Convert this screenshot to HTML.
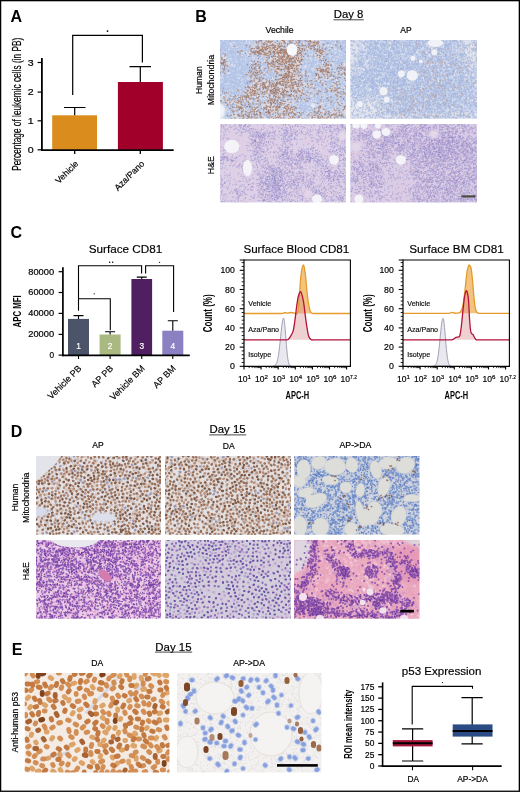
<!DOCTYPE html>
<html><head><meta charset="utf-8"><style>
html,body{margin:0;padding:0;background:#fff;}
svg{display:block;will-change:transform;}
text{font-family:"Liberation Sans", sans-serif;}
</style></head><body>
<svg width="520" height="792" viewBox="0 0 520 792">
<defs><filter id="bl1" x="-50%" y="-50%" width="200%" height="200%"><feGaussianBlur stdDeviation="1"/></filter><filter id="bl2" x="-50%" y="-50%" width="200%" height="200%"><feGaussianBlur stdDeviation="2"/></filter><filter id="bl4" x="-50%" y="-50%" width="200%" height="200%"><feGaussianBlur stdDeviation="4"/></filter><filter id="bl6" x="-50%" y="-50%" width="200%" height="200%"><feGaussianBlur stdDeviation="6"/></filter><filter id="bl0" x="-50%" y="-50%" width="200%" height="200%"><feGaussianBlur stdDeviation="0.4"/></filter><clipPath id="cB1"><rect x="220" y="40" width="126" height="78.7"/></clipPath><filter id="fbB1" x="215" y="35" width="136" height="88.7" filterUnits="userSpaceOnUse"><feGaussianBlur stdDeviation="0.45"/></filter><clipPath id="cB2"><rect x="350.3" y="40" width="126.7" height="78.7"/></clipPath><filter id="fbB2" x="345.3" y="35" width="136.7" height="88.7" filterUnits="userSpaceOnUse"><feGaussianBlur stdDeviation="0.45"/></filter><clipPath id="cB3"><rect x="220" y="124" width="126" height="78.5"/></clipPath><filter id="fbB3" x="215" y="119" width="136" height="88.5" filterUnits="userSpaceOnUse"><feGaussianBlur stdDeviation="0.45"/></filter><clipPath id="cB4"><rect x="350.3" y="124" width="126.7" height="78.5"/></clipPath><filter id="fbB4" x="345.3" y="119" width="136.7" height="88.5" filterUnits="userSpaceOnUse"><feGaussianBlur stdDeviation="0.45"/></filter><clipPath id="cD1"><rect x="36" y="456" width="125" height="78.7"/></clipPath><filter id="fbD1" x="31" y="451" width="135" height="88.7" filterUnits="userSpaceOnUse"><feGaussianBlur stdDeviation="0.55"/></filter><clipPath id="cD2"><rect x="165" y="456" width="126" height="78.7"/></clipPath><filter id="fbD2" x="160" y="451" width="136" height="88.7" filterUnits="userSpaceOnUse"><feGaussianBlur stdDeviation="0.55"/></filter><clipPath id="cD3"><rect x="294" y="456" width="125.6" height="78.7"/></clipPath><filter id="fbD3" x="289" y="451" width="135.6" height="88.7" filterUnits="userSpaceOnUse"><feGaussianBlur stdDeviation="0.45"/></filter><clipPath id="cD4"><rect x="36" y="540" width="125" height="78.7"/></clipPath><filter id="fbD4" x="31" y="535" width="135" height="88.7" filterUnits="userSpaceOnUse"><feGaussianBlur stdDeviation="0.45"/></filter><clipPath id="cD5"><rect x="165" y="540" width="126" height="78.7"/></clipPath><filter id="fbD5" x="160" y="535" width="136" height="88.7" filterUnits="userSpaceOnUse"><feGaussianBlur stdDeviation="0.5"/></filter><clipPath id="cD6"><rect x="294" y="540" width="125.6" height="78.7"/></clipPath><filter id="fbD6" x="289" y="535" width="135.6" height="88.7" filterUnits="userSpaceOnUse"><feGaussianBlur stdDeviation="0.5"/></filter><clipPath id="cE1"><rect x="24.7" y="673" width="144.8" height="99.5"/></clipPath><filter id="fbE1" x="19.7" y="668" width="154.8" height="109.5" filterUnits="userSpaceOnUse"><feGaussianBlur stdDeviation="0.5"/></filter><clipPath id="cE2"><rect x="177" y="673" width="144.5" height="99.5"/></clipPath><filter id="fbE2" x="172" y="668" width="154.5" height="109.5" filterUnits="userSpaceOnUse"><feGaussianBlur stdDeviation="0.45"/></filter></defs>
<rect x="0" y="0" width="520" height="792" fill="#fff"/>
<g clip-path="url(#cB1)"><g filter="url(#fbB1)"><rect x="217" y="37" width="132" height="84.7" fill="#CAD6EE"/><path transform="translate(220 40) scale(.5)" d="M14 5h0m11 1h0m0 0h0m2 0h0m1 0h0m1 0h0m10-4h0m2 4h0m3-2h0m1-2h0m7 5h0m1-6h0m0 2h0m1 3h0m3-4h0m7 0h0m5 1h0m6-1h0m2 5h0m9-7h0m13 0h0m33 4h0m30 0h0m34 0h0m3-1h0m4 0h0m3 1h0m6 3h0m1-4h0m8-1h0m2-1h0m6 5h0m1-6h0m2 4h0m0 3h0m8-7h0m1 4h0m8-2h0m-241 11h0m2-3h0m3 5h0m2-2h0m3-5h0m2 6h0m1-5h0m0 4h0m4-4h0m0 6h0m1-3h0m4 0h0m0 3h0m2-5h0m1 4h0m2 1h0m6-7h0m4 2h0m0 5h0m2-4h0m10-1h0m0 0h0m0 2h0m3 3h0m18-4h0m18 3h0m8-5h0m3 3h0m9-2h0m20 1h0m2 1h0m9 3h0m12-7h0m5 1h0m2-1h0m4 7h0m4 0h0m19-6h0m14 4h0m1 2h0m3-3h0m6-2h0m2 1h0m3-3h0m1 3h0m6-3h0m8 5h0m1-2h0m1 3h0m5-5h0m0 4h0m7-2h0m-248 12h0m1-6h0m3 0h0m2 1h0m6 3h0m3-1h0m0 2h0m4-4h0m5 4h0m2-3h0m5 2h0m4 2h0m5-1h0m2-5h0m3 1h0m0 1h0m8-3h0m4 6h0m4-3h0m8-1h0m46 2h0m43-2h0m0 5h0m2-7h0m17 3h0m28 4h0m11-5h0m5 3h0m0 0h0m6 0h0m2-1h0m4 0h0m4 3h0m8-4h0m-243 7h0m3-1h0m1 1h0m6 2h0m5 1h0m7 0h0m10-1h0m3-3h0m4-1h0m1 0h0m2 4h0m4 2h0m2 0h0m2 1h0m1-2h0m0 2h0m1-6h0m6 3h0m4 1h0m10 0h0m7-2h0m12 1h0m6 3h0m6-6h0m9 4h0m11-1h0m30 3h0m3-5h0m11 4h0m1 0h0m5-2h0m0 0h0m1 3h0m1-3h0m0 1h0m4 2h0m6-1h0m20-5h0m5 3h0m3 1h0m2-1h0m3-2h0m0 5h0m7-6h0m5-1h0m11 0h0m0 7h0m-236 3h0m0 3h0m10-2h0m1 0h0m0 1h0m2-3h0m7 2h0m5-3h0m11 5h0m1 0h0m1 1h0m2-1h0m2-5h0m5 3h0m1 3h0m1-3h0m6-1h0m4 2h0m30 2h0m16-6h0m5 2h0m2 1h0m30 3h0m7-2h0m1 0h0m9 0h0m2-4h0m5 5h0m2-3h0m2 3h0m2-2h0m3 3h0m3 1h0m4-1h0m7-1h0m4-3h0m12-1h0m2-1h0m3 1h0m5 6h0m5-4h0m2-1h0m4-1h0m7 2h0m1-3h0m0 6h0m1-5h0m4 0h0m0 2h0m-243 12h0m5-1h0m6 0h0m15-4h0m10 5h0m1-7h0m1 1h0m7 5h0m1-2h0m2-3h0m3 5h0m1-6h0m5 6h0m11-6h0m1 7h0m7-7h0m1 7h0m9-6h0m3 1h0m47 4h0m7-5h0m26 4h0m5-3h0m3-1h0m0 1h0m0 2h0m9-2h0m3-1h0m0 5h0m11-3h0m16 1h0m4 2h0m1-6h0m8 0h0m7 6h0m6-5h0m1 5h0m1-6h0m-248 15h0m14 0h0m7-6h0m0 3h0m3-2h0m4 0h0m0 1h0m0 1h0m5-4h0m6 7h0m4-7h0m2 7h0m2-2h0m5 2h0m9-5h0m12 1h0m3-2h0m5 0h0m2 6h0m9-3h0m69 3h0m7-2h0m8-3h0m8-2h0m1 7h0m18-7h0m3 6h0m19-4h0m1 1h0m6 2h0m16-4h0m-249 14h0m5-1h0m5-1h0m7 1h0m1-5h0m3 0h0m10 6h0m4-1h0m3-1h0m2-5h0m2 0h0m6 3h0m4-1h0m4-1h0m0 4h0m7 2h0m1 0h0m9-3h0m3 2h0m7-5h0m8 1h0m16 4h0m6-3h0m13 3h0m27-6h0m3 5h0m0 0h0m4-5h0m23 0h0m2 1h0m6 6h0m2-5h0m22 1h0m1 4h0m5-7h0m25 7h0m3-4h0m0 3h0m-246 9h0m0 0h0m4-3h0m1-2h0m3 0h0m3-1h0m1-1h0m0 2h0m3 1h0m1 0h0m3-3h0m12 5h0m1-5h0m7 7h0m8-4h0m8 4h0m25-6h0m2 4h0m2-1h0m2 0h0m3 0h0m1-3h0m1 5h0m9-6h0m0 1h0m8 0h0m32-1h0m5 1h0m3 1h0m1 2h0m15-2h0m0 2h0m7-2h0m6 2h0m22-2h0m9 5h0m20-4h0m3-3h0m6 7h0m2-6h0m4 6h0m-247 7h0m3-4h0m0 1h0m0 4h0m4-3h0m0 2h0m7-3h0m3-2h0m1 1h0m5 4h0m3-1h0m3-5h0m6 5h0m1-5h0m3 4h0m6 3h0m9-5h0m14 0h0m11 2h0m2-2h0m13 1h0m11 1h0m10 1h0m17 0h0m10-5h0m10 3h0m2-2h0m13-1h0m1 0h0m13 6h0m8-1h0m3-2h0m20 4h0m1-6h0m3 6h0m7-6h0m1 3h0m5-1h0m5 4h0m-234 7h0m0 0h0m1 1h0m3-5h0m0 1h0m1 2h0m11 1h0m1-2h0m1-2h0m3 3h0m11-5h0m10 0h0m3 6h0m1-4h0m1-1h0m0 2h0m23 3h0m1 1h0m19-2h0m14-3h0m5 3h0m47-5h0m12 6h0m4 0h0m3-5h0m0 2h0m4-2h0m2 2h0m13-3h0m0 2h0m3 0h0m2 3h0m1-4h0m5 3h0m3 0h0m9 0h0m11 2h0m4-5h0m8-1h0m4 1h0m7 2h0m-247 10h0m3 2h0m0 0h0m2-2h0m2 1h0m8 0h0m2-5h0m2 3h0m0 0h0m3-3h0m12 5h0m2-5h0m5-1h0m24 4h0m13-3h0m7 2h0m1 1h0m14 1h0m4-2h0m19-2h0m0 6h0m3-5h0m4 2h0m40-2h0m0 2h0m10-1h0m3 4h0m1-4h0m0 4h0m2-4h0m8-3h0m2 7h0m2-6h0m0 6h0m3-5h0m4-1h0m2 4h0m8-3h0m27 5h0m1-2h0m-237 9h0m13-5h0m3 3h0m4-2h0m7 2h0m14 0h0m1-2h0m1 3h0m6-1h0m6-3h0m2 2h0m3 2h0m3-2h0m9 2h0m5 2h0m3-5h0m3 3h0m1 2h0m13-5h0m31-2h0m19 4h0m4-2h0m4-1h0m1 1h0m7 1h0m9 4h0m2-6h0m0 6h0m10-1h0m1-2h0m2 0h0m4-2h0m8 5h0m26-5h0m13-2h0m0 2h0m2 2h0m0 3h0m-245 7h0m2 0h0m6 1h0m2-6h0m1 0h0m2 4h0m8 2h0m8 0h0m35-5h0m4-1h0m6 6h0m6-4h0m2 4h0m4-3h0m1 1h0m63-5h0m20 2h0m5-1h0m2 0h0m1 0h0m0 1h0m4-2h0m4 0h0m4 5h0m13-1h0m1 0h0m2 1h0m11-1h0m3-4h0m6 2h0m1 2h0m2-3h0m4 0h0m9 3h0m-245 11h0m10-7h0m0 7h0m12-4h0m3 2h0m16-3h0m5 1h0m4 3h0m12 1h0m6-4h0m2 4h0m2-5h0m1 2h0m9 1h0m5 2h0m3-4h0m3-3h0m4 5h0m4-3h0m29 5h0m12-2h0m4-3h0m7 5h0m14-2h0m7-2h0m6-3h0m4 4h0m6-2h0m8 2h0m14 3h0m5-7h0m1 0h0m1 3h0m3 3h0m11-4h0m0 5h0m4-2h0m11-1h0m-246 4h0m3 7h0m7-7h0m19 3h0m26-1h0m4 1h0m0 3h0m3 0h0m7-6h0m1 2h0m1-2h0m14 6h0m29 0h0m20-5h0m14-1h0m3 3h0m2-2h0m2 2h0m2 3h0m5-3h0m6 4h0m7-1h0m2-4h0m1 2h0m2-2h0m4-1h0m2 1h0m3-2h0m5 5h0m6 1h0m12-6h0m23 6h0m10-1h0m1 1h0m-238 6h0m4-2h0m28 4h0m9 1h0m22-5h0m9 0h0m14 0h0m13 2h0m24-4h0m10 3h0m5-2h0m16-1h0m7 0h0m3 4h0m2-4h0m0 2h0m8 4h0m7-5h0m13 6h0m1-3h0m3 3h0m1-3h0m7-1h0m2 3h0m6-6h0m3 1h0m0 2h0m2 0h0m6 1h0m4 1h0m2-3h0m9-1h0m-247 8h0m3 0h0m0 4h0m1-1h0m7 1h0m3 2h0m2-4h0m3-1h0m16 5h0m2-3h0m31 1h0m12-3h0m50-2h0m8 6h0m4 1h0m8-1h0m6-2h0m3 3h0m4-7h0m7 0h0m2 1h0m1 1h0m0 5h0m9-7h0m12 4h0m1 3h0m9-5h0m4 4h0m2-3h0m11-1h0m1-1h0m3 2h0m3 2h0m1 2h0m4-2h0m3-1h0m-230 6h0m5-2h0m0 6h0m9-1h0m1-4h0m19 5h0m9-2h0m15 0h0m2-4h0m22 6h0m2-1h0m10-5h0m14 7h0m1-1h0m11 0h0m4 0h0m2-2h0m4-3h0m1 3h0m7-4h0m7 2h0m1 4h0m13-4h0m1 3h0m2-1h0m5-4h0m1 6h0m3 0h0m28-1h0m6-2h0m6-2h0m4 4h0m22-5h0m2 2h0m-250 6h0m10 0h0m1 3h0m32 1h0m12-3h0m25 4h0m10 0h0m10-1h0m2-4h0m16 1h0m2 0h0m18 0h0m23 3h0m1-3h0m8-1h0m1 1h0m6-1h0m22 2h0m10-2h0m7 3h0m10 0h0m4-3h0m5 4h0m3-2h0" stroke="#E4EAF6" stroke-opacity="0.7" stroke-width="3.6" stroke-linecap="round" fill="none"/><path transform="translate(220 40) scale(.5)" d="M1 1h0m1 1h0m1 1h0m1 0h0m0 1h0m2-3h0m0 0h0m0 6h0m1-6h0m0 3h0m0 1h0m2-5h0m0 6h0m1-4h0m0 3h0m1 2h0m1 0h0m1-5h0m0 1h0m1-3h0m0 4h0m2 3h0m2-7h0m0 3h0m0 2h0m2-5h0m0 1h0m0 2h0m1-2h0m2 2h0m2 1h0m1-3h0m1 6h0m2-6h0m0 2h0m2 1h0m1 1h0m1-4h0m1 1h0m1-1h0m0 2h0m1-2h0m0 1h0m1-1h0m1 4h0m1-3h0m1 1h0m0 0h0m1 3h0m1-6h0m0 3h0m1-3h0m0 2h0m1 1h0m1 1h0m2-2h0m1 2h0m0 1h0m1-4h0m0 1h0m2 1h0m2 4h0m0 0h0m0 0h0m1-1h0m0 0h0m0 0h0m1-5h0m1 2h0m1-3h0m4 2h0m3 1h0m0 1h0m1-4h0m2 3h0m1-2h0m0 4h0m1 2h0m1-1h0m1-5h0m0 3h0m2-1h0m1-1h0m0 4h0m3-4h0m0 4h0m1-4h0m1 0h0m1-2h0m2 2h0m1-2h0m1 5h0m3-5h0m1 5h0m4-4h0m1-1h0m0 7h0m3-3h0m1 0h0m3-3h0m3 1h0m0 1h0m1 0h0m0 0h0m5 2h0m0 1h0m1-2h0m0 3h0m0 0h0m1-2h0m10-2h0m0 4h0m1-6h0m1 5h0m6-4h0m1 1h0m0 1h0m0 0h0m2 2h0m5-5h0m0 6h0m1-5h0m5 4h0m0 1h0m0 0h0m2-3h0m0 3h0m2-4h0m3-3h0m1 0h0m0 7h0m4-6h0m1-1h0m1 1h0m0 1h0m0 4h0m1-1h0m3-4h0m0 0h0m0 2h0m0 1h0m0 1h0m0 2h0m1-6h0m0 4h0m1-1h0m1-1h0m0 1h0m1-3h0m2-1h0m2 1h0m0 3h0m2 3h0m1-5h0m0 1h0m4 1h0m0 3h0m1 0h0m7-3h0m1 0h0m1 1h0m9-2h0m2 2h0m1-1h0m0 3h0m1-3h0m2-3h0m1 0h0m2 0h0m1 5h0m0 1h0m2-5h0m2 5h0m1-6h0m1 4h0m1-5h0m0 0h0m1 2h0m0 0h0m0 1h0m0 3h0m1-2h0m1 1h0m0 2h0m3-6h0m0 0h0m1 4h0m0 2h0m1 0h0m0 0h0m1-3h0m0 1h0m1 2h0m1-5h0m0 3h0m0 1h0m1-6h0m0 5h0m2-2h0m0 1h0m1-1h0m0 0h0m1 4h0m1-3h0m1-4h0m3 1h0m0 0h0m1 6h0m1-6h0m1 1h0m1 4h0m2-6h0m0 2h0m0 0h0m0 3h0m1-3h0m0 4h0m1-1h0m0 1h0m1-5h0m2 4h0m0 2h0m0 0h0m1-5h0m0 0h0m0 2h0m0 2h0m0 1h0m0 0h0m3-5h0m0 2h0m0 2h0m0 1h0m1-6h0m1 3h0m1-3h0m1 4h0m0 2h0m0 0h0m-250 4h0m0 4h0m1-7h0m0 1h0m0 1h0m0 3h0m1-4h0m0 4h0m0 1h0m2-4h0m0 3h0m0 1h0m2-6h0m1 4h0m1-4h0m0 0h0m0 1h0m0 4h0m0 1h0m1-6h0m0 1h0m1 3h0m1-4h0m0 3h0m1 1h0m0 1h0m0 2h0m1 0h0m0 0h0m1 0h0m1-5h0m0 0h0m0 1h0m0 1h0m0 2h0m2-4h0m1 2h0m0 1h0m1 2h0m4-7h0m0 5h0m1-5h0m2 3h0m0 3h0m2-4h0m0 3h0m1-5h0m0 0h0m0 6h0m1-6h0m0 5h0m2-1h0m1-4h0m0 0h0m0 2h0m1 0h0m1 1h0m1-3h0m1 7h0m1-6h0m1 2h0m1-2h0m2-1h0m0 1h0m0 6h0m0 0h0m1-2h0m0 2h0m1-6h0m0 1h0m0 3h0m1-4h0m2 0h0m1 3h0m1-3h0m1 2h0m0 2h0m0 1h0m1-4h0m1-1h0m0 2h0m0 3h0m1-5h0m0 6h0m2-5h0m1 1h0m0 3h0m1-6h0m0 6h0m1-3h0m1 3h0m1-5h0m0 3h0m1-4h0m0 3h0m1 2h0m0 1h0m2-4h0m1-1h0m0 4h0m3 1h0m1-1h0m2 0h0m0 1h0m1-4h0m1 4h0m1-4h0m2-1h0m0 1h0m0 1h0m1 4h0m2-7h0m0 3h0m2 3h0m5-5h0m3 5h0m2-5h0m1 4h0m7 0h0m0 0h0m1-4h0m0 2h0m0 4h0m1-3h0m1-2h0m1 2h0m0 3h0m1-6h0m1 2h0m2-2h0m2 1h0m0 4h0m1-4h0m1-1h0m0 5h0m2 0h0m5-2h0m1-3h0m1-1h0m1 3h0m5 3h0m1-3h0m1 1h0m1-4h0m1 5h0m3-5h0m0 2h0m2 2h0m4-4h0m0 3h0m1 0h0m1 4h0m1-7h0m0 5h0m0 2h0m3-5h0m2 3h0m0 1h0m0 1h0m4 0h0m3-1h0m1-5h0m0 6h0m1-1h0m1-2h0m1 0h0m1-1h0m1 1h0m0 0h0m2 0h0m0 1h0m1-2h0m2 1h0m0 3h0m3-5h0m0 3h0m0 1h0m2-6h0m0 1h0m1 2h0m2 0h0m1-1h0m0 3h0m0 1h0m0 1h0m1-4h0m2 2h0m1 1h0m5 0h0m2-5h0m2 5h0m0 1h0m3-3h0m2-2h0m1-2h0m0 3h0m1-1h0m3-1h0m0 0h0m1 5h0m5-6h0m1 0h0m2 1h0m1-1h0m0 3h0m3-3h0m0 1h0m1 5h0m2-6h0m3 7h0m1-7h0m1 2h0m0 4h0m2-6h0m3 0h0m0 6h0m1-4h0m0 5h0m2-6h0m3 0h0m0 2h0m0 0h0m1-2h0m0 3h0m1-3h0m0 4h0m2-2h0m0 3h0m0 1h0m0 0h0m2-5h0m0 1h0m0 1h0m0 1h0m1-1h0m1 1h0m0 2h0m2-6h0m0 1h0m1 2h0m0 1h0m2-2h0m1-3h0m0 1h0m0 4h0m0 1h0m1 0h0m3-1h0m2 1h0m1-4h0m0 2h0m-252 8h0m0 1h0m0 1h0m0 0h0m1-4h0m0 2h0m0 1h0m0 1h0m2-5h0m0 0h0m0 2h0m0 2h0m1-4h0m0 1h0m1 5h0m0 0h0m1-7h0m0 1h0m0 2h0m1-2h0m0 1h0m1-2h0m0 1h0m0 0h0m1-1h0m0 0h0m0 1h0m0 3h0m0 2h0m1-5h0m0 2h0m0 0h0m1-2h0m0 0h0m0 3h0m1 1h0m1-3h0m0 0h0m0 2h0m1-4h0m0 0h0m1 1h0m0 4h0m1 0h0m1 2h0m1-1h0m1 1h0m1-6h0m0 4h0m1-3h0m0 4h0m2-5h0m0 1h0m0 3h0m1 0h0m2-4h0m0 2h0m1 0h0m0 1h0m0 3h0m1 0h0m1-6h0m1 5h0m1-3h0m1 4h0m1-6h0m1 0h0m1 4h0m0 1h0m1-6h0m0 4h0m1 3h0m0 0h0m1-7h0m0 5h0m0 1h0m3-6h0m0 5h0m2 1h0m1-4h0m0 4h0m0 1h0m1-6h0m1 2h0m0 4h0m3-6h0m0 4h0m0 0h0m1-5h0m0 3h0m0 3h0m1-5h0m0 0h0m0 4h0m1-1h0m1-4h0m2 7h0m1-3h0m1-2h0m0 1h0m0 4h0m2-6h0m0 3h0m0 2h0m2 0h0m1-3h0m0 4h0m2-5h0m0 5h0m1-6h0m1 1h0m0 0h0m4-2h0m0 7h0m1-7h0m3 0h0m0 3h0m1-2h0m1 1h0m0 2h0m2-3h0m0 4h0m1-1h0m4-4h0m0 1h0m2 5h0m5-6h0m0 1h0m1 4h0m2-1h0m0 3h0m2-5h0m2-2h0m1 2h0m1 0h0m0 2h0m3 3h0m1-1h0m1-3h0m2 2h0m3-2h0m1-3h0m2 4h0m2 0h0m8-3h0m3-1h0m0 7h0m10-1h0m6-1h0m2-2h0m1 2h0m1-1h0m0 3h0m1-3h0m2 3h0m6-2h0m3 0h0m2-4h0m2 3h0m2 3h0m1-6h0m0 5h0m2-3h0m1-3h0m1 0h0m0 6h0m1-1h0m1-1h0m1-3h0m0 2h0m1-1h0m0 2h0m2 0h0m5-4h0m1 4h0m4-4h0m0 2h0m0 3h0m0 1h0m2-6h0m2 5h0m0 2h0m2-1h0m2 1h0m1-2h0m2-1h0m1-1h0m1-1h0m2 0h0m0 3h0m4-3h0m1-1h0m0 2h0m1 1h0m1 0h0m2-4h0m1 3h0m1-1h0m0 4h0m1-3h0m1 0h0m2 3h0m1-5h0m2 5h0m3 1h0m2-3h0m1 3h0m1-6h0m1 2h0m1-2h0m0 1h0m2 4h0m3 0h0m0 0h0m1-6h0m1 5h0m1-4h0m0 3h0m1-4h0m0 2h0m0 5h0m1-6h0m1-1h0m0 0h0m1 3h0m3-3h0m1 2h0m1 4h0m1-5h0m0 1h0m1 0h0m0 3h0m2-5h0m0 1h0m0 4h0m1-2h0m0 3h0m1-2h0m1-4h0m2 6h0m-251 5h0m1 3h0m1-5h0m0 1h0m1 5h0m1-7h0m0 1h0m0 1h0m0 2h0m1 1h0m1-3h0m0 0h0m0 1h0m1-3h0m0 4h0m3 1h0m1 0h0m1 1h0m1 0h0m1-4h0m0 2h0m0 2h0m0 0h0m1-6h0m0 5h0m2-1h0m0 0h0m1 1h0m1-5h0m0 3h0m0 0h0m1-2h0m1 0h0m0 0h0m0 2h0m1-3h0m0 6h0m1-4h0m0 1h0m0 1h0m1-4h0m0 1h0m1 0h0m0 6h0m1-6h0m0 2h0m0 0h0m0 1h0m2-1h0m0 0h0m1 0h0m1 3h0m1-5h0m1-1h0m2 0h0m0 1h0m1 6h0m1-2h0m0 1h0m1-5h0m1-1h0m0 4h0m0 1h0m1 2h0m1-5h0m0 3h0m0 1h0m1-1h0m1 0h0m2-5h0m0 5h0m2 0h0m2-4h0m0 0h0m0 5h0m1 0h0m1-3h0m0 3h0m1 0h0m1-2h0m0 2h0m1 1h0m3-5h0m1-1h0m1 4h0m1-4h0m0 4h0m1-3h0m1 3h0m0 1h0m1-2h0m0 0h0m1-3h0m0 5h0m1-6h0m1 4h0m1 0h0m0 1h0m0 1h0m1-4h0m0 4h0m1-4h0m0 3h0m2 0h0m1-2h0m1 3h0m0 0h0m0 1h0m1-3h0m1 0h0m1 1h0m3-4h0m1 6h0m1-2h0m1-3h0m0 3h0m4-5h0m0 6h0m5-6h0m0 6h0m6-4h0m0 1h0m3-2h0m2 2h0m0 3h0m0 1h0m2-5h0m0 4h0m0 0h0m2-6h0m2 3h0m0 1h0m1-3h0m1 4h0m3-3h0m2-2h0m2 4h0m3 2h0m0 1h0m5-1h0m4-5h0m1 6h0m1-7h0m0 4h0m2-3h0m5 5h0m1-5h0m1 6h0m2-4h0m1 4h0m1-4h0m0 0h0m3 4h0m1-1h0m3-3h0m1-3h0m1 0h0m1 1h0m1 2h0m0 1h0m0 0h0m1 1h0m1-2h0m1 4h0m1-3h0m1 0h0m1-1h0m3 4h0m1-5h0m0 2h0m1 0h0m1-4h0m1 4h0m1 0h0m3-2h0m2 2h0m0 3h0m2-5h0m0 3h0m0 1h0m0 1h0m1-2h0m2-3h0m1 5h0m1-1h0m1-5h0m0 0h0m3 6h0m1 0h0m2-6h0m0 0h0m0 1h0m0 3h0m0 0h0m6-4h0m0 5h0m0 1h0m1-6h0m0 2h0m0 2h0m1 1h0m2 1h0m2-7h0m2 7h0m1-5h0m0 1h0m1-2h0m4 1h0m0 0h0m2 0h0m0 1h0m1-2h0m0 5h0m1-6h0m0 2h0m0 0h0m0 5h0m1-2h0m2 0h0m0 1h0m0 0h0m3-3h0m0 1h0m0 1h0m0 2h0m0 0h0m2-5h0m0 0h0m1 0h0m3 1h0m0 1h0m1-2h0m1 0h0m0 4h0m1 0h0m1-4h0m1 5h0m2 0h0m1-1h0m0 1h0m0 0h0m1-3h0m0 1h0m0 2h0m2-7h0m0 5h0m1-3h0m0 5h0m1-6h0m0 0h0m1-1h0m3 2h0m1 3h0m4-5h0m0 4h0m0 2h0m0 1h0m1 0h0m0 0h0m1-6h0m0 6h0m1 0h0m1-7h0m0 0h0m0 7h0m2-2h0m-251 4h0m2-1h0m0 1h0m0 2h0m1-2h0m1-1h0m0 5h0m1 1h0m4-6h0m0 7h0m1-7h0m2 6h0m2-6h0m1 4h0m0 0h0m2-3h0m1 2h0m3-2h0m0 2h0m1-3h0m1 2h0m1-1h0m0 3h0m2 0h0m1-3h0m0 5h0m0 1h0m1-4h0m1-1h0m2 5h0m0 0h0m1-4h0m1-3h0m1 2h0m0 0h0m0 1h0m0 4h0m0 0h0m1-6h0m0 4h0m1-4h0m0 1h0m1 1h0m0 3h0m1 1h0m1-5h0m1 1h0m2-2h0m0 3h0m1-2h0m0 2h0m1 0h0m1-4h0m0 6h0m1-4h0m1 1h0m1-1h0m0 1h0m1 0h0m0 1h0m3-3h0m0 5h0m3-3h0m0 3h0m1-5h0m0 5h0m1-4h0m0 3h0m2-5h0m1 1h0m0 0h0m1 0h0m0 3h0m0 2h0m0 1h0m1-6h0m3 5h0m1-6h0m0 0h0m0 6h0m4-2h0m1-1h0m2-3h0m0 7h0m1-7h0m2 5h0m4 2h0m1-7h0m1 6h0m1-4h0m0 3h0m0 1h0m2-4h0m0 5h0m1-3h0m0 0h0m1-3h0m1 0h0m0 3h0m2 2h0m0 1h0m1-7h0m3 1h0m0 3h0m0 2h0m1-5h0m0 4h0m1-4h0m1 4h0m2-5h0m3 0h0m1 0h0m0 0h0m0 2h0m0 0h0m2-2h0m3 2h0m5-1h0m4 0h0m4 3h0m1-2h0m0 0h0m0 1h0m1-2h0m0 5h0m2-1h0m4 0h0m2-4h0m0 2h0m1-2h0m6 1h0m0 5h0m2-6h0m8 3h0m5-4h0m0 6h0m1-2h0m1-1h0m1-1h0m1 3h0m1-5h0m2 3h0m0 1h0m2 1h0m1-1h0m2-2h0m1 5h0m2-7h0m0 4h0m0 2h0m3-1h0m1 2h0m2-7h0m0 2h0m1-1h0m0 4h0m0 2h0m1-7h0m0 1h0m0 5h0m0 0h0m1-5h0m1 0h0m0 5h0m2 0h0m1-5h0m0 0h0m0 1h0m0 0h0m0 1h0m3-1h0m0 2h0m1-1h0m0 3h0m2-5h0m2 4h0m2-2h0m0 3h0m2-3h0m0 1h0m0 3h0m4-3h0m1-3h0m0 1h0m1 4h0m1-4h0m1 0h0m0 0h0m0 2h0m0 0h0m0 0h0m0 2h0m0 1h0m5-6h0m1 3h0m0 2h0m1-1h0m0 1h0m2-5h0m0 1h0m0 3h0m0 1h0m1-1h0m0 1h0m1-5h0m0 2h0m2 0h0m1-2h0m0 4h0m1 1h0m1-3h0m0 4h0m4-7h0m1 4h0m0 0h0m1 2h0m1-2h0m1-3h0m0 0h0m0 2h0m0 2h0m3-2h0m2 3h0m1-6h0m0 2h0m0 3h0m2-4h0m0 1h0m1-2h0m1 5h0m1 1h0m2-5h0m0 5h0m0 1h0m1 0h0m1 0h0m1-6h0m1 1h0m0 1h0m1 2h0m1-5h0m0 4h0m0 0h0m1 3h0m1-6h0m0 2h0m1-2h0m0 1h0m0 5h0m1-4h0m1-1h0m0 1h0m0 2h0m0 1h0m1-3h0m0 3h0m0 1h0m-251 1h0m0 3h0m1-1h0m0 3h0m0 1h0m1 1h0m2-1h0m1-1h0m1 0h0m1-5h0m1 2h0m1-2h0m0 4h0m0 2h0m1 1h0m1-2h0m2 1h0m1 0h0m1-3h0m0 2h0m4-5h0m2 3h0m0 3h0m0 1h0m1-1h0m1 0h0m1-5h0m0 0h0m1 1h0m2-1h0m2 4h0m0 2h0m1-7h0m0 7h0m2-4h0m1 4h0m3-4h0m0 1h0m0 3h0m1-5h0m1 5h0m1-6h0m0 6h0m1-6h0m0 1h0m0 1h0m1 2h0m2-4h0m1 4h0m0 2h0m1-7h0m0 2h0m0 2h0m0 0h0m0 1h0m0 2h0m1-4h0m1-2h0m1 1h0m1-2h0m0 6h0m0 1h0m3-4h0m0 1h0m0 0h0m0 1h0m1-1h0m0 3h0m0 0h0m2-6h0m1 3h0m0 0h0m0 3h0m1-6h0m0 5h0m0 1h0m1-3h0m0 0h0m1-3h0m1 6h0m1-5h0m0 4h0m1-5h0m1 1h0m1-2h0m0 2h0m0 1h0m1 0h0m2-1h0m0 4h0m1-2h0m0 2h0m2-6h0m2 5h0m0 2h0m3-7h0m0 2h0m0 1h0m0 3h0m1-4h0m1 4h0m1-1h0m1-2h0m0 1h0m2 1h0m1-5h0m0 7h0m2 0h0m1 0h0m1-7h0m1 4h0m0 1h0m0 0h0m0 0h0m0 1h0m1 0h0m0 1h0m2 0h0m1-6h0m0 3h0m1-4h0m0 1h0m0 3h0m0 0h0m3 0h0m2 0h0m2 3h0m1-7h0m0 4h0m4-3h0m0 2h0m1-3h0m0 1h0m2 2h0m0 4h0m1 0h0m2-5h0m2 4h0m2-6h0m0 3h0m2 2h0m2 2h0m2-7h0m0 2h0m1 5h0m1-5h0m1 0h0m1-2h0m2 3h0m3 2h0m1-3h0m0 5h0m1-3h0m2-2h0m4-1h0m8 0h0m0 3h0m0 2h0m1-6h0m3 5h0m3-4h0m4 0h0m0 2h0m6 0h0m2 0h0m0 1h0m0 0h0m2-4h0m0 3h0m1-3h0m1 0h0m1 4h0m0 3h0m2-3h0m0 3h0m1-5h0m0 2h0m1-4h0m1 0h0m1 4h0m0 3h0m1-1h0m1-5h0m0 6h0m1-1h0m2-5h0m0 2h0m0 2h0m0 2h0m1-4h0m0 2h0m1-1h0m0 1h0m1 0h0m0 0h0m1-5h0m0 0h0m0 5h0m0 2h0m1-7h0m0 3h0m0 3h0m1-6h0m1 0h0m0 6h0m0 0h0m1-4h0m0 1h0m0 3h0m3-3h0m0 3h0m1-4h0m0 3h0m0 1h0m1-2h0m2-1h0m0 0h0m2-2h0m1 4h0m0 2h0m2-4h0m1 3h0m2-4h0m0 3h0m2-4h0m1 1h0m2 0h0m1 1h0m0 2h0m2-3h0m1 3h0m0 2h0m1-2h0m3-1h0m1 2h0m1 1h0m1-7h0m0 3h0m1-2h0m0 5h0m2-4h0m1-2h0m2 3h0m0 0h0m2 0h0m0 0h0m0 0h0m1 0h0m0 1h0m1-2h0m0 5h0m1-5h0m2 0h0m0 3h0m1 2h0m2-4h0m1-2h0m0 0h0m0 2h0m0 1h0m0 2h0m1-3h0m0 1h0m0 3h0m1-7h0m1 6h0m1-4h0m0 0h0m0 4h0m0 1h0m1-3h0m1 2h0m2-6h0m0 5h0m1 1h0m1-4h0m1 2h0m0 0h0m2-4h0m2 0h0m0 4h0m0 0h0m0 1h0m1 2h0m-252 2h0m0 5h0m1-1h0m0 2h0m0 0h0m2-6h0m1 2h0m2-1h0m1-1h0m0 3h0m2 0h0m0 2h0m2-3h0m0 2h0m1-4h0m1 0h0m0 0h0m1-1h0m2 6h0m3-4h0m1 5h0m1-7h0m0 0h0m1 4h0m1 3h0m2 0h0m2-7h0m0 1h0m4 3h0m0 3h0m2-6h0m0 0h0m0 1h0m0 2h0m1-3h0m0 4h0m2-5h0m0 5h0m1 2h0m1-7h0m0 3h0m0 0h0m1-3h0m0 2h0m0 1h0m2-3h0m0 1h0m0 1h0m2-1h0m0 4h0m0 1h0m0 0h0m1-6h0m0 1h0m1-1h0m0 5h0m0 1h0m0 1h0m1-3h0m0 2h0m1-3h0m0 2h0m0 0h0m1-1h0m1 1h0m0 2h0m2-4h0m1-1h0m0 5h0m2-3h0m0 0h0m0 0h0m1-3h0m0 1h0m0 4h0m1-4h0m0 2h0m0 3h0m3-2h0m1-1h0m1-2h0m1 1h0m1 1h0m0 1h0m1-4h0m2-1h0m1 5h0m0 1h0m3-5h0m3 3h0m2-2h0m0 2h0m3-2h0m0 3h0m2-5h0m0 7h0m1-7h0m0 0h0m0 5h0m4-3h0m2-2h0m0 1h0m2 1h0m3 5h0m1-4h0m1-1h0m0 3h0m5-1h0m0 1h0m2 2h0m3-6h0m0 2h0m0 1h0m0 1h0m1 1h0m3-2h0m1 0h0m1 0h0m2 3h0m5-2h0m1-1h0m1-2h0m1-2h0m0 1h0m0 2h0m2-1h0m1 4h0m0 1h0m5-1h0m2-1h0m0 0h0m2 1h0m1-1h0m2-2h0m1-2h0m0 2h0m0 4h0m2 0h0m2-6h0m0 2h0m1 2h0m1 0h0m0 0h0m2 0h0m0 2h0m11-3h0m1-1h0m0 1h0m0 0h0m2 0h0m0 1h0m0 2h0m2-7h0m4 1h0m0 3h0m0 3h0m2-6h0m3 0h0m7 0h0m0 2h0m1 0h0m3-3h0m0 0h0m0 5h0m1 0h0m2-3h0m0 1h0m0 3h0m1-2h0m1-4h0m1 1h0m0 5h0m0 1h0m1-7h0m0 4h0m4 1h0m3-2h0m0 1h0m3 1h0m2-4h0m2 5h0m1-6h0m0 6h0m2-5h0m1 1h0m0 4h0m1-4h0m0 3h0m1 1h0m2-5h0m1 5h0m2 0h0m3-5h0m0 1h0m0 5h0m2-7h0m0 0h0m0 2h0m0 2h0m1-1h0m1 1h0m2-1h0m0 1h0m1 3h0m0 0h0m1-1h0m1-2h0m2 0h0m3-4h0m2 3h0m1 2h0m3-5h0m0 4h0m0 2h0m1-6h0m0 7h0m2-7h0m0 1h0m0 3h0m1-3h0m1 1h0m5 1h0m0 2h0m1-4h0m0 4h0m0 2h0m6-3h0m-251 4h0m0 2h0m3 4h0m4-3h0m0 2h0m0 2h0m1-6h0m0 3h0m2-2h0m0 4h0m1-6h0m0 3h0m0 0h0m1 0h0m2-1h0m0 1h0m1 2h0m1-3h0m0 5h0m2-7h0m0 0h0m0 3h0m0 2h0m0 2h0m1-6h0m1-1h0m0 0h0m2 1h0m0 2h0m0 2h0m1-4h0m1 0h0m0 2h0m0 0h0m1-1h0m2 1h0m1-2h0m0 0h0m0 2h0m1 0h0m0 1h0m1 3h0m1-5h0m0 1h0m1-1h0m0 4h0m2 1h0m2-7h0m0 4h0m0 2h0m2 0h0m0 0h0m1-1h0m0 0h0m1-4h0m0 5h0m1-5h0m1 4h0m1-5h0m0 3h0m0 2h0m1-1h0m1-4h0m1 1h0m0 2h0m1 0h0m0 1h0m1 2h0m1-4h0m1 0h0m0 1h0m0 2h0m3-5h0m0 2h0m0 0h0m0 1h0m0 0h0m0 0h0m1 4h0m1-7h0m1 2h0m0 1h0m0 0h0m1 2h0m1 0h0m1-2h0m1 3h0m0 0h0m1 0h0m0 0h0m1-4h0m0 2h0m1-4h0m2 1h0m0 1h0m0 3h0m2 1h0m1-5h0m1 3h0m0 3h0m1-2h0m0 0h0m1 2h0m1-6h0m2 2h0m3-2h0m2 0h0m1 0h0m0 2h0m1 4h0m1-3h0m1 1h0m0 1h0m2-6h0m1 0h0m2 5h0m1-4h0m0 3h0m1-4h0m0 2h0m1-1h0m1 0h0m2 3h0m1 3h0m6-1h0m2-1h0m0 1h0m3-5h0m0 0h0m0 3h0m1 0h0m4-4h0m0 5h0m1-1h0m0 1h0m0 1h0m1-5h0m0 6h0m2-5h0m0 1h0m1-2h0m0 2h0m1 0h0m1-3h0m0 3h0m0 0h0m3-1h0m0 3h0m0 0h0m1-5h0m1 0h0m4 3h0m2-3h0m0 7h0m1-6h0m1 0h0m3 1h0m2 2h0m0 3h0m3 0h0m3-2h0m1 0h0m2-2h0m1 4h0m1-7h0m3 5h0m6-5h0m0 4h0m2-3h0m0 6h0m1-6h0m0 5h0m1-5h0m0 6h0m1-4h0m0 2h0m1-4h0m1 1h0m0 3h0m4-2h0m2 1h0m2 2h0m0 1h0m1-3h0m1-2h0m0 1h0m1-3h0m2 6h0m1-1h0m1-3h0m0 3h0m0 2h0m1-6h0m0 2h0m0 3h0m1-1h0m2 2h0m1-7h0m4 1h0m1 6h0m2-3h0m1 0h0m1 3h0m1-5h0m2 4h0m4 1h0m1-5h0m2 0h0m3 5h0m1-3h0m0 2h0m2-3h0m1 1h0m1 0h0m3-3h0m2 0h0m1 5h0m2-3h0m3 3h0m0 0h0m1-5h0m0 1h0m0 0h0m0 1h0m1-1h0m0 3h0m0 1h0m4-5h0m1 1h0m5 3h0m1-4h0m2 3h0m1-2h0m2-2h0m1 7h0m1-5h0m0 4h0m4-5h0m0 0h0m0 0h0m0 1h0m0 2h0m2-2h0m0 1h0m0 1h0m1 1h0m0 2h0m2-3h0m-250 4h0m0 2h0m1 2h0m0 1h0m0 2h0m3-7h0m2 7h0m1-5h0m1-2h0m0 1h0m0 1h0m1-1h0m0 3h0m1-3h0m0 5h0m1-1h0m0 2h0m1-3h0m0 3h0m1-7h0m1 0h0m2 6h0m0 1h0m1-1h0m2-1h0m0 2h0m1-1h0m0 1h0m1-7h0m0 2h0m1 2h0m1-4h0m0 6h0m1-5h0m1 4h0m0 0h0m2-5h0m0 2h0m0 4h0m1-6h0m1 3h0m0 2h0m2-3h0m1-1h0m1 3h0m2-2h0m0 1h0m2-3h0m0 6h0m1-6h0m1 1h0m1 3h0m1-4h0m0 2h0m2 3h0m1-4h0m0 5h0m1-3h0m1-2h0m0 1h0m0 5h0m1-1h0m0 0h0m1 1h0m0 0h0m3-6h0m1 1h0m0 5h0m4-6h0m1-1h0m0 4h0m1-1h0m0 2h0m0 2h0m2-7h0m0 2h0m2 5h0m1-3h0m2 1h0m2 1h0m2-4h0m0 5h0m0 0h0m2-1h0m1-4h0m1 1h0m2 0h0m2-1h0m2 2h0m0 3h0m1-6h0m4-1h0m1 1h0m1 6h0m0 0h0m1-7h0m1 1h0m0 3h0m1-1h0m0 1h0m0 1h0m1-3h0m1-1h0m0 4h0m1-5h0m0 7h0m1-6h0m0 3h0m0 2h0m1 0h0m1-3h0m0 2h0m0 2h0m1-4h0m2 0h0m0 3h0m2-2h0m1-4h0m0 3h0m0 3h0m0 0h0m0 1h0m1-1h0m2-5h0m1 2h0m0 1h0m0 2h0m2-2h0m1-2h0m0 2h0m1-3h0m1 6h0m3-5h0m2 4h0m1 0h0m1 0h0m2-6h0m0 5h0m3-2h0m1-3h0m0 7h0m4-7h0m0 1h0m1 3h0m2-2h0m0 3h0m1-5h0m1 2h0m2 5h0m4-6h0m0 4h0m0 1h0m1 0h0m2 1h0m2-1h0m1-4h0m1 0h0m1 3h0m1-4h0m1 3h0m1 2h0m1 1h0m1-1h0m1-3h0m5 0h0m2 4h0m1-1h0m2-3h0m5 3h0m1-6h0m1 4h0m0 3h0m1-1h0m1-3h0m0 0h0m1 0h0m1 4h0m1-6h0m2-1h0m2 0h0m1 0h0m1 0h0m0 6h0m1-5h0m0 1h0m1-1h0m1 3h0m1-1h0m0 4h0m0 0h0m2-6h0m0 1h0m0 4h0m0 1h0m1-7h0m0 3h0m1 4h0m1-7h0m2 3h0m4-1h0m1-2h0m0 1h0m0 6h0m0 0h0m3 0h0m2-3h0m2 1h0m0 2h0m1-5h0m3-1h0m1 5h0m0 1h0m1-4h0m0 1h0m1-1h0m1-3h0m0 0h0m0 5h0m3 1h0m1 1h0m1-7h0m0 5h0m1 2h0m3-2h0m2-4h0m0 1h0m1 4h0m0 1h0m2-7h0m2 1h0m0 4h0m0 2h0m2-7h0m0 7h0m2-4h0m1-2h0m0 4h0m1-3h0m1 2h0m0 1h0m0 2h0m1-4h0m1-3h0m0 0h0m0 3h0m1-2h0m0 1h0m1-1h0m3 1h0m0 3h0m1-5h0m0 4h0m0 1h0m0 2h0m2-6h0m3 0h0m0 2h0m0 1h0m1-4h0m0 3h0m0 2h0m1 1h0m-248 3h0m0 1h0m2 5h0m0 0h0m0 0h0m1-1h0m2-6h0m0 2h0m1 0h0m0 5h0m1-7h0m0 0h0m0 4h0m1-4h0m0 7h0m1-7h0m0 2h0m1-1h0m0 4h0m1-1h0m1 0h0m0 1h0m0 1h0m1-1h0m1-5h0m0 4h0m0 2h0m0 0h0m1-1h0m0 1h0m1-3h0m1-3h0m0 2h0m0 2h0m2-1h0m1 3h0m0 0h0m1-3h0m1 3h0m0 1h0m1-5h0m1 1h0m0 1h0m1-4h0m0 2h0m0 1h0m0 1h0m0 1h0m0 0h0m1 1h0m0 1h0m1-7h0m0 3h0m1 2h0m0 1h0m0 1h0m1-7h0m0 4h0m0 1h0m0 2h0m0 0h0m1-2h0m1-3h0m1-2h0m0 0h0m0 7h0m1-7h0m0 6h0m1-6h0m1 7h0m1-5h0m1 0h0m2 5h0m1-4h0m0 1h0m0 3h0m1-5h0m0 1h0m1-3h0m0 2h0m1 1h0m2-2h0m0 1h0m0 4h0m1-6h0m0 1h0m1 3h0m2-3h0m0 6h0m2-5h0m0 1h0m2-3h0m3 0h0m0 5h0m1 1h0m0 1h0m3-6h0m1 3h0m1-3h0m2-1h0m0 3h0m2 1h0m1 0h0m3 1h0m1-1h0m0 0h0m1 3h0m2-6h0m0 3h0m0 3h0m2-5h0m0 2h0m1-2h0m1 2h0m1-1h0m2-3h0m1 2h0m0 5h0m1-1h0m1-4h0m2 3h0m2-5h0m0 7h0m2-1h0m1-5h0m1 0h0m0 1h0m0 3h0m0 2h0m2-5h0m0 2h0m1-1h0m1 0h0m1 4h0m2-6h0m0 4h0m2-5h0m4 0h0m0 3h0m0 1h0m0 0h0m1-1h0m2 0h0m1-3h0m1 4h0m0 3h0m2-2h0m2-3h0m0 5h0m1-7h0m0 7h0m2-4h0m0 1h0m0 1h0m0 0h0m1 2h0m3-7h0m1 7h0m4-7h0m1 2h0m1 5h0m1-2h0m1-4h0m6 1h0m6 4h0m1-5h0m1 0h0m3 4h0m1 1h0m1-3h0m1 0h0m0 2h0m2-5h0m5 0h0m2 3h0m3-2h0m1 2h0m0 3h0m2-6h0m2 7h0m1-2h0m1-3h0m0 1h0m0 1h0m0 0h0m1-3h0m0 3h0m2-4h0m1 3h0m2-2h0m3 3h0m1 2h0m0 1h0m2-6h0m1 0h0m0 4h0m2 2h0m2-4h0m1 3h0m2-1h0m0 0h0m2-5h0m1 0h0m4 2h0m1 4h0m1-1h0m3-1h0m1-1h0m0 0h0m1-2h0m0 2h0m2-1h0m0 0h0m2-1h0m1 4h0m1-3h0m3 1h0m0 2h0m1 0h0m1-4h0m0 1h0m0 3h0m2-4h0m0 3h0m1-4h0m0 2h0m3 5h0m1 0h0m2-7h0m1 0h0m2 4h0m2-3h0m0 1h0m0 4h0m1-5h0m2 1h0m1 1h0m2 3h0m1-6h0m0 1h0m0 5h0m1-4h0m0 5h0m1-4h0m1 4h0m2-3h0m0 3h0m4-5h0m0 1h0m0 2h0m1-3h0m0 1h0m2 2h0m0 1h0m1-2h0m1 1h0m-250 3h0m1 0h0m0 0h0m1 6h0m1-5h0m0 3h0m0 1h0m0 2h0m0 0h0m3-7h0m0 5h0m1-4h0m0 4h0m0 2h0m1-6h0m0 1h0m1 1h0m1 1h0m1-2h0m0 2h0m0 1h0m0 0h0m0 0h0m1-4h0m0 3h0m0 1h0m2 0h0m1-3h0m1-1h0m1 1h0m1 2h0m0 3h0m1-6h0m0 2h0m0 2h0m1 1h0m1-3h0m0 4h0m1-7h0m0 3h0m1-3h0m0 3h0m0 2h0m1-2h0m0 2h0m1-1h0m0 1h0m0 2h0m1-2h0m1-2h0m0 4h0m2-1h0m0 0h0m1-5h0m1-1h0m0 0h0m0 4h0m1-4h0m0 7h0m1-6h0m0 6h0m1-1h0m3-5h0m0 3h0m0 3h0m1-6h0m1 1h0m0 2h0m1-1h0m0 3h0m3-4h0m1 5h0m1-5h0m0 0h0m1 0h0m0 3h0m1-4h0m1 3h0m0 0h0m0 2h0m0 0h0m1 0h0m1 0h0m1-6h0m0 0h0m0 1h0m0 0h0m1 1h0m0 0h0m0 1h0m0 1h0m1-3h0m0 1h0m0 4h0m0 1h0m1-6h0m0 2h0m0 4h0m0 0h0m1-4h0m1-2h0m0 5h0m1 0h0m2-5h0m1-1h0m0 3h0m0 1h0m0 1h0m2 1h0m1-5h0m0 2h0m1 2h0m1 1h0m2-6h0m1 6h0m3 0h0m0 1h0m5-7h0m3 1h0m0 6h0m2-7h0m6 1h0m0 4h0m0 0h0m0 0h0m1-5h0m0 5h0m3 1h0m1-1h0m3 1h0m1 0h0m2-2h0m1-4h0m0 6h0m1-4h0m0 3h0m1-2h0m0 3h0m1-5h0m2 2h0m0 1h0m1-1h0m0 3h0m1-6h0m1 1h0m0 3h0m4-4h0m3 4h0m2-4h0m3 4h0m1-3h0m2 0h0m4 5h0m3-6h0m2 4h0m10-3h0m2 6h0m1-4h0m3 1h0m1-2h0m3 2h0m0 2h0m1 0h0m0 0h0m1-2h0m2-4h0m0 7h0m2-2h0m2-5h0m1 2h0m0 2h0m0 1h0m0 1h0m1 1h0m2-7h0m1 5h0m1 0h0m0 2h0m5-7h0m0 3h0m2-2h0m0 6h0m1-7h0m1 0h0m0 2h0m2-1h0m1 0h0m3-1h0m3 4h0m0 3h0m1-6h0m1 2h0m1 3h0m1 0h0m1-4h0m0 1h0m2-2h0m0 5h0m2-5h0m0 1h0m1-1h0m0 2h0m1-2h0m0 2h0m0 2h0m1 1h0m2 1h0m3-3h0m1-3h0m0 4h0m3 0h0m1-5h0m1 1h0m1 0h0m0 4h0m0 1h0m0 1h0m1-3h0m1-1h0m2 4h0m3-2h0m0 1h0m1-2h0m1-2h0m0 1h0m0 4h0m1-3h0m1-2h0m0 3h0m2-5h0m0 4h0m1 1h0m1-5h0m0 0h0m0 3h0m0 3h0m1-5h0m0 5h0m1-1h0m0 2h0m3-7h0m2 0h0m3 4h0m3 0h0m0 2h0m4-5h0m4 2h0m0 1h0m1-4h0m0 7h0m2-5h0m0 1h0m3 1h0m-250 7h0m0 1h0m0 1h0m1-3h0m0 2h0m1-4h0m1 2h0m0 4h0m0 1h0m1-5h0m0 1h0m0 4h0m1-5h0m0 0h0m0 1h0m0 3h0m2-4h0m0 4h0m0 1h0m1-3h0m1 3h0m1-4h0m0 4h0m1-3h0m1-1h0m0 1h0m3 2h0m1-4h0m2 2h0m0 3h0m1-4h0m1-1h0m0 1h0m1 1h0m0 3h0m1-7h0m0 4h0m0 1h0m0 2h0m1-4h0m2 2h0m1-1h0m1 0h0m0 2h0m1-6h0m1 4h0m0 1h0m0 2h0m2-5h0m0 1h0m1-3h0m0 1h0m3 1h0m0 3h0m0 1h0m1-4h0m0 3h0m1-5h0m0 4h0m0 0h0m2-4h0m0 4h0m1-1h0m0 0h0m0 0h0m0 2h0m1 0h0m2-3h0m0 0h0m0 1h0m0 4h0m2-7h0m3 4h0m0 0h0m1 2h0m1-6h0m0 7h0m1-4h0m0 4h0m2-7h0m1 7h0m1-5h0m0 2h0m1 1h0m1-4h0m2 4h0m1-4h0m0 5h0m3-1h0m3 1h0m0 0h0m3-5h0m0 2h0m1-3h0m0 2h0m1 0h0m1 2h0m2 2h0m4-4h0m3 4h0m1-6h0m3 0h0m2 1h0m2 0h0m1 1h0m1 5h0m3-5h0m0 3h0m3 0h0m2-2h0m2 0h0m3 1h0m2-1h0m4 1h0m0 2h0m0 1h0m1-6h0m1 4h0m2-3h0m8 1h0m0 4h0m3-6h0m2 1h0m1 1h0m0 2h0m1-2h0m1-1h0m2 3h0m0 1h0m2 0h0m2 0h0m3-5h0m1 6h0m3-5h0m2 1h0m2 3h0m3-3h0m3-1h0m1 3h0m3-3h0m2 3h0m0 1h0m0 0h0m1 0h0m2-2h0m0 3h0m6-5h0m2-1h0m2 1h0m1 5h0m1-6h0m0 6h0m1-7h0m0 0h0m3 7h0m1-1h0m0 0h0m1 0h0m0 1h0m1 0h0m1-6h0m1 4h0m2 1h0m1 0h0m4-3h0m0 2h0m1-4h0m1 0h0m1 6h0m1-5h0m1-1h0m1 2h0m0 2h0m1-4h0m0 3h0m2-2h0m0 1h0m0 1h0m1-2h0m0 3h0m0 2h0m1-1h0m1-6h0m1 1h0m0 2h0m1 2h0m1-2h0m1 1h0m0 1h0m0 0h0m1-4h0m0 2h0m4 3h0m2 0h0m1-4h0m0 2h0m0 1h0m2-1h0m3-3h0m1 1h0m0 2h0m1 2h0m1-5h0m0 4h0m2-1h0m1 3h0m1-4h0m1 1h0m0 3h0m3-4h0m3-3h0m0 7h0m1-3h0m0 1h0m0 1h0m1 0h0m1 1h0m1-5h0m1 5h0m1-6h0m0 0h0m0 6h0m1-6h0m1 1h0m0 3h0m4-5h0m0 6h0m3-6h0m0 1h0m0 4h0m1-3h0m2 3h0m1-1h0m0 3h0m-252 5h0m1-4h0m0 1h0m1 0h0m0 3h0m0 2h0m1-4h0m2-1h0m0 2h0m0 3h0m0 0h0m0 1h0m1-3h0m0 3h0m1-4h0m0 0h0m1-3h0m0 1h0m1 4h0m1-4h0m0 5h0m1-4h0m0 0h0m2 2h0m1-2h0m1-1h0m2 0h0m0 2h0m0 4h0m1-4h0m1-3h0m0 5h0m1-4h0m1 3h0m0 1h0m0 2h0m0 0h0m1-6h0m1 4h0m2-4h0m0 1h0m1-2h0m1 5h0m1-2h0m1-3h0m1 3h0m0 1h0m0 0h0m1-2h0m1-2h0m0 7h0m1-6h0m2 1h0m0 1h0m0 3h0m1-4h0m0 5h0m2-7h0m1 2h0m0 1h0m3 1h0m1 0h0m1-4h0m1 3h0m0 2h0m1 1h0m1 0h0m1 1h0m1-7h0m1 2h0m0 2h0m1-4h0m0 3h0m1 0h0m1 0h0m5-3h0m0 2h0m1 1h0m1 0h0m1-3h0m0 0h0m3 0h0m0 3h0m1-1h0m1 3h0m0 0h0m1 1h0m2-1h0m1-4h0m1 6h0m3-1h0m3-1h0m2 1h0m1-4h0m0 0h0m0 0h0m0 1h0m1-2h0m2 5h0m1 0h0m1-4h0m0 3h0m1-1h0m3 3h0m1-4h0m1-1h0m1 1h0m1 0h0m0 1h0m3-3h0m0 6h0m4 0h0m5-7h0m0 4h0m3 1h0m1-4h0m1-1h0m1 0h0m0 3h0m2-2h0m0 4h0m1-2h0m2-3h0m1 2h0m5 0h0m2 0h0m1 1h0m0 3h0m1 1h0m0 0h0m4-3h0m1-1h0m0 1h0m0 1h0m1-4h0m0 2h0m2-3h0m1 5h0m1 2h0m1-4h0m2-3h0m3 1h0m0 6h0m1-4h0m4-1h0m1 4h0m1-2h0m1 3h0m3-4h0m1 1h0m1-2h0m0 4h0m0 0h0m1-5h0m3 0h0m1 3h0m2-4h0m0 1h0m0 5h0m1-4h0m2 5h0m1-4h0m1-1h0m1 0h0m0 1h0m0 1h0m1 1h0m4-2h0m1 3h0m0 1h0m3-5h0m2-2h0m0 2h0m1 4h0m2-4h0m1 5h0m1-7h0m1 1h0m0 5h0m1 0h0m1-6h0m0 7h0m2-5h0m0 2h0m2-2h0m0 5h0m1-7h0m1 4h0m1 1h0m1 1h0m2-2h0m0 0h0m1-1h0m0 1h0m0 3h0m1-3h0m3-1h0m1-3h0m0 3h0m1-3h0m0 6h0m1-4h0m4 5h0m1-7h0m0 4h0m1 3h0m2-5h0m1 1h0m2-3h0m0 6h0m0 1h0m1-4h0m0 0h0m0 3h0m1-6h0m0 2h0m2-1h0m0 0h0m0 4h0m4 0h0m2-5h0m1 3h0m2 0h0m2 2h0m3 2h0m2-6h0m4 6h0m4-1h0m1 0h0m0 0h0m0 1h0m1-6h0m1 6h0m1-5h0m0 0h0m1 0h0m0 5h0m-246 7h0m0 1h0m1-2h0m1-2h0m1-2h0m0 2h0m2 0h0m0 0h0m1-3h0m1 5h0m1-4h0m0 4h0m1-4h0m0 0h0m0 1h0m0 4h0m2-5h0m0 6h0m1-5h0m1-1h0m1 3h0m1-3h0m0 1h0m0 0h0m0 3h0m1 2h0m2-7h0m1 4h0m1-3h0m1 1h0m0 1h0m2-1h0m0 0h0m1 1h0m1-3h0m0 4h0m0 1h0m1-4h0m0 1h0m1 3h0m0 2h0m1-6h0m0 5h0m1-6h0m0 6h0m0 1h0m1-5h0m3-2h0m2 0h0m0 4h0m1-3h0m4 2h0m0 3h0m1-4h0m0 4h0m1-6h0m0 6h0m1 1h0m1-1h0m2 0h0m1-1h0m2-4h0m0 1h0m1 1h0m0 1h0m1-4h0m2 7h0m1 0h0m1 0h0m1-3h0m0 1h0m4-4h0m2 1h0m0 2h0m2-4h0m2 4h0m5 1h0m2-4h0m1 1h0m1 0h0m1 5h0m2-5h0m0 1h0m0 0h0m2-3h0m1 2h0m3-1h0m3 1h0m0 1h0m2 2h0m1-5h0m1 1h0m1-1h0m0 4h0m1 0h0m1-2h0m0 2h0m2 2h0m0 1h0m1-5h0m2 1h0m0 4h0m0 0h0m1-7h0m2 0h0m1 0h0m2 4h0m0 2h0m1-5h0m0 0h0m1 2h0m1-1h0m0 0h0m0 0h0m0 2h0m0 0h0m3-4h0m0 1h0m2 3h0m3-1h0m3 2h0m0 0h0m1-3h0m3 0h0m2 2h0m1-3h0m1 6h0m4-5h0m0 3h0m0 2h0m4-2h0m0 1h0m2-4h0m1 1h0m2-1h0m3-1h0m3 2h0m1 0h0m3 4h0m1-3h0m0 3h0m5 0h0m1-6h0m0 2h0m2 1h0m1-1h0m2-1h0m2 5h0m2-5h0m2-2h0m0 3h0m0 1h0m1 3h0m1-7h0m0 1h0m1 5h0m1 0h0m1-4h0m0 1h0m0 4h0m2-3h0m0 3h0m1-7h0m0 3h0m0 4h0m2-6h0m0 3h0m3 0h0m1-2h0m1 1h0m0 0h0m3-1h0m2 4h0m2-6h0m1 3h0m2 3h0m1-2h0m1-4h0m0 1h0m3 1h0m1 1h0m0 3h0m1 0h0m0 1h0m1-1h0m1-5h0m0 5h0m1-1h0m0 2h0m0 0h0m1-1h0m0 1h0m2 0h0m1-4h0m0 3h0m3-5h0m0 5h0m1-5h0m0 1h0m0 1h0m1-3h0m0 1h0m1 4h0m0 1h0m0 1h0m5-3h0m1 3h0m1-7h0m0 1h0m2 0h0m2-1h0m0 5h0m3-1h0m1-4h0m0 7h0m1-7h0m2 1h0m0 4h0m1-3h0m1 0h0m1 3h0m1-3h0m3 3h0m1-3h0m0 1h0m0 4h0m1-4h0m2-2h0m0 6h0m1-7h0m3 7h0m1-7h0m0 7h0m1-6h0m1 4h0m-248 7h0m3-2h0m0 1h0m2 1h0m2-2h0m0 2h0m1-4h0m2 6h0m2-5h0m0 3h0m1-1h0m1 0h0m0 3h0m0 1h0m0 0h0m3-1h0m0 1h0m1-1h0m1-5h0m1 5h0m2-6h0m0 3h0m0 4h0m4-7h0m0 7h0m2-3h0m0 0h0m0 3h0m5-4h0m1 0h0m3 1h0m1 0h0m0 2h0m2-6h0m0 3h0m0 4h0m1-7h0m0 0h0m2 3h0m0 2h0m1-4h0m2-1h0m0 0h0m0 4h0m0 3h0m3-4h0m1-1h0m3-1h0m0 3h0m3-4h0m0 4h0m1-4h0m2 2h0m0 1h0m0 2h0m2 0h0m0 2h0m2 0h0m3 0h0m3-1h0m1-4h0m1 3h0m3-4h0m0 0h0m2 6h0m2-3h0m1-3h0m1 3h0m1-4h0m1 0h0m0 5h0m4 0h0m1-3h0m0 4h0m1-3h0m1-2h0m1 1h0m0 1h0m1 4h0m5-6h0m0 5h0m3-3h0m1 2h0m5 0h0m0 1h0m1-4h0m1 3h0m1-5h0m1 2h0m2-2h0m1 2h0m1 2h0m0 2h0m0 1h0m1-7h0m0 4h0m1-1h0m0 3h0m1-1h0m1 1h0m1-2h0m0 1h0m2-1h0m1 2h0m1-4h0m0 4h0m1 0h0m1-6h0m2 0h0m4 2h0m0 1h0m0 0h0m1 2h0m1-1h0m2-4h0m0 1h0m0 3h0m1 2h0m2-5h0m1-1h0m1 3h0m0 3h0m1-1h0m1 2h0m1-7h0m0 1h0m2 1h0m1 0h0m0 0h0m1 0h0m0 3h0m0 2h0m1-6h0m0 1h0m1 0h0m0 3h0m1 0h0m1-5h0m0 3h0m2-1h0m1 3h0m1-3h0m1-1h0m0 5h0m1-6h0m1 1h0m0 2h0m0 4h0m1-7h0m1 1h0m2 1h0m1 3h0m1-4h0m0 4h0m0 2h0m1-3h0m2-3h0m0 4h0m0 0h0m1-5h0m0 0h0m2 6h0m1-4h0m0 2h0m1-1h0m0 2h0m0 0h0m0 2h0m1-1h0m1-6h0m0 3h0m1-2h0m1 1h0m0 2h0m1 1h0m3-1h0m2-1h0m2-2h0m1 6h0m1-6h0m0 2h0m1-1h0m1-2h0m1 4h0m2 1h0m0 2h0m1-4h0m1-3h0m1 6h0m1-6h0m0 6h0m1-3h0m3 1h0m0 0h0m1-4h0m1 2h0m0 5h0m1-6h0m0 1h0m0 1h0m3-3h0m0 7h0m3 0h0m2-2h0m0 0h0m0 2h0m1-4h0m1 1h0m0 1h0m1-3h0m0 5h0m1-7h0m0 3h0m0 1h0m1-3h0m0 3h0m1 0h0m1 3h0m1-5h0m0 4h0m1-6h0m0 1h0m0 0h0m0 2h0m1 0h0m0 1h0m1-3h0m1 2h0m0 4h0m1-1h0m1-2h0m2-2h0m1-1h0m0 0h0m1 3h0m3-2h0m0 4h0m1-3h0m1-2h0m2 4h0m3-3h0m1 5h0m1-5h0m0 3h0m1 1h0m3-4h0m1 5h0m0 0h0m1-7h0m0 2h0m0 2h0m1-3h0m0 2h0m1 4h0m-251 7h0m1 1h0m1-2h0m1-2h0m1 1h0m0 2h0m1 0h0m2 0h0m3-6h0m1 5h0m0 1h0m1-4h0m1-2h0m0 5h0m2 1h0m3-1h0m2-3h0m3 4h0m0 0h0m0 1h0m4-4h0m2 0h0m0 3h0m1-6h0m2 3h0m3-1h0m0 2h0m0 0h0m1-4h0m2 2h0m2-1h0m0 3h0m1-3h0m2 3h0m1-1h0m0 0h0m1-3h0m3 3h0m2 4h0m1-3h0m1 0h0m0 2h0m0 0h0m1-4h0m0 0h0m0 1h0m1 2h0m3-5h0m0 3h0m0 2h0m4-4h0m1 1h0m0 4h0m2-1h0m2-3h0m1 1h0m0 2h0m1-3h0m1 1h0m1 4h0m0 0h0m2 0h0m3-6h0m1 1h0m2 0h0m3-2h0m1 0h0m1 5h0m1 0h0m1-5h0m0 3h0m1-1h0m0 3h0m2-2h0m1-1h0m1 2h0m2-3h0m3 5h0m2-5h0m0 0h0m1 5h0m1-5h0m0 6h0m1-4h0m0 4h0m1-4h0m0 4h0m5-7h0m2 1h0m1-1h0m3 3h0m1-2h0m2 4h0m1-3h0m2 1h0m1 0h0m3-3h0m0 1h0m1 1h0m1 3h0m1-5h0m1 0h0m0 3h0m2 4h0m1-6h0m0 2h0m2-3h0m1 0h0m1 5h0m1-5h0m1 0h0m1 5h0m2-4h0m1 3h0m2 1h0m1-4h0m0 3h0m6 2h0m1 0h0m2 0h0m1-5h0m0 1h0m0 3h0m1-4h0m1-1h0m3 3h0m3 2h0m1-2h0m0 3h0m0 0h0m0 1h0m0 0h0m1-6h0m0 2h0m1 0h0m2-3h0m1 0h0m0 3h0m0 1h0m1 3h0m4-1h0m1-4h0m0 3h0m5-1h0m1-3h0m1-1h0m1 4h0m1-4h0m1 4h0m3-3h0m0 1h0m0 1h0m1 1h0m0 2h0m0 1h0m3-1h0m1-5h0m0 4h0m2 1h0m3-2h0m1-4h0m0 4h0m0 3h0m1-6h0m2 3h0m0 1h0m1-3h0m0 1h0m1 0h0m0 0h0m0 2h0m1-4h0m0 0h0m0 1h0m0 1h0m0 3h0m2-2h0m1 0h0m0 2h0m1-5h0m5-1h0m1 0h0m0 0h0m0 3h0m0 4h0m2-4h0m1-3h0m0 2h0m1-2h0m1 5h0m2-5h0m1 3h0m0 3h0m2-3h0m0 0h0m1 0h0m0 0h0m0 2h0m1-5h0m0 2h0m2-1h0m0 3h0m1 1h0m0 1h0m1-1h0m1 1h0m0 1h0m1-7h0m1 5h0m2-3h0m1-1h0m0 0h0m0 5h0m1-1h0m2 0h0m0 2h0m1-2h0m1-2h0m1-3h0m0 3h0m3-1h0m1-1h0m5 0h0m0 3h0m1 2h0m1-5h0m0 1h0m-251 10h0m2-4h0m0 1h0m0 6h0m2-7h0m0 4h0m1 3h0m1-7h0m0 1h0m0 2h0m0 0h0m1 1h0m1 0h0m2-2h0m0 5h0m1-3h0m2-4h0m0 3h0m0 0h0m1 2h0m2-5h0m0 4h0m1-2h0m1 1h0m0 3h0m1-6h0m2 1h0m1 4h0m0 1h0m1-4h0m0 3h0m2-5h0m0 3h0m0 2h0m1 0h0m0 2h0m2-7h0m0 1h0m1 6h0m1-6h0m2 1h0m2 0h0m5 4h0m1 1h0m2-1h0m4-5h0m1 5h0m1 0h0m1-2h0m0 3h0m1-7h0m0 1h0m0 5h0m1-1h0m1-4h0m0 5h0m1 1h0m0 0h0m1-4h0m0 3h0m1-1h0m0 1h0m1-3h0m1-3h0m0 5h0m1-4h0m0 1h0m1-2h0m0 7h0m2-2h0m1-1h0m0 3h0m1-3h0m1-2h0m2 2h0m1-4h0m1 7h0m3-6h0m0 3h0m0 1h0m2 0h0m1-3h0m0 2h0m2-2h0m0 4h0m1-6h0m1 1h0m1 1h0m1 0h0m2 3h0m1-3h0m3 0h0m4-2h0m1 4h0m1 1h0m4-1h0m3 2h0m1-1h0m3 1h0m3-1h0m1-5h0m1 5h0m1-3h0m2 1h0m0 3h0m1-5h0m1 3h0m1 3h0m2-3h0m0 0h0m0 3h0m1-1h0m1-2h0m2-4h0m2 1h0m3 6h0m1-4h0m0 0h0m2 3h0m2-3h0m2 3h0m1-4h0m0 4h0m1-1h0m3-2h0m1-2h0m0 4h0m3 2h0m1-1h0m0 1h0m1-6h0m0 3h0m0 2h0m1 0h0m1-6h0m0 4h0m1 3h0m5-4h0m1 3h0m3-5h0m0 0h0m1 0h0m3 3h0m0 3h0m1 0h0m1-5h0m1-1h0m0 0h0m0 1h0m2 0h0m0 1h0m1-3h0m0 0h0m0 3h0m0 3h0m1-1h0m3 0h0m1-3h0m0 4h0m2-6h0m0 0h0m0 3h0m2 1h0m1 0h0m0 2h0m1-1h0m0 2h0m1-1h0m1-6h0m0 7h0m1-3h0m0 0h0m0 3h0m0 0h0m2-2h0m2-5h0m1 2h0m0 1h0m1 0h0m0 4h0m1-7h0m0 5h0m1-1h0m0 2h0m2-2h0m1-2h0m1 2h0m4 3h0m1-3h0m2 2h0m0 0h0m1-6h0m0 3h0m2 1h0m1-2h0m2 3h0m2-2h0m0 2h0m1 0h0m0 0h0m1 2h0m1-2h0m1-3h0m0 1h0m1-1h0m0 1h0m1 2h0m1 0h0m0 1h0m1-3h0m0 3h0m1-6h0m0 0h0m2 7h0m3-3h0m0 3h0m1-7h0m0 1h0m1 0h0m0 1h0m1 5h0m1-6h0m0 6h0m1-4h0m1-3h0m0 1h0m1-1h0m0 2h0m0 2h0m0 2h0m0 1h0m1-3h0m1-4h0m0 4h0m0 0h0m4-3h0m0 1h0m1-2h0m0 3h0m0 2h0m0 2h0m1-7h0m3 7h0m1-7h0m0 1h0m0 1h0m2 4h0m1-6h0m0 2h0m0 0h0m1 3h0m2-2h0m0 3h0m2 0h0m4-6h0m-250 13h0m1-4h0m0 4h0m1-4h0m0 3h0m1 2h0m1-6h0m0 6h0m2-3h0m2 4h0m1-1h0m1-6h0m0 3h0m1 1h0m0 3h0m1-2h0m1-1h0m2 1h0m1-5h0m1 5h0m2 0h0m1-5h0m1 4h0m2-2h0m1 1h0m1-3h0m2 6h0m0 1h0m4-3h0m3 3h0m1-2h0m2-2h0m2 2h0m1-5h0m0 2h0m2 2h0m2 1h0m0 2h0m2-1h0m6-6h0m3 4h0m0 2h0m1-2h0m0 0h0m2-3h0m0 0h0m1 1h0m2-2h0m0 2h0m1 2h0m4-4h0m0 7h0m1 0h0m0 0h0m2-7h0m0 3h0m6 4h0m3-1h0m1-3h0m0 2h0m1-5h0m0 2h0m0 2h0m4-2h0m1 2h0m0 1h0m1-5h0m0 4h0m0 1h0m0 1h0m1-5h0m0 6h0m4-5h0m0 1h0m3 1h0m2 1h0m1 2h0m2-3h0m0 1h0m2-1h0m2-1h0m3 1h0m4-3h0m2-1h0m0 0h0m4 2h0m1 2h0m4-1h0m3 3h0m2-4h0m0 5h0m2-7h0m2 4h0m0 0h0m1 3h0m6-7h0m0 6h0m1-5h0m2 0h0m4-1h0m0 7h0m1-4h0m0 2h0m2-1h0m2 0h0m1 1h0m1 0h0m1-3h0m0 0h0m2-1h0m0 0h0m0 1h0m6 3h0m1-5h0m0 5h0m0 1h0m1-5h0m0 2h0m0 2h0m3-5h0m1 1h0m0 0h0m0 4h0m0 1h0m1-4h0m0 1h0m0 1h0m0 0h0m0 1h0m0 2h0m1-1h0m1-5h0m0 2h0m0 3h0m2-4h0m0 1h0m1-3h0m1 0h0m2 2h0m1 2h0m1 1h0m1-4h0m0 1h0m0 3h0m1-2h0m3 1h0m1-4h0m1 3h0m0 2h0m1 0h0m1 2h0m1 0h0m1-5h0m1 2h0m0 1h0m1-3h0m0 5h0m2-7h0m1 1h0m4 5h0m1-4h0m0 0h0m0 2h0m1-3h0m0 6h0m1-5h0m5-2h0m0 1h0m1 1h0m2 1h0m1 2h0m1-3h0m0 1h0m1-1h0m0 2h0m0 1h0m1-4h0m0 5h0m2-6h0m0 4h0m1-3h0m0 6h0m1 0h0m2-1h0m0 1h0m2-7h0m3 6h0m1-6h0m0 0h0m0 5h0m0 1h0m0 0h0m1-4h0m1 5h0m1-7h0m0 2h0m0 5h0m4-6h0m2 0h0m0 2h0m1 4h0m2-7h0m0 1h0m1 1h0m0 5h0m1-2h0m1-5h0m0 3h0m0 2h0m1-2h0m4 1h0m0 0h0m2 0h0m3-2h0m0 2h0m0 0h0m-249 4h0m0 1h0m0 1h0m0 2h0m0 1h0m2-5h0m0 0h0m2 1h0m0 1h0m2-1h0m1 0h0m0 6h0m0 0h0m1 0h0m1-5h0m1 3h0m1-5h0m0 4h0m0 0h0m2-1h0m1 4h0m1-6h0m0 0h0m0 2h0m1-1h0m0 2h0m1-2h0m0 2h0m0 2h0m1 1h0m1-5h0m1-2h0m0 6h0m1-4h0m6 1h0m7 2h0m0 0h0m0 1h0m1-4h0m2 2h0m5-2h0m0 4h0m1-4h0m0 4h0m1-5h0m2 4h0m0 2h0m5-2h0m1-1h0m0 0h0m0 1h0m1-2h0m1 4h0m4-7h0m0 4h0m1-4h0m1 1h0m0 0h0m0 3h0m0 2h0m0 1h0m1-3h0m2 2h0m1-3h0m2-3h0m0 2h0m1 1h0m1 3h0m3 0h0m1 0h0m1-6h0m0 3h0m1 4h0m4-1h0m6-4h0m1-2h0m0 0h0m1 0h0m0 2h0m0 3h0m1-1h0m1-3h0m0 6h0m2-7h0m2 5h0m0 1h0m2-3h0m3-2h0m1 3h0m1 1h0m1 1h0m1 1h0m1-6h0m2 4h0m3-2h0m0 1h0m2-1h0m6 1h0m0 0h0m1-4h0m0 4h0m1 2h0m1-1h0m1-1h0m1-2h0m1 1h0m4 2h0m1 2h0m4-5h0m0 4h0m1-4h0m0 1h0m0 3h0m1-1h0m1-4h0m0 4h0m2-1h0m0 1h0m0 0h0m0 2h0m1-6h0m1 2h0m2-3h0m1 3h0m8 4h0m1-4h0m0 2h0m1-3h0m0 4h0m2-6h0m0 5h0m3-5h0m0 6h0m0 1h0m3-1h0m4-5h0m0 1h0m0 2h0m1-2h0m1 2h0m1 1h0m1-1h0m2 0h0m1 0h0m1-4h0m0 7h0m1-6h0m1 1h0m0 1h0m0 4h0m1-3h0m1 2h0m1-1h0m2 0h0m1-2h0m1 2h0m1 0h0m0 1h0m1-6h0m0 6h0m1-4h0m0 2h0m1 2h0m2-5h0m4-1h0m1 4h0m1-3h0m1 5h0m0 1h0m1-7h0m0 3h0m1-1h0m1-1h0m3 2h0m2-2h0m0 0h0m2 3h0m0 1h0m0 2h0m2-2h0m1 0h0m2 0h0m0 1h0m0 1h0m2-4h0m1 0h0m0 1h0m1 0h0m1-1h0m1 2h0m2-3h0m0 0h0m2 1h0m0 0h0m0 4h0m1 0h0m1-6h0m3 1h0m0 5h0m1-7h0m3 5h0m1-2h0m0 0h0m1-1h0m0 2h0m0 3h0m1-1h0m1 0h0m0 1h0m3-1h0m1 0h0m1-4h0m0 5h0m1-1h0m1-4h0m1-2h0m0 3h0m2-3h0m1 6h0m1-1h0m1-3h0m0 5h0m1-6h0m1 3h0m1-4h0m0 4h0m1-4h0m-248 10h0m3 0h0m2-1h0m1 1h0m4-1h0m1 2h0m0 2h0m1-5h0m2 0h0m3 1h0m0 2h0m0 2h0m1-2h0m0 0h0m2 1h0m4-1h0m1 1h0m0 1h0m4-3h0m0 2h0m3 0h0m1-2h0m3 0h0m2 0h0m3 2h0m2-4h0m9 0h0m3 1h0m1 0h0m0 4h0m2-1h0m1-4h0m2 0h0m0 0h0m0 3h0m1-3h0m2 3h0m1-2h0m2 1h0m1-1h0m2 3h0m1 0h0m1 1h0m1-2h0m3-3h0m4 0h0m0 3h0m1 1h0m0 1h0m4-5h0m1 0h0m0 4h0m1-2h0m5-2h0m1 2h0m1 0h0m2 2h0m0 0h0m1 0h0m1-4h0m1 3h0m0 1h0m3-1h0m1 1h0m0 1h0m1 0h0m2-4h0m1 4h0m1-1h0m4 1h0m1 0h0m1-3h0m1 0h0m2 1h0m2-1h0m0 0h0m4-2h0m1 2h0m0 1h0m0 1h0m3-2h0m2 1h0m4-1h0m2-1h0m2 4h0m5-5h0m4 0h0m2 3h0m3 0h0m1 0h0m2-1h0m1 1h0m0 2h0m2-2h0m0 0h0m5-1h0m2 3h0m4-5h0m1 4h0m1-1h0m3 0h0m0 1h0m2-2h0m0 2h0m1 0h0m1 1h0m3-5h0m2 2h0m2 2h0m1-1h0m1 1h0m3-2h0m6 2h0m1 1h0m1-5h0m1 5h0m1-4h0m4-1h0m0 5h0m0 0h0m2-4h0m4-1h0m2 5h0m1-5h0m1 2h0m0 3h0m1-4h0m2 2h0m1-2h0m2-1h0m0 2h0m2 1h0m8-2h0m0 1h0m1 1h0m2-3h0m2 2h0m0 3h0m2-5h0m0 2h0m3-2h0m3 4h0m1 0h0m2-4h0m0 3h0m1-1h0m3 1h0m2-1h0m0 3h0m1-3h0m0 1h0" stroke="#A0B4E0" stroke-opacity="0.6" stroke-width="3.0" stroke-linecap="round" fill="none"/><path transform="translate(220 40) scale(.5)" d="M7 1h0m52 5h0m11-2h0m0 3h0m1-1h0m13 1h0m2-1h0m1 1h0m1-3h0m3-3h0m1 0h0m1 3h0m4 2h0m1 1h0m1-1h0m1-5h0m3 1h0m2 3h0m1 1h0m5 1h0m3-2h0m0 1h0m6-5h0m1 0h0m0 6h0m2-3h0m2-1h0m1 4h0m3-7h0m3 4h0m0 3h0m6-1h0m3-2h0m7-1h0m7 4h0m19-7h0m1 7h0m4-4h0m2-3h0m1 6h0m1-4h0m2-1h0m2 1h0m3 5h0m4-3h0m1-1h0m4 1h0m0 3h0m2-4h0m24 3h0m17-5h0m-178 9h0m1 5h0m2-3h0m2 3h0m8-5h0m3 0h0m0 5h0m6-2h0m5 2h0m2 0h0m5-6h0m2 2h0m2 3h0m3-4h0m5 0h0m0 4h0m1 0h0m2-6h0m1 3h0m0 4h0m3-5h0m7 5h0m2-5h0m1-1h0m8 5h0m0 0h0m7-3h0m1 1h0m2-2h0m8-1h0m0 5h0m2-2h0m9 2h0m5-5h0m8 6h0m9-7h0m6 1h0m0 6h0m1-2h0m6-3h0m12 2h0m13 0h0m-161 7h0m3-1h0m8 3h0m1 0h0m4 1h0m2-6h0m1 1h0m0 2h0m1 0h0m3 1h0m0 3h0m1-1h0m1-6h0m0 3h0m1-1h0m1 4h0m6-3h0m1-1h0m1 2h0m2-4h0m0 4h0m2-3h0m3 6h0m1-4h0m2-1h0m3 2h0m0 2h0m1-6h0m0 5h0m0 2h0m2-4h0m1 4h0m1-7h0m0 5h0m0 2h0m2-3h0m1 3h0m2 0h0m1-3h0m4 3h0m1-3h0m6 0h0m1-1h0m0 0h0m3-1h0m0 0h0m1 0h0m1 2h0m0 3h0m1-3h0m2 2h0m7 0h0m1-2h0m2 2h0m4-3h0m1 1h0m7 1h0m4-4h0m11 1h0m7 0h0m5 2h0m4 2h0m1 0h0m1-1h0m0 0h0m35-3h0m-226 13h0m2 0h0m35-6h0m2 6h0m7-7h0m4 5h0m3-5h0m3 1h0m3 5h0m7-6h0m2 3h0m1 0h0m2 1h0m0 0h0m6 1h0m2-3h0m2-2h0m0 5h0m0 2h0m2 0h0m4-1h0m1-6h0m1 3h0m1 4h0m1 0h0m3-4h0m6-3h0m4 3h0m0 3h0m0 0h0m2-5h0m0 5h0m4-2h0m2 1h0m1-5h0m0 2h0m2 2h0m1 1h0m1 0h0m3-3h0m0 4h0m1-1h0m1-3h0m2 2h0m3-4h0m0 1h0m0 4h0m1-2h0m0 1h0m3-2h0m0 3h0m1-4h0m10-1h0m3 7h0m2-4h0m2-1h0m2 0h0m4 5h0m1-5h0m2 2h0m0 2h0m1 0h0m6-4h0m14 5h0m9-3h0m1 0h0m1-3h0m1 0h0m2 1h0m2-1h0m1 3h0m4-3h0m2 0h0m4-1h0m-210 13h0m2-4h0m3 3h0m59 2h0m17-4h0m9 4h0m4-5h0m4 5h0m4-2h0m0 1h0m3-1h0m1-1h0m0 1h0m0 1h0m1 1h0m2-1h0m2 2h0m2-3h0m6-4h0m0 1h0m0 2h0m1 3h0m2 0h0m1-3h0m0 3h0m3-6h0m2 4h0m1 1h0m1 1h0m0 0h0m2-4h0m0 1h0m1 2h0m1 1h0m1-3h0m1-3h0m0 1h0m2 0h0m1 3h0m6-4h0m1 4h0m1 1h0m2-4h0m2 1h0m1 1h0m2-2h0m1 3h0m0 2h0m2 0h0m2-1h0m0 0h0m2 1h0m2-3h0m9 2h0m7 1h0m11-3h0m1-2h0m4 0h0m0 3h0m1 0h0m5-1h0m0 1h0m2 1h0m29-4h0m-231 7h0m4 2h0m6 4h0m5 1h0m42-2h0m12 0h0m1 0h0m11 0h0m5-3h0m4 1h0m1-3h0m0 4h0m7-2h0m2 0h0m1 0h0m4 0h0m3-2h0m1 2h0m0 2h0m2 1h0m1-4h0m4-1h0m1 7h0m2-5h0m1 5h0m1-3h0m4-4h0m0 5h0m1-2h0m4-3h0m0 3h0m2 0h0m1-3h0m4 2h0m0 1h0m5-3h0m3 7h0m2 0h0m3-4h0m2 3h0m1-3h0m0 4h0m3 0h0m5-1h0m8-2h0m23-4h0m-194 8h0m2 2h0m9-2h0m5 0h0m0 3h0m53 4h0m8-4h0m20 1h0m3 0h0m1 1h0m0 1h0m1-3h0m1 4h0m6-1h0m1-6h0m0 6h0m3-6h0m5 0h0m0 3h0m1 4h0m2 0h0m2-2h0m0 1h0m5-2h0m8-2h0m2 4h0m4 0h0m2-6h0m0 4h0m0 0h0m1 1h0m1 0h0m1 0h0m1-5h0m4 0h0m2 7h0m2-2h0m42-5h0m0 7h0m3-1h0m4-4h0m4 3h0m0 1h0m4 1h0m3-7h0m1 5h0m21-3h0m3 1h0m3-2h0m3 4h0m-181 7h0m4-4h0m3 5h0m1 2h0m1-7h0m0 4h0m20 3h0m2-1h0m5 1h0m7-7h0m2 6h0m1-4h0m0 5h0m1-7h0m0 5h0m1 2h0m2-3h0m0 2h0m2-5h0m5 2h0m4-1h0m1-2h0m2 1h0m1 1h0m3 4h0m3-2h0m3-3h0m0 6h0m2-3h0m2 1h0m1 1h0m1 0h0m1-6h0m1 4h0m1-4h0m0 2h0m4-2h0m4 0h0m10 7h0m18-6h0m7 4h0m1-2h0m1 0h0m1 3h0m3-5h0m2 3h0m2 2h0m7-5h0m2 2h0m0 4h0m2-3h0m1-1h0m0 4h0m4-2h0m4 1h0m22 1h0m2-6h0m-194 12h0m10-3h0m2 3h0m12-2h0m2-2h0m0 3h0m10-2h0m5 3h0m19-5h0m2 3h0m5-2h0m2 5h0m3-3h0m3-2h0m2 4h0m2-5h0m0 1h0m0 5h0m4-6h0m4 4h0m0 3h0m2-3h0m3-4h0m3 7h0m4-3h0m5 0h0m10-1h0m1-2h0m0 1h0m29-2h0m6 7h0m4-2h0m1-3h0m0 4h0m5-4h0m4 2h0m0 1h0m7 2h0m2-2h0m7 1h0m1-4h0m8-2h0m-184 14h0m1-6h0m4 5h0m1-1h0m5-3h0m3 5h0m4-2h0m19-4h0m12 6h0m12-3h0m5-1h0m3 2h0m1-3h0m9 6h0m6-5h0m0 3h0m1 2h0m2-5h0m1-1h0m0 1h0m1-1h0m0 5h0m2-3h0m1-3h0m2 7h0m6-1h0m3-5h0m0 1h0m5-2h0m15 6h0m12-4h0m2 0h0m2 5h0m9-7h0m0 1h0m2 1h0m0 4h0m2-2h0m1 1h0m1-1h0m8 1h0m18 1h0m8-1h0m-179 9h0m1-2h0m2 1h0m0 1h0m1 0h0m1-4h0m2-1h0m6 3h0m4 0h0m3-3h0m1-1h0m2 4h0m4 0h0m0 0h0m1 2h0m0 1h0m5-5h0m1-2h0m6 7h0m3-1h0m2-3h0m1-3h0m0 2h0m1 1h0m4 0h0m1 2h0m1-4h0m2 5h0m2-6h0m1 4h0m2-4h0m3 4h0m3-2h0m0 3h0m4-3h0m0 4h0m2-4h0m0 2h0m2-2h0m2 2h0m3-2h0m1 1h0m1-1h0m4-2h0m7 2h0m3 1h0m0 4h0m25-5h0m47 5h0m13-3h0m-190 9h0m1 1h0m1 1h0m3-3h0m3 3h0m1-7h0m0 4h0m4 0h0m8-3h0m0 3h0m3-4h0m1 4h0m0 0h0m1 2h0m2 1h0m3-6h0m3 1h0m0 2h0m0 1h0m1-4h0m2-1h0m1 4h0m5-1h0m4 0h0m1-2h0m0 2h0m1 3h0m1-1h0m1-2h0m4 4h0m1-1h0m0 1h0m1-4h0m5 3h0m3-1h0m3-3h0m1-2h0m0 3h0m2 3h0m6-6h0m2 4h0m0 2h0m2-3h0m2-3h0m0 1h0m0 3h0m0 0h0m3 2h0m4 1h0m1-1h0m2-4h0m5 5h0m2-2h0m4 2h0m2-7h0m5 3h0m3-2h0m1-1h0m4 3h0m2-2h0m2 2h0m0 3h0m31-3h0m0 1h0m12-4h0m0 6h0m4 1h0m2-3h0m8 0h0m11 2h0m-246 7h0m17-1h0m18-2h0m12 5h0m9-4h0m0 3h0m2-4h0m0 3h0m2-3h0m0 3h0m4-4h0m1 1h0m3 1h0m0 2h0m4-3h0m1 1h0m1-3h0m3 6h0m4-1h0m7-4h0m0 2h0m1-3h0m1 5h0m2 1h0m4-6h0m2 7h0m1-7h0m0 7h0m3-6h0m1 3h0m4-4h0m1 4h0m1 1h0m3-5h0m1 1h0m0 1h0m0 4h0m5-2h0m2-1h0m3-1h0m1 0h0m3 0h0m1-1h0m0 5h0m1-4h0m2 5h0m3-2h0m1-3h0m4 1h0m8 4h0m1-5h0m1-2h0m2 6h0m1 0h0m0 1h0m3-6h0m5 3h0m1-1h0m3 4h0m6-4h0m7-3h0m0 7h0m4-3h0m11-1h0m22-1h0m1 1h0m2-1h0m0 1h0m6 3h0m1-3h0m5 3h0m1 1h0m7-1h0m3-6h0m0 6h0m-193 2h0m1 0h0m0 4h0m3-2h0m1 4h0m4-3h0m1-3h0m0 7h0m1-2h0m4-3h0m0 3h0m2-5h0m0 5h0m3 0h0m2-5h0m0 5h0m1-1h0m3 1h0m1-2h0m6-3h0m3 6h0m7-4h0m1-2h0m1 5h0m3-4h0m1 0h0m4 5h0m1-5h0m0 6h0m3-4h0m5 2h0m0 1h0m5-2h0m3-1h0m8 0h0m2-2h0m10 2h0m3 0h0m2 0h0m3 4h0m6-2h0m2-3h0m2 1h0m1 3h0m3-3h0m0 3h0m2-6h0m0 0h0m12 4h0m1 1h0m17-4h0m10 6h0m4 0h0m20-6h0m0 2h0m3-3h0m2 6h0m13-3h0m2 3h0m-248 7h0m3-3h0m3 1h0m3-1h0m7-2h0m0 5h0m5-5h0m18 4h0m3 3h0m2-1h0m2-2h0m3-4h0m4 1h0m0 6h0m1-6h0m1 5h0m0 1h0m4-4h0m1 4h0m1-6h0m1 5h0m9-2h0m4-4h0m7 5h0m1 0h0m4 1h0m4-6h0m1 4h0m8-2h0m1 1h0m1 0h0m7 2h0m1-2h0m4-2h0m0 5h0m1-1h0m1-1h0m4-2h0m2 0h0m2 2h0m8-3h0m1 4h0m13-3h0m3-2h0m0 6h0m3-5h0m16-1h0m6 6h0m10-5h0m31 1h0m17-1h0m7 2h0m0 3h0m2-6h0m-230 15h0m2-7h0m1 2h0m3 2h0m3-2h0m1 5h0m1-2h0m1 1h0m2-3h0m1-2h0m4 5h0m4-1h0m1-1h0m1-2h0m6 4h0m5 1h0m1-5h0m2 1h0m10-1h0m2 1h0m1 2h0m8-1h0m1-4h0m0 1h0m2 3h0m14 0h0m3 2h0m3-2h0m5-3h0m1-1h0m3 3h0m2 1h0m1-3h0m0 3h0m5-3h0m8 1h0m1 4h0m6 0h0m4-1h0m1-3h0m2 2h0m2 1h0m2-3h0m2 0h0m1 5h0m4 0h0m3-1h0m6-4h0m13-2h0m18 4h0m18 3h0m3-1h0m1-3h0m13 2h0m6-3h0m9 2h0m0 2h0m3-4h0m-224 8h0m18 2h0m4 0h0m2-4h0m0 2h0m0 5h0m3-1h0m14 1h0m17-2h0m3-2h0m11-1h0m0 1h0m3-2h0m1-1h0m7 2h0m1 3h0m1-2h0m1 4h0m4-5h0m0 1h0m1-2h0m1 5h0m1-2h0m1-3h0m1 6h0m11-3h0m5-1h0m0 2h0m4 0h0m4-4h0m1 5h0m3-5h0m0 3h0m1 2h0m4 1h0m7-1h0m1-1h0m46-1h0m5-2h0m7 2h0m7 2h0m2-5h0m18 0h0m6-1h0m1 7h0m-229 6h0m7-1h0m13 3h0m2-4h0m3-3h0m5 3h0m7-2h0m0 2h0m1 2h0m8 2h0m5-2h0m2-4h0m5 1h0m14 4h0m1-6h0m7 1h0m5 1h0m4-1h0m2 2h0m0 3h0m2-2h0m0 3h0m1 0h0m1-7h0m0 6h0m3-3h0m2 3h0m1-6h0m1 5h0m1 1h0m2-4h0m0 5h0m8-2h0m2-1h0m0 1h0m3-3h0m0 1h0m6 2h0m2 0h0m0 0h0m5 0h0m0 2h0m1-3h0m2 3h0m32-6h0m17 3h0m4-1h0m1-2h0m0 2h0m2-1h0m5-2h0m0 5h0m1-2h0m0 4h0m15 0h0m2-4h0m4 0h0m3-2h0m7 5h0m5-1h0m5-1h0m2 0h0m-232 7h0m0 4h0m15-3h0m7 3h0m1-3h0m6-1h0m1-1h0m6 4h0m2-4h0m1 0h0m0 1h0m2 2h0m1 2h0m2-6h0m13 1h0m1 2h0m18-1h0m7-2h0m7 1h0m2-1h0m1-1h0m8 0h0m0 5h0m10-1h0m4-2h0m6-2h0m6 1h0m1-1h0m2 1h0m2 2h0m0 2h0m23-2h0m7 1h0m1-4h0m2 6h0m2-1h0m10 1h0m3-4h0m7-1h0m0 5h0m2-2h0m15 0h0m2 2h0m1-3h0m1-3h0m3 1h0m4 0h0m2 4h0m4-3h0m0 5h0m6-6h0m4-1h0m0 0h0m-226 11h0m5 0h0m2-3h0m3 2h0m1 2h0m3 0h0m10 0h0m16 1h0m5-4h0m2 3h0m5 1h0m1-5h0m7 4h0m1-4h0m4 3h0m12 2h0m3-1h0m1-1h0m4 0h0m2-2h0m0 0h0m3-1h0m0 2h0m1 3h0m6-5h0m0 2h0m3-2h0m2 2h0m3 0h0m6 0h0m0 2h0m1-3h0m0 1h0m1-2h0m3 2h0m1 1h0m6-2h0m1 2h0m13 0h0m6-3h0m7 4h0m1 1h0m6-2h0m5-1h0m2 3h0m2-5h0m3 3h0m16 1h0m3-3h0m5 4h0m3-4h0m0 3h0m10-1h0m2 2h0m12-3h0" stroke="#EADCD6" stroke-opacity="0.8" stroke-width="3.6" stroke-linecap="round" fill="none"/><path transform="translate(220 40) scale(.5)" d="M72 4h0m1 0h0m1 2h0m3-2h0m2-2h0m4 0h0m3 5h0m4-2h0m2-3h0m4 3h0m1-3h0m0 2h0m3-1h0m0 3h0m2-2h0m1-1h0m1 0h0m11-1h0m0 5h0m4 0h0m4 0h0m2-6h0m1 1h0m2-1h0m0 2h0m0 1h0m0 2h0m1 1h0m2-1h0m0 0h0m8-2h0m1-2h0m2 0h0m4-1h0m7 4h0m4-4h0m1 5h0m1-4h0m1 0h0m11-1h0m3 1h0m5 0h0m2 0h0m1 2h0m5 0h0m1 1h0m4-1h0m0 2h0m3-1h0m2-2h0m19 3h0m19-2h0m-206 8h0m24-1h0m6 3h0m17-2h0m1 1h0m1 1h0m6-2h0m1 3h0m1-7h0m0 6h0m1-5h0m1 5h0m1-5h0m0 6h0m3-1h0m0 0h0m1 0h0m0 1h0m1-6h0m2 4h0m2 1h0m2 1h0m1-4h0m0 0h0m2 0h0m2-3h0m0 2h0m1 1h0m1-1h0m1 5h0m1-2h0m2-2h0m0 4h0m5-3h0m2 2h0m0 1h0m1 0h0m2-2h0m1 0h0m2-2h0m1 1h0m4 1h0m1 1h0m5-5h0m7 6h0m2-1h0m5-6h0m5 3h0m2 4h0m3-4h0m5-3h0m0 2h0m1 0h0m2 1h0m3 0h0m3 3h0m6-4h0m1-2h0m1 4h0m1 1h0m1-1h0m1 0h0m3-1h0m0 0h0m1-3h0m1 3h0m1-1h0m3-2h0m1 0h0m4 2h0m0 0h0m1 4h0m7-2h0m1-3h0m17 6h0m8-5h0m9 4h0m1-2h0m-242 9h0m42 1h0m2 0h0m18-4h0m0 3h0m0 1h0m3-5h0m1 0h0m0 0h0m2 5h0m3 0h0m1 0h0m0 1h0m1-1h0m1-6h0m0 1h0m2-1h0m0 7h0m0 0h0m1-6h0m0 6h0m0 0h0m1 0h0m1-2h0m0 2h0m2-4h0m3 0h0m0 3h0m1-5h0m0 2h0m0 4h0m1-3h0m0 1h0m1 0h0m0 1h0m0 0h0m0 1h0m0 0h0m1-4h0m2-3h0m2 4h0m2-2h0m2-1h0m2 6h0m2-5h0m0 0h0m1 4h0m3-4h0m1-2h0m2 0h0m0 7h0m3 0h0m1-3h0m2-1h0m2-1h0m0 1h0m0 1h0m1-4h0m4 6h0m0 1h0m1-4h0m0 3h0m1-3h0m1-1h0m0 3h0m1 0h0m1 1h0m1-3h0m1 1h0m0 3h0m1 0h0m1-4h0m0 1h0m2 2h0m0 1h0m1-4h0m1 2h0m1-3h0m1 4h0m0 0h0m1-4h0m2-1h0m0 6h0m1-3h0m3-1h0m1-2h0m0 3h0m1-2h0m0 3h0m2-3h0m1 2h0m0 2h0m5-3h0m3 0h0m1 0h0m0 4h0m3-5h0m1-2h0m0 1h0m3 5h0m1-5h0m1 2h0m4-1h0m0 3h0m12-4h0m0 1h0m2-1h0m5 1h0m1 2h0m2-2h0m2 4h0m1 0h0m0 1h0m1-5h0m0 2h0m3 2h0m1-2h0m0 2h0m1-2h0m1 2h0m1-2h0m3-4h0m0 5h0m2 2h0m4-5h0m1-2h0m7 4h0m24-2h0m-232 10h0m25-4h0m4 2h0m21 2h0m3-4h0m0 1h0m3-1h0m0 1h0m0 1h0m3-1h0m0 3h0m1 0h0m3-4h0m2 1h0m0 1h0m0 5h0m1-5h0m1 1h0m0 2h0m1-4h0m0 3h0m1-4h0m2 3h0m0 1h0m1 0h0m4 1h0m2-4h0m0 0h0m0 2h0m0 1h0m0 1h0m1-1h0m2 0h0m2 3h0m2-5h0m0 5h0m4-7h0m0 1h0m0 4h0m7-4h0m0 1h0m2-2h0m0 2h0m0 3h0m1-2h0m0 0h0m4-3h0m1 0h0m0 2h0m2-1h0m0 2h0m0 3h0m3-5h0m2 1h0m5 0h0m0 2h0m1 3h0m1-5h0m0 1h0m0 1h0m0 2h0m1-6h0m0 2h0m0 2h0m2-1h0m1-2h0m0 3h0m1-2h0m1 4h0m1-6h0m0 1h0m0 1h0m0 2h0m2 3h0m1 0h0m2-2h0m1-3h0m1-1h0m0 2h0m2 2h0m1-2h0m2-1h0m1 1h0m3 4h0m3-7h0m0 4h0m0 2h0m1-3h0m2 0h0m1-1h0m1-1h0m0 2h0m2-3h0m1 4h0m8-1h0m0 2h0m21-2h0m3 4h0m5-5h0m1 0h0m2 2h0m1-3h0m10 4h0m9-1h0m-220 7h0m0 0h0m1 1h0m0 3h0m94-7h0m0 3h0m6-1h0m0 0h0m1 0h0m2-1h0m0 0h0m0 5h0m3-6h0m1 1h0m0 5h0m4-4h0m1 5h0m1-5h0m0 5h0m2-2h0m1-3h0m0 4h0m1 0h0m1-1h0m1-3h0m1 1h0m0 0h0m1-2h0m0 6h0m2 0h0m1-6h0m0 1h0m0 5h0m1-6h0m2 6h0m0 0h0m1-1h0m1-3h0m1 0h0m1-3h0m0 3h0m0 3h0m2-5h0m0 1h0m2 5h0m1-2h0m1-3h0m1 3h0m3-1h0m1-1h0m0 3h0m1-2h0m0 1h0m3-2h0m3 1h0m0 2h0m1-6h0m3 4h0m5 2h0m1-4h0m1 5h0m1 0h0m2-6h0m9-1h0m11 0h0m12 3h0m2-3h0m5 5h0m2-4h0m4 6h0m-210 7h0m1 0h0m2 0h0m2-1h0m0 1h0m1-5h0m0 3h0m2-4h0m2 3h0m57 0h0m3 4h0m3-3h0m6 1h0m10 0h0m3-5h0m0 1h0m0 3h0m2 1h0m0 2h0m2 0h0m5-2h0m0 2h0m1-5h0m0 4h0m1-3h0m1-2h0m1 3h0m1 1h0m3-2h0m3-2h0m0 3h0m1-3h0m0 4h0m2-3h0m1-1h0m1 0h0m0 0h0m0 6h0m1-4h0m2 3h0m2-4h0m0 2h0m2-2h0m1 3h0m2 2h0m1-5h0m2 0h0m0 3h0m1 1h0m1-3h0m1 0h0m1 0h0m1-1h0m0 2h0m1-3h0m0 1h0m0 1h0m1-2h0m0 1h0m0 1h0m3-3h0m0 4h0m1-1h0m2 0h0m4-3h0m1 1h0m0 2h0m0 2h0m2 1h0m4-4h0m1-2h0m2 4h0m0 1h0m1-3h0m0 1h0m3-3h0m37 0h0m3 1h0m6 4h0m2-4h0m5 2h0m9 0h0m18 3h0m-239 3h0m4 1h0m3 0h0m3 1h0m2 2h0m39-4h0m8 5h0m5-5h0m3 0h0m0 5h0m5-4h0m3 5h0m17-5h0m1 4h0m3-6h0m3 4h0m2-4h0m0 5h0m1-5h0m1 2h0m2-1h0m0 5h0m0 1h0m2-3h0m3 1h0m3-5h0m0 5h0m2 0h0m2-4h0m2 0h0m1 4h0m1-5h0m0 1h0m5 1h0m0 4h0m0 0h0m2-2h0m0 0h0m4 2h0m0 1h0m1-1h0m1-4h0m0 2h0m1-4h0m2 2h0m0 1h0m0 0h0m1 2h0m1-5h0m0 7h0m1-3h0m1-3h0m2 2h0m6 0h0m0 1h0m0 2h0m1-2h0m3-1h0m4-3h0m2 1h0m37 5h0m7-5h0m3 3h0m0 1h0m1-1h0m1-4h0m1 3h0m1-2h0m2 6h0m1-6h0m5 0h0m0 2h0m17 0h0m1 4h0m3-6h0m5 6h0m-243 2h0m2 3h0m2-1h0m8 3h0m42 0h0m4-6h0m1 6h0m2-4h0m3-1h0m2 1h0m2 3h0m1 0h0m4-4h0m1-1h0m0 6h0m2-1h0m9-4h0m7-1h0m6 3h0m0 0h0m7 3h0m0 1h0m2 0h0m2-5h0m2 0h0m0 0h0m1-1h0m1 2h0m1-2h0m3 2h0m0 2h0m6-3h0m1 0h0m0 0h0m2-2h0m1 0h0m2 2h0m1 5h0m1-5h0m1-1h0m0 3h0m1-2h0m0 1h0m1-1h0m0 5h0m3-6h0m1-1h0m0 0h0m2 0h0m0 1h0m3 6h0m1-6h0m0 4h0m0 1h0m0 1h0m1-1h0m3-4h0m1 2h0m1 1h0m1-4h0m6 2h0m31-2h0m2 4h0m1-4h0m4 0h0m0 3h0m1 3h0m1-3h0m1 2h0m1-3h0m0 1h0m1 1h0m1 2h0m1-4h0m1 4h0m4-4h0m0 2h0m1-4h0m1 6h0m2-6h0m1 5h0m1-4h0m6 1h0m0 0h0m10-1h0m1-2h0m13 2h0m2 2h0m1-4h0m-245 8h0m3 3h0m42 2h0m3 0h0m8-5h0m0 1h0m1 5h0m2-3h0m1 1h0m1-2h0m1-2h0m1 7h0m3-5h0m2 0h0m0 4h0m0 1h0m2-7h0m4 4h0m3-3h0m1 2h0m4 2h0m7-5h0m19 0h0m0 3h0m2-1h0m3 4h0m3-1h0m1 2h0m5 0h0m1 0h0m1 0h0m1-4h0m0 3h0m0 1h0m1-2h0m2 1h0m2-2h0m0 2h0m1-6h0m0 3h0m1-2h0m1 3h0m3-3h0m2 6h0m1-3h0m5 1h0m1-5h0m3 4h0m2-3h0m2 5h0m2-5h0m2 6h0m9-4h0m1-3h0m0 7h0m20-2h0m2-2h0m3 3h0m5-6h0m3 2h0m3 3h0m4-5h0m0 0h0m2 4h0m2-4h0m3 1h0m3 4h0m1-5h0m1 6h0m14-3h0m0 1h0m4 2h0m3-2h0m4-1h0m2 2h0m-191 3h0m2 2h0m7 4h0m2-6h0m0 2h0m2 3h0m6 1h0m1-3h0m5 2h0m2 0h0m24 2h0m1-6h0m5 6h0m5-2h0m3-3h0m0 4h0m1-3h0m2-1h0m0 5h0m1-5h0m1-2h0m0 6h0m1-3h0m1-1h0m2-2h0m0 3h0m1 3h0m0 0h0m1 0h0m1-5h0m1-1h0m2 1h0m2 2h0m0 2h0m0 2h0m1-5h0m2-2h0m0 2h0m1 5h0m2-6h0m1 6h0m8-7h0m4 5h0m3-4h0m0 1h0m33 2h0m1-1h0m2 0h0m3-1h0m6-2h0m1 4h0m5-4h0m0 5h0m7-5h0m4 7h0m1-7h0m4 4h0m4 0h0m4-1h0m1 0h0m9 2h0m-194 9h0m4-2h0m2-1h0m2-2h0m5 1h0m4 4h0m4-2h0m3-4h0m0 2h0m3 0h0m4 3h0m0 0h0m0 2h0m2-1h0m3 0h0m2-2h0m1-2h0m5-1h0m0 1h0m0 3h0m5-3h0m4 4h0m5 1h0m1-7h0m0 5h0m2 2h0m3-3h0m0 2h0m0 1h0m1-4h0m1 0h0m0 4h0m3-4h0m1-3h0m1 7h0m1-4h0m1-2h0m1 2h0m2 2h0m2-3h0m2 4h0m1-6h0m0 4h0m1-3h0m1 4h0m4-1h0m1 1h0m0 1h0m1-5h0m0 4h0m1 1h0m1 0h0m2-2h0m3 1h0m6 2h0m1-6h0m0 3h0m2-4h0m2 2h0m13 5h0m5-5h0m3-1h0m17 4h0m1-3h0m11 1h0m17 3h0m3 1h0m2-3h0m4-1h0m13-2h0m-200 14h0m5-2h0m0 2h0m1-2h0m1 1h0m0 1h0m6 0h0m5-5h0m1 2h0m0 3h0m1-6h0m1 2h0m1-3h0m0 5h0m1-5h0m7 0h0m1 3h0m3-1h0m0 5h0m1-6h0m0 3h0m1 2h0m2-5h0m0 4h0m1-2h0m1 2h0m2 2h0m4-2h0m0 1h0m1-1h0m2-3h0m3 3h0m2-4h0m2 0h0m0 2h0m0 1h0m1 0h0m0 2h0m1-2h0m1 1h0m1-3h0m0 2h0m1-3h0m0 0h0m0 2h0m0 3h0m1-3h0m3 4h0m7-5h0m1-1h0m3 1h0m0 1h0m3 4h0m1-6h0m0 4h0m1-5h0m0 1h0m0 3h0m0 3h0m2-5h0m3 2h0m1 2h0m2-4h0m2 1h0m1-1h0m2 0h0m3-1h0m3-1h0m1 0h0m2 5h0m3-5h0m0 2h0m0 3h0m4-3h0m1 0h0m3 0h0m6 3h0m5-3h0m0 4h0m6-5h0m3 0h0m20-1h0m7 1h0m22 1h0m1 0h0m5-2h0m11 5h0m-246 9h0m31-2h0m1 1h0m18 0h0m0 1h0m0 1h0m2-2h0m3-5h0m1 4h0m4-1h0m0 4h0m1-2h0m2 0h0m0 1h0m1-5h0m0 6h0m2-2h0m0 2h0m0 0h0m0 0h0m3-5h0m0 1h0m2 1h0m3-3h0m0 1h0m0 1h0m2 3h0m6-5h0m4 0h0m2-1h0m0 1h0m0 6h0m1-7h0m0 5h0m3-3h0m3 3h0m1-1h0m0 3h0m2-2h0m3-1h0m1 1h0m2-4h0m1 5h0m1-2h0m1-3h0m1 6h0m1-3h0m1 1h0m1-2h0m2 1h0m0 2h0m1-4h0m6-1h0m0 2h0m1 4h0m1-1h0m1 1h0m1-2h0m1-5h0m0 5h0m3 2h0m2 0h0m6-7h0m0 4h0m2 2h0m1-2h0m1-4h0m2 0h0m1 6h0m1 0h0m1-2h0m4 2h0m2-5h0m0 1h0m1 2h0m3 3h0m5-2h0m24-5h0m8 6h0m1 0h0m3 1h0m10-5h0m3 2h0m0 3h0m6-6h0m2 5h0m1-1h0m1-3h0m4 3h0m1-5h0m1 6h0m2-2h0m2-2h0m2-1h0m3-1h0m3 7h0m-233 3h0m4-1h0m23 5h0m13-6h0m2 1h0m1 1h0m1 1h0m2 3h0m4-4h0m2-2h0m1 1h0m1 4h0m0 2h0m1-7h0m0 6h0m4-4h0m1 0h0m0 4h0m1-3h0m0 1h0m2-2h0m4 2h0m8-4h0m0 4h0m2-3h0m2 4h0m1-5h0m0 4h0m1-4h0m4 2h0m5 5h0m1-3h0m2-3h0m0 0h0m2-1h0m0 3h0m2-3h0m0 3h0m1-3h0m1 7h0m1-6h0m3 3h0m1-2h0m1-1h0m0 0h0m3 2h0m5 0h0m1 0h0m1-2h0m1 5h0m1-1h0m0 2h0m1-5h0m1 4h0m1-2h0m3 2h0m0 0h0m1-5h0m3 6h0m1 0h0m3-1h0m1-1h0m0 0h0m0 2h0m2-2h0m4 2h0m4-7h0m2 7h0m1-6h0m0 1h0m7 5h0m3-6h0m2 2h0m2 2h0m8-4h0m6 1h0m12 0h0m0 2h0m2 0h0m36 0h0m2 3h0m2-6h0m4 1h0m7-2h0m0 4h0m2-1h0m3 1h0m-244 6h0m0 2h0m13-4h0m8 2h0m7 4h0m4-3h0m1 1h0m1-4h0m3 2h0m0 2h0m0 3h0m3-7h0m2 0h0m2 0h0m0 2h0m0 4h0m0 1h0m1-7h0m0 6h0m1-6h0m0 1h0m2 2h0m1-3h0m0 2h0m1 1h0m2 2h0m0 2h0m3-2h0m4 0h0m0 1h0m7-2h0m2 0h0m2-3h0m9 0h0m12 3h0m1-4h0m0 4h0m3 2h0m0 0h0m1 0h0m5 1h0m2-6h0m0 3h0m2-3h0m3 2h0m3 0h0m7 1h0m1-3h0m14-1h0m7 1h0m2 4h0m0 2h0m3-6h0m4 3h0m6 2h0m6 1h0m5-2h0m5 0h0m36 0h0m7-3h0m14 4h0m4-4h0m2-1h0m5 4h0m-246 5h0m2-1h0m7-1h0m1 6h0m4-5h0m5 4h0m4-5h0m8 5h0m3 0h0m1-4h0m1 5h0m1-3h0m4 3h0m1-3h0m3-3h0m1 4h0m7-2h0m3 2h0m8 2h0m11-3h0m1-3h0m3 6h0m1 0h0m8-1h0m1 1h0m5-3h0m2-2h0m0 3h0m4-4h0m0 5h0m1-3h0m0 5h0m1-7h0m0 0h0m1 0h0m0 0h0m4 4h0m0 1h0m0 0h0m1-3h0m2-2h0m0 7h0m3-3h0m1-3h0m1 6h0m4-1h0m1-1h0m1-5h0m0 0h0m1 1h0m0 0h0m1 6h0m1 0h0m2-5h0m1 1h0m0 0h0m3 0h0m5-3h0m6 5h0m12-2h0m1-3h0m17 2h0m3 0h0m20 5h0m6-7h0m16 1h0m5 4h0m2-3h0m11 3h0m9 2h0m0 0h0m-240 1h0m11 1h0m10 5h0m1-6h0m7 7h0m3-3h0m2 2h0m3 0h0m2-5h0m7 2h0m4 3h0m5-6h0m1 0h0m0 4h0m0 2h0m13 1h0m1-7h0m1 7h0m3-3h0m10 3h0m5-1h0m0 1h0m1-1h0m2-1h0m4 0h0m1 2h0m1-5h0m0 1h0m5 2h0m0 1h0m5 1h0m1-2h0m2-1h0m1-3h0m1 5h0m0 1h0m2 0h0m1-6h0m0 4h0m3-3h0m6 5h0m3-2h0m2 0h0m2-3h0m0 4h0m1-5h0m5 5h0m0 0h0m6-1h0m1 1h0m41 0h0m7 1h0m0 0h0m1-1h0m2-2h0m0 1h0m1 2h0m38-5h0m1 1h0m9 3h0m1-1h0m1-1h0m-230 5h0m3 4h0m2 2h0m1 0h0m8-3h0m4-4h0m1 1h0m2-1h0m1 0h0m1 6h0m1-6h0m6 7h0m1 0h0m9-1h0m3-3h0m0 4h0m1-7h0m0 7h0m3-3h0m1 3h0m1-4h0m1-2h0m2 6h0m2-1h0m2-2h0m6-3h0m5 1h0m1-1h0m1-1h0m2 2h0m1 0h0m4 2h0m4-1h0m2 3h0m1 0h0m7-2h0m0 0h0m1-4h0m1 4h0m0 1h0m1-5h0m0 2h0m0 0h0m1 1h0m1 3h0m0 0h0m2-6h0m9 7h0m1-7h0m1 6h0m4-5h0m0 5h0m1 0h0m1-2h0m0 1h0m2-5h0m0 1h0m3 4h0m1-4h0m4 2h0m0 4h0m5-6h0m3-1h0m36 1h0m0 6h0m7 0h0m2-5h0m0 3h0m0 1h0m9-4h0m10 5h0m15-2h0m6 0h0m8-1h0m1-1h0m-232 12h0m11-6h0m1 4h0m9 0h0m0 0h0m4 1h0m3-6h0m0 2h0m1 4h0m0 0h0m3 1h0m3-3h0m2-4h0m0 6h0m3 1h0m1-5h0m2 3h0m1-4h0m9 4h0m1-3h0m1 4h0m4-2h0m1 2h0m4-5h0m1 4h0m1-4h0m1 3h0m10-3h0m2 5h0m2-6h0m0 1h0m1 2h0m1-2h0m2 0h0m0 3h0m6 0h0m5-3h0m4 1h0m2 3h0m4 1h0m5-4h0m0 2h0m3 2h0m0 0h0m4-3h0m1-3h0m3 4h0m0 2h0m3-5h0m3 0h0m0 2h0m4-1h0m2 3h0m2 0h0m1-1h0m7-2h0m3 2h0m0 3h0m4-6h0m12 4h0m6 1h0m6 0h0m0 1h0m4-4h0m2-1h0m0 5h0m3-2h0m2-4h0m8 3h0m1-1h0m0 3h0m2-6h0m5 3h0m6 3h0m2-1h0m0 1h0m1-1h0m1 0h0m1-1h0m2 2h0m2-2h0m1-2h0m5 4h0m1-1h0m1 2h0m2-1h0m3 0h0m-225 2h0m3 5h0m7-1h0m9-4h0m5 5h0m2-4h0m1-1h0m0 5h0m1-2h0m5 2h0m2 0h0m3-5h0m0 3h0m4 2h0m1-4h0m1 3h0m5-2h0m2 3h0m1-1h0m3 0h0m6-4h0m2 2h0m1 2h0m12-2h0m4-2h0m4 2h0m3 3h0m4-1h0m6-1h0m0 0h0m2-3h0m1 2h0m7 2h0m11 1h0m3-1h0m4-2h0m0 2h0m2-4h0m10 1h0m1 0h0m18-1h0m8 4h0m1-2h0m11 0h0m1 1h0m0 1h0m1 0h0m3-2h0m0 2h0m4-3h0m1 2h0m7 1h0m3-2h0m5-2h0m0 2h0m8 2h0m3-2h0m4 0h0m7-1h0m4 1h0" stroke="#A47660" stroke-opacity="0.75" stroke-width="3.2" stroke-linecap="round" fill="none"/><path transform="translate(220 40) scale(.5)" d="M81 1h0m1 0h0m1 5h0m5 0h0m4 1h0m2-4h0m4-1h0m8 0h0m5 3h0m3-3h0m6 2h0m4-3h0m5 2h0m7 4h0m4-1h0m1-2h0m2 2h0m1-1h0m8-3h0m3 5h0m3-4h0m0 2h0m19-2h0m0 3h0m3-6h0m0 2h0m0 3h0m1-2h0m3 2h0m0 1h0m5-4h0m0 3h0m5-1h0m2 3h0m2-2h0m35-1h0m-161 10h0m5-6h0m11 1h0m5 3h0m3-1h0m3 0h0m7-1h0m1 5h0m2-3h0m3 1h0m4-4h0m1 2h0m2-2h0m0 3h0m1 1h0m7 1h0m8-2h0m4-4h0m1 5h0m17-3h0m0 5h0m7-2h0m12-5h0m1 5h0m0 2h0m1-7h0m7 3h0m2 2h0m1 2h0m1-1h0m2-3h0m4 2h0m57-3h0m-189 8h0m6-1h0m6 6h0m1-7h0m3 6h0m1-6h0m0 5h0m0 0h0m2 0h0m1-2h0m0 1h0m1 3h0m1-6h0m5 0h0m1 2h0m0 1h0m1-2h0m3-1h0m3 6h0m1-1h0m9 0h0m1-5h0m0 2h0m6-2h0m3 4h0m2 1h0m2-4h0m0 2h0m1 1h0m3-3h0m4 2h0m2 3h0m4 0h0m12-6h0m1 5h0m5 0h0m3 0h0m2-2h0m2 1h0m4-1h0m1-3h0m9 5h0m5-6h0m8 0h0m4 3h0m3-1h0m1 5h0m3-7h0m1 5h0m5 1h0m-205 7h0m8-2h0m2 4h0m41-5h0m19-1h0m4 1h0m1-1h0m3 2h0m4 0h0m4-3h0m4 7h0m2-5h0m0 2h0m2 0h0m2-1h0m5-1h0m1 1h0m0 1h0m3-4h0m2 7h0m1-7h0m5 2h0m3-2h0m0 4h0m2-3h0m0 2h0m0 4h0m3-5h0m0 1h0m1-2h0m1 5h0m1-5h0m0 1h0m1 0h0m1 0h0m1 5h0m5-6h0m2-1h0m6 1h0m0 6h0m4-3h0m1 1h0m7-3h0m2-1h0m6-1h0m1 7h0m1-5h0m1 3h0m1 2h0m32-2h0m1-5h0m2 0h0m0 7h0m2-4h0m3-1h0m1 3h0m5-5h0m6 3h0m35-2h0m-251 13h0m3 0h0m6-6h0m0 7h0m0 0h0m49-6h0m19 4h0m1-3h0m2-1h0m13 2h0m1 0h0m2 3h0m3-2h0m4-3h0m0 0h0m7 4h0m10-5h0m2 2h0m1 4h0m2-3h0m0 3h0m3-6h0m0 2h0m5 4h0m3-6h0m0 4h0m1-3h0m1 4h0m0 1h0m1-1h0m3 0h0m1 1h0m2-1h0m1-1h0m3-3h0m3 5h0m4-6h0m1 4h0m0 1h0m6 2h0m30-7h0m-193 13h0m3 2h0m1-1h0m2-5h0m1 6h0m1-4h0m0 2h0m3 1h0m53-3h0m7 4h0m5-4h0m31 0h0m4 3h0m1-6h0m1 2h0m2 3h0m10-3h0m7 2h0m1 3h0m5-5h0m2 2h0m2-4h0m4 7h0m1-4h0m0 1h0m3-2h0m0 2h0m5-3h0m5 1h0m3-1h0m44 0h0m5-1h0m1 7h0m-211 4h0m5-3h0m2 5h0m0 2h0m50 0h0m4-6h0m2 1h0m1 1h0m3 4h0m3-7h0m0 4h0m6-3h0m0 4h0m2-2h0m0 2h0m2-3h0m13 2h0m1-4h0m5 0h0m0 4h0m13-4h0m1 5h0m4-5h0m0 0h0m9 2h0m0 0h0m3 3h0m5 0h0m1-4h0m0 6h0m2 0h0m3-3h0m2-4h0m0 0h0m2 2h0m0 4h0m2-5h0m0 3h0m1-1h0m6-1h0m3 0h0m40 0h0m19 1h0m20 4h0m5-1h0m1-1h0m1 1h0m-236 3h0m52 3h0m9-2h0m19 2h0m8 1h0m2-3h0m2 4h0m12-4h0m3-1h0m1-1h0m7 2h0m1 1h0m2 0h0m0 1h0m3 3h0m1-3h0m4-4h0m2 4h0m1-2h0m5-1h0m4 4h0m1 0h0m2-3h0m3-2h0m5 7h0m14-1h0m24-3h0m1 2h0m6 0h0m0 2h0m2-5h0m3 2h0m3 0h0m1 2h0m3-4h0m0 3h0m22 2h0m2 0h0m2-6h0m0 3h0m3-3h0m0 3h0m2-3h0m5 3h0m-249 4h0m56 1h0m13 4h0m1-4h0m4 0h0m1 1h0m1 3h0m2-5h0m23 0h0m11 4h0m7 3h0m2 0h0m4-3h0m1 0h0m0 0h0m3 0h0m2-2h0m0 2h0m1-2h0m4-2h0m0 7h0m2-7h0m1 6h0m4-4h0m22 4h0m25-3h0m2 2h0m0 2h0m3-3h0m10 0h0m9-3h0m1 0h0m0 3h0m2-2h0m12-1h0m16-1h0m3 1h0m0 1h0m1 4h0m-188 6h0m12 0h0m1 0h0m1 0h0m4 3h0m3-5h0m9 4h0m11-2h0m10-4h0m7 5h0m0 1h0m5-2h0m2-2h0m0 1h0m2 1h0m4-1h0m0 1h0m1-3h0m3 2h0m6-1h0m0 4h0m3 1h0m2-1h0m2-6h0m3 7h0m8-2h0m9-5h0m4 4h0m3-4h0m13 5h0m1-5h0m6 0h0m0 7h0m2-5h0m21-1h0m8 0h0m8 5h0m-172 5h0m5-1h0m9 1h0m6 3h0m14-2h0m1 3h0m3-1h0m3 1h0m5-1h0m2-6h0m1 5h0m1 1h0m1-3h0m3 2h0m2 2h0m1-1h0m4-3h0m3 3h0m4-2h0m4 1h0m4-5h0m1 1h0m1 2h0m8 3h0m1-3h0m5-2h0m6 0h0m0 4h0m1 2h0m1-6h0m6 1h0m2 2h0m2-4h0m1 3h0m7 2h0m8-3h0m3 0h0m31-2h0m3 5h0m-162 7h0m1-2h0m1 5h0m1-3h0m4-1h0m1 3h0m3-5h0m4 4h0m6-5h0m2 1h0m1 1h0m0 5h0m2 0h0m4-2h0m3-3h0m4-1h0m0 5h0m1-3h0m3 2h0m6-4h0m0 5h0m2-4h0m1-2h0m5 1h0m4 2h0m3-1h0m7 5h0m6-2h0m4 1h0m1-3h0m1 2h0m0 2h0m2-4h0m5-2h0m1 1h0m4 3h0m7-4h0m1 6h0m14-4h0m2 4h0m9-5h0m14 1h0m17 2h0m3-1h0m-218 4h0m46 3h0m8-1h0m3 2h0m6-4h0m16 3h0m1-3h0m8 4h0m6 2h0m2-6h0m0 5h0m2-2h0m2-2h0m0 1h0m2-1h0m2 3h0m0 1h0m1-2h0m4-3h0m0 3h0m3 4h0m1 0h0m9-4h0m1 2h0m4 2h0m1 0h0m8 0h0m3-7h0m1 7h0m5 0h0m5-1h0m1-1h0m1 2h0m6-5h0m3-2h0m6 5h0m6-5h0m8 1h0m36 5h0m7-6h0m1 6h0m2-2h0m8-3h0m5 2h0m5-1h0m-252 13h0m31 0h0m24-3h0m5 3h0m1-3h0m4-1h0m2 2h0m1-2h0m0 4h0m4 0h0m1-3h0m2-2h0m2 3h0m2 0h0m6-3h0m22 2h0m1-3h0m1 1h0m1 1h0m0 3h0m1-6h0m1 5h0m4-4h0m0 5h0m5-2h0m1 1h0m5-5h0m5 4h0m5-4h0m2 7h0m4-3h0m15 1h0m5-1h0m0 3h0m10-1h0m16 0h0m21-5h0m17-1h0m5 6h0m3-6h0m2 0h0m7 4h0m-228 10h0m3-1h0m7 0h0m1-4h0m1 5h0m3-1h0m1-4h0m6 2h0m3 4h0m8-5h0m3 1h0m1-1h0m7-2h0m10 5h0m0 1h0m3-4h0m3 1h0m16-2h0m3 2h0m3-3h0m2 6h0m7-5h0m0 1h0m0 4h0m1-6h0m0 6h0m7 1h0m2-2h0m1-3h0m3 0h0m8 1h0m3-2h0m4 6h0m4-6h0m2 6h0m19-4h0m42-1h0m11 1h0m20-2h0m13 5h0m-239 7h0m4-1h0m6-3h0m1-1h0m3 2h0m7 0h0m11-1h0m1 4h0m16 0h0m15-3h0m3-1h0m5 1h0m6 4h0m4 0h0m8-5h0m4 4h0m1 1h0m2-6h0m0 3h0m1 2h0m0 2h0m1-3h0m1-2h0m2 5h0m6-5h0m3 3h0m2 1h0m9 1h0m26-3h0m32 2h0m19-3h0m26-3h0m-219 11h0m1 0h0m6-1h0m5 4h0m4 0h0m3-3h0m3 3h0m0 1h0m6-7h0m0 6h0m2-2h0m1-1h0m1-3h0m4 0h0m5 5h0m2-4h0m2 4h0m3 1h0m4-6h0m1 0h0m2 6h0m12-5h0m12 2h0m6 4h0m3-7h0m0 0h0m1 1h0m2 5h0m4-2h0m10 0h0m0 2h0m1 0h0m8-6h0m1 6h0m3-2h0m3-2h0m8 5h0m3-1h0m5 1h0m32 0h0m7-6h0m11 4h0m10-1h0m26-4h0m12 6h0m-230 4h0m11 4h0m3 0h0m5-6h0m0 3h0m1 0h0m3-2h0m1 1h0m1 5h0m3-4h0m0 1h0m4-4h0m36 4h0m6-2h0m1 5h0m3-2h0m0 2h0m1-1h0m7-2h0m1 0h0m1 0h0m24-3h0m1 2h0m4-1h0m5 1h0m5 0h0m3 1h0m11-4h0m40 1h0m9 2h0m20-1h0m0 1h0m1 2h0m4-4h0m4 5h0m11-6h0m1 2h0m-228 12h0m1 1h0m6-2h0m7 1h0m2 1h0m9-1h0m12-2h0m3-3h0m1 3h0m7 2h0m2-2h0m1 0h0m6-4h0m2 1h0m0 2h0m9 1h0m3-3h0m4 1h0m2-1h0m9-1h0m3 7h0m9-4h0m8 0h0m2 1h0m0 2h0m7-2h0m1-1h0m6-3h0m4 3h0m1 0h0m2 3h0m4-5h0m3 0h0m1 0h0m20-1h0m3 1h0m6 1h0m0 5h0m1-5h0m3-1h0m11 5h0m1-5h0m7 3h0m5 0h0m3 1h0m1-4h0m14 6h0m5-6h0m3-1h0m-213 13h0m8-5h0m2 5h0m3-4h0m13-1h0m1 2h0m2-1h0m22 1h0m19 3h0m3-2h0m8-2h0m3 2h0m2-3h0m0 3h0m7 0h0m0 1h0m0 1h0m6-5h0m1 4h0m9-4h0m2 1h0m6 2h0m3 0h0m9 0h0m2-1h0m6 3h0m8 0h0m12-2h0m4 0h0m6-1h0m13 2h0m7 0h0m2-4h0m4 4h0m7 1h0m15-5h0" stroke="#845440" stroke-opacity="0.6" stroke-width="2.2" stroke-linecap="round" fill="none"/><ellipse cx="292.0" cy="49.7" rx="5.4" ry="6" fill="#F8F9FC" fill-opacity="1.0"/><ellipse cx="220.0" cy="111.0" rx="5" ry="8" fill="#F2F4F9" fill-opacity="1.0" filter="url(#bl1)"/><ellipse cx="313.3" cy="105.4" rx="2.5" ry="2.5" fill="#E0E8F6" fill-opacity="1.0"/></g></g>
<g clip-path="url(#cB2)"><g filter="url(#fbB2)"><rect x="347.3" y="37" width="132.7" height="84.7" fill="#C8D2EA"/><path d="M350.3,40.0 L360.3,40.0 L355.3,70.0 L350.3,80.0Z" fill="#E2E4EA" fill-opacity="1.0" filter="url(#bl2)"/><path d="M460.3,40.0 L477.3,40.0 L477.3,80.0 L468.3,60.0Z" fill="#E2E4EA" fill-opacity="1.0" filter="url(#bl2)"/><path d="M350.3,100.0 L375.3,98.0 L385.3,110.0 L380.3,119.0 L350.3,119.0Z" fill="#E4E6EC" fill-opacity="1.0" filter="url(#bl2)"/><path d="M350.3,115.0 L477.3,110.0 L477.3,119.0 L350.3,119.0Z" fill="#DADEEA" fill-opacity="1.0" filter="url(#bl1)"/><path transform="translate(350.3 40) scale(.5)" d="M10 3h0m1-2h0m15 1h0m10 0h0m6 2h0m10-3h0m27 3h0m0 3h0m5-7h0m0 4h0m2-2h0m34 4h0m9-6h0m18 1h0m8 6h0m13-7h0m1 7h0m48-6h0m3 6h0m3-3h0m8 0h0m8-3h0m12 0h0m-250 12h0m1 2h0m15 0h0m7-5h0m3 3h0m1-1h0m4-4h0m3 1h0m12 6h0m2-5h0m7 0h0m24 4h0m6-3h0m17 3h0m2-6h0m38 3h0m12 3h0m3 0h0m12-1h0m7-5h0m6 5h0m3 0h0m27 1h0m9 0h0m11-5h0m6 5h0m4-4h0m1 4h0m-226 9h0m9-5h0m1-2h0m3 6h0m2 0h0m0 1h0m2-2h0m43-3h0m6 4h0m15-4h0m14 0h0m24 3h0m4-1h0m1 1h0m3-5h0m18 1h0m9 1h0m40 0h0m1 2h0m-213 7h0m1 4h0m1 0h0m1-4h0m2-1h0m11-2h0m2 7h0m4-3h0m8 0h0m25-1h0m10-1h0m5 4h0m26 0h0m8-2h0m4 1h0m22 2h0m3-6h0m19 0h0m5 3h0m1 3h0m9-6h0m4 6h0m1-3h0m9-1h0m44-2h0m7-1h0m21 6h0m-251 9h0m1-3h0m4-3h0m2 5h0m5-3h0m2 0h0m9 2h0m2-3h0m2 3h0m18 2h0m4-5h0m5 4h0m1-5h0m30 5h0m2 0h0m33-6h0m0 5h0m20-5h0m0 4h0m20-1h0m16 0h0m1-3h0m0 2h0m8 2h0m12 0h0m17-1h0m3 3h0m18-3h0m5 2h0m2 1h0m-236 8h0m1-2h0m17-1h0m7 0h0m2-3h0m38 7h0m6-4h0m7 3h0m5 0h0m1-1h0m9-2h0m3-3h0m56 7h0m8-4h0m2-2h0m11 6h0m2-2h0m0 1h0m1-5h0m10 1h0m23-2h0m1 1h0m1-1h0m8 2h0m17-2h0m8 7h0m-236 1h0m14 0h0m3 6h0m4-3h0m4 2h0m29 2h0m10 0h0m1-1h0m1-6h0m16 0h0m9 1h0m3-1h0m44 5h0m2 0h0m6-3h0m24-2h0m3 4h0m8-2h0m12-1h0m1-1h0m14 2h0m7 0h0m6 0h0m4 3h0m4-1h0m2-4h0m3 2h0m2-1h0m-246 7h0m1 0h0m10 0h0m4 3h0m4-2h0m1 0h0m0 2h0m2 1h0m7-1h0m32 0h0m4 1h0m20 1h0m0 2h0m14 0h0m34-2h0m34-1h0m1 1h0m2-2h0m13-1h0m9 0h0m2 2h0m5-3h0m5 5h0m3-3h0m4 0h0m9-3h0m1 7h0m1-5h0m9-1h0m1 2h0m9-3h0m-245 8h0m8 1h0m1 0h0m8 1h0m1 2h0m7-1h0m2 0h0m8 2h0m14-4h0m15-1h0m38 5h0m6-5h0m4 4h0m5 2h0m17-3h0m0 3h0m7-4h0m9 4h0m2-6h0m7 0h0m2 2h0m25 4h0m20 0h0m9-1h0m2 1h0m2-3h0m2 0h0m8 2h0m1 2h0m2-3h0m2 3h0m8-2h0m2 2h0m6-5h0m-238 11h0m12-5h0m3 7h0m23-2h0m2 2h0m4-3h0m3 1h0m39-2h0m2-2h0m25-1h0m5 1h0m2 4h0m12-1h0m19-4h0m15 4h0m3 0h0m9 2h0m11-6h0m11 7h0m1-4h0m12 2h0m5 1h0m4-6h0m13 0h0m2 4h0m2 3h0m-246 3h0m7 0h0m1-2h0m5 6h0m4-6h0m13 5h0m15 2h0m3 0h0m15-1h0m6 1h0m8-6h0m16 6h0m35-6h0m7 2h0m1 0h0m16 2h0m16-5h0m1 2h0m6 0h0m22 4h0m10-1h0m24-4h0m0 2h0m3 4h0m4-3h0m7-3h0m-249 7h0m6 6h0m12-1h0m2-3h0m13-1h0m0 6h0m22-7h0m2 2h0m16 5h0m6-3h0m90 1h0m14-4h0m30 6h0m31-7h0m2 2h0m2 0h0m-249 12h0m11 1h0m9-4h0m4 2h0m2-4h0m0 0h0m4 1h0m7 1h0m1-1h0m16 4h0m3-6h0m3 6h0m17-4h0m2 2h0m2-2h0m1 1h0m0 0h0m9 4h0m4-5h0m8-1h0m4 6h0m4-7h0m8 3h0m20-2h0m2 4h0m10-1h0m30 2h0m19-4h0m32 4h0m5-2h0m5-3h0m1 1h0m5 2h0m-249 8h0m18-2h0m0 2h0m17 1h0m9-2h0m7 0h0m6 2h0m9 2h0m15-3h0m39 0h0m36-1h0m3 0h0m29 1h0m9-3h0m44 2h0m5-3h0m5 1h0m1 5h0m-251 6h0m6-1h0m0 3h0m3-6h0m7 2h0m8-2h0m2 4h0m19 0h0m3 1h0m3-5h0m12 5h0m2-3h0m7-2h0m10 1h0m45 1h0m20 5h0m7 0h0m8-2h0m4-1h0m1-2h0m8 0h0m6 2h0m15-1h0m7 1h0m3 3h0m15-1h0m0 1h0m4-6h0m1 0h0m0 4h0m1-4h0m6 4h0m1-2h0m1 1h0m13 0h0m-245 5h0m5-1h0m3 7h0m15-1h0m30-2h0m6 0h0m19-4h0m0 7h0m1-4h0m14-2h0m3 6h0m23-4h0m3 4h0m4-5h0m29 5h0m21-3h0m1-1h0m16-2h0m18 4h0m15-2h0m3 0h0m1-2h0m9-1h0m5 4h0m4-1h0m0 4h0m-247 1h0m1 1h0m3 3h0m1-1h0m1-3h0m4 4h0m2 3h0m13-4h0m3 0h0m11-3h0m1 1h0m2 5h0m5 1h0m13-6h0m0 2h0m6 1h0m1-1h0m8 4h0m22-2h0m2-5h0m49 5h0m20-3h0m30 3h0m9-3h0m6 1h0m1-2h0m1 0h0m4 3h0m6-3h0m0 4h0m15-1h0m-243 4h0m1 6h0m1-5h0m2-1h0m9 6h0m7-2h0m5-4h0m5 4h0m3-1h0m15-1h0m1 4h0m4-6h0m3 6h0m15-5h0m15 0h0m6 3h0m1-4h0m7 4h0m6-3h0m17 6h0m2-7h0m3 1h0m2 6h0m9-6h0m17 4h0m29-2h0m2 1h0m2-3h0m4 2h0m7-2h0m5 3h0m11-4h0m12 5h0m3 0h0m6 0h0m-239 3h0m1 0h0m13 0h0m5 5h0m1-2h0m2 4h0m3-1h0m4-4h0m12-1h0m1 0h0m2 2h0m11-2h0m7 3h0m5-1h0m1-3h0m0 7h0m1-4h0m0 2h0m10-2h0m5 4h0m8-7h0m8 4h0m35-4h0m50 2h0m12 4h0m3-6h0m18 0h0m17 1h0m1-1h0m4 1h0m8 3h0m3 1h0m-247 6h0m1 1h0m5-3h0m19-1h0m2 3h0m0 2h0m3-4h0m2 2h0m22-1h0m2 2h0m12-1h0m1-3h0m16 5h0m15-3h0m5 1h0m51-3h0m20 3h0m22 1h0m29 1h0m2-2h0m0 1h0m7-1h0m11-1h0" stroke="#E2E6F0" stroke-opacity="1.0" stroke-width="4.0" stroke-linecap="round" fill="none"/><path transform="translate(350.3 40) scale(.5)" d="M0 1h0m1 1h0m2-1h0m3 2h0m1 2h0m1-3h0m3 2h0m8-2h0m5 2h0m2 2h0m2-1h0m2-2h0m0 0h0m4 1h0m1 1h0m1-3h0m4 1h0m0 4h0m2-6h0m0 3h0m1-3h0m0 1h0m0 1h0m5 1h0m1-2h0m0 4h0m1-3h0m0 4h0m1-2h0m2 1h0m1-2h0m1-3h0m0 5h0m3-6h0m8 7h0m1-6h0m3 0h0m2-1h0m0 7h0m1-4h0m0 3h0m5-5h0m0 0h0m1 1h0m3 1h0m1 1h0m2-1h0m0 4h0m2-6h0m0 2h0m0 1h0m1-1h0m0 3h0m1-5h0m3 1h0m1 2h0m0 1h0m1 1h0m1-1h0m0 0h0m0 0h0m2-5h0m0 3h0m1 3h0m4 0h0m3-1h0m0 0h0m1 1h0m4-2h0m2 2h0m2-5h0m1 0h0m0 6h0m3-3h0m0 1h0m1 1h0m1-4h0m0 4h0m1-6h0m0 6h0m2-5h0m1 4h0m4-4h0m2 4h0m1-2h0m0 1h0m0 2h0m1-2h0m0 3h0m1-6h0m0 2h0m4 0h0m0 1h0m1-3h0m2 1h0m4-1h0m1 3h0m1 0h0m1-2h0m0 4h0m1 0h0m2-2h0m1-4h0m0 0h0m1 2h0m3-1h0m0 4h0m1-1h0m2-1h0m0 3h0m2-1h0m1 1h0m1-5h0m0 6h0m1-5h0m0 2h0m0 3h0m1 0h0m1-5h0m0 5h0m2-4h0m0 3h0m4-4h0m0 1h0m2 2h0m1-5h0m0 2h0m1 4h0m2 0h0m1-2h0m1 0h0m1-1h0m0 1h0m2-4h0m0 1h0m0 2h0m3-3h0m1 3h0m4 1h0m2-1h0m1 1h0m6 2h0m1-5h0m0 6h0m1-4h0m0 4h0m4-6h0m0 3h0m1-1h0m3 0h0m2-2h0m1 1h0m1 2h0m3 0h0m5-1h0m0 2h0m2-5h0m1 4h0m1 2h0m3 0h0m12 1h0m3-5h0m1 5h0m3-2h0m1-4h0m1 3h0m3-2h0m0 4h0m-251 4h0m1 1h0m1-1h0m0 2h0m3-1h0m7-1h0m2-2h0m1 3h0m0 1h0m1 0h0m0 2h0m11-5h0m1 1h0m2 5h0m2-7h0m1 4h0m1 2h0m2 0h0m1-5h0m0 5h0m2-2h0m2-2h0m1-2h0m1 4h0m1 0h0m1 2h0m2-6h0m1 2h0m0 4h0m0 0h0m1-4h0m0 5h0m1-2h0m1-4h0m2 0h0m0 5h0m3-6h0m4 0h0m0 2h0m0 0h0m2-1h0m0 4h0m0 2h0m1-7h0m0 1h0m1 0h0m2 2h0m1-2h0m0 2h0m0 2h0m0 1h0m1-5h0m1 1h0m0 2h0m3-4h0m1 4h0m0 3h0m3-3h0m1 0h0m1 0h0m3-1h0m0 0h0m0 0h0m1 1h0m0 3h0m1-5h0m0 3h0m2-3h0m0 5h0m2-7h0m0 3h0m1-2h0m1 0h0m2 1h0m0 3h0m1-5h0m1 6h0m1-1h0m4-4h0m3 0h0m0 2h0m0 3h0m5-6h0m0 1h0m0 3h0m0 3h0m1-7h0m3 0h0m0 2h0m0 2h0m1-4h0m0 6h0m2-3h0m1 3h0m1-3h0m1 0h0m1-2h0m1-1h0m0 1h0m2 2h0m0 2h0m4-1h0m0 1h0m2 2h0m3-4h0m0 0h0m3-2h0m0 1h0m1 4h0m0 1h0m2-6h0m1 3h0m0 0h0m2-4h0m0 1h0m0 4h0m1-4h0m2 2h0m0 1h0m0 3h0m2-2h0m1-5h0m2 2h0m0 1h0m2 4h0m1-3h0m4 3h0m1-1h0m2-4h0m4 1h0m2-1h0m0 0h0m2-2h0m0 4h0m5 2h0m2-3h0m0 3h0m0 0h0m0 0h0m1 1h0m2-2h0m1-1h0m4-1h0m1-3h0m2 3h0m0 2h0m1-3h0m5 2h0m0 3h0m1-6h0m1 2h0m0 0h0m0 2h0m0 1h0m1-6h0m2 1h0m0 1h0m0 3h0m0 1h0m1-2h0m1-3h0m0 3h0m1 1h0m2-5h0m1 3h0m2-3h0m0 6h0m6 0h0m1-6h0m5 3h0m2-3h0m0 1h0m1 3h0m0 1h0m2-2h0m2-3h0m0 5h0m4 1h0m1-3h0m1 4h0m1-5h0m0 5h0m2-3h0m0 3h0m1-3h0m2-1h0m0 4h0m1-6h0m3 2h0m0 2h0m2-4h0m10 3h0m1-4h0m0 1h0m2 0h0m0 2h0m0 3h0m-251 3h0m4 2h0m1 1h0m2 1h0m1-2h0m0 1h0m8 1h0m2 2h0m4 0h0m6-6h0m1 0h0m5 4h0m0 2h0m2-7h0m1 1h0m1 1h0m1 4h0m1-2h0m1-1h0m2-1h0m2 4h0m1-6h0m0 2h0m1-2h0m2 2h0m1-1h0m1 1h0m2-2h0m1 0h0m1 1h0m0 1h0m0 2h0m2 0h0m0 3h0m4-1h0m1-3h0m1 2h0m2-4h0m3 1h0m0 3h0m4 1h0m1-6h0m2 5h0m4-3h0m1 0h0m3 0h0m2-2h0m0 0h0m0 1h0m0 3h0m0 1h0m1 0h0m1-5h0m0 2h0m0 5h0m3-4h0m1 4h0m1-7h0m2 0h0m0 6h0m3 0h0m1-6h0m0 2h0m4 0h0m2 1h0m0 4h0m2-6h0m1 4h0m6-4h0m0 2h0m0 0h0m1-1h0m1 2h0m3-2h0m2 4h0m1 0h0m3-2h0m1-2h0m0 2h0m1-3h0m0 3h0m2 0h0m0 2h0m1-6h0m0 4h0m0 3h0m1-7h0m0 1h0m1-1h0m1 3h0m3-2h0m2 6h0m1-6h0m0 3h0m0 3h0m3-1h0m3-1h0m4-1h0m4-3h0m1 2h0m6-2h0m0 2h0m2 4h0m4-3h0m1-3h0m1 4h0m2-3h0m3 3h0m1-2h0m2-2h0m0 5h0m1-3h0m0 2h0m2-5h0m0 6h0m2-5h0m1 2h0m0 3h0m1-3h0m2-2h0m2 2h0m4 1h0m1 2h0m3-4h0m2-2h0m0 1h0m1 2h0m1 3h0m1 1h0m2-6h0m1 5h0m6 0h0m1-5h0m3 1h0m1-1h0m0 0h0m7 1h0m6 5h0m1-5h0m1-1h0m5 0h0m0 2h0m4 3h0m1-6h0m4 1h0m0 1h0m0 2h0m2-2h0m0 4h0m1-6h0m1 3h0m1 2h0m2-3h0m0 2h0m0 2h0m2-6h0m1 3h0m-250 8h0m1 1h0m2-2h0m1-1h0m2 3h0m0 3h0m2-1h0m5-4h0m0 1h0m3 3h0m1 1h0m1-6h0m0 6h0m1-5h0m1 0h0m1 5h0m1-6h0m3-1h0m1 0h0m2 0h0m0 6h0m4-4h0m0 4h0m1-6h0m0 2h0m0 1h0m1 0h0m2-2h0m1 0h0m1 4h0m1 0h0m2-2h0m1-1h0m2 5h0m1-7h0m0 3h0m1 2h0m2-5h0m0 6h0m2-3h0m1 4h0m1-4h0m1 3h0m1-1h0m2-5h0m0 1h0m1 5h0m0 1h0m1-6h0m2 5h0m1-1h0m1-4h0m2 1h0m2-1h0m0 2h0m2-3h0m1 2h0m4-1h0m0 1h0m0 3h0m0 2h0m0 0h0m1-4h0m1-2h0m0 6h0m2-6h0m0 2h0m1 3h0m2-5h0m0 4h0m0 1h0m0 1h0m6-5h0m1 1h0m0 1h0m0 1h0m3-4h0m1 2h0m1-2h0m0 6h0m1-4h0m1-3h0m0 4h0m1-2h0m1-1h0m1 6h0m3-5h0m2-1h0m1-1h0m0 1h0m1-1h0m0 2h0m0 5h0m4-4h0m1 3h0m1-1h0m2-4h0m1 3h0m1-4h0m1 0h0m1 4h0m0 1h0m3-3h0m0 3h0m1-1h0m0 2h0m0 0h0m1-3h0m0 1h0m0 1h0m1 1h0m0 0h0m2-6h0m0 1h0m2 0h0m2 3h0m1 2h0m0 0h0m1 0h0m6-6h0m4 2h0m0 5h0m1-6h0m0 3h0m0 1h0m0 1h0m2 0h0m1-5h0m0 4h0m1 0h0m1-5h0m0 5h0m1-5h0m2 5h0m2 1h0m2-5h0m1 2h0m1-3h0m2 1h0m0 1h0m3 0h0m1 0h0m2 0h0m0 1h0m0 1h0m1-1h0m1 1h0m0 0h0m0 1h0m1 1h0m4-1h0m2-3h0m0 3h0m3-2h0m2 1h0m1 1h0m2-5h0m2 0h0m1 1h0m0 1h0m0 1h0m2-3h0m2 7h0m1-2h0m1-3h0m1 5h0m2-7h0m4 2h0m1-2h0m0 0h0m0 5h0m4 0h0m1-1h0m2 1h0m1 1h0m1-1h0m1-1h0m9 0h0m0 3h0m2-3h0m0 3h0m1-3h0m1 1h0m0 0h0m1-2h0m0 0h0m0 1h0m1 3h0m1-2h0m2-4h0m0 3h0m3 1h0m0 1h0m1 0h0m5-4h0m1-1h0m5 0h0m6 6h0m3-7h0m-244 8h0m0 1h0m3 1h0m3-2h0m1 4h0m1-4h0m0 4h0m1-3h0m5 6h0m1-7h0m0 6h0m1-2h0m3 0h0m0 2h0m1-1h0m4-4h0m0 4h0m1-4h0m0 4h0m1 1h0m1-3h0m7 0h0m4 3h0m2-3h0m3 0h0m0 2h0m0 1h0m3-1h0m0 1h0m1-6h0m0 5h0m1-2h0m1-3h0m1 2h0m0 5h0m1-6h0m0 4h0m2-3h0m1-1h0m1 6h0m1-4h0m0 2h0m3-5h0m0 6h0m1-5h0m0 0h0m0 4h0m1-5h0m0 0h0m1 5h0m2-5h0m0 6h0m2 0h0m1-2h0m1 0h0m0 2h0m1-5h0m1 1h0m0 0h0m2 0h0m2-2h0m0 6h0m1-1h0m2-1h0m1 0h0m1-3h0m1 5h0m0 1h0m3-5h0m1 1h0m4 4h0m1-6h0m3 2h0m0 3h0m0 1h0m2-3h0m0 1h0m6-5h0m3 1h0m1-1h0m3 6h0m1-1h0m5 0h0m0 0h0m1-4h0m4 2h0m1 1h0m0 0h0m2-3h0m1 4h0m4-2h0m1 0h0m0 1h0m1-3h0m3 6h0m1-5h0m1 0h0m0 1h0m1 2h0m0 0h0m2-5h0m0 1h0m3 1h0m2-1h0m1 1h0m0 5h0m2-6h0m5 3h0m0 1h0m1-1h0m3 1h0m2-2h0m0 1h0m1-1h0m1 3h0m2-5h0m3-1h0m1 1h0m0 2h0m1-2h0m2 6h0m2-6h0m0 1h0m0 3h0m1-4h0m0 1h0m0 0h0m1-2h0m0 6h0m0 1h0m1-6h0m1 2h0m1 3h0m1-5h0m1 6h0m3-6h0m0 5h0m3-6h0m0 4h0m2-3h0m0 6h0m2-4h0m2 2h0m2-3h0m0 0h0m2 1h0m0 2h0m1-5h0m1 5h0m0 1h0m1-1h0m1 1h0m2-2h0m7-3h0m0 4h0m0 1h0m1 1h0m3-1h0m2-3h0m4-2h0m1 6h0m1-7h0m1 2h0m0 0h0m4-1h0m5 4h0m3-3h0m2 2h0m3-1h0m2-3h0m0 6h0m8-3h0m-251 6h0m7-1h0m1 3h0m0 3h0m1-2h0m1 1h0m0 0h0m5-3h0m1 3h0m1-4h0m0 4h0m1 1h0m0 0h0m1-3h0m0 3h0m1-1h0m1-2h0m0 2h0m2 1h0m2-5h0m1 2h0m0 4h0m9-1h0m1 1h0m1-3h0m0 1h0m4-3h0m1-2h0m0 7h0m3-6h0m0 0h0m1 4h0m1 1h0m1-3h0m1-1h0m1 1h0m2-1h0m1 3h0m2 0h0m0 2h0m1-7h0m3 7h0m3-6h0m1 0h0m0 5h0m4-3h0m0 2h0m2-3h0m0 1h0m1-2h0m0 2h0m1-2h0m1 0h0m3 2h0m0 1h0m0 0h0m1-3h0m1 4h0m2 1h0m1-4h0m0 5h0m1-5h0m1-1h0m0 6h0m1-5h0m1-2h0m0 1h0m0 2h0m2 4h0m1-4h0m0 2h0m0 0h0m1 1h0m1-6h0m0 3h0m0 2h0m0 1h0m2 1h0m1-6h0m0 1h0m2-2h0m2 4h0m1-1h0m0 3h0m1 0h0m3-5h0m1 1h0m2-2h0m0 2h0m1 1h0m0 2h0m0 2h0m1-1h0m1-6h0m0 6h0m1-2h0m0 2h0m1-3h0m2 0h0m0 2h0m1 1h0m0 0h0m1-5h0m1 3h0m1-1h0m2 4h0m2-7h0m0 0h0m0 0h0m0 1h0m3 4h0m0 1h0m2-4h0m3 5h0m1-5h0m1 0h0m0 2h0m1-3h0m0 5h0m4-5h0m0 6h0m1-7h0m0 2h0m1-2h0m0 5h0m3 0h0m0 2h0m3-7h0m0 7h0m2-6h0m0 1h0m1 5h0m1-1h0m7-3h0m1 4h0m1-5h0m1-2h0m0 3h0m3-3h0m1 1h0m0 3h0m3-2h0m1 3h0m3-2h0m1-3h0m0 1h0m0 0h0m1 1h0m0 0h0m1 1h0m2 0h0m0 0h0m1 0h0m1-3h0m1 1h0m1-1h0m1 1h0m1-1h0m0 7h0m2-6h0m0 3h0m2-2h0m0 5h0m2-6h0m3 4h0m1 0h0m1 1h0m3-6h0m3 7h0m1-7h0m1 6h0m3-2h0m1-1h0m0 2h0m1 2h0m1-1h0m1-4h0m0 4h0m1-2h0m1-2h0m0 5h0m3-7h0m0 2h0m0 4h0m1-4h0m2-1h0m0 6h0m2-5h0m2 1h0m2-2h0m0 3h0m1-1h0m2 2h0m0 2h0m1-2h0m0 0h0m3 1h0m1-3h0m0 2h0m5 1h0m1-1h0m4-3h0m0 4h0m3-6h0m0 1h0m1 3h0m0 0h0m1 2h0m1-2h0m0 2h0m0 1h0m1-3h0m1 1h0m3 1h0m4-6h0m1 3h0m0 4h0m-251 3h0m0 1h0m2 3h0m1-6h0m0 4h0m3-1h0m2-2h0m0 3h0m0 2h0m1-6h0m3 0h0m0 6h0m3-6h0m1 4h0m0 1h0m1-3h0m2-1h0m0 3h0m3-2h0m1-2h0m0 1h0m0 5h0m1 1h0m3 0h0m2 0h0m7-3h0m1-4h0m0 7h0m1-3h0m2-4h0m0 3h0m5-1h0m0 1h0m2 0h0m1-3h0m1 0h0m3 1h0m0 4h0m0 1h0m2-4h0m0 4h0m1-6h0m0 1h0m2 5h0m1-5h0m1 5h0m1-6h0m0 5h0m0 1h0m3-5h0m1 3h0m1-2h0m1 2h0m2-1h0m1-3h0m2 6h0m1-1h0m0 1h0m0 1h0m1-3h0m0 3h0m1-7h0m0 3h0m0 1h0m2-2h0m1 3h0m2-3h0m5-1h0m0 2h0m1 1h0m2-2h0m1-2h0m1 5h0m1-5h0m1 0h0m1 0h0m1 0h0m0 2h0m0 2h0m2-4h0m0 4h0m0 1h0m1-5h0m1 0h0m0 0h0m2 2h0m1 1h0m1 0h0m1 4h0m1-6h0m1 6h0m1-3h0m4-4h0m1 3h0m0 0h0m1-3h0m0 1h0m0 1h0m0 2h0m1 0h0m1 2h0m1-5h0m2 0h0m0 5h0m3-2h0m0 0h0m0 3h0m1-2h0m2-4h0m0 6h0m2-5h0m2-2h0m0 2h0m0 4h0m2 1h0m1-5h0m1 0h0m1-2h0m2 2h0m0 1h0m0 3h0m2-6h0m0 6h0m4 1h0m1-2h0m1-1h0m1-3h0m1 4h0m2-4h0m0 1h0m3-2h0m0 6h0m2 1h0m2-7h0m0 7h0m3 0h0m1-2h0m1-1h0m1-4h0m0 6h0m3 0h0m1-2h0m1 2h0m1 0h0m1-1h0m1-2h0m2 3h0m3-2h0m2 3h0m2-4h0m2 4h0m2-7h0m0 1h0m0 1h0m0 2h0m1 1h0m1 0h0m0 1h0m0 0h0m0 1h0m4 0h0m1 0h0m2-6h0m1 3h0m1 1h0m1-1h0m0 3h0m1-3h0m1 3h0m2-1h0m1-1h0m2-5h0m0 4h0m0 2h0m2-1h0m0 0h0m1-4h0m1 0h0m1 0h0m1 4h0m2-5h0m1 2h0m1-2h0m0 0h0m1 3h0m0 2h0m4-5h0m0 2h0m2 2h0m5-1h0m0 4h0m1-5h0m1-1h0m2 6h0m2-5h0m1 4h0m2-2h0m1 2h0m3-3h0m1 0h0m0 1h0m3-4h0m0 4h0m0 0h0m2 3h0m5-3h0m1 2h0m1-4h0m0 5h0m0 0h0m3-4h0m-249 8h0m2 2h0m2 0h0m1-3h0m1 4h0m5-3h0m0 4h0m6-3h0m5 0h0m4 3h0m1-7h0m1 6h0m1-4h0m1 2h0m0 1h0m1 2h0m1-3h0m1 1h0m1 1h0m2-3h0m2 1h0m0 1h0m1-2h0m0 3h0m1-1h0m1 0h0m0 1h0m1-6h0m1 5h0m1-1h0m2-1h0m1-2h0m0 2h0m0 3h0m0 1h0m3-4h0m0 2h0m2 1h0m2 0h0m1 0h0m0 1h0m2 0h0m1-2h0m1 2h0m1-7h0m2 1h0m0 1h0m0 2h0m0 3h0m1-2h0m2-5h0m1 5h0m0 1h0m1-5h0m0 1h0m2 0h0m0 3h0m1-4h0m0 6h0m2-5h0m2 1h0m0 0h0m1-3h0m1 0h0m1 0h0m1 4h0m3 2h0m1-2h0m1-3h0m0 6h0m3-3h0m0 3h0m2-5h0m0 5h0m1-1h0m3-4h0m1-1h0m0 0h0m0 6h0m1-7h0m0 3h0m1 2h0m3-4h0m0 2h0m0 3h0m1-6h0m1 0h0m0 2h0m0 4h0m2-6h0m0 1h0m0 1h0m0 1h0m0 0h0m0 2h0m2-3h0m0 5h0m3-2h0m2-5h0m2 0h0m0 2h0m1-2h0m2 0h0m0 0h0m1 1h0m0 1h0m0 0h0m2-1h0m0 6h0m1-2h0m1-1h0m1-2h0m0 1h0m1 0h0m1 1h0m1-1h0m0 0h0m1 3h0m1-6h0m0 0h0m2 5h0m1 2h0m3-6h0m0 3h0m4-1h0m0 4h0m2-4h0m0 4h0m1-7h0m1 4h0m0 2h0m2-6h0m0 4h0m0 0h0m0 1h0m0 0h0m0 2h0m4-5h0m0 0h0m0 1h0m0 2h0m2 0h0m3-2h0m1 4h0m1-2h0m1-1h0m1-2h0m1 4h0m5-4h0m0 5h0m2-4h0m1 3h0m1 1h0m1-5h0m0 1h0m1-3h0m1 1h0m1 5h0m2-3h0m0 2h0m1-2h0m1 3h0m0 1h0m4-5h0m2 5h0m1-4h0m0 3h0m2-1h0m0 1h0m5-5h0m1 6h0m1-1h0m0 1h0m1-7h0m1 4h0m0 2h0m2-6h0m2 4h0m1 3h0m1-3h0m2 0h0m2-4h0m1 5h0m1-5h0m1 7h0m1-6h0m0 1h0m1 3h0m1-2h0m0 1h0m0 3h0m1-3h0m3-4h0m0 1h0m1 2h0m1-3h0m0 7h0m1-6h0m1 3h0m1-2h0m1 2h0m1 1h0m1 0h0m1 2h0m2-7h0m1 0h0m0 3h0m1-2h0m0 4h0m3-4h0m3 2h0m1 1h0m2 2h0m1-5h0m0 1h0m0 3h0m1 0h0m0 2h0m2-1h0m6-4h0m2 0h0m1 2h0m0 3h0m1-7h0m2 4h0m2-3h0m1 4h0m0 0h0m-252 8h0m1-4h0m4-1h0m2 3h0m3-3h0m0 6h0m2-6h0m4 3h0m4 3h0m0 0h0m1-2h0m2 1h0m2-1h0m0 2h0m1-1h0m1-3h0m2 2h0m2-2h0m0 5h0m1-7h0m0 3h0m1-2h0m2-1h0m1 4h0m2-1h0m0 4h0m1 0h0m0 0h0m3-5h0m0 1h0m0 1h0m0 3h0m2-4h0m3 2h0m0 2h0m1-1h0m2-6h0m1 1h0m1 4h0m0 1h0m0 0h0m1 0h0m0 1h0m2-2h0m2-2h0m0 2h0m1 0h0m1 2h0m2 0h0m4-7h0m1 0h0m4 5h0m0 1h0m3-5h0m2-1h0m0 1h0m1 3h0m1 3h0m1 0h0m1-7h0m0 1h0m0 1h0m1 1h0m0 3h0m1-5h0m2 1h0m1-2h0m0 4h0m1-2h0m0 5h0m1-6h0m0 5h0m1-3h0m1 1h0m0 3h0m2 0h0m1-7h0m0 6h0m2-5h0m1 4h0m2-4h0m0 1h0m0 5h0m2-1h0m2-2h0m0 1h0m3 0h0m2 1h0m3-3h0m0 4h0m1-4h0m0 0h0m3 1h0m0 2h0m1-6h0m0 6h0m2-2h0m1-2h0m0 3h0m2-2h0m0 4h0m1-2h0m1-5h0m2 2h0m1-1h0m0 4h0m3 1h0m1-3h0m2-2h0m0 6h0m3-2h0m0 2h0m1-5h0m1-1h0m3-1h0m0 4h0m1-3h0m2 1h0m1 5h0m1-4h0m0 0h0m2 3h0m2 0h0m1-5h0m0 6h0m1-4h0m1-3h0m2 0h0m0 1h0m0 1h0m0 2h0m2-2h0m0 1h0m1 4h0m1-6h0m2-1h0m0 6h0m1-3h0m0 4h0m1-4h0m4-3h0m2 0h0m0 6h0m2-4h0m1 0h0m1 0h0m0 3h0m1-3h0m1 4h0m2-4h0m1 4h0m0 1h0m1 0h0m1-6h0m1 1h0m7 3h0m2-4h0m0 6h0m3 0h0m3-3h0m0 0h0m1 2h0m1-3h0m1 3h0m0 1h0m1-7h0m1 3h0m0 0h0m0 3h0m1-2h0m1-2h0m1 4h0m1-2h0m2-2h0m0 4h0m1-5h0m0 2h0m1-3h0m1 3h0m4 3h0m4-6h0m3 2h0m0 3h0m2 2h0m0 0h0m1-6h0m0 3h0m0 1h0m0 0h0m1-3h0m1-1h0m1 0h0m0 6h0m1-6h0m1 0h0m0 2h0m0 1h0m3 0h0m1-1h0m3-1h0m3 0h0m1 3h0m5-5h0m0 6h0m1-6h0m0 1h0m4 0h0m2 5h0m1-4h0m0 4h0m3-5h0m-253 14h0m3-7h0m2 3h0m0 1h0m0 1h0m1-4h0m1-1h0m0 3h0m0 2h0m1-1h0m2-2h0m1 4h0m2-3h0m1 3h0m1-5h0m1 0h0m1 2h0m0 4h0m1-4h0m1-1h0m1-1h0m1-1h0m0 4h0m2 2h0m1-4h0m1 2h0m0 3h0m2-3h0m2-4h0m0 2h0m3 2h0m3 1h0m2-3h0m0 5h0m1-7h0m0 6h0m1-5h0m0 5h0m3 0h0m1-2h0m1 1h0m0 0h0m1 2h0m1-4h0m1 2h0m1-4h0m3 1h0m2 2h0m1-4h0m0 1h0m1 1h0m4 4h0m2-1h0m3 1h0m1-2h0m0 1h0m3 0h0m1 1h0m1-5h0m0 0h0m0 2h0m1 0h0m2-2h0m0 4h0m2 0h0m2 0h0m2-1h0m0 1h0m4-3h0m0 3h0m1-2h0m1-1h0m4 3h0m1-5h0m0 1h0m0 0h0m3 4h0m1-2h0m1 2h0m2-4h0m0 1h0m0 0h0m2 4h0m4-3h0m2-3h0m0 2h0m0 2h0m1-4h0m0 7h0m1-7h0m0 7h0m1-5h0m1-2h0m0 3h0m1 4h0m1-7h0m3 2h0m0 4h0m2-1h0m1-4h0m0 1h0m0 3h0m1-4h0m0 6h0m1-5h0m4 3h0m0 2h0m1-3h0m0 1h0m1-2h0m2 3h0m3-5h0m0 6h0m2-4h0m0 3h0m1 0h0m1 0h0m2-5h0m0 3h0m1 3h0m1-5h0m0 1h0m0 4h0m1-6h0m0 0h0m1 4h0m0 2h0m3-6h0m1 5h0m2-6h0m3 2h0m0 3h0m0 2h0m2-4h0m2-1h0m0 2h0m1-1h0m1-1h0m1 3h0m1 0h0m0 1h0m2 0h0m0 1h0m1-6h0m0 3h0m1-2h0m0 4h0m1-4h0m4-1h0m3 4h0m1-3h0m1-2h0m1 4h0m0 3h0m2-6h0m3-1h0m1 2h0m2 4h0m0 1h0m1-6h0m0 2h0m0 1h0m2-4h0m3 3h0m2-2h0m0 1h0m0 0h0m1 4h0m1-1h0m0 2h0m0 0h0m5-7h0m0 4h0m1 0h0m0 2h0m1 1h0m4 0h0m7-5h0m1 2h0m0 0h0m1-1h0m2 1h0m1 0h0m1-2h0m1 5h0m2-6h0m0 3h0m3-3h0m1 2h0m1-3h0m0 3h0m0 4h0m0 0h0m1-2h0m1-1h0m1 1h0m0 0h0m1-3h0m0 3h0m0 1h0m2-5h0m2 1h0m0 0h0m1 2h0m1-1h0m0 1h0m2 3h0m7-6h0m0 0h0m0 5h0m1-2h0m1-1h0m0 0h0m2 2h0m1-3h0m0 2h0m2 0h0m1-1h0m2-3h0m0 4h0m-249 4h0m1 2h0m1 4h0m0 0h0m1-6h0m0 5h0m1-5h0m1 5h0m1 0h0m0 1h0m1-5h0m2 0h0m1 4h0m2-4h0m1 3h0m2-1h0m1-1h0m1-1h0m0 1h0m0 3h0m0 0h0m0 1h0m1-4h0m0 5h0m2-3h0m5 1h0m1-2h0m0 1h0m1 2h0m1-6h0m0 4h0m1-3h0m1 3h0m2-4h0m0 5h0m1 2h0m0 0h0m2-7h0m0 5h0m0 0h0m1-3h0m2 1h0m1-1h0m0 0h0m1-1h0m0 0h0m0 4h0m1 1h0m1-5h0m0 4h0m1-1h0m0 0h0m0 1h0m1-5h0m0 1h0m0 5h0m1-4h0m0 1h0m0 1h0m0 2h0m0 1h0m1-5h0m0 5h0m3 0h0m1-7h0m0 2h0m1-2h0m2 1h0m0 2h0m0 1h0m3 0h0m0 3h0m1-7h0m0 1h0m0 6h0m1-7h0m0 2h0m0 1h0m1 0h0m2 1h0m0 3h0m1-5h0m0 4h0m0 0h0m1-1h0m2-5h0m2 2h0m3-2h0m0 2h0m0 3h0m1-1h0m1-2h0m1-2h0m0 3h0m1 0h0m4-1h0m0 3h0m1 2h0m1-5h0m1-2h0m2 6h0m1-3h0m1-3h0m0 5h0m2-5h0m0 3h0m1 2h0m0 2h0m2-3h0m1-1h0m0 2h0m1-2h0m0 4h0m0 0h0m0 0h0m0 0h0m1-7h0m0 4h0m0 0h0m0 1h0m1-3h0m3 0h0m1-2h0m0 4h0m1-4h0m0 0h0m0 7h0m3-6h0m0 3h0m1-4h0m1 6h0m1-4h0m0 1h0m0 3h0m1-1h0m1-4h0m0 1h0m0 3h0m1-5h0m0 2h0m0 0h0m7-2h0m0 1h0m1-1h0m3 1h0m3 1h0m0 1h0m1-2h0m3 0h0m0 5h0m3-3h0m0 4h0m1-7h0m0 1h0m0 4h0m1-3h0m0 5h0m3-7h0m0 5h0m1-2h0m3 1h0m0 2h0m3-6h0m0 3h0m0 2h0m1-2h0m0 1h0m1-1h0m0 2h0m1 0h0m4-4h0m0 4h0m3 2h0m1-7h0m0 1h0m1 2h0m0 3h0m1-2h0m1-2h0m0 2h0m2 3h0m0 0h0m2-5h0m4 0h0m3 4h0m1-1h0m2-1h0m2-4h0m1 3h0m0 1h0m0 1h0m5-4h0m0 4h0m1-2h0m2-2h0m1-1h0m1 1h0m2 0h0m0 3h0m0 2h0m4-6h0m0 2h0m0 0h0m1-1h0m0 3h0m0 3h0m2-2h0m2 0h0m1-5h0m0 3h0m0 2h0m3 1h0m2-4h0m0 1h0m0 1h0m1 0h0m1 3h0m0 0h0m2-7h0m3 6h0m2-4h0m1-2h0m2 1h0m0 4h0m3 0h0m1-5h0m1 0h0m0 1h0m0 5h0m1-3h0m0 1h0m1-4h0m0 3h0m1-2h0m0 2h0m0 1h0m0 0h0m1-4h0m2 1h0m0 1h0m0 3h0m0 0h0m0 0h0m1-3h0m1-1h0m2 4h0m4-2h0m0 2h0m1-4h0m1-1h0m0 1h0m0 3h0m0 0h0m1 1h0m2-5h0m0 4h0m1 0h0m4-3h0m1 1h0m2 4h0m1 1h0m1-2h0m2 0h0m0 1h0m2-5h0m0 2h0m0 2h0m1-3h0m-251 9h0m1 2h0m2-2h0m1 2h0m5-3h0m2 1h0m0 4h0m1-5h0m1-1h0m0 5h0m0 1h0m1-5h0m1 4h0m0 1h0m1-5h0m1 2h0m2 2h0m2-6h0m3 3h0m2-3h0m0 6h0m1-2h0m2-1h0m7 0h0m0 2h0m1 2h0m1-5h0m1 5h0m2-2h0m1-3h0m0 1h0m0 3h0m1-6h0m1 6h0m1 1h0m1-3h0m0 1h0m1-4h0m1 1h0m2 2h0m0 1h0m1-3h0m0 2h0m2-2h0m0 4h0m1-3h0m4-1h0m0 1h0m3 2h0m1-5h0m0 4h0m4-2h0m0 1h0m0 1h0m2 2h0m1 0h0m1-2h0m1-2h0m1 1h0m3 1h0m0 2h0m2-2h0m1 2h0m2-4h0m0 3h0m2-2h0m0 0h0m1 0h0m1 4h0m1-7h0m0 0h0m0 6h0m0 0h0m3-2h0m0 1h0m2 0h0m1 2h0m2-4h0m1 1h0m0 1h0m1-2h0m2-1h0m1 3h0m1-5h0m0 3h0m0 1h0m1-3h0m1 0h0m0 5h0m1-5h0m0 0h0m1 1h0m0 1h0m2 0h0m1-3h0m1 2h0m1-1h0m1-1h0m1 6h0m1-6h0m1 2h0m0 1h0m3-1h0m3-1h0m4-1h0m3 4h0m1-2h0m0 4h0m1-2h0m5-1h0m1-3h0m0 0h0m0 1h0m0 2h0m0 3h0m1-3h0m0 4h0m1-1h0m0 0h0m1-4h0m1-1h0m1 6h0m1-7h0m0 7h0m6-5h0m2 1h0m1 2h0m1-3h0m2-2h0m1 7h0m1-6h0m2 1h0m2 4h0m3-4h0m3 0h0m1-2h0m1 3h0m0 1h0m2 2h0m0 1h0m1-5h0m0 3h0m0 1h0m1-3h0m0 4h0m3-5h0m1 5h0m1-6h0m1 1h0m0 5h0m3-7h0m0 0h0m1 1h0m0 2h0m3-1h0m0 3h0m2-5h0m0 3h0m2-2h0m0 4h0m1-2h0m1 2h0m0 2h0m1-1h0m1-6h0m0 3h0m0 1h0m1-4h0m0 3h0m2-3h0m2 6h0m2-6h0m1 1h0m1 1h0m0 2h0m0 0h0m0 2h0m1-5h0m0 4h0m1 1h0m1-1h0m2 1h0m1-6h0m0 3h0m1-1h0m1-2h0m0 2h0m0 3h0m1-3h0m1 4h0m5-4h0m1 0h0m3 4h0m1-4h0m0 1h0m0 3h0m1-6h0m0 1h0m0 2h0m0 0h0m4 0h0m2-2h0m0 2h0m5-2h0m0 4h0m4-5h0m2 5h0m1-5h0m0 6h0m0 0h0m1 1h0m2-5h0m0 0h0m0 3h0m1-2h0m0 4h0m2-7h0m2 5h0m-246 7h0m0 2h0m1-5h0m0 0h0m2 2h0m0 3h0m4-5h0m1-1h0m0 7h0m4-1h0m3 1h0m0 0h0m1-3h0m3 0h0m2-4h0m0 1h0m1-1h0m0 4h0m3-4h0m1 4h0m1 1h0m1-4h0m2 2h0m1 2h0m3-5h0m0 0h0m9 1h0m0 6h0m2-6h0m0 0h0m0 3h0m1-3h0m3 5h0m2-4h0m1 1h0m1 2h0m1 1h0m1 0h0m0 1h0m0 0h0m1-2h0m1-2h0m0 1h0m1 3h0m1-5h0m1-1h0m0 4h0m1-5h0m0 3h0m1-1h0m0 1h0m0 1h0m0 2h0m2-5h0m1 1h0m0 1h0m0 1h0m2-3h0m1 2h0m1 2h0m1-4h0m0 0h0m0 4h0m3-2h0m0 2h0m3-4h0m1 3h0m1-3h0m0 4h0m1-3h0m0 1h0m1 1h0m0 0h0m1 2h0m1-5h0m1 3h0m0 2h0m1-1h0m1 0h0m1-4h0m0 5h0m2-5h0m0 5h0m1-6h0m0 1h0m0 3h0m1 1h0m2-2h0m0 3h0m2-3h0m3 1h0m1-1h0m3 0h0m0 2h0m2-5h0m0 3h0m1-2h0m2 1h0m0 1h0m1 2h0m2 2h0m2-3h0m3-3h0m0 6h0m1-2h0m4-1h0m1-3h0m0 4h0m1-4h0m0 6h0m1-6h0m0 1h0m0 2h0m0 3h0m3-7h0m0 6h0m1 0h0m1-4h0m1 0h0m2 0h0m1 1h0m1-3h0m0 2h0m0 1h0m0 0h0m2-1h0m0 0h0m0 0h0m0 5h0m2-6h0m3 2h0m1 1h0m1 3h0m3-6h0m1 3h0m0 2h0m1-3h0m2 2h0m1-3h0m0 0h0m2-2h0m0 4h0m0 2h0m0 1h0m3-2h0m0 1h0m1-1h0m0 2h0m2-5h0m2-2h0m0 0h0m0 2h0m1-1h0m1 0h0m0 2h0m0 0h0m0 1h0m0 1h0m3-1h0m1 1h0m1 2h0m2-6h0m0 1h0m0 4h0m1 0h0m0 1h0m2-4h0m0 0h0m0 3h0m1-6h0m0 1h0m2 4h0m1 1h0m2-5h0m1 3h0m1 1h0m2-5h0m1 1h0m0 2h0m0 1h0m1 2h0m1-6h0m0 1h0m1 4h0m2-1h0m1-3h0m0 0h0m2 4h0m1-4h0m1-1h0m2 3h0m1-1h0m1 2h0m0 2h0m1-1h0m2 2h0m2-1h0m1 0h0m1-3h0m1 1h0m2-4h0m0 4h0m1 0h0m8-3h0m1 1h0m1 5h0m1-3h0m0 1h0m3-2h0m0 4h0m2 0h0m3-1h0m1-4h0m1 5h0m1-4h0m1 3h0m1 0h0m2-6h0m0 0h0m0 1h0m0 1h0m2 0h0m0 2h0m0 1h0m1 0h0m0 1h0m1-3h0m3-2h0m2 6h0m1-5h0m0 5h0m1 0h0m3-3h0m2-3h0m1 1h0m-247 12h0m1-1h0m1-2h0m1-1h0m2 4h0m1-2h0m1-3h0m4 6h0m2-7h0m0 3h0m0 2h0m0 0h0m1 2h0m2-3h0m0 3h0m1-4h0m4-3h0m0 3h0m3 2h0m1-4h0m1 0h0m0 0h0m0 4h0m1-5h0m0 5h0m0 0h0m4-2h0m0 0h0m1-2h0m2 5h0m1-1h0m2-4h0m3 4h0m1-3h0m0 3h0m2-3h0m0 2h0m3 3h0m2-6h0m0 3h0m1-4h0m0 5h0m1-3h0m1 0h0m3-2h0m0 3h0m0 1h0m1-4h0m0 3h0m3 1h0m2 2h0m1 0h0m1 1h0m1-5h0m1 5h0m1-7h0m0 2h0m2-1h0m2 1h0m0 1h0m0 4h0m2-4h0m1 1h0m1-4h0m1 5h0m1-1h0m0 3h0m1-3h0m2 2h0m0 0h0m2-1h0m2-3h0m0 2h0m1-1h0m0 4h0m1 0h0m3-7h0m0 3h0m0 1h0m1-2h0m0 2h0m2-1h0m4 3h0m1 1h0m2-1h0m1-6h0m2 1h0m0 1h0m2-2h0m0 1h0m1 0h0m1-1h0m0 1h0m0 3h0m1-4h0m0 0h0m1 4h0m2-1h0m1-3h0m1 4h0m4-4h0m2 3h0m0 4h0m1-4h0m1-1h0m1 5h0m1-3h0m1 3h0m4-2h0m0 0h0m1-2h0m0 1h0m1-3h0m0 3h0m1-1h0m1-2h0m1 5h0m3-6h0m0 4h0m1-3h0m0 1h0m0 3h0m1-4h0m0 4h0m2-3h0m2-1h0m1-1h0m1 5h0m2 0h0m1-4h0m1 0h0m0 1h0m1 4h0m1-1h0m1-2h0m3 3h0m0 1h0m1-6h0m2 5h0m1-2h0m2 0h0m1 1h0m1-3h0m0 5h0m1-2h0m0 1h0m2-4h0m0 1h0m1 2h0m4-5h0m0 1h0m0 1h0m0 2h0m1-2h0m1-2h0m0 6h0m2-6h0m1 0h0m1 2h0m1 1h0m1 3h0m1-6h0m1 7h0m1-7h0m0 2h0m0 5h0m1-5h0m1 2h0m1-1h0m0 3h0m2 1h0m1-4h0m2-3h0m0 5h0m1 2h0m5-5h0m1 4h0m1 1h0m1-4h0m1-3h0m2 6h0m2-2h0m2-1h0m0 2h0m1 2h0m1-5h0m1 1h0m1 2h0m1-2h0m3 0h0m0 3h0m1-6h0m4 7h0m1-5h0m3 0h0m2 1h0m1 4h0m3-4h0m1 0h0m2 3h0m1-5h0m5 5h0m1-6h0m0 7h0m2-5h0m0 3h0m1-3h0m1 0h0m2 5h0m2-7h0m4 1h0m0 3h0m1 2h0m1-5h0m-253 8h0m1-1h0m4 3h0m1 0h0m3 0h0m0 1h0m1 0h0m2-1h0m0 1h0m0 1h0m2 1h0m1-5h0m3 2h0m3 0h0m1-3h0m0 7h0m3-6h0m1 2h0m0 4h0m1-7h0m1 0h0m2 5h0m1-3h0m0 2h0m6 1h0m5-4h0m0 2h0m2 4h0m2-6h0m1 5h0m2-1h0m0 2h0m1 0h0m1-5h0m6 0h0m1 0h0m1 0h0m5-2h0m1 0h0m0 3h0m2-3h0m0 3h0m1 1h0m3-1h0m0 0h0m0 1h0m0 2h0m0 1h0m2 0h0m2 0h0m1-7h0m6 3h0m0 1h0m3 0h0m1-2h0m0 5h0m1 0h0m1-5h0m1 4h0m1-4h0m0 3h0m0 0h0m0 0h0m2-2h0m1-1h0m0 2h0m1 0h0m0 3h0m1-6h0m0 3h0m1-2h0m0 5h0m2-1h0m1-6h0m0 1h0m2 2h0m1 4h0m1-2h0m0 1h0m1-4h0m1 1h0m2 4h0m1-7h0m2 5h0m0 1h0m1-6h0m0 2h0m0 3h0m1-3h0m0 2h0m2 1h0m1-4h0m2-1h0m0 3h0m3-2h0m0 3h0m1-2h0m5 0h0m1-2h0m0 7h0m0 0h0m1-3h0m3-3h0m0 4h0m1 2h0m2-2h0m4-5h0m0 7h0m4-4h0m1-2h0m1 1h0m0 1h0m1 0h0m1-3h0m1 3h0m0 4h0m3-5h0m6 2h0m1-3h0m0 2h0m0 4h0m2 0h0m1-6h0m0 2h0m0 3h0m1-6h0m0 1h0m0 0h0m1-1h0m0 5h0m0 1h0m2-3h0m0 4h0m0 0h0m3-7h0m1 7h0m1-7h0m0 0h0m0 2h0m0 0h0m0 1h0m1-2h0m0 3h0m0 0h0m1-4h0m1 3h0m0 2h0m5-3h0m0 1h0m0 2h0m2-2h0m0 1h0m1 1h0m1 1h0m1-5h0m1 3h0m1 3h0m1-7h0m0 7h0m1-3h0m1-4h0m1 1h0m1 3h0m1-1h0m0 1h0m1-4h0m2 7h0m3-4h0m0 1h0m2-1h0m2-1h0m0 4h0m1 1h0m1-2h0m1-3h0m2 0h0m2-2h0m0 4h0m0 2h0m2-6h0m1 2h0m2 0h0m1 0h0m1 0h0m2-1h0m0 3h0m1-1h0m1 3h0m1 0h0m1-5h0m1 1h0m0 3h0m0 0h0m1-5h0m1 0h0m0 1h0m3 5h0m2-5h0m1 6h0m1-2h0m1-5h0m0 4h0m0 1h0m2-3h0m0 0h0m0 4h0m1-2h0m0 0h0m3-3h0m2 2h0m0 2h0m3-3h0m0 3h0m2 0h0m2-3h0m0 0h0m1 2h0m1-2h0m0 5h0m3-4h0m-248 9h0m3-4h0m2 1h0m1 2h0m1-3h0m1 3h0m0 3h0m2-1h0m2-4h0m1 3h0m1-3h0m2-1h0m0 6h0m2-2h0m0 0h0m1-3h0m1 6h0m1-3h0m3 0h0m2-4h0m0 6h0m1-2h0m2 2h0m1-3h0m1 0h0m0 0h0m5-3h0m0 2h0m1 4h0m1-5h0m2 3h0m0 0h0m1-4h0m1 1h0m2 2h0m2-3h0m5 5h0m1-5h0m2 5h0m1-1h0m2 3h0m1-5h0m1 0h0m1-1h0m0 5h0m1-5h0m0 6h0m2-6h0m6-1h0m1 6h0m1 0h0m0 0h0m1-6h0m0 4h0m2 3h0m1-1h0m1-6h0m3 6h0m1 0h0m3-5h0m1 0h0m0 5h0m3 1h0m0 0h0m2 0h0m2-4h0m0 3h0m0 0h0m3-6h0m0 0h0m3 0h0m2 0h0m0 4h0m1-3h0m1 6h0m1-1h0m1-3h0m2-1h0m2-2h0m1 0h0m0 5h0m3 2h0m1-7h0m1 4h0m1-1h0m1-1h0m0 2h0m1 0h0m0 1h0m1 0h0m2-4h0m1 3h0m0 3h0m1-6h0m0 1h0m2-1h0m0 4h0m1 1h0m1-3h0m4-3h0m1 0h0m1 0h0m0 3h0m0 0h0m1-1h0m2 2h0m0 2h0m1-3h0m1 1h0m3 1h0m1-1h0m0 0h0m1 2h0m1-6h0m1 3h0m0 4h0m1-3h0m3 0h0m2-1h0m2-1h0m2 2h0m1-3h0m0 2h0m0 1h0m0 3h0m1-3h0m1 3h0m2-1h0m5-6h0m1 4h0m2-2h0m0 1h0m0 4h0m1-4h0m0 4h0m1-7h0m2 0h0m1 7h0m0 0h0m1-6h0m2 4h0m0 2h0m4-5h0m2 0h0m1-2h0m0 1h0m0 5h0m3 1h0m2-3h0m1 0h0m0 2h0m3-5h0m0 3h0m1-1h0m1-3h0m1 1h0m0 6h0m2-6h0m0 6h0m1-3h0m1-2h0m1 0h0m0 2h0m1-1h0m5 2h0m0 2h0m1-3h0m2-2h0m0 2h0m1 2h0m2-6h0m0 2h0m0 0h0m3 2h0m1-1h0m1-1h0m3-2h0m0 6h0m1-5h0m3 3h0m0 1h0m3-4h0m0 0h0m1 6h0m1-4h0m1-3h0m1 3h0m0 0h0m0 1h0m0 0h0m3 1h0m2 2h0m1-7h0m0 6h0m0 1h0m5-2h0m3-1h0m0 1h0m1-5h0m2 6h0m1-5h0m0 6h0m2-1h0m0 1h0m1-2h0m0 2h0m-252 6h0m2-5h0m0 1h0m0 5h0m5-4h0m0 2h0m1-4h0m8 0h0m0 5h0m6-3h0m2 4h0m0 1h0m1-5h0m0 5h0m5-3h0m2-2h0m0 5h0m1-4h0m3 3h0m7-5h0m1-1h0m0 3h0m3 1h0m2 0h0m1-4h0m0 5h0m1-5h0m1 2h0m0 4h0m0 0h0m3 1h0m2-3h0m0 3h0m2-6h0m3 1h0m0 2h0m1-2h0m0 4h0m2-4h0m1 5h0m1-5h0m1 0h0m2 0h0m1-2h0m0 5h0m4 0h0m3-5h0m1 3h0m1 0h0m0 4h0m1-6h0m0 1h0m4 4h0m1-3h0m1 0h0m4 4h0m2-7h0m1 0h0m3 0h0m2 1h0m0 2h0m1 4h0m4-5h0m0 3h0m2-4h0m1 1h0m2 0h0m1-2h0m1 3h0m0 3h0m1-4h0m0 2h0m5 2h0m1-3h0m0 2h0m1 0h0m0 2h0m1-3h0m1-2h0m0 4h0m2 1h0m1-6h0m1-1h0m2 4h0m0 0h0m1-1h0m1 1h0m1-4h0m0 6h0m1-2h0m0 2h0m2 1h0m1-4h0m3-3h0m1 2h0m4 4h0m2-6h0m0 1h0m1 2h0m0 1h0m0 2h0m1-6h0m4 0h0m0 4h0m0 2h0m2-4h0m0 0h0m0 0h0m2 1h0m1 4h0m1-7h0m0 5h0m1-2h0m2-2h0m2 3h0m3-4h0m0 0h0m2 4h0m5-1h0m1-2h0m0 4h0m1-1h0m2-2h0m0 2h0m0 1h0m0 1h0m0 1h0m2-7h0m1 4h0m1-2h0m0 3h0m1-4h0m1 5h0m3-3h0m1-3h0m0 3h0m2-1h0m1-1h0m0 1h0m1 2h0m0 0h0m1 0h0m0 0h0m0 1h0m1-5h0m3 5h0m1-2h0m0 2h0m1-3h0m0 3h0m0 1h0m3 1h0m2-4h0m1-2h0m0 1h0m1-2h0m2 3h0m1 1h0m1-3h0m0 2h0m0 0h0m2 2h0m1-4h0m1 6h0m1-5h0m1 5h0m2-6h0m1 3h0m0 0h0m1-3h0m0 4h0m3-2h0m1 4h0m1-3h0m0 1h0m1 1h0m5-4h0m3-1h0m0 2h0m2 1h0m6-2h0m0 1h0m0 0h0m0 3h0m2-4h0m2 2h0m3-3h0m0 2h0m1-3h0m0 2h0m2 3h0m1-2h0m1 3h0m1-4h0m0 3h0m-246 9h0m1-3h0m2-3h0m2 5h0m1-1h0m2 2h0m1-3h0m3-3h0m0 7h0m2-7h0m3 3h0m1 4h0m5-4h0m3-2h0m2-1h0m1 4h0m1 2h0m1-6h0m0 1h0m0 1h0m1 2h0m1 2h0m4-2h0m5-4h0m3 0h0m0 0h0m2 0h0m0 3h0m1 4h0m1-2h0m1 1h0m2-3h0m1 0h0m1-1h0m0 2h0m1-3h0m1 0h0m0 2h0m0 2h0m5-4h0m0 6h0m4-7h0m2 2h0m0 2h0m1-3h0m0 1h0m0 1h0m1-1h0m0 5h0m0 0h0m0 0h0m1-4h0m1 3h0m0 1h0m3-3h0m3 3h0m3-4h0m4-1h0m4 1h0m1-3h0m0 0h0m0 1h0m1 1h0m0 4h0m2-5h0m0 0h0m0 3h0m1 2h0m1-3h0m1 4h0m1-6h0m1 0h0m0 4h0m1-2h0m0 3h0m1-4h0m0 1h0m0 2h0m2-3h0m0 3h0m1-5h0m0 4h0m1 2h0m1-4h0m0 0h0m0 4h0m3 0h0m1-2h0m1 0h0m3 0h0m0 2h0m2-3h0m1 0h0m3 0h0m1 3h0m1-6h0m0 2h0m0 2h0m7-2h0m1 2h0m1 3h0m2-5h0m0 3h0m0 2h0m4-3h0m0 2h0m2-5h0m3 3h0m4-3h0m0 5h0m1-4h0m0 2h0m0 0h0m0 1h0m1-5h0m0 1h0m1 1h0m2 0h0m0 5h0m0 0h0m1-5h0m1-1h0m0 1h0m0 4h0m2-2h0m1-3h0m1 5h0m0 1h0m2-6h0m0 1h0m4 4h0m1-1h0m5-4h0m0 2h0m0 4h0m0 0h0m3-7h0m1 0h0m0 7h0m1-6h0m1 0h0m1 1h0m1 4h0m1 0h0m1-2h0m1-1h0m0 3h0m0 1h0m2 0h0m1-1h0m1-6h0m0 2h0m0 5h0m2-7h0m0 3h0m1-2h0m6 0h0m1 4h0m0 1h0m1-6h0m0 1h0m0 6h0m3-5h0m2 0h0m0 0h0m0 5h0m1-3h0m2 2h0m1-1h0m1 0h0m0 1h0m3-1h0m3-1h0m3-4h0m1 5h0m0 1h0m2-2h0m0 2h0m2-5h0m1 4h0m0 0h0m4-1h0m1-4h0m1 7h0m2-3h0m1 3h0m2 0h0m2-6h0m0 0h0m2 0h0m1 4h0m0 1h0m0 0h0m2 1h0m0 0h0m1-3h0m7 0h0m-248 5h0m1 2h0m1 3h0m1-6h0m0 0h0m0 0h0m6 6h0m2-1h0m2-1h0m0 2h0m6-2h0m1-3h0m4 1h0m2 0h0m0 5h0m2-7h0m6 7h0m1-2h0m1 0h0m4-4h0m2 5h0m0 1h0m1-2h0m4-3h0m1-1h0m1 6h0m1-6h0m0 3h0m0 1h0m1 0h0m1-5h0m1 5h0m2-5h0m0 3h0m3 3h0m1-4h0m2 0h0m1 1h0m0 1h0m0 1h0m1-5h0m0 4h0m0 0h0m2-1h0m1 2h0m3-5h0m1 6h0m1-4h0m0 0h0m2 0h0m5-2h0m0 2h0m1 3h0m1-3h0m1 0h0m0 1h0m0 4h0m1-7h0m0 0h0m0 4h0m1-2h0m0 5h0m3-3h0m1-4h0m0 6h0m1-2h0m1 2h0m1-6h0m0 1h0m0 6h0m1-4h0m0 2h0m4-2h0m1-2h0m2 0h0m0 2h0m0 0h0m1-2h0m0 4h0m2 0h0m3 2h0m1-7h0m1 1h0m0 3h0m0 3h0m1-4h0m1-3h0m1 4h0m1-3h0m3 3h0m1-2h0m0 5h0m1-7h0m1 5h0m0 0h0m1-2h0m2-2h0m0 6h0m1-7h0m2 0h0m1 1h0m0 1h0m1 5h0m3-4h0m0 2h0m1-5h0m0 2h0m3 0h0m2 3h0m3-1h0m0 3h0m1-5h0m1-2h0m2 0h0m0 0h0m0 6h0m0 0h0m2-4h0m0 3h0m3-4h0m0 3h0m0 3h0m1-7h0m1 6h0m3 1h0m2-6h0m0 3h0m0 3h0m1-7h0m2 0h0m0 3h0m2 4h0m1-7h0m1 4h0m0 3h0m1-6h0m0 6h0m1-7h0m0 2h0m0 0h0m4-2h0m3 2h0m0 1h0m0 2h0m0 2h0m3-6h0m0 0h0m1 5h0m1-5h0m2 0h0m0 3h0m2-1h0m1-3h0m0 2h0m2-1h0m1 6h0m2-4h0m1 0h0m2 1h0m2 1h0m1-3h0m1 0h0m3 0h0m0 2h0m0 1h0m2 0h0m1-4h0m1 1h0m0 2h0m0 1h0m1 0h0m0 2h0m1-7h0m0 6h0m6-4h0m5 4h0m1-5h0m0 6h0m1 0h0m2 0h0m1-2h0m0 0h0m1 1h0m1-4h0m0 2h0m1-4h0m0 2h0m1 4h0m0 1h0m1-1h0m1-6h0m2 6h0m1-6h0m0 1h0m0 2h0m0 2h0m0 1h0m3 1h0m4 0h0m2-1h0m1-2h0m2-2h0m0 2h0m3-3h0m1-1h0m1 4h0m1-4h0m0 7h0m1-6h0m0 0h0m0 5h0m1-5h0m0 2h0m6-1h0m-248 10h0m2 1h0m2-5h0m6 2h0m6 1h0m8 0h0m0 1h0m2-4h0m2 1h0m3-1h0m0 0h0m4 1h0m0 2h0m4 0h0m0 1h0m6 1h0m1-3h0m5-2h0m1 0h0m2 2h0m2-1h0m2 1h0m3 2h0m1-2h0m1 3h0m4-1h0m4 1h0m3 0h0m1 0h0m2-2h0m1 1h0m2-4h0m2 3h0m6-3h0m1 5h0m2-1h0m3-4h0m0 1h0m0 2h0m4 0h0m0 2h0m8-1h0m1-3h0m0 3h0m1 0h0m0 0h0m1-3h0m1 0h0m1-1h0m2 5h0m5-4h0m3 0h0m0 2h0m0 2h0m0 0h0m1-4h0m1-1h0m1 1h0m0 2h0m1-2h0m0 1h0m1 1h0m0 2h0m1-2h0m2-2h0m0 4h0m1-2h0m1 1h0m1-2h0m1 3h0m2-1h0m1-1h0m2 2h0m6-4h0m0 2h0m2 0h0m1-1h0m1 1h0m2-3h0m1 0h0m0 1h0m1 1h0m1 2h0m2 1h0m6-5h0m0 1h0m1 0h0m0 2h0m1 1h0m1-3h0m1 0h0m1-1h0m0 4h0m1-4h0m2 2h0m0 2h0m1-1h0m1-3h0m0 2h0m4 0h0m0 3h0m1-4h0m3-1h0m1 3h0m2-2h0m1 0h0m2-1h0m0 2h0m2 2h0m2-4h0m1 1h0m0 1h0m2-2h0m1 2h0m1 2h0m4-1h0m0 0h0m2 1h0m1-2h0m0 2h0m1-3h0m3 2h0m1 2h0m2-2h0m0 2h0m2-5h0m4 0h0m0 0h0m0 0h0m0 0h0m1 2h0m1-2h0m2 0h0m3 1h0m1 4h0m1-5h0m4 2h0m3 1h0m1-2h0m2 2h0m2-1h0m6 2h0m2-3h0m1 0h0m1 2h0m2 0h0" stroke="#98ACDA" stroke-opacity="0.65" stroke-width="3.0" stroke-linecap="round" fill="none"/><path transform="translate(350.3 40) scale(.5)" d="M71 1h0m18 0h0m43 6h0m2-7h0m2 7h0m19-1h0m3-6h0m18 6h0m32-5h0m12 1h0m27 4h0m-169 2h0m29 3h0m26 1h0m39-4h0m18 1h0m8-1h0m16 6h0m11-5h0m13 1h0m7 1h0m5-1h0m-94 6h0m4 4h0m5 0h0m14-2h0m11 0h0m5 1h0m30 1h0m22-2h0m4 0h0m-106 6h0m2 1h0m2 2h0m10-3h0m4 6h0m13-3h0m15 2h0m13 2h0m10-3h0m37 1h0m-129 8h0m4 0h0m25-1h0m11 3h0m2-5h0m12 3h0m30-2h0m15 2h0m6 2h0m8-3h0m17 2h0m-180 4h0m36 5h0m28-5h0m17 5h0m1-3h0m2-3h0m1 4h0m3 1h0m4 0h0m2-1h0m4 2h0m8-3h0m3 1h0m3-2h0m0 3h0m5 0h0m5-5h0m3 0h0m15 6h0m20-1h0m4-4h0m13 2h0m-98 8h0m7-1h0m13 0h0m11 0h0m3-2h0m16 0h0m8 1h0m1-1h0m7 5h0m2 0h0m13 0h0m5-2h0m-143 4h0m7 3h0m25 2h0m0 1h0m19 0h0m5 1h0m14-1h0m1 0h0m2-6h0m6 0h0m21 6h0m13 0h0m12-5h0m1-1h0m5 5h0m-92 4h0m12 0h0m2 0h0m18 5h0m9-5h0m5 4h0m6 1h0m6 1h0m3-1h0m11 0h0m9-5h0m5 0h0m16 4h0m8-2h0m-148 8h0m26 1h0m21-4h0m6 3h0m4-3h0m15 4h0m3 1h0m23 2h0m1-7h0m41 1h0m-149 9h0m9 5h0m25-7h0m34 3h0m7-2h0m5 6h0m2-3h0m4-4h0m6 7h0m2-5h0m17 5h0m2-6h0m3 0h0m16 6h0m15-5h0m9 4h0m6 1h0m-162 7h0m32-4h0m5 2h0m17-3h0m16 3h0m4 1h0m2-2h0m5-3h0m7 4h0m3 3h0m1-4h0m2 1h0m2 1h0m3-2h0m25 4h0m4 0h0m2-2h0m2 2h0m11 0h0m17-2h0m1-3h0m-172 13h0m1-4h0m10-3h0m8 5h0m9-4h0m6 4h0m5-5h0m14 2h0m2 2h0m8 0h0m3 2h0m4-4h0m2-1h0m6 0h0m24-1h0m7 6h0m4-5h0m16 0h0m3 4h0m6-5h0m9 1h0m-160 12h0m7 2h0m2-3h0m29-3h0m4 4h0m8 2h0m28-1h0m5-4h0m10 5h0m6-5h0m4 5h0m2-3h0m3 2h0m0 1h0m7-2h0m12 2h0m1-5h0m0 4h0m21-2h0m12 0h0m2 0h0m-139 6h0m11 2h0m2 3h0m1 0h0m6-6h0m0 3h0m4 3h0m11 0h0m2-2h0m1-3h0m11-2h0m12 6h0m6-4h0m3 3h0m10-3h0m3-1h0m0 3h0m3-4h0m15 5h0m6 2h0m10-7h0m49 4h0m-189 11h0m5-5h0m28 3h0m11 2h0m17-2h0m2-3h0m1-1h0m5 6h0m9-1h0m12-4h0m1 4h0m4-3h0m7 0h0m21 3h0m1-1h0m5-4h0m39 4h0m0 2h0m4-6h0m13 3h0m-169 5h0m2 4h0m21-5h0m16 4h0m6 2h0m2-4h0m3-1h0m16 3h0m0 0h0m0 3h0m8-2h0m5-4h0m8 0h0m0 0h0m14 1h0m11-2h0m8 5h0m6-2h0m9 2h0m6 1h0m-147 4h0m1 4h0m12-5h0m1 6h0m19 0h0m5-6h0m4 2h0m1 3h0m1-5h0m2 3h0m3-2h0m5-1h0m7 3h0m5 0h0m30-1h0m-106 6h0m28 1h0m8 0h0m3 4h0m2-6h0m3 5h0m2 1h0m18-5h0m3 0h0m16 6h0m3-2h0m10 2h0m13 0h0m25-7h0m11 5h0m12-5h0m7 5h0m-124 7h0m6-2h0m34 0h0m7 0h0m5 0h0m0 2h0m18-3h0m4 0h0m56 0h0m6 0h0" stroke="#BC9486" stroke-opacity="0.6" stroke-width="2.8" stroke-linecap="round" fill="none"/><ellipse cx="435.3" cy="43.0" rx="8" ry="4" fill="#F0F2F7" fill-opacity="1.0"/><ellipse cx="434.3" cy="52.2" rx="3" ry="3" fill="#F0F2F7" fill-opacity="1.0"/><ellipse cx="412.3" cy="75.4" rx="5.5" ry="5.5" fill="#F0F2F7" fill-opacity="1.0"/><ellipse cx="401.3" cy="73.7" rx="3.5" ry="3.5" fill="#F0F2F7" fill-opacity="1.0"/><ellipse cx="383.5" cy="91.3" rx="4.2" ry="4.2" fill="#F0F2F7" fill-opacity="1.0"/><ellipse cx="386.6" cy="99.8" rx="3" ry="3" fill="#F0F2F7" fill-opacity="1.0"/><ellipse cx="359.8" cy="104.0" rx="3" ry="3" fill="#F0F2F7" fill-opacity="1.0"/><ellipse cx="413.0" cy="58.3" rx="2.5" ry="2.5" fill="#F0F2F7" fill-opacity="1.0"/><ellipse cx="420.8" cy="61.5" rx="2" ry="2" fill="#F0F2F7" fill-opacity="1.0"/></g></g>
<g clip-path="url(#cB3)"><g filter="url(#fbB3)"><rect x="217" y="121" width="132" height="84.5" fill="#DAD2E8"/><path transform="translate(220 124) scale(.5)" d="M1 4h0m1-4h0m1 5h0m3 2h0m5-6h0m2 6h0m5-3h0m1-4h0m0 7h0m4-2h0m6-5h0m3 1h0m8 5h0m10-1h0m5-3h0m5 0h0m4-1h0m2 2h0m1 2h0m3 0h0m0 0h0m1-2h0m1-2h0m0 5h0m0 1h0m3-1h0m3-2h0m1 0h0m2 2h0m1 1h0m1-7h0m3 4h0m1 0h0m0 3h0m3 0h0m1-6h0m4 1h0m0 5h0m2 0h0m1-2h0m2-2h0m1 4h0m1-5h0m1 5h0m1-4h0m1 0h0m0 0h0m3 0h0m0 3h0m1-3h0m3 0h0m1-2h0m3 2h0m0 0h0m3 3h0m1-2h0m0 0h0m1-2h0m1 0h0m0 4h0m3-4h0m4 1h0m0 1h0m1-3h0m8 0h0m2 2h0m1-1h0m2-1h0m2 0h0m2 0h0m1-1h0m0 5h0m1 1h0m2-1h0m1-3h0m1 0h0m1 0h0m0 5h0m3-4h0m0 4h0m3-4h0m6 0h0m9 0h0m0 1h0m1 0h0m1 1h0m5-4h0m0 5h0m5 0h0m4-4h0m2 4h0m5-4h0m1 4h0m7-3h0m1-1h0m0 0h0m1 0h0m0 2h0m2-3h0m3 5h0m3 0h0m2-2h0m2 1h0m3 2h0m5-5h0m2 5h0m4 0h0m1 0h0m1-7h0m0 3h0m0 2h0m1-3h0m15 2h0m-250 10h0m1-6h0m10 1h0m3 3h0m1-3h0m2 4h0m1-5h0m1 5h0m1-5h0m0 3h0m3-3h0m1 6h0m3-2h0m4 3h0m1-6h0m6 4h0m3 2h0m2-2h0m4-1h0m3 0h0m1 1h0m1 0h0m2-5h0m0 3h0m1-2h0m8 5h0m1-5h0m2 6h0m2-4h0m2 4h0m1-2h0m2-1h0m1-4h0m0 2h0m1 4h0m1-5h0m4-1h0m2 3h0m2-3h0m1 5h0m1 1h0m3-6h0m3 0h0m0 2h0m7 0h0m4 5h0m1 0h0m2-6h0m0 0h0m0 2h0m5-1h0m0 5h0m0 0h0m1-2h0m1-4h0m1 0h0m3-1h0m1 7h0m6-1h0m13-1h0m0 2h0m3-7h0m4 2h0m6 0h0m1-2h0m1 2h0m1 1h0m8 0h0m2 1h0m0 3h0m2-3h0m2-4h0m0 1h0m0 0h0m4-1h0m1 1h0m1 5h0m4 1h0m1-6h0m1 1h0m0 2h0m9 1h0m1-4h0m7 2h0m0 2h0m6 0h0m13-5h0m6 6h0m0 1h0m9 0h0m2 0h0m1 0h0m2 0h0m2-5h0m1 1h0m2-3h0m2 2h0m4-2h0m-245 15h0m2-6h0m1 0h0m2-1h0m2 1h0m2-1h0m5 6h0m4 0h0m1-1h0m2-5h0m2 3h0m2 1h0m0 3h0m1-1h0m6-2h0m1 0h0m2 2h0m2-1h0m4 1h0m1-3h0m0 4h0m1-6h0m2 1h0m10 0h0m1 1h0m1-3h0m2 7h0m1-1h0m0 0h0m12-2h0m5-3h0m0 3h0m2-3h0m1 5h0m3-1h0m1 0h0m10-1h0m9-1h0m0 3h0m0 1h0m1-2h0m8 1h0m7-1h0m3 2h0m3-1h0m11-3h0m0 0h0m7 2h0m3-2h0m0 2h0m5-5h0m5 5h0m11 2h0m1-3h0m1-3h0m2-1h0m2 6h0m1-4h0m8 2h0m2-2h0m2-1h0m0 2h0m2 1h0m1-2h0m12 0h0m0 1h0m1 2h0m3 0h0m2-4h0m5 6h0m2 0h0m1-3h0m6 2h0m2-4h0m2 2h0m7 0h0m1 3h0m4-5h0m1 0h0m1 3h0m4 1h0m1-3h0m-246 10h0m3 0h0m1-3h0m3-2h0m4 3h0m0 0h0m1 1h0m1 3h0m1-7h0m1 1h0m0 0h0m0 1h0m1 0h0m0 2h0m1 2h0m5-5h0m1 1h0m2 1h0m1-2h0m2 5h0m2-6h0m2 5h0m0 0h0m1-3h0m1 2h0m3 0h0m0 2h0m2-3h0m3-3h0m2 7h0m1-5h0m2-1h0m0 1h0m2 0h0m0 4h0m0 0h0m1-6h0m0 3h0m1 0h0m0 2h0m1-2h0m0 4h0m6-4h0m0 4h0m1-3h0m2 1h0m0 2h0m12-7h0m5 1h0m1 2h0m0 3h0m1 0h0m1-5h0m2 3h0m6 1h0m14-1h0m6 1h0m8 2h0m4-7h0m3 0h0m6 2h0m9 4h0m2 1h0m7-3h0m12-3h0m0 6h0m3-3h0m3-4h0m0 3h0m2 0h0m4 4h0m1-6h0m7 3h0m4 0h0m0 3h0m1-7h0m8 4h0m9-3h0m2 5h0m0 1h0m1-3h0m5 1h0m2-3h0m1 3h0m4 0h0m6 2h0m6-6h0m5 3h0m0 1h0m2-4h0m2 0h0m5 1h0m0 3h0m6-4h0m-244 8h0m0 2h0m0 2h0m1-5h0m1 0h0m0 1h0m1-1h0m5 2h0m2 2h0m2-3h0m0 3h0m1 2h0m1-4h0m0 4h0m0 0h0m1-5h0m0 1h0m0 4h0m1-5h0m0 0h0m5-1h0m1 7h0m0 0h0m1-4h0m0 1h0m2-3h0m0 5h0m1-5h0m1 2h0m1 1h0m0 2h0m1-6h0m0 6h0m2-3h0m0 1h0m0 3h0m2-2h0m0 1h0m0 1h0m2-5h0m0 4h0m2-1h0m1 2h0m1-7h0m0 5h0m1-5h0m1 1h0m0 6h0m2 0h0m3-1h0m1-1h0m1 0h0m1-3h0m0 2h0m0 3h0m2-3h0m2-4h0m0 5h0m1-1h0m9-3h0m1 6h0m6 0h0m4-1h0m3-2h0m3 1h0m1 2h0m2-6h0m1 5h0m0 0h0m7-5h0m2 2h0m1-3h0m0 2h0m1-2h0m0 3h0m2 2h0m2-5h0m3 5h0m2-2h0m3-2h0m0 6h0m5-1h0m1-2h0m8 0h0m3 1h0m1-4h0m0 5h0m2 1h0m4-5h0m0 3h0m2-3h0m1 4h0m0 1h0m1 0h0m1-7h0m0 1h0m2 2h0m1 3h0m8-4h0m1 0h0m3 4h0m1-1h0m0 2h0m1-3h0m1-4h0m1 6h0m7-3h0m2-2h0m1 3h0m2 0h0m2 1h0m0 1h0m2-1h0m1-4h0m0 3h0m1 3h0m2-4h0m1-3h0m0 4h0m1 1h0m0 1h0m1 0h0m0 1h0m2 0h0m1-5h0m7-1h0m1 2h0m2 1h0m2-4h0m1 0h0m0 7h0m2-4h0m1-2h0m0 2h0m1 2h0m2-2h0m1-2h0m1 1h0m3 3h0m2 1h0m1-3h0m2-1h0m4 2h0m0 1h0m4-3h0m15-1h0m0 5h0m0 0h0m4 0h0m4-1h0m2-5h0m0 5h0m-247 5h0m1 5h0m2-7h0m0 4h0m1-4h0m1 7h0m6-7h0m0 2h0m0 2h0m0 1h0m0 1h0m1-6h0m1 0h0m1 3h0m6-1h0m2-2h0m1 1h0m0 1h0m1 0h0m1 5h0m2 0h0m1-4h0m2-3h0m1 3h0m1 0h0m1 4h0m1-5h0m3 3h0m1-4h0m1 6h0m3-7h0m2 7h0m3-4h0m2 1h0m2 0h0m1-3h0m1 2h0m0 0h0m1-2h0m1 4h0m1 1h0m1-4h0m3-2h0m4 7h0m2-5h0m1 3h0m1-3h0m7 5h0m4-3h0m1 2h0m5-1h0m1-3h0m1 4h0m1-2h0m0 2h0m1-2h0m0 2h0m4-4h0m4 1h0m5-1h0m0 4h0m6-6h0m1 4h0m1-4h0m0 3h0m1 4h0m2-2h0m2-1h0m0 0h0m5 2h0m2 1h0m3-1h0m1-1h0m7 1h0m4-4h0m2-1h0m1 0h0m0 5h0m2-5h0m1 1h0m0 4h0m1 0h0m2-5h0m0 5h0m1 0h0m1-6h0m3 3h0m5 3h0m0 0h0m8 1h0m5-7h0m4 0h0m2 0h0m5 7h0m1-7h0m1 3h0m1 2h0m1-4h0m0 5h0m3-6h0m2 6h0m1-6h0m2 0h0m0 6h0m3-6h0m0 1h0m0 6h0m1-3h0m2 1h0m1-4h0m2 3h0m0 0h0m1 3h0m1-3h0m1-3h0m2 5h0m1-4h0m2-2h0m0 2h0m2-1h0m1 0h0m2-1h0m0 3h0m11 1h0m2-1h0m5-2h0m1-1h0m1 0h0m1 5h0m5-2h0m1 2h0m-242 5h0m0 2h0m4 2h0m1-2h0m0 2h0m2-1h0m3-2h0m3-2h0m1 3h0m2 1h0m1 2h0m1-6h0m0 4h0m1-2h0m2-1h0m0 4h0m2-4h0m0 2h0m1 1h0m3-1h0m2-2h0m0 4h0m1-5h0m1 0h0m0 0h0m7 6h0m1-4h0m0 4h0m0 0h0m1-1h0m2-1h0m3-3h0m1 3h0m1-2h0m0 2h0m1 2h0m2 0h0m1-5h0m0 2h0m1 3h0m2-6h0m0 3h0m0 2h0m6 0h0m2-5h0m2 6h0m11-7h0m1 7h0m5-3h0m2 0h0m1 2h0m10 0h0m2-5h0m2 1h0m9-1h0m0 5h0m3 0h0m3-4h0m2 4h0m1-5h0m5 3h0m5-4h0m7 2h0m0 2h0m2-2h0m3-2h0m3 3h0m2 1h0m2 1h0m6 0h0m0 1h0m2-3h0m3-3h0m10 4h0m6-4h0m3 0h0m1 3h0m2 0h0m4 3h0m4-6h0m3 1h0m8 0h0m1 1h0m0 5h0m1-4h0m1-1h0m2-1h0m1 0h0m3 0h0m0 2h0m0 0h0m2-2h0m0 2h0m2 4h0m2-3h0m1 0h0m2 3h0m4-2h0m5 2h0m6-3h0m1 1h0m-229 7h0m0 3h0m8-5h0m1-2h0m0 4h0m4-2h0m1 0h0m0 2h0m1 2h0m3-6h0m0 3h0m1-3h0m6 0h0m0 1h0m4 0h0m2 5h0m1-6h0m1 1h0m2 0h0m1 5h0m5-2h0m2-4h0m5 4h0m2-3h0m0 0h0m1 1h0m0 3h0m10-4h0m14 6h0m1-7h0m1 2h0m1 2h0m3-3h0m7 2h0m0 4h0m1-2h0m0 1h0m1-6h0m0 7h0m1-2h0m2-1h0m3 3h0m2-7h0m0 1h0m0 5h0m1 1h0m4-2h0m0 2h0m4-6h0m3-1h0m1 0h0m0 2h0m0 1h0m1 1h0m1 0h0m5 0h0m5 0h0m1-1h0m2-2h0m12 1h0m2 0h0m2 3h0m3 2h0m2-5h0m3-1h0m1-1h0m2 4h0m1-4h0m4 1h0m2 4h0m3-2h0m2-3h0m4 3h0m1-1h0m4 0h0m12 1h0m4 0h0m0 0h0m1-1h0m4 2h0m6 0h0m2-3h0m1 5h0m2-6h0m1 5h0m4-4h0m0 5h0m1-4h0m2-2h0m2 7h0m1-5h0m0 4h0m6 0h0m3-4h0m1 0h0m0 5h0m7-1h0m3 0h0m1-6h0m0 3h0m-236 9h0m4-2h0m1-2h0m0 0h0m4 5h0m4-2h0m2 0h0m5-1h0m3-1h0m0 2h0m4-3h0m0 2h0m1 2h0m7-1h0m0 2h0m1 2h0m2-1h0m1-5h0m0 3h0m1-4h0m0 0h0m0 5h0m4 1h0m2-5h0m5 6h0m1-2h0m0 0h0m2-1h0m3 0h0m3-1h0m1-2h0m0 3h0m13 2h0m2-6h0m8 6h0m12-3h0m3 4h0m9-5h0m1 5h0m3-7h0m2 0h0m0 3h0m1-2h0m5-1h0m11 4h0m2-3h0m0 2h0m0 2h0m3-5h0m0 0h0m1 2h0m1 2h0m6 3h0m1-2h0m2 2h0m5-2h0m3 1h0m21 0h0m10-6h0m12 6h0m6-2h0m1-4h0m1 5h0m2-1h0m9-2h0m1 0h0m0 4h0m3 1h0m3 0h0m3-5h0m1 2h0m4 1h0m10-2h0m-246 12h0m9-1h0m4 1h0m1-3h0m5 1h0m1 0h0m6 0h0m5-1h0m4 2h0m2-3h0m2-2h0m0 4h0m1-3h0m1 1h0m6 0h0m1 0h0m2 4h0m1-3h0m4-4h0m0 1h0m1 0h0m0 5h0m5-2h0m0 3h0m1-6h0m3 1h0m1 2h0m0 2h0m8-1h0m2-1h0m5-2h0m1-1h0m0 3h0m4 2h0m1-5h0m7 2h0m2-3h0m0 7h0m1-5h0m18-2h0m0 4h0m3 3h0m10 0h0m1-6h0m0 1h0m3 3h0m1-5h0m1 1h0m9 6h0m4-2h0m3 2h0m1-6h0m3 5h0m1 0h0m2 0h0m5 1h0m6-6h0m0 5h0m5-3h0m5 3h0m7 0h0m1 0h0m10-3h0m8 1h0m2 3h0m4-2h0m1 2h0m1-4h0m1 0h0m4 1h0m1 0h0m1-4h0m2 4h0m0 1h0m0 1h0m2-4h0m0 0h0m1-1h0m3 1h0m0 2h0m1-4h0m3 0h0m1 0h0m2 3h0m6-1h0m0 3h0m1-4h0m9 1h0m-247 9h0m10-3h0m3 4h0m2-1h0m2 0h0m3-2h0m1 2h0m2 2h0m1 1h0m2 0h0m1-5h0m1 2h0m1 0h0m1-3h0m3 3h0m0 3h0m3 0h0m1 0h0m0 1h0m2-4h0m3-3h0m1 0h0m0 5h0m1-4h0m2 4h0m3-5h0m0 7h0m3-5h0m1 4h0m1-6h0m2 7h0m1-4h0m1-1h0m1 1h0m1 1h0m4 3h0m0 0h0m2-2h0m1-4h0m1 2h0m2 2h0m2-4h0m1 0h0m2 0h0m1 6h0m1-5h0m4 0h0m1 1h0m3 4h0m1-2h0m9-4h0m0 0h0m2 0h0m0 3h0m0 3h0m2-2h0m1-5h0m0 3h0m6-3h0m1 6h0m2-6h0m3 1h0m1 4h0m5-3h0m9-1h0m8-1h0m0 3h0m0 2h0m1 0h0m1 0h0m1-5h0m2 1h0m2 4h0m2 0h0m3-3h0m1 3h0m2-2h0m2 2h0m4 0h0m0 2h0m3-7h0m4 0h0m0 3h0m1 1h0m1 0h0m0 3h0m2-1h0m9 1h0m1-6h0m0 4h0m1 1h0m1-3h0m0 3h0m1-6h0m4 0h0m22 6h0m4 1h0m4-7h0m3 1h0m2 0h0m1 5h0m1 0h0m2-2h0m1 1h0m2-1h0m3 0h0m2-2h0m4 3h0m6-4h0m2 2h0m4-3h0m-250 14h0m9 0h0m2 1h0m2-4h0m0 2h0m1-2h0m6-1h0m0 5h0m2-2h0m1 2h0m3-3h0m2-2h0m2 5h0m1-3h0m3-2h0m2-1h0m1-1h0m0 5h0m6-3h0m1-2h0m0 1h0m1 0h0m2 1h0m0 2h0m1-3h0m1 2h0m2 4h0m4-2h0m7-5h0m6 3h0m3-3h0m2 0h0m1 7h0m1-4h0m1 4h0m10-4h0m9 1h0m3 0h0m2-2h0m7 5h0m6-4h0m11-2h0m0 3h0m3 1h0m2-3h0m3 2h0m4-3h0m2-1h0m1 5h0m2 1h0m2 0h0m2-3h0m0 2h0m4-2h0m5-2h0m8 5h0m4 0h0m4-2h0m2 0h0m7 0h0m2-3h0m3 0h0m0 2h0m2-3h0m0 2h0m0 5h0m6 0h0m6-2h0m4 1h0m6-5h0m3 6h0m14-5h0m0 3h0m1-1h0m4-1h0m0 0h0m6-1h0m3-1h0m0 3h0m0 2h0m8-4h0m1 2h0m3-1h0m-246 5h0m0 7h0m1 0h0m1-5h0m0 4h0m5-4h0m1-1h0m1 4h0m1 1h0m7 1h0m1-3h0m1-1h0m1-3h0m0 0h0m1 4h0m4-1h0m1-2h0m0 6h0m3-7h0m2 7h0m1-4h0m3 0h0m2-2h0m1 0h0m1-1h0m0 2h0m2 0h0m3-2h0m3 3h0m1 0h0m5-2h0m2 0h0m1 0h0m0 2h0m1 2h0m2-1h0m2-2h0m1 5h0m1-3h0m0 3h0m2-4h0m0 4h0m6-3h0m6 2h0m9 1h0m5-4h0m9 2h0m6-3h0m8 4h0m2-1h0m1 1h0m0 1h0m2-3h0m1-1h0m1 4h0m1-6h0m1-1h0m21 0h0m9 3h0m2 1h0m0 1h0m0 1h0m3-6h0m8 7h0m1-5h0m1 0h0m2 1h0m2 4h0m1-7h0m3 0h0m1 5h0m5 1h0m3-4h0m1-1h0m7 1h0m0 5h0m3 0h0m5-1h0m1 0h0m1-3h0m2-2h0m1 6h0m2 0h0m1-6h0m11 6h0m3 0h0m2 0h0m3-2h0m6-5h0m3 4h0m0 3h0m1-6h0m2 0h0m-244 10h0m1-1h0m0 1h0m1 3h0m9 0h0m2-4h0m8 0h0m0 4h0m1 1h0m1-1h0m1-6h0m0 5h0m1-2h0m3-2h0m2-1h0m2 2h0m0 2h0m4 3h0m2-7h0m0 4h0m1-1h0m2 0h0m0 1h0m0 3h0m2 0h0m2-2h0m2-1h0m3-1h0m6 3h0m5-4h0m1 3h0m0 0h0m1 0h0m0 2h0m1-6h0m0 3h0m2-2h0m4-1h0m6 0h0m1 1h0m3 1h0m2-2h0m0 1h0m1-1h0m6 4h0m5-5h0m0 5h0m9-1h0m27 0h0m0 3h0m2-7h0m0 3h0m1 4h0m7-6h0m0 5h0m1-5h0m0 2h0m3 2h0m2-1h0m1 1h0m4-2h0m2-2h0m1 5h0m4-2h0m1 3h0m1-2h0m4-5h0m2 0h0m0 5h0m1 1h0m3 1h0m6-1h0m5-6h0m2 1h0m2 0h0m1 5h0m7-2h0m2-1h0m7 3h0m2-4h0m1 1h0m0 0h0m0 2h0m4 1h0m1-2h0m1 1h0m3-1h0m1 3h0m9 0h0m2-6h0m1 3h0m5-4h0m3 1h0m3 0h0m3 2h0m1-3h0m2 0h0m1 3h0m2-3h0m-247 8h0m12 1h0m1 3h0m2-1h0m0 4h0m9-7h0m2 2h0m0 1h0m0 3h0m2-5h0m4 1h0m2-2h0m0 4h0m7-4h0m0 3h0m0 2h0m1 0h0m1-2h0m4-1h0m0 0h0m2 1h0m3-3h0m0 0h0m3 4h0m2 3h0m8-6h0m2 6h0m1-6h0m2-1h0m0 5h0m1-5h0m8 4h0m5 2h0m9-3h0m10-3h0m5 0h0m9 7h0m2-3h0m6-1h0m1-3h0m3 4h0m10-1h0m1 4h0m1-3h0m13 2h0m2-4h0m7 0h0m0 4h0m10 0h0m1-4h0m13 3h0m1 0h0m6-1h0m6 0h0m0 3h0m3-6h0m1 1h0m10 5h0m2-3h0m6-2h0m0 0h0m1 5h0m2-7h0m0 4h0m1-4h0m5 2h0m7 4h0m5 1h0m1-5h0m3 0h0m1-1h0m0 4h0m0 2h0m-249 8h0m1-7h0m1 6h0m2-2h0m0 2h0m2-2h0m3-1h0m0 2h0m6-1h0m0 3h0m2-6h0m0 6h0m2 0h0m6-6h0m7 5h0m2-6h0m1 0h0m0 1h0m0 3h0m2 3h0m11-2h0m4-2h0m1-2h0m4 1h0m1 0h0m1 2h0m2-4h0m2 7h0m1 0h0m2-5h0m0 0h0m4 2h0m1 3h0m2-6h0m7 2h0m1 1h0m3-3h0m7-1h0m0 2h0m12 5h0m4-5h0m8-2h0m1 6h0m11-4h0m3 1h0m0 4h0m1 0h0m4-2h0m4-3h0m6 1h0m5 3h0m2-1h0m3-3h0m0 1h0m1 2h0m15 0h0m0 1h0m6 1h0m6-5h0m7 3h0m9-5h0m2 1h0m0 1h0m3-2h0m1 2h0m1 4h0m4-2h0m4 0h0m1-4h0m3 4h0m0 1h0m4 1h0m2 0h0m0 0h0m3-4h0m4 4h0m3 1h0m3-7h0m0 2h0m0 2h0m1 1h0m6 0h0m0 0h0m6 2h0m-249 1h0m3 5h0m1-2h0m5 2h0m3-4h0m0 3h0m1-4h0m1 7h0m0 0h0m1-6h0m4 0h0m0 1h0m2 0h0m2 4h0m4-4h0m1-2h0m0 6h0m2-4h0m1 0h0m3 2h0m2-2h0m1 3h0m1-3h0m2 0h0m5 1h0m1-1h0m0 2h0m5 3h0m2-7h0m2 0h0m4 4h0m1-2h0m7 0h0m0 2h0m1 3h0m1-2h0m3 0h0m3 2h0m4-5h0m0 1h0m10-3h0m2 4h0m1 2h0m1-5h0m2 3h0m13 0h0m18-4h0m2 3h0m1 0h0m1-3h0m3 3h0m2 0h0m4-3h0m4 2h0m6 0h0m0 4h0m2-5h0m1 5h0m4-2h0m4 0h0m3 2h0m5-3h0m0 4h0m1-4h0m7-1h0m1-2h0m1 0h0m3 2h0m2-2h0m9 4h0m7 2h0m1 1h0m3 0h0m3-6h0m7 3h0m0 0h0m2-3h0m1 4h0m0 0h0m1 1h0m1-4h0m1 3h0m1-1h0m3 0h0m2 2h0m3-4h0m2 0h0m6-1h0m1 3h0m0 0h0m2-1h0m1 1h0m1-1h0m2 2h0m2-4h0m1-1h0m1 2h0m-248 6h0m0 5h0m2-1h0m2-2h0m0 4h0m3 0h0m3-6h0m1 3h0m1 1h0m0 3h0m2-6h0m1-1h0m4 1h0m3 1h0m1-2h0m0 2h0m0 5h0m2-6h0m0 0h0m2 1h0m2 1h0m0 4h0m1-3h0m1 0h0m2 2h0m1-6h0m10 4h0m5-1h0m0 2h0m2 0h0m10 2h0m1-7h0m3 1h0m3 5h0m2-3h0m4 0h0m0 1h0m7 0h0m1-1h0m2-3h0m1 4h0m3-3h0m15 4h0m4 2h0m2 0h0m3-7h0m4 7h0m3-7h0m4 7h0m5-1h0m3 0h0m5-3h0m1-2h0m2 5h0m1-5h0m2 6h0m3-1h0m8-4h0m2-1h0m1 4h0m2 0h0m3 2h0m2 0h0m3-7h0m0 1h0m0 4h0m0 2h0m2 0h0m2-4h0m0 4h0m3-3h0m1-2h0m0 5h0m5-2h0m1-1h0m2-1h0m7-2h0m3 1h0m3 4h0m7-6h0m1 4h0m3 2h0m1-3h0m3-2h0m7 0h0m0 2h0m4 0h0m3-1h0m2 0h0m11 5h0m1-5h0m1 2h0m2-3h0m0 6h0m2-1h0m3-2h0m3 3h0m-250 6h0m13 0h0m4-1h0m4 1h0m7 2h0m1-7h0m1 1h0m3 6h0m3-7h0m1 3h0m12 1h0m1-1h0m1-3h0m1 3h0m3 0h0m0 0h0m1 1h0m1-1h0m6-1h0m3-1h0m5 6h0m4-2h0m0 2h0m1-2h0m5-1h0m3-1h0m1 2h0m12-1h0m1-1h0m4 0h0m0 1h0m6 3h0m8 0h0m6-1h0m2-1h0m4-2h0m1-3h0m1 3h0m0 1h0m8 1h0m5-3h0m0 2h0m5-3h0m6 1h0m1 5h0m11-3h0m0 2h0m1 1h0m6-3h0m1-1h0m4-3h0m0 7h0m2 0h0m1-2h0m1-5h0m2 0h0m9 1h0m3 2h0m0 2h0m2-3h0m4 5h0m1-3h0m6 1h0m4-4h0m1-1h0m2 0h0m0 5h0m2-2h0m1 1h0m4-3h0m2-1h0m0 2h0m2-1h0m8 1h0m1 4h0m2 0h0m1 1h0m1-1h0m1-3h0m10-3h0m-250 13h0m2-1h0m8-3h0m2-1h0m5 5h0m3-1h0m5-4h0m4 5h0m3-4h0m3-1h0m3 2h0m2 0h0m6 2h0m4-3h0m2-1h0m3 0h0m5 3h0m2-3h0m1 2h0m2 0h0m2-1h0m7 1h0m2-1h0m4 2h0m2 1h0m1-3h0m12-1h0m2 4h0m1-1h0m4-2h0m11-1h0m2 4h0m3-4h0m1 4h0m5 0h0m1-2h0m6 0h0m0 1h0m0 0h0m1-2h0m4 2h0m4-2h0m10 3h0m1 1h0m16-1h0m4-4h0m4 4h0m5-4h0m0 4h0m5-3h0m1 3h0m8 0h0m3-1h0m1-2h0m0 3h0m1 1h0m4-3h0m28-2h0m4 3h0m0 1h0m1 1h0m5-5h0m2 1h0m2 1h0m3-2h0" stroke="#E4CCE2" stroke-opacity="0.6" stroke-width="4.0" stroke-linecap="round" fill="none"/><path transform="translate(220 124) scale(.5)" d="M3 2h0m0 3h0m4 1h0m4-5h0m8 3h0m1 0h0m3 3h0m4-2h0m3-5h0m0 1h0m0 1h0m9-2h0m2 5h0m1 2h0m1-5h0m4 3h0m1-2h0m2 2h0m1-4h0m5 4h0m1 0h0m1-5h0m0 5h0m1-2h0m25-3h0m3 5h0m1-4h0m17 6h0m8-2h0m9-5h0m5 1h0m4 6h0m9-3h0m10-1h0m0 1h0m2-3h0m3 3h0m1-3h0m1 4h0m4-4h0m1 4h0m2 0h0m3 1h0m16 0h0m6-3h0m10 1h0m1 2h0m4-5h0m1 3h0m0 3h0m3-7h0m1 7h0m1-7h0m2 0h0m1 5h0m0 2h0m1-3h0m0 1h0m3 2h0m3-3h0m2 3h0m1-1h0m1-4h0m8 1h0m4-1h0m0 5h0m4-7h0m0 5h0m2 0h0m2-3h0m0 3h0m0 2h0m2-5h0m0 3h0m0 2h0m1 0h0m3-1h0m-247 2h0m1 5h0m4-4h0m2 4h0m1-2h0m3-1h0m2 1h0m12 0h0m5-3h0m3 3h0m1 1h0m11-2h0m2 2h0m3-4h0m6 5h0m4-3h0m0 1h0m4-2h0m0 3h0m4-1h0m2 4h0m9-3h0m0 2h0m1-4h0m3 1h0m9 3h0m14 1h0m8-7h0m2 7h0m4-5h0m2-2h0m1 4h0m2 0h0m2 1h0m1-2h0m5 2h0m6-2h0m1 0h0m0 0h0m0 2h0m6-1h0m1 0h0m4 3h0m1-1h0m4-3h0m3 4h0m1 0h0m12-5h0m3 4h0m18-2h0m2 0h0m0 3h0m1-6h0m3 6h0m5-6h0m1 1h0m3 3h0m7-5h0m2 4h0m0 3h0m1-1h0m5 1h0m1-7h0m1 6h0m1-4h0m1 2h0m1-1h0m2-1h0m1-1h0m2-1h0m0 5h0m1-3h0m0 2h0m1-1h0m1 4h0m3-2h0m1 2h0m3 0h0m2-7h0m2 0h0m0 6h0m-248 2h0m6 7h0m1-3h0m10-4h0m17 1h0m4 6h0m3-7h0m0 4h0m1-3h0m3-1h0m5 0h0m5 0h0m3 3h0m1-1h0m3 5h0m1-7h0m2 6h0m1-5h0m2 1h0m0 5h0m2 0h0m2-6h0m0 3h0m3 3h0m0 0h0m2-4h0m1 4h0m0 0h0m1-3h0m0 2h0m0 1h0m2-1h0m3-2h0m1 0h0m0 3h0m1 0h0m2-6h0m0 2h0m1 0h0m1 4h0m0 0h0m3-5h0m2 2h0m0 3h0m2-7h0m0 2h0m1 0h0m4 0h0m0 5h0m2-6h0m3 2h0m1 2h0m1 1h0m9-6h0m3 6h0m0 0h0m4-3h0m2 2h0m1-4h0m1 4h0m2-5h0m0 5h0m1-4h0m0 1h0m0 0h0m0 2h0m2-4h0m0 1h0m0 0h0m3 3h0m2-2h0m2 1h0m0 2h0m2-3h0m6-1h0m0 2h0m0 2h0m1 1h0m2 0h0m2-2h0m8-2h0m9 0h0m2-1h0m2 3h0m2 3h0m5-1h0m10-4h0m3 0h0m0 1h0m0 4h0m1-7h0m6 2h0m9-1h0m10 6h0m1-5h0m1 1h0m8 3h0m1-2h0m3-3h0m0 3h0m1 2h0m1-1h0m0 2h0m12-3h0m-249 4h0m3 6h0m3-4h0m7 3h0m42-2h0m2 3h0m3 0h0m1-6h0m0 7h0m3-6h0m1 1h0m3-1h0m1-1h0m1 4h0m1-3h0m1 0h0m3 0h0m1-1h0m0 3h0m1-1h0m0 1h0m1-2h0m0 6h0m1-5h0m2-1h0m0 2h0m0 3h0m0 1h0m1-6h0m1 2h0m0 3h0m3-5h0m1 3h0m2 0h0m5-3h0m2 0h0m1 0h0m1-1h0m4 4h0m4 1h0m1-4h0m1 6h0m5-7h0m3 3h0m5 3h0m1 1h0m3-3h0m1-3h0m0 1h0m0 4h0m1-6h0m0 1h0m2 3h0m1 2h0m5-5h0m0 2h0m1-3h0m0 3h0m1-2h0m0 2h0m0 1h0m2-4h0m2 0h0m0 7h0m6-4h0m1 2h0m2 2h0m2 0h0m7 0h0m22-3h0m3-1h0m10 4h0m3-6h0m1 1h0m1 2h0m0 2h0m3-6h0m0 6h0m7-6h0m0 2h0m0 2h0m6-2h0m6 4h0m1-3h0m2 1h0m1-3h0m4 6h0m2-4h0m2 3h0m0 1h0m2 0h0m14-1h0m-250 2h0m22 1h0m39 5h0m1-5h0m1-1h0m0 7h0m1-6h0m0 4h0m0 2h0m1-7h0m1 0h0m2 3h0m1-3h0m0 6h0m1-6h0m0 1h0m0 5h0m2-1h0m3 0h0m0 1h0m1-2h0m2-1h0m0 3h0m1-5h0m0 1h0m1 3h0m2-2h0m0 4h0m1-7h0m2 0h0m1 7h0m3-7h0m3 4h0m4-1h0m0 3h0m9-2h0m20 3h0m0 0h0m2-3h0m3 2h0m2-6h0m2 3h0m1-3h0m2 2h0m1 5h0m2-7h0m0 4h0m13 2h0m31-5h0m8-1h0m1 1h0m0 4h0m2-2h0m2-3h0m6 3h0m4 1h0m7-2h0m7 4h0m1-3h0m1 1h0m2 2h0m3-4h0m5-1h0m2 1h0m2-1h0m0 0h0m1 1h0m5-2h0m0 3h0m0 4h0m1-6h0m4 5h0m-247 8h0m8-4h0m43 1h0m10 0h0m4 1h0m4-2h0m2 4h0m0 1h0m1-1h0m1-4h0m1-1h0m0 1h0m0 4h0m2-4h0m1 2h0m1-3h0m0 3h0m4 0h0m0 0h0m1 0h0m2-4h0m5 1h0m2 5h0m6-5h0m3 5h0m4-6h0m6 1h0m9 1h0m3 2h0m6-3h0m0 6h0m8-1h0m4-5h0m2 1h0m22 0h0m17 3h0m3-3h0m25 3h0m12-4h0m4 4h0m0 1h0m2 0h0m2-4h0m8 4h0m1-3h0m4 3h0m0 0h0m4 0h0m0 1h0m2-1h0m-250 8h0m8-2h0m2 0h0m3 0h0m14 3h0m10-7h0m18 5h0m4 0h0m5 1h0m3-1h0m1-1h0m0 3h0m3-5h0m0 1h0m0 2h0m0 1h0m1-1h0m1-5h0m0 6h0m1 0h0m3-6h0m0 1h0m0 4h0m3-5h0m1 4h0m3-2h0m1 5h0m8-1h0m1-5h0m1 2h0m6-3h0m10 7h0m6-6h0m2 0h0m0 6h0m1-2h0m1-3h0m2 5h0m1 0h0m5-3h0m0 3h0m2-2h0m1 0h0m2-4h0m1 2h0m6 1h0m1 2h0m2 1h0m12-3h0m1 2h0m2 1h0m2-1h0m0 1h0m1-4h0m1 3h0m3 1h0m2-3h0m0 3h0m5-3h0m4 3h0m4-4h0m2-3h0m0 1h0m1 5h0m1 1h0m2-7h0m4 5h0m3-1h0m21 0h0m3 2h0m2-3h0m4 4h0m1-2h0m5 2h0m0 0h0m5-4h0m1-1h0m2 3h0m1-2h0m0 0h0m1-2h0m0 1h0m3-1h0m0 3h0m0 1h0m4-2h0m1 3h0m3 0h0m-245 6h0m3-2h0m34 3h0m25 0h0m1-5h0m0 1h0m1 6h0m2-3h0m1-1h0m1-2h0m1-1h0m1 2h0m3 2h0m0 1h0m2-5h0m1 0h0m7 0h0m2 5h0m6-3h0m3-2h0m7 1h0m0 0h0m8 1h0m4 4h0m4-2h0m0 1h0m0 2h0m2-1h0m1-6h0m1 2h0m0 2h0m0 1h0m1-3h0m0 3h0m1-2h0m3 1h0m1-2h0m0 2h0m0 3h0m1-4h0m0 4h0m1-7h0m0 2h0m10 4h0m1-2h0m6 2h0m1-3h0m0 2h0m1 1h0m1 0h0m1-1h0m1 1h0m1 0h0m1 0h0m1-5h0m0 3h0m2-2h0m0 1h0m1 2h0m1 2h0m1-3h0m0 3h0m3-4h0m1-1h0m3 0h0m0 4h0m2-3h0m0 4h0m0 0h0m1-7h0m1 2h0m0 1h0m1-3h0m2 6h0m1-3h0m4 1h0m3 0h0m2 1h0m2-4h0m2 2h0m3 2h0m6 1h0m18-6h0m1 3h0m4-3h0m3 0h0m3 5h0m3-4h0m6 4h0m2-4h0m4 6h0m5-4h0m-252 8h0m2-2h0m2 2h0m0 0h0m1 0h0m0 3h0m1-3h0m0 4h0m1-6h0m0 6h0m1-6h0m0 3h0m0 1h0m2-3h0m4 0h0m1-1h0m0 4h0m5 1h0m4-4h0m0 1h0m6 2h0m2 0h0m2-3h0m5-2h0m1 0h0m10 2h0m11-2h0m0 0h0m1 1h0m2-1h0m7 0h0m0 5h0m1 2h0m3-4h0m1 1h0m4 0h0m1-3h0m1 1h0m2-2h0m4 6h0m2-2h0m17-1h0m5-3h0m1 2h0m0 3h0m5-3h0m2 3h0m4-1h0m1 3h0m2-4h0m1 2h0m2 1h0m2 0h0m1-1h0m1-2h0m0 0h0m0 2h0m1-1h0m1-4h0m0 4h0m1-2h0m1 1h0m1 2h0m2 2h0m1-3h0m1-4h0m1 6h0m5-3h0m0 4h0m2 0h0m4-4h0m1-2h0m3 4h0m3 0h0m0 1h0m1-5h0m0 4h0m1-4h0m2 1h0m0 0h0m0 2h0m0 3h0m1-5h0m0 4h0m4-3h0m2-1h0m2-2h0m1 3h0m1-3h0m0 7h0m2-4h0m0 2h0m1-3h0m0 2h0m1-2h0m0 4h0m7-5h0m0 3h0m0 3h0m1-3h0m2-3h0m0 2h0m3-3h0m0 1h0m5 0h0m3 1h0m4 3h0m1 1h0m3-6h0m4 5h0m1-4h0m1 6h0m16-6h0m7 3h0m0 1h0m1-4h0m5 6h0m2-1h0m1-3h0m2 2h0m-249 10h0m1-7h0m4 3h0m0 4h0m1-1h0m7-4h0m3-2h0m6 0h0m0 3h0m1 0h0m1-3h0m0 3h0m2-2h0m5 2h0m8 4h0m10-7h0m1 0h0m8 4h0m4-4h0m1 1h0m2 0h0m1 0h0m2-1h0m3 5h0m1 0h0m4-5h0m1 2h0m2 3h0m4-5h0m4 4h0m0 1h0m2-3h0m4 4h0m3 0h0m6-3h0m9 2h0m4-4h0m3 5h0m3-1h0m6-2h0m1 0h0m2 1h0m0 0h0m2-1h0m0 4h0m1-1h0m4-4h0m0 0h0m0 3h0m1 0h0m3-4h0m2 5h0m0 1h0m0 0h0m2-3h0m4 3h0m2-5h0m1 5h0m1-6h0m1 5h0m2-4h0m0 2h0m4-4h0m1 0h0m0 0h0m0 0h0m2 3h0m2-3h0m2 6h0m2-1h0m0 0h0m4-5h0m4 1h0m1 0h0m1 0h0m0 2h0m0 0h0m7 1h0m4-3h0m0 1h0m2 2h0m1 0h0m1-4h0m0 6h0m2-4h0m1-2h0m2 6h0m4-1h0m2-5h0m7 1h0m2 6h0m3-4h0m3 0h0m11 3h0m4 0h0m3-6h0m0 4h0m1-3h0m0 0h0m4 6h0m3-6h0m1 0h0m0 4h0m0 1h0m0 1h0m3-6h0m-251 12h0m5 1h0m23-3h0m2-3h0m3 6h0m2 0h0m2-2h0m2-2h0m4 4h0m2-4h0m0 2h0m19-1h0m11 3h0m5-5h0m3 4h0m2-2h0m1-2h0m0 5h0m1 0h0m5 1h0m2-7h0m2 2h0m1 5h0m1-3h0m3 0h0m1 0h0m14 3h0m2 0h0m1-5h0m3 1h0m0 1h0m4-3h0m3 6h0m1-5h0m0 1h0m1 4h0m2-7h0m4 3h0m1 1h0m3-2h0m2-1h0m1 5h0m1-1h0m6-5h0m2 3h0m1-2h0m1 5h0m1-5h0m4-1h0m0 6h0m0 1h0m0 0h0m1-2h0m1 1h0m1-1h0m2 2h0m21-1h0m5-5h0m0 2h0m4 1h0m1-2h0m1 3h0m3-5h0m0 1h0m1 0h0m1 1h0m2 1h0m0 2h0m3-2h0m3 3h0m2-3h0m10-3h0m1 7h0m3-7h0m9 7h0m1-2h0m2-1h0m1-1h0m1 2h0m6 0h0m3-1h0m-247 5h0m2 0h0m6-1h0m43 1h0m9 2h0m7 4h0m3-1h0m3-3h0m9 3h0m2 1h0m7-4h0m2-2h0m3 0h0m0 1h0m3 1h0m0 0h0m1-3h0m0 4h0m1-4h0m0 4h0m0 3h0m2-4h0m0 3h0m1-6h0m0 1h0m2 0h0m0 2h0m1 1h0m0 2h0m2-3h0m3 2h0m0 2h0m1-6h0m1 6h0m2-5h0m0 0h0m1 3h0m1-3h0m0 1h0m1 3h0m2 1h0m1-3h0m7-4h0m1 5h0m1-5h0m5 6h0m1-2h0m4-3h0m0 1h0m2 5h0m1-6h0m3 1h0m1-2h0m0 0h0m3 1h0m3-1h0m4 2h0m5 5h0m7-5h0m8-2h0m6 7h0m5-7h0m1 0h0m0 7h0m3-2h0m1-1h0m6-3h0m0 4h0m0 1h0m1 0h0m4-4h0m1 5h0m3-5h0m1 0h0m0 5h0m2 0h0m1-7h0m0 0h0m2 6h0m2-4h0m0 5h0m2-1h0m12-1h0m4-4h0m2 3h0m1 1h0m2 2h0m5-5h0m1 5h0m-238 8h0m4-1h0m4 1h0m2-1h0m16-1h0m7 1h0m15-2h0m17 2h0m2-1h0m1-4h0m0 2h0m1 1h0m0 2h0m0 0h0m7-1h0m3 2h0m0 0h0m1-6h0m1 2h0m1 1h0m2-3h0m4 3h0m0 3h0m1-7h0m1 3h0m3 1h0m0 1h0m1 1h0m1-2h0m2 3h0m1-6h0m1 5h0m2-3h0m0 4h0m1 0h0m1-7h0m1 2h0m0 2h0m0 3h0m1-5h0m0 4h0m3-1h0m0 2h0m1-7h0m0 1h0m0 0h0m0 4h0m3-1h0m1-3h0m1-1h0m0 6h0m2-2h0m1 1h0m1-5h0m0 5h0m1-5h0m0 5h0m1-2h0m4-1h0m0 5h0m1-4h0m0 1h0m3-3h0m1 1h0m1-2h0m2 1h0m2 2h0m2-3h0m1 5h0m1-3h0m5 1h0m1-1h0m1 4h0m3-3h0m1-3h0m1 2h0m4 0h0m9 4h0m2-4h0m0 3h0m2 2h0m2 0h0m3-3h0m6 3h0m3-5h0m0 5h0m11-7h0m0 6h0m1-1h0m1-5h0m4 6h0m1-6h0m2 1h0m4-1h0m2 2h0m1 0h0m0 4h0m1-2h0m0 1h0m0 1h0m1 0h0m1-5h0m1 0h0m1 1h0m5-1h0m0 6h0m1-7h0m0 3h0m1-3h0m0 0h0m0 2h0m3 2h0m0 1h0m1-5h0m0 2h0m1-2h0m1 2h0m0 5h0m3-4h0m0 4h0m1-4h0m1 0h0m2-3h0m3 4h0m1 0h0m1 3h0m0 0h0m-245 7h0m18-2h0m7 3h0m21-5h0m3 4h0m7 0h0m6-2h0m8 3h0m3 0h0m1 0h0m4-4h0m1 0h0m0 2h0m0 0h0m3 0h0m1-1h0m1-4h0m0 1h0m4 4h0m1 2h0m0 0h0m0 0h0m1-6h0m1 5h0m2 1h0m3-4h0m1-1h0m0 0h0m0 3h0m4 2h0m1-6h0m0 1h0m0 0h0m0 2h0m1-4h0m0 6h0m1-1h0m1-3h0m0 2h0m1-4h0m0 1h0m1-1h0m0 4h0m0 2h0m1 0h0m2-2h0m1-4h0m0 3h0m0 2h0m2-1h0m1 0h0m0 2h0m3-5h0m0 0h0m1 4h0m0 1h0m1-6h0m0 3h0m0 3h0m2-1h0m1-3h0m0 5h0m5 0h0m2-5h0m4-2h0m1 3h0m1-3h0m1 1h0m1 5h0m2-3h0m2 3h0m4 1h0m3 0h0m1-5h0m1 3h0m1-4h0m0 5h0m0 1h0m1-6h0m2 4h0m5-3h0m1-2h0m2 7h0m1-5h0m0 2h0m1 3h0m14-2h0m5 1h0m1-1h0m0 0h0m2-4h0m15 1h0m2 3h0m0 1h0m2-1h0m0 0h0m4-5h0m0 2h0m0 0h0m1 2h0m1-3h0m1-1h0m1 4h0m1-3h0m0 2h0m1 2h0m1-4h0m0 4h0m0 1h0m2-1h0m3-3h0m2-1h0m0 6h0m1-7h0m0 4h0m1 2h0m1-6h0m1 1h0m0 1h0m4 1h0m1-2h0m0 6h0m1-6h0m2 3h0m1-4h0m0 1h0m2-1h0m0 2h0m3 0h0m1 5h0m2-6h0m1 6h0m1-3h0m2-4h0m-249 14h0m1-2h0m2-4h0m6 5h0m9-3h0m11 2h0m6-1h0m2-1h0m7 0h0m6 0h0m4 0h0m8 5h0m3-1h0m7 1h0m1-7h0m2 7h0m3-1h0m2-1h0m1-3h0m1-1h0m0 4h0m1 1h0m1 1h0m1-3h0m0 2h0m3-2h0m0 3h0m1-5h0m0 3h0m0 2h0m1-6h0m0 1h0m0 1h0m0 3h0m0 1h0m4-4h0m1 4h0m1-4h0m3 3h0m1-4h0m0 4h0m1-6h0m0 3h0m1 4h0m2-7h0m1 7h0m1 0h0m1-7h0m0 2h0m0 0h0m0 5h0m1-7h0m0 0h0m1 1h0m0 0h0m0 0h0m0 2h0m1 2h0m2 2h0m2-1h0m1-5h0m2 5h0m1-5h0m0 3h0m1-1h0m0 0h0m3-2h0m2 2h0m0 0h0m0 4h0m3-1h0m5-1h0m2-2h0m1 0h0m1 4h0m2-1h0m2-3h0m1-3h0m1 0h0m1 1h0m2-1h0m0 3h0m0 1h0m2 1h0m2-5h0m0 2h0m2-1h0m2 3h0m4-4h0m1 0h0m4 3h0m3 4h0m4-3h0m5-3h0m1 3h0m1 0h0m1-4h0m2 0h0m1 3h0m0 2h0m2 0h0m0 1h0m0 1h0m1-3h0m0 0h0m3 3h0m12-7h0m0 0h0m5 4h0m12-3h0m0 1h0m4 5h0m3-4h0m4-2h0m7-1h0m1 4h0m2-4h0m9 4h0m1 1h0m1-2h0m2-3h0m0 5h0m-250 4h0m1 6h0m0 0h0m2-6h0m1 2h0m8 3h0m4-1h0m2-5h0m7 2h0m5-1h0m2 0h0m7 3h0m2-1h0m1 1h0m5-2h0m3 5h0m6-6h0m3 0h0m2 5h0m2 0h0m2 1h0m1-7h0m9 3h0m2 4h0m1-4h0m1-2h0m0 3h0m3 1h0m0 1h0m1-2h0m2-1h0m0 0h0m0 4h0m1-7h0m6 0h0m0 5h0m1-4h0m0 0h0m0 4h0m1 2h0m1-7h0m0 5h0m0 2h0m1-7h0m0 7h0m1-4h0m1-1h0m1-2h0m0 3h0m0 4h0m1-4h0m1-3h0m2 0h0m0 0h0m0 4h0m1 2h0m1-5h0m0 5h0m0 0h0m1 0h0m1-3h0m0 2h0m1 1h0m1-5h0m1 3h0m0 2h0m1-2h0m1-3h0m0 1h0m0 1h0m1 2h0m1-3h0m2 1h0m0 1h0m0 2h0m3 0h0m1-2h0m1-1h0m2-1h0m2-2h0m0 4h0m1 2h0m1-6h0m0 7h0m2-2h0m2-3h0m1-1h0m3 1h0m1 5h0m2-6h0m1 2h0m1 2h0m1-3h0m1-2h0m1 0h0m0 2h0m3-2h0m0 2h0m2 0h0m1 1h0m2 4h0m2-2h0m1-2h0m1-1h0m6 4h0m2-6h0m6 1h0m1 3h0m5-2h0m2 4h0m1-1h0m1 0h0m1-5h0m2 2h0m0 0h0m11 4h0m5 0h0m2-4h0m16-1h0m4 3h0m1 3h0m2-1h0m2-2h0m6-1h0m2 0h0m3 0h0m1 0h0m4 1h0m1 0h0m0 2h0m1 1h0m6-7h0m2 2h0m-249 13h0m2-3h0m11-3h0m7 5h0m6-2h0m0 1h0m2 1h0m1-3h0m1 3h0m3 0h0m0 1h0m1-4h0m3 3h0m5 0h0m4-3h0m13 1h0m3 0h0m10 1h0m1-2h0m3 2h0m1 1h0m2-2h0m1-3h0m3 3h0m0 2h0m2 1h0m2-3h0m1-2h0m2 0h0m1 3h0m0 1h0m2 1h0m1-5h0m2 0h0m0 5h0m3-3h0m1 0h0m0 1h0m1 1h0m1 0h0m2-6h0m0 3h0m1 1h0m0 1h0m2 1h0m1-5h0m0 1h0m1 2h0m1-2h0m0 5h0m0 0h0m1-7h0m1 6h0m2-2h0m1-3h0m0 2h0m1-2h0m1 2h0m0 1h0m3 0h0m5-3h0m1 3h0m1 2h0m1 1h0m3-6h0m0 1h0m0 5h0m0 0h0m9-6h0m5 1h0m1-1h0m4 0h0m0 2h0m0 0h0m16 4h0m3-7h0m5 3h0m5 0h0m2-3h0m0 0h0m1 1h0m1 2h0m0 3h0m2-6h0m0 6h0m1-4h0m2 4h0m1-1h0m1 1h0m1 0h0m3-3h0m0 0h0m0 2h0m1 2h0m5-3h0m1 0h0m1-1h0m6-2h0m0 4h0m2-1h0m5-4h0m2 7h0m6-2h0m1 2h0m6-6h0m8 3h0m5-1h0m3 0h0m-245 10h0m4 0h0m3-1h0m9-3h0m5 1h0m8 0h0m2-1h0m0 3h0m2 2h0m2 0h0m1-5h0m4 3h0m0 3h0m5-7h0m1 4h0m19 1h0m8-5h0m0 6h0m1-5h0m0 1h0m2-1h0m1 3h0m2-1h0m2 2h0m1 0h0m0 2h0m1-7h0m0 0h0m5 6h0m4 1h0m2-5h0m2 3h0m0 2h0m4-7h0m0 0h0m1 6h0m1-4h0m2-1h0m0 1h0m0 1h0m1 0h0m0 1h0m0 2h0m2 1h0m1-7h0m1 2h0m0 2h0m0 3h0m1-3h0m3-2h0m0 1h0m1-3h0m0 3h0m0 0h0m0 0h0m1-3h0m0 3h0m1-1h0m0 4h0m1-3h0m1 2h0m3-4h0m1 0h0m0 2h0m3-3h0m0 6h0m3-6h0m0 0h0m0 3h0m1 4h0m4-2h0m1-2h0m1 1h0m0 1h0m3-5h0m1 6h0m5-6h0m1 6h0m3-6h0m2 0h0m0 3h0m0 2h0m4-2h0m0 4h0m0 0h0m7-1h0m3-3h0m2-3h0m0 4h0m0 3h0m2-2h0m4 2h0m6-2h0m4 2h0m5-5h0m1-1h0m0 1h0m1-2h0m1 6h0m2-4h0m3 0h0m1 0h0m0 2h0m2-3h0m2 1h0m4 1h0m1-1h0m2 1h0m1 4h0m11-5h0m8-2h0m1 6h0m4-3h0m5-1h0m2 5h0m5-2h0m1-5h0m0 7h0m-249 1h0m0 5h0m6 1h0m19-3h0m6 2h0m3-3h0m2 2h0m0 1h0m1-5h0m0 4h0m1-2h0m1-1h0m11 4h0m10 2h0m2-6h0m5 4h0m2-5h0m0 3h0m7 0h0m6 0h0m4-3h0m1 7h0m2-4h0m2-3h0m0 2h0m1 1h0m0 0h0m4 1h0m3-2h0m1 2h0m2-2h0m0 2h0m1 0h0m2 2h0m0 0h0m1-6h0m2 5h0m1-3h0m0 1h0m0 3h0m3-4h0m0 1h0m1 0h0m0 2h0m0 2h0m2-4h0m1 0h0m0 2h0m0 0h0m1-3h0m0 2h0m2-3h0m0 0h0m1 1h0m3 1h0m12 3h0m4 1h0m4 0h0m8-5h0m4 3h0m5-5h0m1 5h0m3 2h0m1-5h0m1-1h0m0 2h0m6 2h0m10-5h0m13 4h0m7 2h0m1-6h0m4 1h0m1-1h0m1 4h0m2-2h0m0 4h0m1 1h0m6-5h0m4 2h0m0 1h0m0 2h0m1-2h0m2-3h0m9 1h0m2 0h0m0 0h0m0 3h0m1-1h0m2-5h0m1 2h0m0 5h0m1-7h0m2 4h0m2-1h0m0 2h0m2 1h0m-244 5h0m5 0h0m2-1h0m1-2h0m6 2h0m5 0h0m2 0h0m5 0h0m2 3h0m5-1h0m1-4h0m6 2h0m7 2h0m36-2h0m1-2h0m2 1h0m9-1h0m1 3h0m1 0h0m1-3h0m10 4h0m10 1h0m3-3h0m1 3h0m9 0h0m1-4h0m4 1h0m5 0h0m3-2h0m2 1h0m2 2h0m11-3h0m3 1h0m6 1h0m4-1h0m1 3h0m5-4h0m4 0h0m14 4h0m11-1h0m3 0h0m1-1h0m10-1h0m2 0h0m2-1h0m3 5h0m1-5h0m6 0h0m1 5h0m3-5h0m0 2h0m2-1h0m2 1h0" stroke="#A094CE" stroke-opacity="0.55" stroke-width="3.0" stroke-linecap="round" fill="none"/><path transform="translate(220 124) scale(.5)" d="M4 2h0m3 2h0m1 1h0m4-3h0m8 5h0m11-2h0m7 1h0m1-4h0m0 1h0m0 1h0m3-2h0m0 1h0m6 2h0m2-2h0m1-3h0m0 2h0m0 2h0m4 1h0m1 1h0m5-3h0m14-1h0m23 3h0m3-2h0m1 4h0m4-1h0m14-1h0m6-1h0m1-2h0m4 0h0m0 0h0m1-2h0m0 0h0m2 7h0m3-4h0m1-2h0m2 6h0m1 0h0m1-3h0m3 2h0m0 0h0m1-1h0m5-1h0m4 1h0m15-3h0m0 5h0m4-4h0m7 0h0m6-1h0m23-1h0m3 6h0m6-4h0m0 1h0m2-1h0m1 2h0m0 2h0m5-5h0m2 1h0m6 2h0m7-4h0m2 2h0m1-2h0m0 2h0m0 1h0m-233 11h0m18-4h0m1-2h0m7 3h0m2 3h0m1-5h0m1-2h0m3 2h0m1 0h0m1-2h0m1 3h0m3 4h0m1-4h0m2 2h0m1 1h0m2-2h0m2-2h0m2-1h0m0 4h0m3-4h0m1 5h0m7 1h0m3-4h0m3 3h0m11-6h0m3 7h0m2-5h0m12 0h0m0 4h0m5 0h0m7 0h0m6-5h0m4 4h0m4-2h0m1-3h0m0 5h0m0 0h0m1-3h0m0 4h0m0 1h0m2-6h0m5 0h0m0 3h0m1 3h0m5-5h0m0 5h0m7-1h0m9-1h0m2-4h0m4-1h0m7 5h0m5-2h0m0 1h0m1 3h0m4-5h0m0 3h0m5-2h0m2 2h0m3 1h0m4-3h0m7 4h0m7-3h0m6-1h0m2 3h0m10 0h0m3-5h0m2 6h0m3-4h0m0 0h0m4-3h0m2 3h0m5-3h0m0 1h0m0 2h0m-244 7h0m6 4h0m18-4h0m2 1h0m10-2h0m16-1h0m2 4h0m4 0h0m3 0h0m2 0h0m3-3h0m0 6h0m1-5h0m1 3h0m1-5h0m0 2h0m1 3h0m0 2h0m1-6h0m3 1h0m3 5h0m2-5h0m0 2h0m0 1h0m2-3h0m0 5h0m0 0h0m2-3h0m1 1h0m6 1h0m3-4h0m1-2h0m7 1h0m1-1h0m9 5h0m4 2h0m2-3h0m5-2h0m1 0h0m2 0h0m0 5h0m2 0h0m1-5h0m8 5h0m1-2h0m1 2h0m1-4h0m4-2h0m0 3h0m2-4h0m7 1h0m3 3h0m2-4h0m2 2h0m2 3h0m3 1h0m1-2h0m9-4h0m0 5h0m13 1h0m3-4h0m1-1h0m7 2h0m15-3h0m2 6h0m2-6h0m8 3h0m6 4h0m3-5h0m5 1h0m3-1h0m0 3h0m-248 6h0m6 2h0m6 0h0m4 2h0m1-3h0m25-4h0m17 0h0m0 0h0m4 2h0m0 5h0m1-7h0m2 2h0m3 4h0m2-4h0m4 1h0m1-3h0m0 5h0m2-4h0m0 6h0m1-3h0m1-1h0m2-2h0m2 2h0m2 0h0m2-2h0m0 5h0m6-5h0m1 4h0m3 1h0m3 0h0m2 0h0m2-6h0m1 5h0m3 1h0m16-6h0m0 4h0m5-3h0m4 5h0m5-6h0m1 6h0m3-4h0m0 5h0m4-2h0m1 2h0m1-5h0m4-2h0m11 7h0m5-1h0m2-3h0m9-1h0m9 3h0m19 2h0m8-7h0m4 0h0m1 0h0m0 6h0m1-1h0m6-1h0m7 0h0m0 3h0m1-3h0m2 0h0m0 1h0m3-3h0m0 2h0m4 0h0m-209 4h0m19 5h0m10 1h0m1-2h0m0 2h0m1-4h0m2-1h0m0 0h0m0 1h0m0 0h0m0 1h0m1-3h0m0 3h0m1 0h0m7 2h0m3 1h0m2-4h0m2 4h0m3 0h0m1-2h0m3 0h0m4 0h0m4-1h0m1 1h0m3 2h0m19-3h0m3-3h0m1 0h0m1 3h0m0 3h0m1-3h0m4-1h0m2-1h0m41 6h0m6-5h0m3 1h0m35 4h0m3-1h0m4-2h0m1 2h0m0 1h0m1 0h0m1-2h0m3 0h0m12-3h0m2 1h0m1-2h0m0 1h0m-193 9h0m2 2h0m2-5h0m3 1h0m2 5h0m4-5h0m1 3h0m1-1h0m3 1h0m1-4h0m2 4h0m2 3h0m8-5h0m1 3h0m3-2h0m1-1h0m4 1h0m12 0h0m8 1h0m3 3h0m7-5h0m0 5h0m5-1h0m1-2h0m3 2h0m0 1h0m1-4h0m1 4h0m0 0h0m4-6h0m3 3h0m9-3h0m6 6h0m17-6h0m11 6h0m10-6h0m6 0h0m3 3h0m7-1h0m4-3h0m4 1h0m0 4h0m2 0h0m2-2h0m0 4h0m3 0h0m1-3h0m3-2h0m2-1h0m1 3h0m0 1h0m2-2h0m4 4h0m7-5h0m-243 10h0m2-4h0m0 6h0m4-6h0m3 6h0m41-6h0m6 5h0m7-4h0m0 6h0m3-7h0m3 0h0m5 1h0m2 3h0m1-3h0m0 5h0m4 1h0m2-3h0m8-1h0m12 4h0m7-7h0m4 4h0m4 0h0m2-1h0m5 0h0m0 4h0m1-2h0m2-5h0m2 6h0m6 1h0m4-4h0m17 2h0m0 2h0m2-6h0m2 1h0m0 3h0m6 2h0m2-5h0m2-1h0m1 2h0m4-1h0m0 0h0m5 2h0m1-4h0m4 5h0m8 2h0m9-6h0m12 6h0m5-1h0m2-4h0m2 4h0m4-3h0m0 2h0m0 0h0m7-4h0m0 6h0m1 0h0m4-6h0m2 0h0m1 3h0m0 0h0m2-3h0m1 4h0m-246 8h0m2-1h0m14-3h0m4 6h0m23-1h0m18-4h0m1 2h0m0 3h0m2-2h0m3 0h0m0 1h0m2-5h0m0 0h0m1 5h0m7 0h0m5-6h0m0 2h0m1-2h0m20 1h0m2 1h0m6-1h0m1 5h0m7 0h0m1-2h0m0 1h0m2 0h0m0 1h0m0 1h0m1-6h0m3 0h0m1 4h0m1-2h0m0 3h0m1-4h0m1-1h0m4 6h0m2-7h0m0 4h0m1-1h0m1-3h0m0 4h0m1-3h0m8 5h0m1-2h0m4-4h0m0 4h0m2 1h0m0 2h0m2-4h0m0 2h0m2-4h0m2 0h0m4 1h0m4-2h0m0 3h0m4-1h0m0 2h0m0 3h0m1-4h0m1 3h0m4-1h0m2-2h0m0 4h0m8-4h0m2 3h0m1-4h0m4 1h0m17-3h0m7 0h0m8 4h0m3-2h0m3 5h0m1-2h0m1 0h0m2 2h0m1 0h0m0 0h0m1-1h0m1-2h0m2 0h0m2-4h0m2 1h0m-249 14h0m2-5h0m1 3h0m3-3h0m1 1h0m1 3h0m2-5h0m0 2h0m0 0h0m1 3h0m2 0h0m1-2h0m12 0h0m5-1h0m0 0h0m19-3h0m11 5h0m6-1h0m1 2h0m5 0h0m2-5h0m0 0h0m1 2h0m6 4h0m0 0h0m2-7h0m5 3h0m1 3h0m3-2h0m6-2h0m6-2h0m10 3h0m2-2h0m0 5h0m2-5h0m1 0h0m4 1h0m4-1h0m0 0h0m4 1h0m2 4h0m0 1h0m1-2h0m0 1h0m1-5h0m4 3h0m3-1h0m2 3h0m4-4h0m2 5h0m2-6h0m1 0h0m2 0h0m0 1h0m0 4h0m3-3h0m1-3h0m2 2h0m0 2h0m1-4h0m0 6h0m1 0h0m5-4h0m1-2h0m0 7h0m1-3h0m1 3h0m1-1h0m0 1h0m1-6h0m1 2h0m3-1h0m0 5h0m1-4h0m0 0h0m0 4h0m1-3h0m1 0h0m0 1h0m2-1h0m0 1h0m1 0h0m6-4h0m0 4h0m3 2h0m1-2h0m1-3h0m5-2h0m0 7h0m1-4h0m2 4h0m23-3h0m5-4h0m14 7h0m3-1h0m1 0h0m-251 4h0m2-1h0m1 0h0m0 6h0m5-7h0m7 0h0m1 1h0m6-1h0m0 0h0m0 7h0m2-6h0m0 2h0m2-1h0m2-1h0m8-1h0m10 2h0m0 1h0m14-1h0m14 0h0m3 1h0m1 3h0m2-4h0m11 0h0m1-1h0m2 1h0m1-2h0m2 4h0m15 0h0m3 0h0m3 0h0m0 2h0m5-6h0m0 7h0m1-3h0m1 2h0m2-4h0m2 2h0m1-4h0m0 3h0m4 2h0m6 2h0m4-7h0m0 1h0m1 3h0m1-4h0m3 1h0m2 5h0m2-6h0m2 7h0m1-4h0m2-2h0m1-1h0m1 4h0m1 3h0m1-5h0m6-2h0m2 3h0m1-1h0m0 3h0m2-2h0m0 3h0m2-6h0m2 3h0m0 2h0m2-4h0m0 3h0m1 2h0m1-4h0m0 0h0m6-1h0m2 0h0m5 2h0m0 1h0m0 2h0m1-3h0m2-3h0m1 6h0m1-4h0m1-2h0m0 1h0m1 1h0m5 5h0m2-6h0m2 4h0m2-1h0m0 0h0m8-3h0m20 0h0m3 0h0m-237 8h0m5 3h0m8-1h0m2 0h0m4 1h0m13 0h0m2-2h0m3 3h0m15-4h0m9 2h0m1 4h0m2-1h0m3-5h0m0 1h0m1 1h0m1 4h0m11 0h0m4-5h0m1 4h0m1-4h0m5 3h0m2 0h0m1 2h0m1 0h0m2-3h0m2-1h0m1-3h0m1 4h0m1-1h0m1 2h0m2 2h0m3-5h0m2 5h0m2-6h0m6 3h0m2-3h0m4-1h0m6 1h0m1 0h0m1-1h0m3 2h0m1-2h0m0 3h0m1 2h0m6-5h0m0 0h0m2 1h0m5 5h0m3-3h0m1-3h0m4 6h0m8-3h0m7 1h0m18-4h0m8 0h0m1 6h0m1-2h0m4 1h0m2-4h0m0 5h0m1-1h0m3 1h0m3-1h0m2-5h0m5 7h0m1-7h0m9 2h0m0 3h0m3-2h0m8-2h0m2-1h0m1 4h0m-237 7h0m24-3h0m7 1h0m0 4h0m8-4h0m0 4h0m26 1h0m3-5h0m6-1h0m1 1h0m1 5h0m0 1h0m1 0h0m2-5h0m1 0h0m4 3h0m2-1h0m4-3h0m0 0h0m2 5h0m1-1h0m0 0h0m0 2h0m1-6h0m1 6h0m3-4h0m1-2h0m0 4h0m4 1h0m1-6h0m1 0h0m2 7h0m1-3h0m0 3h0m3-3h0m2-1h0m3 4h0m5-4h0m1-3h0m3 7h0m1-1h0m5-6h0m15 1h0m2-1h0m1 3h0m3-1h0m2-1h0m17 4h0m5 0h0m13-4h0m6 1h0m2 5h0m2 0h0m2-6h0m0 0h0m0 6h0m2-3h0m1 1h0m0 1h0m1 0h0m1-1h0m2-2h0m2-2h0m7 5h0m1-1h0m6-4h0m6 2h0m5 0h0m0 1h0m-249 11h0m9-6h0m11 1h0m18 0h0m13 3h0m14 1h0m7-3h0m3 1h0m1-4h0m5 6h0m3-2h0m6-4h0m3 3h0m2-2h0m1 1h0m2 0h0m3 2h0m2 3h0m1-7h0m0 7h0m1-7h0m0 7h0m1-2h0m1-4h0m0 1h0m3 2h0m1-4h0m1 5h0m1-3h0m1 0h0m5 0h0m2-1h0m1 5h0m2-3h0m6-2h0m3 2h0m2-2h0m7 6h0m1 0h0m2-6h0m1 6h0m2 0h0m10-7h0m1 0h0m1 6h0m1-4h0m0 5h0m2-4h0m4-1h0m0 2h0m1-2h0m4 2h0m14 1h0m1 2h0m1-3h0m6 2h0m11-3h0m0 0h0m4 3h0m6 1h0m2-4h0m0 2h0m1-4h0m1 4h0m1 2h0m2-7h0m3 1h0m4 3h0m0 3h0m1-5h0m1 0h0m9 5h0m1-7h0m2 7h0m2-4h0m1-1h0m1 1h0m4-2h0m1 1h0m-251 6h0m2 7h0m1-4h0m5 1h0m6-2h0m27-1h0m4 0h0m0 4h0m21 0h0m12 2h0m1-5h0m0 1h0m1 2h0m3-5h0m0 2h0m0 2h0m0 2h0m7-2h0m1 3h0m2-4h0m0 1h0m0 3h0m1-6h0m0 1h0m1 5h0m1-6h0m0 0h0m1 6h0m1-5h0m0 5h0m1-6h0m2 4h0m2 1h0m1-3h0m0 3h0m3-5h0m1 0h0m0 3h0m0 1h0m1-5h0m0 2h0m0 4h0m0 0h0m9-6h0m0 1h0m2 1h0m0 1h0m3-3h0m1 5h0m1-5h0m3 2h0m0 3h0m2 2h0m7 0h0m12-6h0m0 3h0m6 3h0m2-1h0m1-5h0m0 4h0m2-1h0m3 2h0m2-6h0m0 6h0m1-5h0m0 2h0m2-1h0m3 2h0m1-3h0m0 5h0m2-4h0m6 5h0m2-5h0m4-2h0m1 2h0m5 5h0m5-5h0m4 4h0m5-6h0m3 7h0m4-3h0m4-4h0m0 5h0m0 1h0m1-5h0m2 1h0m2 1h0m4 3h0m3 1h0m1-7h0m2 7h0m2-2h0m1 2h0m1 0h0m1-7h0m4 2h0m2-1h0m5 3h0m1-4h0m-246 8h0m4 7h0m1-3h0m0 2h0m0 1h0m5-5h0m3-1h0m3 5h0m21-3h0m13 2h0m6-5h0m0 0h0m21 2h0m0 3h0m1-3h0m2 4h0m1-2h0m3 3h0m1-3h0m2 2h0m1-4h0m2 5h0m1-6h0m2 3h0m2 2h0m1-3h0m1-3h0m4 4h0m1 1h0m1 0h0m1-4h0m0 1h0m1-2h0m0 2h0m0 5h0m1-3h0m0 1h0m0 1h0m0 1h0m1-5h0m0 0h0m0 5h0m2-4h0m1-3h0m1 3h0m0 3h0m1-5h0m0 5h0m1 0h0m0 1h0m1-7h0m1 3h0m2-2h0m0 0h0m2-1h0m2 3h0m1-2h0m2 2h0m0 4h0m6-5h0m1 4h0m5-3h0m2 1h0m2 3h0m3-6h0m0 3h0m1-1h0m0 2h0m0 1h0m2 0h0m2-5h0m2 5h0m2-2h0m1 1h0m1 1h0m2-1h0m4-3h0m2-2h0m0 1h0m1 2h0m3 2h0m2 1h0m1-5h0m3 4h0m2 2h0m3-3h0m3-1h0m3-3h0m1 5h0m15 2h0m2-4h0m4-1h0m3 4h0m6-5h0m0 6h0m3-4h0m1-3h0m1 2h0m0 5h0m4-7h0m0 2h0m1 5h0m2-3h0m3 3h0m4-2h0m1-3h0m0 2h0m1 3h0m2-3h0m-237 9h0m1-1h0m1-3h0m2 6h0m31 0h0m6-6h0m3 4h0m6 1h0m3-5h0m7 4h0m1 0h0m9-1h0m5-4h0m2 1h0m4 4h0m3-3h0m3-2h0m0 2h0m1-2h0m2 1h0m0 2h0m1 2h0m2-3h0m1 3h0m0 0h0m4-2h0m2 3h0m1-2h0m0 3h0m1-3h0m1 0h0m1 3h0m1 0h0m1-6h0m0 2h0m2 0h0m1-1h0m2 2h0m1-2h0m1-1h0m0 2h0m1 3h0m1 0h0m1-3h0m0 0h0m2-3h0m0 4h0m0 1h0m2-5h0m0 3h0m3 4h0m4-4h0m1 0h0m1-2h0m1 2h0m4 3h0m2-1h0m3 2h0m3-3h0m4-3h0m0 0h0m3 2h0m1 4h0m3-7h0m0 2h0m0 2h0m1 3h0m6-3h0m8 1h0m3-2h0m0 2h0m2-4h0m1 2h0m1 4h0m3-7h0m2 1h0m3 4h0m0 2h0m1-3h0m3 3h0m1-3h0m4-2h0m2 1h0m0 3h0m4-2h0m5-4h0m1 6h0m1-1h0m5-1h0m6-1h0m6 2h0m4 2h0m9-6h0m1 6h0m1-2h0m8 1h0m-234 4h0m15 0h0m1 3h0m2-2h0m1-2h0m0 6h0m10 0h0m6-5h0m5 1h0m1 2h0m1-3h0m4 0h0m2 3h0m19-4h0m2 1h0m3 1h0m2 0h0m0 2h0m1-1h0m4-3h0m1 0h0m0 1h0m1 0h0m2 5h0m1 0h0m2 0h0m1-6h0m2 5h0m1-6h0m0 3h0m4-2h0m1 2h0m1-1h0m2-2h0m0 5h0m2-1h0m1-4h0m0 1h0m0 4h0m1-1h0m1-2h0m0 1h0m1-3h0m0 3h0m2 1h0m0 2h0m5-2h0m0 3h0m1-2h0m2-3h0m0 1h0m13-3h0m6 5h0m2-3h0m4 0h0m2 4h0m2-5h0m2 0h0m0 4h0m2-3h0m1 4h0m14-6h0m4 5h0m2 0h0m2 2h0m7-3h0m1-1h0m6 2h0m0 2h0m4-7h0m5 0h0m0 0h0m1 1h0m0 6h0m3-5h0m5 2h0m5-4h0m0 2h0m7 5h0m1-5h0m16 0h0m5-1h0m0 1h0m1 5h0m-249 3h0m1-2h0m10 6h0m5-3h0m8-3h0m6 3h0m2-1h0m0 3h0m6-1h0m0 3h0m5-7h0m0 0h0m3 2h0m2 3h0m3 0h0m28-1h0m1 2h0m1-1h0m2 1h0m1-4h0m4 3h0m1-5h0m0 3h0m2 2h0m3 2h0m1-2h0m1-5h0m4 4h0m0 3h0m1-1h0m4-5h0m1 5h0m1-6h0m1 0h0m2 7h0m1-1h0m1 1h0m3-1h0m2-4h0m2 1h0m3-3h0m0 5h0m4-5h0m1 2h0m0 0h0m4 2h0m2 3h0m3-5h0m2-1h0m3-1h0m0 5h0m17 2h0m2 0h0m1-5h0m2 0h0m0 4h0m4-6h0m15 1h0m1-1h0m1 6h0m0 0h0m1-5h0m0 5h0m2-4h0m1 0h0m1-2h0m1 0h0m2 5h0m5-1h0m0 0h0m2-2h0m1 4h0m2-1h0m1-3h0m0 4h0m3 1h0m6-6h0m0 6h0m8-7h0m0 3h0m4 3h0m1-3h0m0 4h0m6-7h0m1 2h0m4-1h0m0 6h0m11-6h0m-242 7h0m0 2h0m6 1h0m13-2h0m24 2h0m14-1h0m1 2h0m10-4h0m3 0h0m2 3h0m3 1h0m2 2h0m3 1h0m2-5h0m3 5h0m1-7h0m1 7h0m7-6h0m2-1h0m0 6h0m1-5h0m3 6h0m0 0h0m3-4h0m2-2h0m1 3h0m1-4h0m0 4h0m0 2h0m1-4h0m3-2h0m3 1h0m0 4h0m1-1h0m1-3h0m0 0h0m0 6h0m2-6h0m2 5h0m1-4h0m0 5h0m2-6h0m0 3h0m5 0h0m4-3h0m3-1h0m6 0h0m5 1h0m3 1h0m7-1h0m0 1h0m0 5h0m3-2h0m8-3h0m4 3h0m0 0h0m8-5h0m5 1h0m7 6h0m5-5h0m8-1h0m9 0h0m4 6h0m6-5h0m1-1h0m7 2h0m1 1h0m1 1h0m3-3h0m1 2h0m0 2h0m1-5h0m-242 10h0m30-3h0m12 0h0m8 5h0m21-4h0m2 0h0m3 0h0m4 1h0m2-1h0m0 1h0m3-2h0m0 0h0m0 1h0m2 1h0m3 2h0m1-1h0m6 0h0m2 2h0m2-4h0m4-1h0m2 1h0m0 1h0m3 2h0m2-1h0m2 1h0m7-4h0m0 1h0m2-1h0m3 2h0m10 1h0m1 0h0m2-2h0m11 0h0m0 2h0m5 0h0m9 2h0m4-1h0m14-1h0m12-2h0m17 1h0m1-2h0m4 2h0m5 0h0m11 3h0m1-5h0m5 0h0m2 3h0m1 2h0m4-2h0" stroke="#8276BE" stroke-opacity="0.5" stroke-width="2.0" stroke-linecap="round" fill="none"/><ellipse cx="342.0" cy="136.0" rx="4" ry="5" fill="#E6D8EA" fill-opacity="1.0" filter="url(#bl1)"/><ellipse cx="308.0" cy="194.0" rx="5" ry="4" fill="#E4D4E8" fill-opacity="1.0" filter="url(#bl1)"/><ellipse cx="231.8" cy="146.4" rx="7.6" ry="6.7" fill="#F4F3F8" fill-opacity="1.0"/><ellipse cx="247.5" cy="168.0" rx="4.5" ry="8" fill="#F4F3F8" fill-opacity="1.0"/><ellipse cx="334.0" cy="160.0" rx="4.8" ry="4.8" fill="#F4F3F8" fill-opacity="1.0"/><ellipse cx="317.0" cy="199.0" rx="5" ry="4.5" fill="#F4F3F8" fill-opacity="1.0"/></g></g>
<g clip-path="url(#cB4)"><g filter="url(#fbB4)"><rect x="347.3" y="121" width="132.7" height="84.5" fill="#D6CDE6"/><path transform="translate(350.3 124) scale(.5)" d="M3 4h0m1 3h0m1 0h0m5-4h0m3-2h0m4 2h0m2 3h0m9-5h0m1 5h0m0 1h0m5-3h0m1-3h0m2 4h0m1 2h0m1-2h0m18-1h0m4-3h0m0 5h0m3 0h0m13-4h0m7 0h0m7 5h0m2-5h0m13 0h0m6 3h0m9-2h0m2-3h0m0 1h0m15 3h0m5-1h0m5 2h0m2 2h0m2-3h0m4 1h0m1-4h0m1 2h0m3-2h0m1 0h0m4 2h0m2 1h0m6 2h0m4-5h0m1 6h0m5-3h0m3-2h0m1 5h0m1-4h0m2-1h0m8-1h0m2 1h0m4 0h0m1 5h0m12-6h0m2 1h0m5 2h0m10-3h0m6 1h0m4 0h0m2 2h0m6-2h0m-252 13h0m1-1h0m2-5h0m0 1h0m1-1h0m1 2h0m4 4h0m1-6h0m3 6h0m2-5h0m1 0h0m2 3h0m0 1h0m9 0h0m2-6h0m2 0h0m6 0h0m0 0h0m0 1h0m1 0h0m2 3h0m1-3h0m1-1h0m5 3h0m2 1h0m3-1h0m6-2h0m2 0h0m0 6h0m1-7h0m1 0h0m2 5h0m2-3h0m4-1h0m5-1h0m1 5h0m3-2h0m6-3h0m2 0h0m0 4h0m2 0h0m1-2h0m0 3h0m0 1h0m1-2h0m3-3h0m0 3h0m0 2h0m3 0h0m1-4h0m2 2h0m3-1h0m1 2h0m3-4h0m6 1h0m2 5h0m1-3h0m1 3h0m1 0h0m4-3h0m11 1h0m5-5h0m9 7h0m7-1h0m7 1h0m4 0h0m2-5h0m2 0h0m0 2h0m1 0h0m4 2h0m1-4h0m5 2h0m10-4h0m3 0h0m5 4h0m0 3h0m3-2h0m4 2h0m1-3h0m3-2h0m0 5h0m11-3h0m4-4h0m6 7h0m1-2h0m4 0h0m5 0h0m3 0h0m0 1h0m3-5h0m-240 12h0m1-1h0m4-3h0m7 6h0m1 0h0m2-6h0m2 4h0m3-4h0m4 1h0m1 3h0m6 0h0m2 2h0m9-1h0m1-3h0m6 2h0m9-3h0m11 1h0m6-1h0m3-1h0m0 2h0m9 4h0m4-3h0m6 0h0m5 0h0m4-3h0m5 6h0m6-6h0m0 6h0m3-4h0m5 3h0m8-6h0m1 0h0m4 4h0m4-2h0m0 1h0m4 1h0m4-1h0m2 3h0m1-5h0m1 1h0m5 3h0m3 2h0m1 0h0m2-7h0m1 4h0m12-4h0m0 2h0m15 5h0m3-3h0m4-3h0m4 5h0m10-5h0m1-1h0m10 1h0m0 4h0m2 1h0m7-3h0m2 4h0m1 0h0m3-7h0m-237 9h0m0 6h0m5-1h0m4-3h0m4 3h0m7-4h0m2 4h0m1-4h0m0 4h0m2-5h0m13 3h0m2 3h0m2-3h0m1 3h0m12-5h0m6-1h0m12-1h0m1 6h0m7-6h0m2 1h0m11 4h0m1-1h0m4-4h0m11 4h0m3-2h0m6 5h0m2 0h0m10-4h0m8 4h0m8-4h0m1 1h0m1 2h0m7 1h0m2-6h0m4 2h0m5 3h0m11-5h0m5 6h0m1-5h0m2 3h0m1-1h0m3 3h0m4-2h0m12-3h0m0 0h0m4 2h0m13-4h0m0 2h0m3 3h0m1 1h0m-233 2h0m3 1h0m2-1h0m1 0h0m2 2h0m1 3h0m1-4h0m1 2h0m0 3h0m1-4h0m0 3h0m1-3h0m0 1h0m0 1h0m1-1h0m1-2h0m2 5h0m2-3h0m1 0h0m2-1h0m1-2h0m1 0h0m0 7h0m1-1h0m0 1h0m3-6h0m3 1h0m13 2h0m4-4h0m0 2h0m2 2h0m2 1h0m0 0h0m0 2h0m2-6h0m2 3h0m3-2h0m0 2h0m0 0h0m1 0h0m1-3h0m7-1h0m13 6h0m1-1h0m10-4h0m3 4h0m5 1h0m0 1h0m1-6h0m3 5h0m9-6h0m0 5h0m6 1h0m2-3h0m5 2h0m2-1h0m3-2h0m1 5h0m6-3h0m3-1h0m0 4h0m1-2h0m1-1h0m3-1h0m2 4h0m3-3h0m3-2h0m4 2h0m1-2h0m0 4h0m1-2h0m6-2h0m0 1h0m4-2h0m11 3h0m15-1h0m12 2h0m0 2h0m6 0h0m3-3h0m1 1h0m3-2h0m4-1h0m1 2h0m1 0h0m7-4h0m1 1h0m0 1h0m1-1h0m7 3h0m-246 10h0m0 1h0m6-2h0m0 0h0m2-2h0m5-2h0m3 4h0m1 0h0m1 1h0m0 1h0m9-1h0m8-4h0m5 5h0m4-7h0m0 1h0m2 6h0m15-4h0m4 0h0m5-3h0m2 7h0m2-4h0m0 3h0m1-5h0m10 0h0m6 2h0m7 4h0m12-2h0m6 1h0m1-5h0m5 2h0m3-1h0m6-2h0m5 1h0m0 4h0m5-2h0m0 2h0m3 0h0m1-2h0m4-2h0m7 1h0m13 0h0m4 1h0m2 4h0m6-5h0m2 3h0m3 0h0m3-4h0m9-1h0m1 6h0m16-4h0m1 3h0m7-1h0m3-1h0m6 1h0m7 3h0m13-3h0m-253 8h0m2-4h0m0 6h0m5 0h0m1-2h0m2-3h0m1 6h0m0 0h0m1-2h0m1-3h0m0 4h0m2-3h0m1 3h0m5 1h0m1-7h0m0 3h0m5 1h0m3-4h0m1 5h0m5-4h0m1 4h0m1-3h0m3 1h0m0 3h0m1 0h0m7 0h0m5 0h0m20 0h0m4-5h0m1 2h0m4-3h0m7 2h0m3-1h0m12-1h0m8 3h0m22 0h0m1 1h0m7 3h0m14-7h0m5 2h0m0 2h0m16-2h0m2 2h0m1-1h0m3 4h0m17-7h0m1 5h0m1-1h0m2-2h0m5-1h0m2-1h0m6 3h0m4 2h0m3-4h0m5 2h0m2-1h0m15-1h0m-247 10h0m1 3h0m3-2h0m1-3h0m1-1h0m0 7h0m2 0h0m1-4h0m0 1h0m3-4h0m2 6h0m2-3h0m0 3h0m3-6h0m0 3h0m1-1h0m1 0h0m4 0h0m2-2h0m0 6h0m2-4h0m0 3h0m1-3h0m1 1h0m2 3h0m2-4h0m1 3h0m7-1h0m1 1h0m2-1h0m2-2h0m6 0h0m9 0h0m1 3h0m1 0h0m2-2h0m3-2h0m5-1h0m2 2h0m2 2h0m0 0h0m1-4h0m1 5h0m4-4h0m3 6h0m2-6h0m1 4h0m2 1h0m4-6h0m0 7h0m0 0h0m0 0h0m1-1h0m3-5h0m0 6h0m6-6h0m1 0h0m1 1h0m6 3h0m1-5h0m12 1h0m1 6h0m2-4h0m4 2h0m2-1h0m10 0h0m23 3h0m1-4h0m25 2h0m4-2h0m4 3h0m1 1h0m1-1h0m1-6h0m12 1h0m1 3h0m4 3h0m10-4h0m1 1h0m1-4h0m6 1h0m1 6h0m2-1h0m-244 5h0m0 4h0m1-2h0m0 2h0m4-6h0m1 5h0m3 1h0m1-1h0m1-6h0m2 2h0m0 1h0m2-3h0m0 7h0m12-1h0m4-2h0m3 1h0m4 2h0m3-7h0m0 1h0m0 6h0m1-1h0m3-5h0m0 6h0m3-1h0m0 1h0m3-6h0m6 4h0m3-2h0m5-2h0m7 6h0m1-1h0m1 1h0m5-6h0m1 3h0m8-1h0m0 1h0m0 1h0m4-3h0m0 1h0m0 3h0m9-3h0m1 3h0m5-3h0m2 2h0m7-1h0m3-3h0m0 1h0m0 4h0m4-1h0m1-2h0m2 3h0m3-3h0m4 3h0m5-2h0m9 3h0m2-4h0m19-3h0m8 6h0m3-6h0m0 0h0m6 7h0m2-3h0m13 2h0m2-4h0m0 4h0m2 0h0m18 1h0m2-2h0m3-4h0m0 2h0m9-3h0m1 2h0m7 0h0m5-2h0m-247 8h0m1 3h0m5-2h0m1 2h0m2-3h0m5 1h0m2 4h0m0 1h0m5-4h0m0 0h0m3 2h0m1 3h0m5-3h0m0 3h0m3-5h0m4 3h0m2 0h0m4 0h0m9 2h0m3-3h0m7-1h0m2 4h0m1 0h0m1-3h0m2-2h0m2 0h0m4-2h0m1 2h0m5-1h0m4-1h0m0 2h0m2 4h0m1-6h0m7 2h0m1 0h0m3-2h0m11 1h0m5 4h0m4-2h0m0 1h0m1 3h0m4-6h0m8-1h0m2 0h0m3 3h0m3 1h0m4 2h0m3-6h0m2 3h0m1 2h0m3-2h0m5-1h0m7 5h0m1-6h0m1 6h0m5-6h0m3 0h0m10 5h0m5-3h0m0 4h0m10 0h0m4-7h0m0 1h0m4 1h0m6-1h0m5 0h0m2 4h0m7-1h0m5 1h0m3-2h0m4 4h0m-240 2h0m0 6h0m1-1h0m3-6h0m7 0h0m0 5h0m2-3h0m2-1h0m0 6h0m2-5h0m5 1h0m1-2h0m6 0h0m7 0h0m5-1h0m1 2h0m2 4h0m1-1h0m1 0h0m1 2h0m2-6h0m1 5h0m5-6h0m4 1h0m0 2h0m3-2h0m0 1h0m3 1h0m1 4h0m3-7h0m1 1h0m2 2h0m2-1h0m4 0h0m2-2h0m0 5h0m11-2h0m1-3h0m1 4h0m3-2h0m1 5h0m2-3h0m0 0h0m1-1h0m2 0h0m1 3h0m1 0h0m5-3h0m0 2h0m1-3h0m4 5h0m3-5h0m0 4h0m5-1h0m0 2h0m1-2h0m0 2h0m1-3h0m8-2h0m8 2h0m0 1h0m3-5h0m3 1h0m6 2h0m0 3h0m2 1h0m8-3h0m1 0h0m1 2h0m6 0h0m13-2h0m2-1h0m3-2h0m1 6h0m7-7h0m8 6h0m5-2h0m8 3h0m15-5h0m6-1h0m2 2h0m0 4h0m4-7h0m1 3h0m1 3h0m-247 5h0m4-1h0m2 5h0m4-3h0m5-4h0m0 3h0m2 1h0m2-3h0m0 3h0m2 0h0m1-1h0m9 2h0m5-4h0m2 4h0m5-3h0m2-2h0m2 6h0m2-2h0m1-2h0m0 1h0m8-1h0m1 3h0m9 1h0m4-6h0m1 3h0m2 4h0m1 0h0m1-5h0m3-1h0m10 2h0m5-1h0m0 2h0m2 1h0m8 2h0m3-5h0m0 4h0m1 1h0m1-6h0m1 0h0m1-1h0m1 2h0m1 4h0m6-3h0m2 1h0m1-2h0m2 5h0m2-3h0m0 2h0m5-5h0m5 4h0m5 2h0m2-2h0m2-2h0m4 0h0m0 3h0m4 0h0m1 0h0m2 1h0m8-6h0m4 2h0m1 2h0m12-1h0m1 2h0m6 1h0m1-1h0m2-2h0m3-3h0m0 2h0m0 4h0m1 0h0m1-2h0m8 0h0m5 0h0m2-5h0m4 3h0m3-3h0m4 6h0m18-3h0m2 3h0m1-3h0m-242 6h0m1 3h0m3 1h0m2 1h0m1-3h0m7 0h0m3 0h0m2 1h0m8 0h0m1 0h0m6 1h0m3 0h0m9-1h0m4 2h0m7-5h0m1 4h0m7 0h0m1-4h0m1 4h0m0 1h0m1-2h0m0 1h0m2-4h0m0 1h0m5 2h0m4-2h0m3-1h0m0 4h0m1 2h0m3-4h0m2 4h0m1-5h0m3 2h0m4-2h0m3 3h0m3 0h0m1-1h0m1 1h0m0 1h0m2 0h0m1 1h0m4-5h0m3 1h0m2-2h0m0 1h0m0 1h0m4 1h0m4-4h0m2 5h0m5 1h0m4-2h0m0 1h0m1-3h0m7-2h0m2 6h0m1-3h0m0 1h0m1 0h0m1 0h0m3-2h0m0 2h0m13 1h0m4-5h0m7 6h0m0 1h0m3 0h0m6-4h0m5 2h0m0 2h0m3-5h0m3 5h0m7-1h0m3 0h0m1-5h0m4 3h0m1 0h0m1 2h0m18-4h0m0 0h0m3 0h0m1 3h0m2 1h0m1-5h0m2 3h0m2 1h0m0 2h0m-239 1h0m10 1h0m0 6h0m1-5h0m8 1h0m5-1h0m5 1h0m3-2h0m4 0h0m8 2h0m0 3h0m2-4h0m0 3h0m1-2h0m3-1h0m6-2h0m1 3h0m3 2h0m1-3h0m0 1h0m0 3h0m1-1h0m1 0h0m6-4h0m2 1h0m2 2h0m1-2h0m3 0h0m2 4h0m9-5h0m0 6h0m1-6h0m1 1h0m1 0h0m5 2h0m3 3h0m2-5h0m3 4h0m0 0h0m2 1h0m0 0h0m6-5h0m2 4h0m5-2h0m1-1h0m6 0h0m4 1h0m2-1h0m3-2h0m4 6h0m1-1h0m5-3h0m0 1h0m5-3h0m0 4h0m1 2h0m4-4h0m1 3h0m1-3h0m1-3h0m7 0h0m7 2h0m2-1h0m8 2h0m2-3h0m1 7h0m8-2h0m4-1h0m4-3h0m2-1h0m8 0h0m3 1h0m2 0h0m0 3h0m3 3h0m5-7h0m0 2h0m3 5h0m3-7h0m4 0h0m3 0h0m1 1h0m4 1h0m3-1h0m1 2h0m2-3h0m-252 9h0m6 3h0m3 3h0m1-4h0m2 2h0m2-5h0m1 0h0m3 1h0m1 4h0m6-4h0m1 1h0m0 5h0m1-4h0m5-2h0m0 4h0m4-4h0m3 3h0m0 2h0m1-2h0m5-2h0m4 2h0m1 3h0m1-3h0m3 3h0m3-1h0m6 0h0m7-2h0m0 2h0m0 0h0m4-5h0m0 1h0m3 0h0m2 2h0m2-2h0m1 1h0m2-3h0m1 7h0m2-3h0m2-4h0m3 0h0m2 1h0m0 0h0m7 2h0m3-3h0m5 4h0m0 1h0m0 2h0m1-6h0m1 5h0m2-4h0m2 3h0m0 1h0m3-1h0m0 1h0m0 1h0m2-6h0m1 2h0m1-3h0m2 5h0m5 1h0m5 0h0m1 0h0m4-5h0m1 5h0m4-2h0m0 3h0m3 0h0m1-7h0m3 3h0m9 4h0m4-5h0m14-2h0m4 1h0m9 6h0m4-6h0m5-1h0m5 7h0m2-7h0m2 0h0m0 5h0m1-1h0m2 2h0m0 1h0m5-7h0m0 1h0m12 2h0m9 0h0m9 1h0m0 2h0m1-5h0m2 4h0m-249 8h0m3 2h0m1-5h0m16-2h0m1 5h0m1 0h0m2-1h0m3-2h0m5 3h0m3-3h0m1 0h0m8-1h0m1 2h0m3 0h0m2 2h0m3-1h0m6 0h0m4-1h0m3 1h0m1-2h0m1 2h0m3-4h0m1 1h0m3-1h0m1 3h0m4-2h0m0 4h0m1 1h0m3-6h0m2 1h0m0 5h0m2-3h0m0 2h0m1 2h0m5-4h0m6-3h0m0 4h0m0 2h0m1 0h0m1-4h0m2 2h0m3 1h0m5-2h0m3 0h0m2 3h0m8-6h0m0 5h0m1-3h0m0 5h0m8-4h0m6-3h0m4 2h0m0 2h0m2-4h0m1 7h0m5-7h0m4 7h0m2-6h0m2 5h0m1-3h0m0 0h0m3-2h0m0 6h0m15-6h0m1 2h0m0 4h0m6-6h0m1-1h0m6 6h0m6-3h0m7-3h0m2 5h0m16 1h0m4 1h0m7-1h0m3-1h0m2-1h0m3-3h0m2-1h0m0 7h0m6-7h0m-252 8h0m4 6h0m2-3h0m2-1h0m3 0h0m0 5h0m2-4h0m0 2h0m2-5h0m2 4h0m2 2h0m7-5h0m2 1h0m0 3h0m5-5h0m0 2h0m1 2h0m1 3h0m2-5h0m0 5h0m1-5h0m2-1h0m1 4h0m1 2h0m4-6h0m4 1h0m2 1h0m5-3h0m2 4h0m0 1h0m1-5h0m2 0h0m3 1h0m9 2h0m1 4h0m2-6h0m4 4h0m1-5h0m0 7h0m1-3h0m1 1h0m0 2h0m1-6h0m0 2h0m1-2h0m1 2h0m2-2h0m1 6h0m2-2h0m1-3h0m3-1h0m2 2h0m1-1h0m3 2h0m2-3h0m2-1h0m0 2h0m0 1h0m1 2h0m2 2h0m2-2h0m1-1h0m1-4h0m0 1h0m0 6h0m2-6h0m0 3h0m1-1h0m0 4h0m1-4h0m1 0h0m1-1h0m1 3h0m4-2h0m2 2h0m3-5h0m17 7h0m8-6h0m2 1h0m1 5h0m8-1h0m1 0h0m1-1h0m1 1h0m5-5h0m3-1h0m1 7h0m8-5h0m9 3h0m2-4h0m0 5h0m4-5h0m1-1h0m2 3h0m2-3h0m1 5h0m2-3h0m3 4h0m3 1h0m1-1h0m1 1h0m7-4h0m10 0h0m5 4h0m3-5h0m9 2h0m0 2h0m-250 6h0m2-1h0m3 0h0m2 2h0m1-2h0m2-3h0m3 0h0m0 7h0m1-7h0m0 4h0m3-2h0m1 0h0m0 1h0m4 4h0m2 0h0m2-7h0m0 3h0m1 0h0m3-2h0m0 4h0m0 0h0m1-2h0m1 3h0m2-3h0m2 3h0m2 1h0m7 0h0m1-7h0m9 6h0m6-6h0m2 5h0m3 1h0m1-5h0m5 4h0m3-1h0m2-3h0m1 3h0m1-1h0m1 2h0m2-4h0m2-1h0m1 0h0m0 3h0m3-1h0m1-1h0m2 3h0m1 1h0m3-1h0m1 2h0m1-4h0m1 4h0m1 1h0m2-7h0m1 2h0m0 0h0m2 5h0m3-7h0m0 6h0m1-4h0m1 0h0m0 1h0m1 2h0m1-2h0m2-3h0m0 0h0m3 3h0m6 0h0m1-3h0m1 5h0m1 2h0m2 0h0m8-7h0m0 7h0m1-6h0m6 1h0m2-2h0m3 0h0m2 1h0m2 5h0m20 0h0m0 1h0m5-1h0m3-3h0m1 0h0m1 0h0m4-1h0m8 3h0m1-1h0m1 2h0m4-2h0m12 0h0m3 0h0m1-3h0m11 1h0m15 0h0m4 5h0m-242 6h0m2-1h0m1-2h0m3 2h0m1-2h0m2-1h0m5 2h0m10 2h0m2-4h0m1 3h0m2-3h0m1 1h0m0 0h0m1 0h0m1-2h0m9 1h0m1-1h0m3 7h0m1 0h0m4 0h0m1 0h0m2-5h0m1 3h0m1 2h0m3-1h0m1-3h0m3 1h0m2-3h0m1 1h0m3 1h0m0 2h0m3-3h0m0 2h0m4 2h0m4-6h0m1 5h0m4-2h0m0 3h0m2 1h0m1-5h0m1-2h0m1 2h0m2 5h0m2-2h0m1 0h0m1-4h0m1 0h0m0 5h0m1-1h0m5 0h0m1-5h0m1 6h0m1-6h0m1 7h0m3-4h0m2-1h0m4 1h0m4 4h0m5 0h0m6-1h0m8 1h0m2-7h0m1 7h0m8-3h0m6-4h0m0 6h0m3-3h0m3-3h0m5 1h0m13 0h0m0 6h0m4-2h0m8-4h0m0 5h0m10-5h0m1 0h0m4 1h0m1 0h0m8 1h0m9 4h0m1-3h0m6-4h0m2 0h0m7 2h0m0 1h0m-244 9h0m4-3h0m2 3h0m4-4h0m0 1h0m0 0h0m3 0h0m2 3h0m8 0h0m2-3h0m4 2h0m6 0h0m3 2h0m4-3h0m4 1h0m2 0h0m2-3h0m2 2h0m3 2h0m1-2h0m1-2h0m4 1h0m4-1h0m2 4h0m8-3h0m2-1h0m0 3h0m6 0h0m4-1h0m1 2h0m1-2h0m0 3h0m7-3h0m3 2h0m2-1h0m2 1h0m2-4h0m5 3h0m1 1h0m4-3h0m0 3h0m2-2h0m2 3h0m10-1h0m6-4h0m5 0h0m1 2h0m8-1h0m4 2h0m9-1h0m6-1h0m3 3h0m7-1h0m12-3h0m9 3h0m5 2h0m1 0h0m6-4h0m11 3h0m8-2h0m9 0h0m0 1h0m5 1h0m9-3h0" stroke="#E4CCE2" stroke-opacity="0.6" stroke-width="4.0" stroke-linecap="round" fill="none"/><path transform="translate(350.3 124) scale(.5)" d="M0 2h0m3-1h0m1 1h0m9 1h0m3 2h0m2-5h0m2 5h0m1 1h0m2-2h0m2 0h0m0 3h0m6-6h0m8 1h0m6 3h0m1-4h0m13 1h0m2 4h0m10-4h0m1 0h0m0 2h0m2-1h0m4 0h0m4 1h0m4-3h0m10 4h0m4 1h0m2-4h0m0 3h0m4-5h0m0 7h0m1-5h0m1 1h0m2 1h0m0 3h0m2-2h0m3-3h0m1 5h0m1-6h0m0 0h0m5 2h0m1-3h0m0 3h0m2-2h0m4 6h0m2-1h0m3-6h0m1 7h0m4-5h0m1 1h0m1 3h0m1-1h0m1-4h0m0 5h0m1 1h0m2-1h0m2-6h0m0 1h0m1 1h0m0 1h0m1-1h0m0 2h0m1-3h0m1 1h0m1 0h0m0 5h0m4-3h0m0 3h0m9-3h0m0 3h0m2-1h0m4-1h0m0 1h0m6-4h0m1 0h0m0 2h0m0 1h0m2-5h0m1 4h0m0 1h0m1 2h0m2-1h0m0 1h0m1-6h0m1 1h0m1 0h0m1 4h0m3-2h0m0 1h0m0 0h0m1-1h0m1-1h0m2 2h0m3-2h0m1-2h0m0 6h0m1-6h0m6 0h0m0 6h0m1-7h0m2 7h0m4-3h0m2-3h0m0 1h0m2 0h0m5-1h0m0 3h0m1-3h0m1 2h0m2 2h0m3-1h0m6 0h0m1 0h0m13 2h0m-247 2h0m3 7h0m3-6h0m0 3h0m0 0h0m10-2h0m1 4h0m2-6h0m7 0h0m0 0h0m5 1h0m2 6h0m6-1h0m7 0h0m11-3h0m7 2h0m6-2h0m0 3h0m1-2h0m2 3h0m1-1h0m3-3h0m2 1h0m1-1h0m1-2h0m1 2h0m1 0h0m3 4h0m4-6h0m3 2h0m1 0h0m1-1h0m2 1h0m3 2h0m1-3h0m0 2h0m1 1h0m3 2h0m2-1h0m1-4h0m0 4h0m1-5h0m1 0h0m0 6h0m7-1h0m1-5h0m2 5h0m1-6h0m2 7h0m1-1h0m1-6h0m0 3h0m4 2h0m1-1h0m0 3h0m3-2h0m3-4h0m0 1h0m1 0h0m3 3h0m1-5h0m0 1h0m1 0h0m0 3h0m1 2h0m3 0h0m0 1h0m3-4h0m1-3h0m3 0h0m0 1h0m0 4h0m1-3h0m0 3h0m3-5h0m1 4h0m3-1h0m0 3h0m3-1h0m1-4h0m1 0h0m1 5h0m1-1h0m1 0h0m0 0h0m6-3h0m0 1h0m1 2h0m0 0h0m0 1h0m1-3h0m11-1h0m0 0h0m2-1h0m1 1h0m0 1h0m2-3h0m0 1h0m0 5h0m3 1h0m4 0h0m1-6h0m0 3h0m1-4h0m0 1h0m0 6h0m1-7h0m0 7h0m1-5h0m3-2h0m1 6h0m2-2h0m0 1h0m1-3h0m0 4h0m0 1h0m10-7h0m2 2h0m1 3h0m3-5h0m2 0h0m1 4h0m1 0h0m2 2h0m2-3h0m1-3h0m0 4h0m4-3h0m1-1h0m0 5h0m7-1h0m-248 8h0m9-3h0m2 6h0m4-4h0m1-2h0m0 1h0m1 2h0m3-2h0m0 0h0m2 0h0m0 1h0m0 4h0m2-2h0m1 1h0m2-1h0m2 1h0m1-5h0m1 6h0m2 0h0m1-1h0m2 0h0m1 0h0m2-2h0m2-2h0m2 5h0m8-2h0m1 2h0m1-3h0m3-2h0m3 1h0m1-1h0m0 2h0m3 2h0m0 0h0m2-6h0m1 7h0m1-6h0m0 4h0m0 0h0m2-3h0m0 2h0m1-3h0m0 3h0m1 0h0m3 0h0m2 2h0m5 1h0m1-2h0m1-1h0m5-1h0m0 2h0m5-3h0m0 0h0m0 5h0m0 0h0m1-4h0m1-3h0m0 3h0m1-1h0m0 2h0m6-1h0m3-1h0m0 3h0m2-1h0m2-4h0m0 5h0m2 0h0m1-3h0m5-1h0m2 6h0m4 0h0m0 0h0m2-3h0m1-1h0m0 1h0m2 0h0m0 2h0m1 1h0m1-5h0m1-1h0m3 1h0m1-1h0m1 4h0m0 1h0m1-4h0m2 3h0m0 2h0m0 0h0m1-1h0m1 0h0m6-6h0m1 2h0m1 3h0m3-3h0m0 3h0m2-4h0m1-1h0m1 1h0m0 1h0m3 3h0m0 0h0m1 0h0m4-1h0m1-4h0m0 2h0m3 2h0m2 3h0m4-5h0m1-1h0m0 1h0m1 0h0m0 0h0m3 0h0m1-2h0m0 2h0m1-2h0m0 3h0m1-1h0m0 0h0m0 1h0m0 1h0m0 3h0m2-6h0m1 6h0m1-6h0m0 3h0m1-4h0m1 3h0m1-1h0m1-1h0m0 0h0m2 1h0m0 4h0m0 0h0m1-3h0m2-3h0m0 6h0m5-5h0m1 3h0m0 3h0m2-4h0m4-2h0m0 4h0m2-5h0m5 7h0m2-4h0m6-3h0m1 0h0m0 2h0m2-2h0m7 2h0m2-2h0m0 2h0m0 5h0m1-7h0m7 0h0m2 4h0m2-3h0m-249 13h0m2 0h0m4-5h0m1 0h0m2 6h0m6-7h0m0 7h0m1-4h0m0 3h0m2-6h0m0 7h0m1-4h0m1-3h0m7 1h0m0 0h0m0 6h0m2-4h0m1 1h0m3-4h0m0 1h0m0 3h0m0 2h0m3-2h0m0 1h0m1 0h0m2-2h0m2-2h0m0 0h0m0 0h0m4-1h0m0 6h0m1-2h0m1 1h0m3-4h0m0 6h0m4-7h0m9 2h0m4 1h0m1-1h0m0 4h0m0 1h0m1-2h0m0 2h0m1-5h0m2 0h0m1 2h0m1-4h0m0 0h0m0 1h0m0 1h0m1 1h0m0 4h0m1-3h0m1-1h0m2 1h0m1-3h0m1 0h0m0 0h0m0 1h0m0 3h0m2-1h0m2 0h0m1 0h0m0 2h0m1-5h0m1 6h0m3-5h0m1 3h0m2-3h0m2 5h0m3-7h0m0 1h0m4-1h0m1 3h0m1-2h0m2-1h0m1 6h0m2-3h0m0 1h0m1-3h0m3 1h0m1 4h0m0 1h0m5-6h0m0 2h0m0 2h0m1-5h0m0 5h0m5 2h0m1-6h0m0 5h0m1-6h0m1 1h0m0 0h0m0 4h0m0 0h0m2-1h0m2 1h0m5-4h0m1 3h0m1 1h0m1 2h0m1-6h0m2-1h0m0 3h0m0 1h0m7-3h0m0 0h0m1 6h0m0 0h0m1-2h0m4-3h0m0 2h0m2 1h0m2-2h0m7 2h0m4 0h0m2 0h0m3-3h0m7-2h0m1 0h0m0 0h0m1 3h0m2 0h0m1 1h0m2-2h0m1 4h0m3-6h0m0 5h0m2-1h0m1-4h0m2 1h0m2 2h0m2 3h0m0 1h0m1-6h0m0 2h0m0 2h0m0 1h0m2-1h0m1-1h0m1-2h0m1 0h0m0 0h0m1 0h0m7 1h0m1-1h0m0 5h0m1-5h0m1 3h0m0 1h0m3-1h0m1-3h0m2 2h0m6 0h0m0 1h0m0 1h0m2-5h0m1 1h0m3-2h0m0 5h0m2 1h0m2-1h0m6 0h0m2-2h0m-244 5h0m0 5h0m4-5h0m0 4h0m6-3h0m1 0h0m9-1h0m0 5h0m4 2h0m3-2h0m1 2h0m2-6h0m0 1h0m2 1h0m1 0h0m0 2h0m2 2h0m3-4h0m5 0h0m2 4h0m1-6h0m0 2h0m1-2h0m2 1h0m2-2h0m3 0h0m1 4h0m1-3h0m1 5h0m1 0h0m3-6h0m0 3h0m1 3h0m2 1h0m1-7h0m0 5h0m2-2h0m0 3h0m1-5h0m0 2h0m1-1h0m1 0h0m1 1h0m1-2h0m1 0h0m3 4h0m1-1h0m0 0h0m0 1h0m0 1h0m1-5h0m2 0h0m0 6h0m2-3h0m1 2h0m1 1h0m1 0h0m0 0h0m1-2h0m3-5h0m0 4h0m1-3h0m0 5h0m1-2h0m1-4h0m5 5h0m2 0h0m1-4h0m1 3h0m1 0h0m0 3h0m0 0h0m2 0h0m3-7h0m2 3h0m0 1h0m0 1h0m1-1h0m0 1h0m1-5h0m0 2h0m1 1h0m1-3h0m2 5h0m7-4h0m2 3h0m1-4h0m1 7h0m1-1h0m2-5h0m0 1h0m0 5h0m3-7h0m0 5h0m1-2h0m1 4h0m1 0h0m1-4h0m0 0h0m3 3h0m1-2h0m3 3h0m1-6h0m1 1h0m1 3h0m4-4h0m0 2h0m1 2h0m2 0h0m3-5h0m0 3h0m0 2h0m1 2h0m1-7h0m0 0h0m3 0h0m2 0h0m1 7h0m1-2h0m0 1h0m2-4h0m0 5h0m1-4h0m1 3h0m1-5h0m2-1h0m0 2h0m0 3h0m0 0h0m2 2h0m0 0h0m1-6h0m0 4h0m1-5h0m0 1h0m1 2h0m1-1h0m0 1h0m0 3h0m1-6h0m1 7h0m1-2h0m0 1h0m2 0h0m1-5h0m1-1h0m0 2h0m0 1h0m2 4h0m1-6h0m0 3h0m0 1h0m0 2h0m1-5h0m0 1h0m0 4h0m1-7h0m0 5h0m1-4h0m0 2h0m1-1h0m0 3h0m1-1h0m0 1h0m0 2h0m1-3h0m1 0h0m1-1h0m1 2h0m0 1h0m1-3h0m0 1h0m0 0h0m1-4h0m1 1h0m1 4h0m1-4h0m3-1h0m0 3h0m0 4h0m1-7h0m0 0h0m0 1h0m0 5h0m1 0h0m0 0h0m1-5h0m0 1h0m0 4h0m2-6h0m0 3h0m0 1h0m0 3h0m1-6h0m1 2h0m4-2h0m0 2h0m0 0h0m0 3h0m3-5h0m0 2h0m1 2h0m0 0h0m1-3h0m2 1h0m0 2h0m0 1h0m2 1h0m3-7h0m0 7h0m3-1h0m2 0h0m3-4h0m2-2h0m1 0h0m1 5h0m1-2h0m1 2h0m2-4h0m0 4h0m0 1h0m1-4h0m0 0h0m1-2h0m-232 15h0m13-6h0m0 1h0m0 1h0m2 2h0m0 1h0m3-4h0m3 3h0m1 1h0m6-2h0m1-2h0m3-1h0m0 1h0m0 1h0m6 0h0m1-2h0m0 0h0m0 1h0m1 1h0m0 3h0m0 0h0m2-6h0m0 3h0m0 2h0m1-4h0m0 4h0m1-2h0m1-3h0m0 4h0m1-2h0m0 4h0m3-4h0m0 5h0m1-6h0m1 1h0m1 2h0m1-3h0m6 0h0m1 0h0m2 2h0m0 3h0m1-4h0m2 5h0m1-6h0m0 2h0m9-3h0m1 2h0m0 1h0m0 4h0m1-3h0m0 1h0m0 2h0m1-4h0m2 2h0m0 1h0m1-3h0m0 3h0m1-5h0m0 4h0m2-3h0m0 1h0m4 0h0m0 2h0m2-1h0m0 0h0m2-3h0m2-1h0m0 4h0m1-4h0m2 6h0m1 0h0m0 1h0m1-3h0m0 1h0m4-3h0m1 3h0m1-4h0m1 0h0m1 0h0m0 3h0m0 0h0m2-4h0m4 1h0m0 5h0m4-3h0m3 0h0m1-1h0m0 0h0m2-2h0m1 6h0m3-6h0m1 6h0m8-1h0m1-2h0m1-2h0m0 3h0m2-4h0m0 1h0m0 1h0m0 0h0m1-2h0m3 0h0m0 6h0m2-6h0m0 4h0m4-1h0m1-3h0m0 6h0m4-6h0m0 0h0m0 1h0m0 2h0m0 3h0m1-1h0m2 0h0m0 1h0m1-5h0m3 3h0m3 3h0m1-4h0m2-1h0m1-2h0m0 0h0m1 1h0m1 5h0m0 0h0m1-5h0m0 3h0m0 3h0m1-4h0m0 4h0m2-6h0m2 3h0m1-2h0m4 1h0m2-1h0m0 1h0m1 1h0m0 1h0m1-2h0m0 2h0m2 0h0m1 0h0m2-3h0m0 5h0m2-4h0m0 3h0m2-1h0m1-2h0m0 0h0m0 3h0m4-1h0m1-3h0m1 0h0m1 0h0m0 4h0m1-4h0m0 2h0m0 1h0m2-3h0m0 4h0m1-4h0m1 1h0m1 0h0m1 3h0m1-2h0m0 1h0m1-5h0m0 7h0m2-7h0m0 2h0m4 2h0m1-4h0m1 1h0m1 5h0m1 1h0m7-7h0m-242 9h0m6-1h0m2 4h0m5 1h0m1 1h0m2-1h0m1-5h0m3 1h0m3 0h0m2-1h0m2 7h0m1 0h0m3-6h0m0 0h0m0 1h0m1 2h0m1-1h0m1 3h0m3-3h0m1 2h0m4 0h0m6-4h0m0 6h0m3 0h0m1-6h0m2 2h0m1-2h0m1 4h0m2 1h0m2-6h0m2 3h0m0 2h0m2-2h0m0 3h0m3-4h0m1 3h0m1 1h0m0 0h0m3-5h0m1 4h0m2 1h0m7-1h0m1-3h0m2 3h0m1-5h0m1 4h0m2 2h0m2-4h0m0 2h0m2 1h0m0 1h0m1-6h0m0 2h0m2-2h0m0 3h0m2-1h0m0 2h0m1 2h0m1-6h0m1 1h0m3-1h0m1 3h0m1 2h0m0 2h0m2 0h0m5-5h0m3-2h0m3 2h0m1 2h0m0 3h0m1-2h0m1-4h0m0 3h0m0 1h0m0 0h0m6 1h0m1-5h0m1 4h0m0 2h0m1-1h0m1-4h0m0 3h0m1-4h0m0 1h0m0 5h0m1-6h0m0 1h0m0 4h0m0 0h0m1-3h0m0 4h0m2-7h0m0 7h0m1-7h0m0 1h0m3 6h0m1-7h0m0 5h0m1-4h0m1 0h0m0 4h0m1 0h0m3-3h0m1 1h0m0 4h0m1-6h0m0 1h0m0 2h0m0 1h0m1-4h0m0 2h0m0 3h0m3-2h0m0 2h0m0 0h0m0 0h0m3-6h0m0 1h0m2 2h0m1 4h0m1-6h0m2-1h0m0 1h0m1 6h0m1-7h0m2 0h0m1 5h0m0 1h0m1-5h0m0 2h0m0 4h0m1-7h0m0 3h0m0 3h0m1-3h0m0 1h0m1-2h0m2-2h0m0 1h0m0 5h0m2-5h0m0 6h0m1-1h0m0 1h0m0 0h0m1-4h0m1 3h0m1 0h0m2-6h0m1 0h0m0 5h0m1 2h0m4-6h0m0 5h0m0 1h0m1-6h0m0 0h0m0 6h0m0 0h0m2-5h0m0 4h0m1-5h0m1 2h0m0 4h0m1-5h0m0 5h0m2-3h0m1-1h0m0 3h0m1-4h0m0 0h0m1 0h0m0 4h0m2-3h0m4-1h0m2-2h0m1 4h0m0 1h0m0 1h0m2 0h0m3-4h0m0 4h0m2-4h0m1 5h0m0 0h0m2-2h0m0 1h0m0 1h0m1 0h0m1-7h0m0 4h0m0 1h0m0 0h0m3-3h0m2 3h0m0 2h0m1-4h0m1 4h0m1-1h0m4-5h0m1 2h0m2-1h0m1 1h0m1-3h0m0 5h0m1 1h0m1-5h0m0 3h0m0 2h0m1-1h0m1-5h0m0 1h0m1 5h0m2 0h0m-249 9h0m23-2h0m1 0h0m3-5h0m3 7h0m4-3h0m1-4h0m2 2h0m3 2h0m0 2h0m2-5h0m1 4h0m1-1h0m1-2h0m0 0h0m1 3h0m2-5h0m2 1h0m2 2h0m2-3h0m0 2h0m4-1h0m5 0h0m1 4h0m1-5h0m0 0h0m0 1h0m2 0h0m1 1h0m0 2h0m0 3h0m1-5h0m1-2h0m0 7h0m1-6h0m4-1h0m0 3h0m5-1h0m1 2h0m9 0h0m2 2h0m5-3h0m8 1h0m3-3h0m3 2h0m4 1h0m1-3h0m0 3h0m2-1h0m2 2h0m1-3h0m0 2h0m0 2h0m1 1h0m2-6h0m0 5h0m1-5h0m0 6h0m2-4h0m0 3h0m3-6h0m1 2h0m1-1h0m1 3h0m3-3h0m4-1h0m0 1h0m1 4h0m4-5h0m1 0h0m0 0h0m0 4h0m0 3h0m2-2h0m4-3h0m0 2h0m1-3h0m2 0h0m0 3h0m0 0h0m1 0h0m0 2h0m1-4h0m1 1h0m0 0h0m0 2h0m2 1h0m1-5h0m0 2h0m0 1h0m1 2h0m1-2h0m1 0h0m3-2h0m0 3h0m1-4h0m1-1h0m3 0h0m0 0h0m0 2h0m0 5h0m1-4h0m1 1h0m1 3h0m1-7h0m1 2h0m0 1h0m1-3h0m0 1h0m1-1h0m1 1h0m0 1h0m0 3h0m0 2h0m1-2h0m1 1h0m1-2h0m1-4h0m0 5h0m2-5h0m0 1h0m0 6h0m3-1h0m2-1h0m0 0h0m2-4h0m0 1h0m0 4h0m7-1h0m0 2h0m3-7h0m0 4h0m1-4h0m1 0h0m0 0h0m0 6h0m2 0h0m2-5h0m0 1h0m0 1h0m1 2h0m1-3h0m1 4h0m2-1h0m0 0h0m0 0h0m3-3h0m0 5h0m2-5h0m3 0h0m0 4h0m1-2h0m2-1h0m0 2h0m1-1h0m1 3h0m1-3h0m1 3h0m2-5h0m2-2h0m0 1h0m0 1h0m0 3h0m3-3h0m1-2h0m2 2h0m0 0h0m1-2h0m3 7h0m2-1h0m1-1h0m-242 5h0m11-1h0m0 5h0m1-6h0m1 4h0m2-1h0m6-3h0m3 3h0m8-1h0m0 1h0m6-1h0m2 0h0m1-2h0m1 4h0m1-2h0m8 5h0m1-5h0m4 3h0m1-2h0m0 3h0m1-6h0m1 1h0m0 3h0m2-4h0m2 6h0m1-6h0m3 7h0m2-2h0m1-4h0m2-1h0m8 7h0m12-4h0m1-2h0m1 5h0m4-4h0m7 5h0m2-7h0m2 6h0m1-5h0m2 1h0m2-2h0m0 7h0m1-4h0m2 2h0m1-5h0m2 1h0m1 3h0m2-1h0m2 3h0m1-6h0m0 5h0m1 1h0m1-6h0m4 5h0m0 1h0m2-5h0m0 1h0m3 1h0m0 4h0m1-7h0m0 0h0m1 1h0m0 4h0m0 2h0m3-7h0m2 0h0m2 4h0m3-4h0m0 0h0m0 2h0m1-2h0m5 2h0m1-2h0m2 3h0m1 0h0m1 1h0m1-3h0m2-1h0m1 4h0m0 1h0m0 1h0m4-5h0m0 4h0m1 1h0m1 0h0m2-5h0m0 3h0m2-3h0m0 1h0m0 2h0m2 3h0m1-7h0m2 0h0m0 7h0m1-5h0m0 2h0m0 1h0m0 1h0m0 0h0m1 1h0m1-2h0m1-4h0m1 5h0m1-6h0m0 6h0m1 0h0m1-5h0m0 4h0m1-4h0m0 5h0m1-2h0m1-2h0m1 1h0m1 3h0m0 1h0m2 0h0m1-4h0m1-1h0m0 4h0m1-5h0m0 6h0m2-4h0m2 3h0m1-5h0m1 5h0m1-4h0m0 1h0m3-2h0m0 3h0m0 3h0m1-4h0m1-1h0m0 2h0m3-2h0m2 3h0m1 2h0m7-7h0m2 7h0m1-2h0m1-3h0m0 0h0m0 1h0m0 4h0m2-7h0m1 2h0m2 4h0m1-1h0m0 1h0m1-3h0m0 4h0m2-7h0m0 5h0m0 1h0m2-4h0m0 1h0m0 4h0m0 0h0m6 0h0m2-4h0m1 3h0m-251 6h0m6 0h0m2-1h0m2 2h0m4-1h0m2 1h0m1 1h0m4-2h0m1 3h0m5-5h0m0 2h0m1-3h0m4 2h0m1 1h0m4 3h0m2-4h0m0 4h0m2 0h0m1-3h0m8 0h0m3-1h0m5 2h0m4 2h0m2 0h0m3-1h0m3-1h0m1-1h0m0 3h0m3-6h0m2 5h0m3 0h0m4 1h0m4-6h0m1 6h0m0 0h0m2-5h0m2 3h0m1-3h0m2 4h0m2-4h0m2-2h0m0 1h0m4 6h0m8 0h0m1-7h0m0 0h0m6 2h0m3 0h0m0 4h0m2-4h0m1 5h0m2-5h0m3 4h0m1 1h0m2-6h0m1 1h0m1 2h0m1-3h0m3 4h0m3-2h0m1 1h0m1-4h0m4 2h0m0 5h0m2-3h0m0 3h0m2-4h0m1-2h0m2 0h0m0 0h0m0 6h0m3-3h0m1 1h0m2-3h0m1-2h0m2 2h0m1 0h0m0 3h0m1-5h0m0 1h0m1 3h0m0 1h0m1-1h0m2-2h0m2-2h0m2 4h0m0 0h0m2-1h0m2-1h0m1 0h0m1-2h0m3 1h0m0 0h0m2 2h0m2-2h0m0 2h0m1-2h0m1 3h0m1-1h0m2-3h0m2 7h0m3-6h0m5 2h0m0 3h0m5 0h0m0 1h0m2-5h0m0 3h0m1-5h0m0 6h0m1-3h0m5 4h0m1-4h0m3-3h0m1 1h0m0 6h0m2-1h0m0 1h0m1-5h0m0 4h0m2-2h0m1-3h0m2 0h0m2 4h0m2-3h0m0 3h0m1-3h0m0 3h0m1-2h0m1 1h0m1 0h0m1 3h0m1-4h0m2 2h0m2-2h0m2-1h0m1-1h0m0 6h0m1-2h0m3-4h0m0 5h0m-246 7h0m7-4h0m5-1h0m1 7h0m1-7h0m2 4h0m2 3h0m1-3h0m3 1h0m0 0h0m1-4h0m5 5h0m6-5h0m1 1h0m0 2h0m0 0h0m6-3h0m0 4h0m0 1h0m1-6h0m0 3h0m3 2h0m4-3h0m0 3h0m2 0h0m2-5h0m5 0h0m4 2h0m3 4h0m3-3h0m11 2h0m1-5h0m11 1h0m10 6h0m1-5h0m13 4h0m1-5h0m3 2h0m2-1h0m1-1h0m4 0h0m0 3h0m0 2h0m3-5h0m2 5h0m1-5h0m1 6h0m1-6h0m0 1h0m0 4h0m3-3h0m1 3h0m1 1h0m3-5h0m1 5h0m1-4h0m0 4h0m1-4h0m2-3h0m0 2h0m0 2h0m3-2h0m1 1h0m0 1h0m3 3h0m1-7h0m1 0h0m1 1h0m5 0h0m2 2h0m0 0h0m2 0h0m1 0h0m3 0h0m1 1h0m1-3h0m1 1h0m3 1h0m0 1h0m0 1h0m1-5h0m3 0h0m1 5h0m2-4h0m1 6h0m1-1h0m1-3h0m3 4h0m1-6h0m0 2h0m2-1h0m3-2h0m1 4h0m2-3h0m2 6h0m1-6h0m0 0h0m4-1h0m1 2h0m0 4h0m1-1h0m0 2h0m0 0h0m0 0h0m1-5h0m0 1h0m1 1h0m1 2h0m0 1h0m3-3h0m1-4h0m0 1h0m2-1h0m3 4h0m5-4h0m1 4h0m6-2h0m2 1h0m1 4h0m1-1h0m2-6h0m5 1h0m2 6h0m1-7h0m-247 8h0m0 3h0m4-3h0m1 2h0m0 3h0m1-2h0m3-1h0m1-1h0m0 4h0m2-2h0m0 4h0m2-4h0m1 4h0m3 0h0m4-2h0m0 0h0m1-3h0m1 3h0m4 2h0m4-3h0m1 1h0m1 0h0m3 0h0m2-4h0m0 1h0m2 1h0m1 1h0m1-2h0m0 3h0m2-1h0m1 1h0m1 1h0m1-5h0m1 1h0m1-2h0m0 7h0m1-7h0m0 4h0m1-2h0m1 5h0m1-6h0m0 1h0m0 0h0m2 2h0m3-2h0m0 3h0m1 1h0m14 0h0m1-5h0m2 0h0m12 4h0m18 1h0m1 1h0m2-2h0m6 2h0m1-5h0m2 2h0m0 1h0m1 1h0m3-2h0m3-4h0m0 7h0m7-3h0m1 1h0m4 2h0m1-6h0m4 1h0m1-2h0m0 1h0m1-1h0m4 7h0m5-2h0m0 1h0m1-2h0m1-4h0m1 5h0m1-4h0m2 2h0m0 1h0m1 2h0m2-6h0m0 4h0m1 2h0m1 0h0m0 1h0m2-7h0m1 7h0m1-7h0m0 4h0m2-4h0m1 3h0m1 1h0m2-1h0m5-2h0m0 1h0m1 0h0m4-2h0m0 5h0m5-5h0m1 1h0m1 0h0m2 0h0m2 0h0m4 3h0m0 1h0m1-4h0m0 1h0m2 4h0m9 1h0m4-3h0m0 0h0m0 3h0m1-6h0m2 0h0m0 4h0m1 0h0m1 2h0m4-6h0m2-1h0m6 1h0m0 3h0m1-3h0m0 2h0m2 0h0m1-2h0m0 2h0m3-3h0m4 1h0m0 4h0m4-5h0m1 3h0m0 1h0m-251 9h0m0 2h0m3-4h0m1-1h0m7-2h0m2 3h0m0 1h0m3-1h0m3 1h0m1 0h0m0 2h0m1-4h0m3 3h0m0 2h0m4-4h0m3 2h0m1 0h0m0 1h0m3 1h0m1-3h0m1 1h0m5-2h0m2 1h0m1 3h0m2-7h0m0 3h0m0 3h0m5-6h0m0 6h0m4-6h0m0 1h0m3 0h0m0 6h0m4-5h0m3 3h0m14 0h0m3 0h0m2 1h0m11-2h0m2-4h0m3 0h0m3 2h0m4 4h0m5-1h0m1 1h0m3-6h0m2 0h0m0 4h0m1-4h0m3 2h0m0 4h0m2-4h0m1 4h0m1-1h0m1-4h0m2 5h0m0 1h0m1-2h0m0 0h0m3 0h0m0 2h0m1-7h0m2 6h0m4-6h0m0 3h0m4 4h0m1-6h0m0 1h0m2-2h0m2 3h0m1 0h0m1 4h0m1-6h0m3 4h0m0 2h0m2 0h0m1-7h0m2 5h0m0 0h0m3 0h0m2-5h0m2 3h0m1 1h0m1 1h0m1-5h0m0 2h0m3 3h0m2-3h0m2-2h0m1 7h0m2-3h0m1 0h0m1-3h0m0 0h0m0 5h0m1 1h0m2-5h0m1-2h0m1 2h0m0 4h0m0 1h0m1-7h0m5 5h0m2 2h0m1-2h0m0 2h0m1 0h0m1-4h0m0 1h0m0 1h0m2-4h0m2-1h0m2 1h0m1 1h0m1-1h0m0 1h0m2 4h0m2-4h0m4-2h0m1 1h0m1 5h0m1-3h0m0 1h0m0 1h0m4 1h0m3 1h0m3-7h0m2 7h0m0 0h0m1-7h0m0 3h0m1 1h0m0 0h0m1-3h0m1 2h0m2-2h0m0 6h0m1-2h0m1-2h0m0 1h0m4-4h0m1 0h0m0 7h0m3 0h0m1-3h0m1-3h0m2 5h0m1-2h0m0 3h0m1-6h0m-252 14h0m1-2h0m1-1h0m3-3h0m0 4h0m2-3h0m3 4h0m1-5h0m2 2h0m0 1h0m0 1h0m0 1h0m1-6h0m8 2h0m0 3h0m7-4h0m2 6h0m7-5h0m0 1h0m0 2h0m1 1h0m1-5h0m0 3h0m1-1h0m1 1h0m1 1h0m0 0h0m1-1h0m2 0h0m2-2h0m7 0h0m1-2h0m3 4h0m1 0h0m1 2h0m1-6h0m1 2h0m3 3h0m1 2h0m8-3h0m0 2h0m5-3h0m0 2h0m1-3h0m9 5h0m3-4h0m6-1h0m0 3h0m5-2h0m8-1h0m4 4h0m1 0h0m0 0h0m11-2h0m0 2h0m0 0h0m3-6h0m0 4h0m4-2h0m1 1h0m1 1h0m1 3h0m4-2h0m1-2h0m5 3h0m1 0h0m3-3h0m2 1h0m4-1h0m0 3h0m0 1h0m2-1h0m0 1h0m1 0h0m1-4h0m1 3h0m3-4h0m3-2h0m3 3h0m1 2h0m1-3h0m0 1h0m0 2h0m1-3h0m0 0h0m1 1h0m1-3h0m1 0h0m2 0h0m4 3h0m1 1h0m1-1h0m1 2h0m3 1h0m2-1h0m4-1h0m2 3h0m3-7h0m1 2h0m1-1h0m1 4h0m1 1h0m1-2h0m1 3h0m1-4h0m1-2h0m0 0h0m3 0h0m3-1h0m0 0h0m0 6h0m1-5h0m2 0h0m1 5h0m0 1h0m1-6h0m0 4h0m1-3h0m0 1h0m0 3h0m1 1h0m1-5h0m3 3h0m2-1h0m0 1h0m1 1h0m4-5h0m1 1h0m3 3h0m0 1h0m1-3h0m1 4h0m1-5h0m1 0h0m3 4h0m3 1h0m1-2h0m1-4h0m0 0h0m0 3h0m1 1h0m1-5h0m0 6h0m1-4h0m-253 7h0m2 1h0m2 2h0m2-4h0m1 2h0m3 1h0m3-1h0m2 0h0m0 0h0m11 2h0m1 1h0m2 2h0m4-6h0m2 4h0m3-3h0m1-2h0m2 1h0m0 2h0m0 4h0m0 0h0m1-4h0m0 4h0m1-7h0m0 5h0m0 2h0m0 0h0m2-4h0m1-1h0m1 2h0m0 2h0m1 1h0m2-5h0m1 5h0m5-5h0m0 4h0m0 0h0m3 0h0m1-5h0m1 6h0m1 0h0m3-3h0m18-2h0m0 0h0m24 5h0m25-1h0m3-2h0m1 2h0m5 1h0m1-7h0m1 2h0m1 3h0m1 0h0m0 0h0m0 1h0m2-5h0m0 3h0m1-2h0m2-2h0m2 3h0m1 0h0m0 1h0m1 0h0m1 2h0m1-4h0m1 3h0m1-3h0m0 2h0m4-1h0m0 1h0m2-3h0m0 4h0m2-2h0m5-3h0m0 0h0m1 1h0m0 1h0m0 1h0m1 3h0m1-4h0m2 0h0m0 3h0m1-2h0m1-1h0m3-1h0m0 5h0m1-1h0m1-5h0m0 5h0m4-5h0m0 5h0m5 2h0m1-4h0m1-2h0m1 3h0m1-3h0m0 0h0m1 5h0m3-2h0m1-4h0m1 1h0m2 1h0m0 0h0m1-1h0m0 3h0m1-2h0m2 3h0m1-4h0m1 0h0m0 1h0m0 3h0m2-5h0m0 1h0m0 3h0m0 3h0m2-7h0m1 4h0m3 3h0m1-1h0m3-6h0m2 5h0m1 0h0m2-4h0m0 1h0m0 1h0m0 2h0m4-1h0m2-3h0m0 2h0m1-3h0m2 7h0m1-6h0m2 2h0m3-3h0m2 4h0m1-4h0m0 2h0m2 1h0m1 2h0m1 2h0m4-3h0m-250 10h0m8-3h0m6 3h0m3 0h0m7-3h0m3 2h0m7-3h0m1 3h0m1-4h0m1 3h0m1-3h0m1 6h0m3-2h0m1-5h0m0 3h0m3-1h0m2 4h0m1-4h0m2 2h0m2 3h0m3-6h0m0 5h0m2 0h0m1-1h0m0 2h0m1-6h0m1 5h0m2-6h0m10 6h0m3-2h0m5 3h0m13 0h0m6-7h0m4 0h0m20 2h0m2 4h0m2-5h0m2 3h0m1-2h0m0 0h0m0 3h0m2 1h0m1-1h0m0 0h0m2 1h0m2-4h0m0 0h0m5 3h0m1 1h0m3 1h0m1-3h0m2 0h0m1 3h0m1-5h0m0 1h0m0 3h0m3 0h0m2-2h0m1-1h0m2-2h0m0 3h0m3 3h0m3-1h0m1-2h0m0 3h0m1-2h0m3 2h0m3-3h0m2-2h0m1-2h0m4 7h0m1-1h0m2-3h0m2 4h0m3-6h0m0 5h0m0 0h0m1-5h0m1 2h0m5-2h0m0 3h0m1 3h0m1 0h0m2-3h0m3 2h0m1-1h0m2 2h0m1-2h0m1-2h0m1 4h0m1-2h0m1-1h0m2 3h0m4-6h0m3 5h0m3-1h0m1-3h0m0 1h0m1-3h0m0 4h0m1 1h0m1 0h0m0 0h0m1-4h0m1-1h0m3 7h0m2-7h0m1 3h0m0 3h0m1-4h0m1 0h0m4 2h0m5 2h0m0 0h0m0 1h0m1-3h0m0 2h0m2 1h0m1-1h0m-251 9h0m1-3h0m1-3h0m6 2h0m3 0h0m0 0h0m4 3h0m0 1h0m3-6h0m2 0h0m5 6h0m1-3h0m0 1h0m1-5h0m0 2h0m15-2h0m5 6h0m4-6h0m2 7h0m1-7h0m0 5h0m5 2h0m15-5h0m15 0h0m16 5h0m3-6h0m7-1h0m0 4h0m0 1h0m3-2h0m0 4h0m1-4h0m2-3h0m4 0h0m3 2h0m1 3h0m1-5h0m5 3h0m5-1h0m1-2h0m1 2h0m1 2h0m3 2h0m1-4h0m0 4h0m1-5h0m2 3h0m3-3h0m5 4h0m1 1h0m5-2h0m1 1h0m2-3h0m2-1h0m1 1h0m1 3h0m1-4h0m1-1h0m1 4h0m4-4h0m2 3h0m1 0h0m0 0h0m1-2h0m0 2h0m6 0h0m2 1h0m1-4h0m0 4h0m1 0h0m2-3h0m0 0h0m0 5h0m1-6h0m0 6h0m3-5h0m0 2h0m2 1h0m0 3h0m2 0h0m2-5h0m3 4h0m1-2h0m0 2h0m2-6h0m3 6h0m3-4h0m1 2h0m2-4h0m1 0h0m0 2h0m6 3h0m1-2h0m2-3h0m2 6h0m1-1h0m1 0h0m2-1h0m0 1h0m5-2h0m0 4h0m1-4h0m6 1h0m1-3h0m1 3h0m2 0h0m-244 5h0m0 0h0m3 0h0m1 0h0m1 3h0m1-1h0m4 4h0m8-4h0m2 2h0m1 0h0m3-3h0m3 1h0m1 4h0m1 0h0m2-7h0m2 3h0m1-3h0m1 7h0m7-7h0m4 0h0m0 0h0m1 4h0m1-3h0m0 3h0m2 3h0m13-1h0m5-6h0m8 0h0m7 4h0m3 1h0m1-3h0m1 0h0m5 1h0m8-2h0m7-1h0m1 7h0m2-4h0m6-1h0m0 5h0m2-7h0m2 1h0m0 6h0m1 0h0m2-5h0m4-2h0m0 7h0m2-7h0m1 6h0m3-2h0m2 1h0m4-2h0m4-3h0m1 1h0m1 3h0m0 0h0m4-3h0m1 4h0m1 2h0m4 0h0m3-7h0m2 0h0m1 0h0m0 2h0m0 1h0m3 1h0m0 0h0m6-3h0m4 1h0m4 0h0m0 1h0m1-3h0m0 2h0m1-2h0m1 2h0m3-1h0m1 0h0m0 4h0m2-1h0m2-3h0m0 1h0m3-2h0m0 4h0m7 0h0m2 2h0m1 1h0m2-4h0m3 1h0m2 0h0m1-4h0m1 2h0m2 3h0m4-1h0m2-2h0m0 0h0m0 3h0m2-2h0m3-2h0m0 4h0m2-5h0m2 2h0m4 1h0m5 2h0m0 2h0m5-5h0m-239 7h0m26 3h0m3-3h0m3 1h0m8 2h0m0 3h0m4-7h0m0 2h0m2 4h0m0 0h0m0 1h0m1-1h0m1 0h0m1-5h0m1 1h0m2-1h0m7 6h0m9-6h0m5 5h0m6-3h0m3 2h0m5 0h0m1-3h0m20 4h0m3 1h0m2-7h0m1 1h0m1 4h0m5-3h0m0 1h0m1-3h0m0 4h0m1 0h0m3 0h0m1 3h0m2-6h0m5 6h0m3-3h0m0 2h0m7-5h0m2 2h0m1-3h0m3 3h0m0 4h0m4 0h0m1-7h0m1 0h0m0 3h0m0 0h0m1-2h0m0 2h0m1 4h0m7-6h0m1 3h0m5-2h0m2-1h0m0 3h0m1-2h0m0 3h0m1-5h0m1 7h0m2-2h0m1 2h0m2-7h0m3 6h0m3 1h0m1-3h0m0 1h0m1-4h0m1 6h0m7-2h0m4 1h0m4-5h0m0 4h0m0 1h0m1-2h0m1-2h0m2-1h0m1 5h0m3 1h0m1-7h0m2 6h0m1-4h0m2 5h0m3-3h0m1 3h0m1-2h0m3-1h0m1 3h0m1-3h0m0 1h0m3 0h0m2-4h0m2 4h0m0 1h0m1 1h0m3-2h0m-250 6h0m26 2h0m4 0h0m8-2h0m4-2h0m1 3h0m2 0h0m1-1h0m13-1h0m16-1h0m0 0h0m17 2h0m8-2h0m13 1h0m9 0h0m7-2h0m5 0h0m0 4h0m2 0h0m6-3h0m0 1h0m3-1h0m2-1h0m3 5h0m1-5h0m1 1h0m0 2h0m1-1h0m1 3h0m5-3h0m1 2h0m1-1h0m4 0h0m1 1h0m1-1h0m1 1h0m3-3h0m9 3h0m1-4h0m5 3h0m3-3h0m1 3h0m0 1h0m1-3h0m0 1h0m0 1h0m0 1h0m1-4h0m1 0h0m4 4h0m1-4h0m1 2h0m1 0h0m4-1h0m0 1h0m3 1h0m1-3h0m4 3h0m6-1h0m1 0h0m1 2h0m5-4h0m0 4h0m1-1h0m1 0h0m1-3h0m10 2h0m1-1h0m3-1h0m6 4h0m1-4h0" stroke="#9C90CC" stroke-opacity="0.55" stroke-width="3.0" stroke-linecap="round" fill="none"/><path transform="translate(350.3 124) scale(.5)" d="M8 7h0m7-1h0m1 1h0m7-6h0m1 5h0m1 0h0m1-3h0m3-2h0m20 0h0m27 1h0m1 4h0m17-5h0m2 4h0m8-4h0m0 4h0m3 1h0m2-3h0m0 3h0m3-3h0m2 0h0m2-2h0m2 1h0m1 2h0m0 2h0m9-6h0m11 4h0m2-1h0m2-2h0m0 1h0m2 5h0m1-7h0m1 5h0m0 2h0m1-4h0m1 4h0m1-4h0m9 4h0m1 0h0m1-3h0m6-4h0m1 5h0m2-3h0m0 0h0m1 0h0m2 0h0m6 5h0m6-6h0m1 6h0m4-4h0m1-2h0m0 1h0m4 4h0m1-1h0m8-2h0m6 2h0m5-5h0m1 4h0m3-3h0m0 3h0m4-3h0m0 4h0m5-3h0m0 0h0m1 3h0m0 2h0m3-2h0m3-1h0m2-3h0m5 5h0m0 1h0m5-1h0m1-5h0m-244 13h0m14-1h0m5-4h0m5 3h0m0 3h0m3 0h0m6-1h0m3-2h0m1 3h0m15-3h0m4 0h0m2 0h0m14-4h0m2 6h0m0 1h0m10 0h0m4-1h0m4 0h0m3-1h0m3 0h0m0 1h0m1-6h0m0 7h0m2-4h0m1-3h0m0 2h0m0 4h0m4-3h0m0 3h0m1-1h0m2-4h0m1 1h0m4 3h0m0 2h0m2-1h0m2-3h0m3-1h0m4 2h0m0 3h0m2-5h0m1-1h0m6 3h0m1-4h0m1 1h0m2-1h0m2 4h0m1 2h0m2-2h0m2-4h0m2 2h0m2 5h0m3-5h0m1-2h0m3 5h0m0 2h0m5 0h0m1-7h0m1 3h0m2 2h0m1 2h0m2-7h0m0 1h0m2 6h0m7-3h0m2-1h0m0 1h0m1-4h0m0 3h0m3 1h0m7-1h0m0 4h0m1-7h0m3 3h0m0 4h0m1-1h0m0 1h0m1-6h0m3-1h0m3 2h0m0 0h0m4 1h0m4 4h0m4-6h0m1-1h0m3 7h0m2-6h0m1 4h0m1 2h0m1-3h0m1 2h0m1-2h0m2 3h0m10-5h0m4-1h0m2 0h0m3-1h0m-246 11h0m4-1h0m2-1h0m6 6h0m3-1h0m3 0h0m1-3h0m1 0h0m5 4h0m2-2h0m2-2h0m1 3h0m2-5h0m1 6h0m2-5h0m0 1h0m1-1h0m2-2h0m2 5h0m4 0h0m5 2h0m6 0h0m6 0h0m1-4h0m4-1h0m0 3h0m1 2h0m1 0h0m1-4h0m3 0h0m7 0h0m2 1h0m0 3h0m0 0h0m3-4h0m3-3h0m1 7h0m2-2h0m1 0h0m3-1h0m3-4h0m0 4h0m0 1h0m4-4h0m2 3h0m4-2h0m0 5h0m1-2h0m0 0h0m4 0h0m1-4h0m0 5h0m11 1h0m1-6h0m1 1h0m2 4h0m0 0h0m1-3h0m0 0h0m3 4h0m3-4h0m0 1h0m2 0h0m0 1h0m1-3h0m3 5h0m15-3h0m4-1h0m3 0h0m1 2h0m2-2h0m2 4h0m4-6h0m1 5h0m3-1h0m2-1h0m2 3h0m1-3h0m2 2h0m2-5h0m1 1h0m6 4h0m0 1h0m1-5h0m0 1h0m2-3h0m1 2h0m0 5h0m5-3h0m4-1h0m1-1h0m1-2h0m1 3h0m0 2h0m1-5h0m2 0h0m5 2h0m1 0h0m8 3h0m14-4h0m5 2h0m2-2h0m0 2h0m-250 8h0m8 2h0m3-2h0m7-3h0m4 5h0m2-2h0m0 3h0m1-6h0m0 0h0m1 2h0m1 4h0m3-5h0m1 5h0m1-6h0m6 7h0m6-3h0m9-1h0m1-3h0m2 1h0m1 1h0m6-2h0m5 2h0m1 4h0m1-3h0m3-1h0m2 4h0m3 1h0m4-6h0m1 0h0m1 0h0m0 2h0m2-2h0m1 3h0m3-2h0m1-2h0m0 2h0m3-2h0m1 1h0m1 0h0m9 5h0m1-6h0m1 1h0m5 2h0m3-3h0m3 5h0m2-1h0m2 1h0m2-5h0m2 2h0m2 0h0m2 5h0m3-7h0m1 7h0m1-1h0m1-6h0m6 1h0m2 3h0m2-3h0m3 0h0m3 4h0m1-4h0m0 5h0m0 1h0m2-4h0m4 4h0m2-6h0m1 5h0m3-5h0m4 5h0m4-6h0m3 5h0m0 2h0m3-7h0m3 2h0m0 0h0m1 4h0m2-3h0m0 0h0m0 1h0m0 2h0m2-3h0m0 3h0m1-6h0m1 3h0m1 3h0m3-4h0m2 3h0m1-2h0m2-1h0m0 1h0m1 0h0m1 1h0m2-3h0m0 2h0m0 0h0m1-1h0m1 1h0m0 4h0m1-3h0m1-1h0m3 0h0m1-2h0m5 3h0m1-2h0m1-2h0m1 0h0m0 2h0m1 0h0m0 0h0m1-2h0m0 4h0m2 2h0m2-6h0m1 4h0m2 0h0m6 3h0m4-5h0m1 3h0m4-4h0m3 3h0m4 3h0m4-5h0m-239 11h0m5-4h0m15 2h0m1 3h0m4 1h0m2-7h0m1 3h0m0 4h0m1-6h0m0 4h0m5-4h0m0 4h0m5 2h0m2-1h0m1-3h0m3-2h0m1 4h0m6 2h0m1-3h0m0 1h0m2-4h0m0 1h0m1-1h0m1-1h0m0 2h0m4 1h0m0 1h0m1 0h0m4 1h0m1-2h0m0 2h0m1-4h0m2 6h0m2-4h0m2 3h0m2 0h0m1 0h0m1-6h0m0 7h0m2-2h0m3 0h0m13-1h0m4-3h0m0 3h0m1-4h0m0 1h0m1 1h0m0 1h0m4 2h0m4 0h0m1 2h0m3-5h0m0 3h0m0 1h0m1 1h0m3-3h0m5-4h0m3 1h0m2 5h0m6-4h0m0 0h0m1-2h0m0 7h0m2-5h0m0 4h0m3-5h0m4-1h0m0 0h0m0 6h0m4-5h0m0 2h0m1-1h0m1-1h0m1 6h0m3-7h0m0 2h0m1-2h0m0 5h0m2-5h0m1 0h0m1 2h0m0 5h0m1-5h0m2 0h0m0 3h0m0 1h0m2-5h0m0 4h0m1-5h0m0 2h0m0 1h0m1 3h0m3-6h0m0 7h0m1-6h0m0 4h0m3 0h0m3-3h0m0 1h0m5-1h0m0 1h0m0 4h0m1-7h0m0 1h0m0 5h0m1-1h0m2-3h0m3 2h0m2-3h0m0 3h0m1-2h0m0 0h0m1-2h0m2 3h0m1 2h0m2-2h0m2-3h0m0 7h0m1 0h0m1-2h0m3 1h0m7 1h0m1-2h0m1 0h0m2-3h0m2 0h0m0 1h0m1-3h0m0 7h0m1-3h0m0 2h0m3-6h0m0 4h0m3 2h0m6 1h0m2-3h0m0 3h0m1-3h0m1 0h0m3 2h0m1 1h0m-230 6h0m6 1h0m4-2h0m4-4h0m1 1h0m4 0h0m1 3h0m2-1h0m1 2h0m1 2h0m6-5h0m3-1h0m0 1h0m1 2h0m5-3h0m2 6h0m1-6h0m0 3h0m0 1h0m3-1h0m2-2h0m0 0h0m3 0h0m1 4h0m1 0h0m2-6h0m1 5h0m0 0h0m6-1h0m0 0h0m2 1h0m9 0h0m1-3h0m2-1h0m0 0h0m1 5h0m4-4h0m0 5h0m2-4h0m1-2h0m0 1h0m0 4h0m2-5h0m7 6h0m6-7h0m2 1h0m0 1h0m1 4h0m1-1h0m2-3h0m0 4h0m2-3h0m0 2h0m8 1h0m2-2h0m1 3h0m1-1h0m2-2h0m1 2h0m1-6h0m2 2h0m0 3h0m1-1h0m0 1h0m2 2h0m3-4h0m0 3h0m1-4h0m1-1h0m0 3h0m0 2h0m1-4h0m1 4h0m1-6h0m0 0h0m0 6h0m0 0h0m1-2h0m2 2h0m2-4h0m1-2h0m0 2h0m0 3h0m2-5h0m0 0h0m0 6h0m1 0h0m0 1h0m1-3h0m0 3h0m5-6h0m0 3h0m1 2h0m2-5h0m1 1h0m2 4h0m1 0h0m2-5h0m0 5h0m2-4h0m0 3h0m1-4h0m1 0h0m2 0h0m1-1h0m3 3h0m1-2h0m0 5h0m3 0h0m2-6h0m0 5h0m2-5h0m0 2h0m0 1h0m0 2h0m2-1h0m0 2h0m0 0h0m2 1h0m4-6h0m1 0h0m0 6h0m2-7h0m2 5h0m1 1h0m0 1h0m1-3h0m2-2h0m5 1h0m0 0h0m2-3h0m0 2h0m0 2h0m0 2h0m1-6h0m1 0h0m0 6h0m5-6h0m2 2h0m0 4h0m1-2h0m1-2h0m0 3h0m1-4h0m0 3h0m2-4h0m0 4h0m0 2h0m0 1h0m1-1h0m2-3h0m2-3h0m0 2h0m6 3h0m1 2h0m1-1h0m-245 9h0m8 0h0m4-7h0m6 6h0m9 0h0m8-3h0m1 3h0m2-2h0m2-4h0m3 7h0m3-6h0m3-1h0m2 1h0m0 0h0m1 0h0m2 1h0m3 1h0m3-2h0m0 1h0m6 5h0m2-4h0m5-1h0m0 0h0m9 3h0m1-3h0m3-1h0m2 1h0m0 4h0m1-4h0m4 0h0m0 5h0m1-2h0m2 1h0m3-5h0m11 1h0m1 4h0m2-6h0m1 2h0m4-2h0m1 2h0m0 4h0m1-3h0m0 2h0m2-2h0m1 1h0m2-2h0m3 3h0m5-4h0m1 3h0m7-3h0m0 0h0m1-1h0m0 3h0m0 0h0m2-3h0m2 5h0m1-2h0m0 1h0m2-3h0m0 6h0m2-7h0m0 3h0m2 3h0m1 1h0m2-5h0m2 0h0m2 2h0m0 3h0m2-6h0m0 1h0m1-1h0m0 1h0m1 5h0m1-7h0m0 4h0m1 3h0m1 0h0m2-2h0m2-3h0m1 1h0m0 2h0m1-5h0m1 6h0m1-2h0m1-4h0m1 3h0m0 2h0m2-4h0m0 4h0m4 0h0m3-5h0m0 3h0m0 1h0m2-4h0m1 5h0m1-4h0m1 1h0m0 3h0m0 0h0m1-5h0m0 5h0m1-4h0m0 2h0m0 3h0m3-5h0m2-1h0m1 4h0m2-1h0m1 4h0m1-3h0m2 3h0m6-7h0m1 3h0m0 3h0m3-1h0m1-3h0m2 0h0m2 5h0m1-6h0m1 2h0m1 0h0m1 3h0m1-4h0m0 4h0m3 1h0m1-7h0m0 5h0m5-4h0m0 3h0m1-2h0m1 0h0m0 4h0m2-1h0m0 2h0m1-4h0m0 0h0m4 2h0m1-1h0m1-3h0m0 6h0m2-7h0m-250 10h0m0 3h0m4-2h0m8 1h0m0 3h0m3-7h0m4 3h0m4 3h0m8-4h0m2-2h0m1 2h0m0 5h0m2-2h0m5 0h0m2-1h0m1 3h0m7-7h0m0 6h0m2-4h0m2-2h0m0 3h0m3 0h0m1 3h0m2-4h0m0 4h0m2-4h0m0 2h0m1 0h0m0 2h0m5-5h0m2 6h0m6-6h0m6 3h0m12-4h0m1 2h0m0 4h0m1-3h0m2 4h0m4-1h0m1-6h0m7 5h0m6 0h0m0 2h0m2-1h0m2-1h0m2-5h0m1 2h0m0 1h0m3 4h0m3-4h0m2 3h0m0 1h0m1 0h0m1-5h0m4 1h0m3-3h0m3 7h0m1-6h0m0 1h0m1-1h0m0 2h0m0 2h0m2 0h0m1-5h0m0 3h0m0 2h0m1-3h0m5 4h0m2-5h0m1 0h0m1 5h0m2-2h0m1-1h0m2 4h0m1-2h0m1-5h0m2 3h0m2-3h0m3 5h0m0 0h0m1-4h0m0 0h0m0 3h0m0 2h0m1-5h0m1 0h0m0 4h0m2-4h0m3 3h0m3-2h0m0 5h0m2-5h0m1 3h0m2 2h0m0 0h0m1-4h0m1-2h0m2 1h0m1 3h0m2-5h0m1 2h0m1 1h0m0 1h0m0 1h0m1-3h0m1-2h0m0 1h0m0 6h0m1-6h0m1 0h0m2 3h0m2-3h0m0 1h0m1 0h0m0 1h0m1 1h0m3 2h0m2-3h0m0 2h0m2-2h0m5-2h0m1 0h0m2 1h0m2 5h0m1-2h0m1-3h0m0 3h0m2-4h0m3-1h0m5 5h0m1-3h0m2 2h0m1-2h0m0 0h0m0 2h0m5 3h0m1-5h0m2-1h0m0 6h0m-250 6h0m4 1h0m14 0h0m6 1h0m9-4h0m1 0h0m1 1h0m1-2h0m0 2h0m7 1h0m2-3h0m1 0h0m5 0h0m1 1h0m11 3h0m1-6h0m2 6h0m3-1h0m1 2h0m3-4h0m0 1h0m3-1h0m2 1h0m1-1h0m13 4h0m11-4h0m1-3h0m0 2h0m7 5h0m2-4h0m0 4h0m1-5h0m2 5h0m3-7h0m0 4h0m3-2h0m3-2h0m0 2h0m1 0h0m4 2h0m3-4h0m7 6h0m2-3h0m3-1h0m3-1h0m0 0h0m0 1h0m0 1h0m1 2h0m1-3h0m0 1h0m0 0h0m1 4h0m1-1h0m0 0h0m2-2h0m1 0h0m1-3h0m1 1h0m2 3h0m1 0h0m2 2h0m2-6h0m2 1h0m4-2h0m0 5h0m3-4h0m0 6h0m1-7h0m3 1h0m1 0h0m0 2h0m0 3h0m1-4h0m1 1h0m2-1h0m1-2h0m3 4h0m0 2h0m1-4h0m1-2h0m1 4h0m1 1h0m3-2h0m1 1h0m2-1h0m3 4h0m2-6h0m1 2h0m5 3h0m0 1h0m3-2h0m1 0h0m0 1h0m3-2h0m4 2h0m2-5h0m0 3h0m5-3h0m0 1h0m3 1h0m2-2h0m1 3h0m1 1h0m3 0h0m2-5h0m5 3h0m2-3h0m0 2h0m3 2h0m-243 9h0m0 0h0m2-4h0m0 2h0m1 3h0m2-6h0m1 5h0m2-4h0m4 3h0m1 0h0m1 3h0m2-7h0m14 2h0m3-2h0m0 2h0m0 4h0m7 0h0m0 0h0m3-3h0m2 4h0m1-7h0m6 1h0m2 4h0m0 0h0m1-3h0m3 5h0m4 0h0m1-3h0m3 3h0m6-2h0m15 2h0m28-1h0m1-1h0m2 1h0m2-4h0m3-1h0m1-1h0m1 1h0m6-1h0m1 6h0m0 0h0m1-4h0m0 5h0m2-4h0m1 1h0m1 0h0m3-2h0m0 2h0m1-1h0m0 1h0m3-1h0m1 0h0m1-2h0m0 5h0m3-1h0m1 2h0m1-1h0m1 0h0m4-2h0m1-2h0m0 4h0m0 1h0m1-4h0m0 1h0m1 0h0m2-4h0m2 5h0m4 0h0m0 1h0m1-3h0m1-1h0m1 5h0m2-7h0m0 5h0m0 2h0m4-7h0m0 3h0m1 4h0m2-1h0m1-5h0m0 0h0m0 2h0m5-1h0m3 1h0m3-1h0m0 2h0m4-2h0m2-2h0m5 7h0m2-1h0m5-6h0m1 2h0m2 1h0m7-2h0m1 4h0m0 1h0m1-2h0m2-4h0m0 1h0m0 3h0m1-4h0m0 0h0m1 2h0m3 4h0m4-6h0m6 5h0m1 1h0m3-5h0m1 1h0m4 0h0m-250 11h0m3 0h0m2-4h0m0 6h0m2 0h0m6 0h0m3-5h0m0 3h0m1-1h0m1-3h0m2 1h0m0 3h0m2-3h0m1-2h0m3 4h0m6 0h0m2-4h0m1 2h0m0 4h0m1-5h0m1 1h0m3 0h0m1 5h0m1-6h0m0 3h0m1 3h0m0 0h0m4-3h0m0 3h0m1-7h0m0 1h0m0 5h0m1-2h0m1-1h0m0 4h0m1-7h0m7 6h0m4-2h0m5 0h0m4-1h0m8-2h0m3 6h0m21-7h0m7 2h0m14 5h0m1-2h0m2-4h0m4 2h0m0 1h0m2 2h0m3-5h0m1 5h0m1 1h0m11-4h0m0 0h0m2-1h0m1 5h0m4-2h0m2-2h0m6 2h0m0 1h0m4 1h0m2-3h0m1 1h0m0 2h0m2-3h0m3-3h0m1 1h0m0 3h0m2-5h0m2 3h0m2 4h0m1-6h0m0 3h0m3 3h0m1-7h0m0 7h0m4-2h0m3-4h0m1 3h0m0 1h0m1-5h0m0 6h0m2-5h0m3 2h0m2 0h0m4 4h0m1-6h0m1 0h0m4 2h0m4 1h0m4 3h0m3-6h0m1 2h0m4 0h0m3-1h0m0 2h0m3 2h0m1-2h0m6-2h0m1-2h0m0 6h0m0 1h0m3-6h0m2 3h0m0 2h0m1-1h0m-245 4h0m0 2h0m5-1h0m1 3h0m1-3h0m1 0h0m4 5h0m4-7h0m0 4h0m0 1h0m1-2h0m4 4h0m0 0h0m1-7h0m1 4h0m3-4h0m0 7h0m2-5h0m4 1h0m0 2h0m1-5h0m0 7h0m1-4h0m0 3h0m6 0h0m6 0h0m1-6h0m0 3h0m2-3h0m3 2h0m12 2h0m3 1h0m2 1h0m3-1h0m3 2h0m8-6h0m7 3h0m2-4h0m3 4h0m19-4h0m5 6h0m3-1h0m0 2h0m1-5h0m1-1h0m0 3h0m1 2h0m0 1h0m1-1h0m1-2h0m2 0h0m6 3h0m4-7h0m3 7h0m4-3h0m1 1h0m4-4h0m2 6h0m2-6h0m0 5h0m2-3h0m0 1h0m2-2h0m3 5h0m5-3h0m1 0h0m8-2h0m0 0h0m1 5h0m1-3h0m0 3h0m6-5h0m1 2h0m2-3h0m1 4h0m4-3h0m3 3h0m1-4h0m1-1h0m3 6h0m2-5h0m2 4h0m3-2h0m0 4h0m0 0h0m2-4h0m0 3h0m2 1h0m5-5h0m1 1h0m4-1h0m2-1h0m1 0h0m1-1h0m0 2h0m1 5h0m2-2h0m2 0h0m5-4h0m1 6h0m4-7h0m0 2h0m0 3h0m0 2h0m1-2h0m1-5h0m1 6h0m-246 6h0m1 2h0m2 0h0m9-5h0m0 4h0m1-3h0m0 3h0m4-3h0m3-2h0m1 4h0m0 1h0m1-3h0m2-2h0m8 2h0m0 2h0m0 1h0m3-5h0m1 5h0m5-4h0m10 0h0m3 1h0m8-1h0m9 3h0m2-2h0m2 5h0m7-3h0m35 1h0m2 1h0m2-3h0m4-2h0m0 5h0m3-6h0m2 0h0m0 1h0m0 0h0m3-1h0m0 2h0m2 1h0m2-1h0m1-1h0m3 3h0m2-1h0m6 2h0m2 0h0m8 0h0m1-4h0m2 2h0m2 4h0m1-7h0m0 6h0m4-1h0m2-1h0m1-1h0m4-3h0m0 6h0m1-4h0m0 3h0m1 1h0m3-2h0m12 0h0m3-1h0m0 1h0m1-4h0m3 2h0m2 1h0m1 0h0m1-2h0m0 5h0m2-6h0m0 0h0m0 1h0m4 6h0m2-7h0m0 5h0m1-2h0m9-1h0m2 3h0m5-1h0m1 0h0m0 0h0m6-1h0m4 3h0m1-6h0m0 4h0m1-4h0m0 7h0m-241 6h0m1 0h0m4 2h0m3-7h0m1 6h0m8-5h0m4 2h0m0 0h0m0 4h0m2-4h0m0 4h0m1-5h0m1 4h0m2-4h0m4-1h0m6-1h0m3 7h0m5-6h0m0 4h0m1-4h0m0 2h0m0 2h0m1-4h0m0 6h0m3-7h0m0 3h0m6-2h0m0 2h0m24-3h0m1 3h0m2 1h0m0 3h0m6-7h0m0 5h0m2-2h0m12 4h0m4-1h0m4-2h0m6 0h0m3 0h0m1 3h0m1-2h0m3 0h0m1-1h0m1-4h0m2 7h0m2-3h0m1-4h0m0 2h0m1 5h0m1-3h0m1 2h0m3 0h0m1-5h0m2 3h0m1 3h0m4-1h0m1 1h0m3 0h0m2-1h0m1-3h0m1-2h0m0 6h0m2-3h0m3-1h0m0 1h0m5-1h0m3-2h0m5 4h0m2-1h0m6 3h0m1-6h0m1 0h0m0 3h0m3-2h0m2-1h0m2 2h0m3 4h0m1-2h0m2-1h0m2-4h0m3 1h0m1 4h0m0 0h0m0 0h0m2-3h0m2-2h0m0 4h0m5-4h0m0 6h0m2-3h0m0 1h0m3 2h0m3-1h0m6-4h0m2 0h0m5 1h0m0 1h0m0 1h0m1 1h0m3 1h0m1-6h0m1 0h0m0 2h0m0 1h0m1 4h0m3-2h0m0 2h0m2 0h0m3-3h0m-252 8h0m5-4h0m2 1h0m1 2h0m1-2h0m1 4h0m0 2h0m1-7h0m0 3h0m0 3h0m2-3h0m1-2h0m1-1h0m2 0h0m0 6h0m2 0h0m4-1h0m3-4h0m1 5h0m3-4h0m5 3h0m7-1h0m0 2h0m1-2h0m11-3h0m1 1h0m0 1h0m3 3h0m0 1h0m1-5h0m7 4h0m2-2h0m2 2h0m4-2h0m33-3h0m20 0h0m6 4h0m3 1h0m8-3h0m3-3h0m0 3h0m0 0h0m1 0h0m5 1h0m1-4h0m0 0h0m1 2h0m3 0h0m1 2h0m1-4h0m2 5h0m1 0h0m3-4h0m4 2h0m3 0h0m1-1h0m5 4h0m2-6h0m1 0h0m0 1h0m1 2h0m1-1h0m2 0h0m0 3h0m3-5h0m3 2h0m2-1h0m1 5h0m1-4h0m1 5h0m1-7h0m2 1h0m0 1h0m0 4h0m3-3h0m2 3h0m1-4h0m3-2h0m0 5h0m0 2h0m1 0h0m2-6h0m0 2h0m0 1h0m2-3h0m1-1h0m0 6h0m1-3h0m2 0h0m1 1h0m4 3h0m1-2h0m1 1h0m1 1h0m1-5h0m0 5h0m1-3h0m0 1h0m1-4h0m5 2h0m3 3h0m5-6h0m2 2h0m3 2h0m1 3h0m1-5h0m0 3h0m-249 3h0m15 2h0m2 3h0m3-5h0m2 5h0m4-1h0m1 3h0m6-1h0m5-2h0m4-4h0m0 0h0m0 7h0m1-5h0m1 1h0m2-2h0m2 2h0m1 1h0m3-3h0m1 3h0m5 0h0m3 1h0m1-4h0m7 1h0m13 1h0m3 0h0m9-3h0m19 3h0m4-2h0m8 3h0m4 2h0m3-2h0m5-3h0m2 2h0m1 2h0m1-4h0m2 4h0m5-1h0m2-4h0m0 1h0m2-1h0m0 3h0m2 3h0m3 0h0m2 0h0m0 0h0m2 0h0m3-5h0m0 5h0m2 1h0m1-4h0m0 4h0m2-3h0m3 1h0m3 1h0m2-6h0m0 4h0m0 1h0m0 2h0m0 0h0m2-3h0m1-4h0m1 4h0m9-3h0m1 3h0m7-4h0m1 5h0m2-3h0m3 0h0m1 2h0m1-1h0m2-2h0m3 1h0m0 1h0m2-1h0m0 3h0m1-4h0m5 2h0m3-2h0m2 0h0m3 3h0m6-4h0m0 6h0m1-2h0m3-4h0m2 0h0m6 7h0m3 0h0m2-2h0m1 0h0m1-2h0m-251 7h0m0 5h0m2-1h0m2-6h0m9 3h0m5-1h0m7 3h0m4 0h0m4-4h0m2 1h0m0 1h0m4 3h0m1-2h0m11 3h0m8 0h0m9-5h0m0 3h0m42-1h0m9-1h0m1-1h0m1-2h0m9 4h0m5-3h0m0 4h0m0 1h0m3-6h0m4 0h0m1 0h0m2 0h0m8 6h0m1 1h0m1-4h0m2-3h0m0 0h0m2 5h0m4 0h0m1 2h0m1-4h0m8 4h0m5-5h0m0 0h0m0 3h0m3-4h0m1 0h0m4-1h0m1 3h0m4-2h0m0 2h0m0 1h0m0 0h0m1 0h0m2-2h0m0 4h0m4-5h0m0 4h0m0 1h0m5-5h0m0 0h0m4 1h0m0 1h0m2 1h0m1-3h0m1 5h0m2-2h0m8 0h0m0 2h0m1-2h0m0 3h0m1-6h0m7 3h0m6-2h0m6 2h0m0 1h0m6-4h0m4 6h0m-251 8h0m15-7h0m2 0h0m9 0h0m4 1h0m7 1h0m0 4h0m6 0h0m4-4h0m0 2h0m1-4h0m1 3h0m2-3h0m8 0h0m4 1h0m3 6h0m6-1h0m8 1h0m3-3h0m0 0h0m27-3h0m12 3h0m2-2h0m0 3h0m1 0h0m2 2h0m2-7h0m1 4h0m2-4h0m3 2h0m8 0h0m1-2h0m5 0h0m2 0h0m1 2h0m1 3h0m2-5h0m0 6h0m3-6h0m0 4h0m1-1h0m1-1h0m1-1h0m3 0h0m0 5h0m1-3h0m2 1h0m0 3h0m3-2h0m2-4h0m0 5h0m1-6h0m2 3h0m1 3h0m3-2h0m3-4h0m0 5h0m2 2h0m1-4h0m2-1h0m3 5h0m2-7h0m0 2h0m1 2h0m0 1h0m1-2h0m1 3h0m2-6h0m2 2h0m1-2h0m2 0h0m0 7h0m1-7h0m0 3h0m1 1h0m0 0h0m2-1h0m0 4h0m10-5h0m3-2h0m2 5h0m2-3h0m1 1h0m1-2h0m0 5h0m6-5h0m5 1h0m0 2h0m1-3h0m6 1h0m1-2h0m0 4h0m2 2h0m3-2h0m0 3h0m0 0h0m1 0h0m-251 2h0m12 0h0m4 6h0m2-5h0m1 3h0m12-5h0m2 3h0m4-2h0m1 0h0m20 4h0m3 0h0m3-2h0m3 0h0m15 0h0m8 3h0m2 0h0m5-5h0m15-1h0m13 2h0m1 5h0m1-3h0m5 1h0m1-4h0m0 6h0m1-7h0m0 6h0m1 1h0m2-3h0m2 0h0m0 2h0m0 1h0m3 0h0m3-7h0m0 3h0m5-1h0m0 4h0m2-6h0m1 6h0m2-6h0m0 5h0m1 0h0m1-4h0m0 1h0m0 3h0m3-4h0m1 2h0m2-3h0m0 6h0m4-5h0m0 0h0m5 1h0m0 3h0m3 2h0m7-6h0m3 1h0m1 3h0m2-2h0m0 4h0m6-5h0m2-2h0m3 0h0m0 3h0m3-1h0m1 0h0m0 1h0m1-1h0m2-2h0m0 6h0m0 0h0m6 0h0m2-6h0m0 1h0m1 3h0m1 3h0m1-2h0m2 1h0m0 1h0m1-2h0m1 0h0m1-3h0m2 4h0m1-1h0m2-3h0m2 0h0m0 3h0m2-2h0m2-3h0m1 1h0m0 5h0m0 1h0m0 0h0m3-3h0m4 3h0m5-4h0m1 1h0m2 3h0m2-6h0m0 6h0m-222 1h0m23 4h0m13 1h0m9-5h0m44 4h0m8-1h0m1-1h0m2 3h0m7-2h0m1-1h0m2 0h0m3 0h0m10 0h0m0 2h0m8-3h0m10-1h0m1 0h0m1 4h0m1 1h0m1-5h0m1 4h0m1 1h0m1-3h0m6 2h0m1 0h0m1 0h0m5-3h0m3 1h0m7-1h0m14-1h0m4 2h0m3-2h0m0 3h0m3-2h0m1 1h0m6-2h0m0 3h0m13-2h0m0 3h0m6 0h0m2-3h0m0 0h0" stroke="#8074BE" stroke-opacity="0.5" stroke-width="2.0" stroke-linecap="round" fill="none"/><ellipse cx="356.3" cy="147.0" rx="5" ry="5" fill="#E2D6E8" fill-opacity="1.0" filter="url(#bl1)"/><ellipse cx="433.8" cy="133.7" rx="4.5" ry="4" fill="#E6D8EA" fill-opacity="1.0" filter="url(#bl1)"/><ellipse cx="356.1" cy="125.0" rx="3.8" ry="3.5" fill="#F4F3F8" fill-opacity="1.0"/><ellipse cx="363.8" cy="125.5" rx="3.5" ry="3.5" fill="#F4F3F8" fill-opacity="1.0"/><ellipse cx="378.0" cy="125.5" rx="3" ry="3" fill="#F4F3F8" fill-opacity="1.0"/><ellipse cx="376.7" cy="134.4" rx="4.3" ry="4" fill="#F4F3F8" fill-opacity="1.0"/><ellipse cx="386.0" cy="132.0" rx="4.3" ry="4" fill="#F4F3F8" fill-opacity="1.0"/><ellipse cx="400.8" cy="160.0" rx="5" ry="4.8" fill="#F4F3F8" fill-opacity="1.0"/><ellipse cx="358.8" cy="199.0" rx="4.5" ry="4.5" fill="#F4F3F8" fill-opacity="1.0"/><rect x="461.3" y="195.3" width="14.2" height="2.2" fill="#4A4A44"/></g></g>
<g clip-path="url(#cD1)"><g filter="url(#fbD1)"><rect x="33" y="453" width="131" height="84.7" fill="#E2E0E2"/><path transform="translate(36 456) scale(.5)" d="M16 1h0m18 0h0m8 5h0m5 0h0m3-1h0m9-4h0m1 0h0m5 5h0m13 1h0m6 0h0m12-6h0m2 0h0m17 5h0m1 1h0m38-2h0m1-2h0m9 0h0m12 0h0m6 1h0m16-3h0m-191 14h0m17 0h0m3-3h0m8-3h0m12 0h0m7-1h0m2 3h0m11-2h0m52 4h0m2-3h0m25 1h0m2 3h0m7-2h0m54-4h0m5 3h0m9 0h0m3 4h0m6-2h0m17 0h0m-242 7h0m33-4h0m15 2h0m19 2h0m2-2h0m1-2h0m7 2h0m14 5h0m5-4h0m9 3h0m12-4h0m8-1h0m3 3h0m18 1h0m6-3h0m5 2h0m16 1h0m3-1h0m21 2h0m8-1h0m33 0h0m1-5h0m-234 14h0m30-1h0m3-2h0m9-2h0m14 5h0m2-3h0m16 1h0m6-4h0m9 4h0m28 0h0m9 3h0m17-4h0m15 4h0m26-2h0m4-4h0m1 2h0m18-1h0m6 5h0m2-5h0m2-1h0m15 1h0m-224 6h0m1 6h0m3-6h0m10 0h0m15 4h0m9 1h0m5-3h0m8 1h0m15-1h0m2 1h0m2 1h0m10-1h0m8 4h0m12-5h0m8 1h0m3 4h0m3 0h0m4-4h0m18 2h0m3-5h0m5 3h0m18 3h0m13-1h0m12-3h0m0 5h0m1-1h0m5 0h0m7-5h0m-216 13h0m9-1h0m10-2h0m6 3h0m18 1h0m10-6h0m0 2h0m15-1h0m13 4h0m3 1h0m30-4h0m4-1h0m23 0h0m1-2h0m10 3h0m15 4h0m7-7h0m1 1h0m22 6h0m4-3h0m14-2h0m15 3h0m5 2h0m-238 7h0m1-6h0m0 1h0m1 6h0m5-6h0m9 4h0m0 0h0m2-5h0m1 0h0m4 1h0m2 6h0m3 0h0m4 0h0m4-6h0m4 5h0m5-1h0m19 2h0m24-5h0m7 4h0m17-6h0m11 0h0m1 2h0m13 4h0m9-6h0m9 1h0m5 1h0m0 4h0m10-4h0m29 1h0m0 2h0m3 2h0m9-7h0m0 6h0m1-5h0m4 4h0m15 2h0m2 0h0m15-3h0m-234 5h0m27 5h0m2-6h0m1 2h0m14 3h0m10-1h0m2-1h0m31-2h0m1 5h0m7-6h0m5 5h0m8-2h0m16-2h0m5 0h0m8 2h0m7-1h0m3 0h0m2 3h0m24-2h0m6 1h0m7 3h0m3-6h0m8 4h0m1-3h0m8-1h0m3 1h0m4-2h0m1 5h0m12-2h0m3-2h0m-237 10h0m22-3h0m11 1h0m20 2h0m3 1h0m8 2h0m1-4h0m2 4h0m2-2h0m9-1h0m15 2h0m12-5h0m5 5h0m11-2h0m2 2h0m5-5h0m14 6h0m1-3h0m0 3h0m14-2h0m1 2h0m13-4h0m24-2h0m5 6h0m31 0h0m2-6h0m2 7h0m3-4h0m-236 11h0m2-2h0m11 1h0m9-2h0m21 3h0m10-4h0m1 2h0m18 2h0m6-3h0m33 2h0m29-2h0m16-1h0m8 2h0m1-2h0m12-1h0m17 3h0m12 1h0m15-4h0m11 5h0m7 0h0m-239 3h0m20 3h0m4 2h0m2 0h0m3 1h0m3-4h0m10 2h0m37-1h0m23-3h0m2 2h0m13 3h0m2 1h0m35-1h0m12-5h0m0 2h0m2 4h0m5-4h0m2 0h0m2 1h0m16-3h0m1 0h0m2 1h0m10 5h0m9-6h0m18 0h0m-240 14h0m2-3h0m19 0h0m2 3h0m22-3h0m8 0h0m15 2h0m25-4h0m17-1h0m11 3h0m15 1h0m7-2h0m5 3h0m2-6h0m3 1h0m4 2h0m32 0h0m2 0h0m47 2h0m0 0h0m-235 8h0m0 2h0m5-7h0m8 1h0m1 5h0m19-4h0m12 1h0m8 3h0m20-4h0m6 3h0m16 2h0m3-2h0m1 2h0m15 0h0m16 0h0m13-2h0m4-3h0m7 1h0m3 2h0m11-2h0m16 1h0m10-4h0m17 5h0m9-1h0m8-1h0m-226 6h0m25-1h0m9 5h0m8-3h0m2 0h0m0 4h0m1-1h0m2-1h0m11 1h0m21-3h0m19 2h0m4 1h0m15-2h0m4 0h0m22 2h0m21-3h0m4 2h0m15-3h0m9 6h0m28-4h0m12 4h0m-232 8h0m1-6h0m5 4h0m8-5h0m21 1h0m0 2h0m2-3h0m22 6h0m21-6h0m6 2h0m8 4h0m37 0h0m11-4h0m3 5h0m15-5h0m9-2h0m17 6h0m1-5h0m9 1h0m1 0h0m13 0h0m8 4h0m1 0h0m20-1h0m3-1h0m-233 4h0m14 7h0m24-3h0m3-3h0m2 2h0m10-2h0m12 4h0m10-1h0m16-1h0m2-2h0m5-1h0m6 0h0m10 4h0m9-2h0m8 4h0m22-1h0m1-3h0m4 1h0m14 0h0m7 2h0m6-3h0m2 0h0m1-2h0m6 5h0m11 2h0m2-4h0m24 1h0m-238 4h0m7 0h0m7 7h0m1-7h0m13 3h0m4 3h0m9-1h0m2-4h0m12 4h0m29-3h0m27 5h0m19-1h0m0 0h0m59-5h0m0 6h0m25-2h0m-203 7h0m17-3h0m24 4h0m16 1h0m17-6h0m84 2h0m12 1h0m4 3h0m3-5h0m39 5h0m4 1h0m1-5h0m1 3h0m3-2h0m-224 12h0m3-5h0m3 0h0m4 0h0m9 1h0m7-3h0m3 1h0m13 6h0m2-7h0m0 6h0m33-2h0m16-3h0m28 1h0m11 0h0m5 0h0m12 5h0m1-1h0m40-4h0m16 3h0m8-2h0m1 2h0m11-4h0m-151 12h0m13-3h0m8-1h0m1 1h0m6-2h0m12 2h0m22-2h0m10 2h0m15 2h0m1-4h0m14 1h0m0 1h0m1 2h0m7-4h0m0 2h0m3 0h0m3 2h0m15-3h0m11-1h0" stroke="#C8AA98" stroke-opacity="0.6" stroke-width="5.2" stroke-linecap="round" fill="none"/><path transform="translate(36 456) scale(.5)" d="M0 5l-1 1m21 1l1 1m4-7l0 1m27-1l-1 0m10 3l0 1m6 0l0 1m43-2l0 1m7-4l1 1m8 0l0 1m8-1l1 1m39-1l0 1m7 4l1 0m8-3l-1 1m15-4l-1 1m10 1l1 0m9-2l-1 0m17 4l1 0m8-3l-1 1m-246 11l-1 0m6-5l1 1m6 3l0 1m29-6l-1 1m24 4l-1 0m26-4l-1 1m25 4l1 1m15-2l1 1m18-3l-1 0m36 4l1 0m2-5l-1 0m8 1l1 0m-194 10l-1 0m8-3l0 1m21-3l0 1m8 5l1 1m41-4l-1 1m16 1l-1 1m10-2l-1 1m9-1l-1 0m10 3l-1 0m21 0l1 0m7-6l1 1m2 5l-1 0m7-3l1 0m5 0l0 1m9-2l-1 0m7-3l0 1m9 5l1 0m10-6l1 0m15 0l1 0m-1 7l2 0m28-5l0 2m4 0l1 0m-243 5l-1 1m25-2l1 1m9 3l-1 0m23 3l-1 1m23-7l1 0m65 5l-1 0m26-3l0 2m50-3l2 0m7-2l0 1m7 2l-1 1m9 0l0 1m-231 4l-1 1m50 2l-1 1m11 1l1 0m6 1l-1 1m1-7l-1 1m7-1l1 1m6-2l-1 0m19 2l0 1m11 4l-1 1m7-4l1 0m5 0l-1 1m42 1l-1 1m11-7l-1 1m22 5l-1 1m18-1l0 1m-212 1l1 0m8 2l-1 1m8 3l1 0m10-2l-1 0m13-3l-1 1m7 4l1 1m12-5l0 1m17-3l1 1m33 4l-1 1m10-2l1 0m7 3l-1 0m29-7l-1 0m36 0l1 0m9 4l1 1m-203 4l-1 0m12 0l1 1m24-1l-1 0m27 1l1 0m33 5l-1 1m44-2l0 1m16-2l0 1m31-3l1 0m33 4l1 1m10-5l1 0m4-3l0 2m1 3l-1 1m-248 8l-1 1m48-5l1 1m13-2l0 2m41-3l1 1m2 4l-1 0m29 1l0 1m4-5l-1 1m36 3l0 1m3-7l-1 0m8 4l-1 1m8-2l1 0m13-3l-1 1m15-1l-1 0m10 5l-1 1m13-6l0 1m7 2l0 1m-243 7l1 1m10 3l1 0m2-7l-1 1m9 0l-1 0m22 0l-1 0m10 6l0 1m12-8l1 1m14 5l0 1m8-5l1 1m10 1l-1 0m16-1l-1 0m9-1l-1 1m16-1l0 1m9 1l1 1m5-3l-1 1m20 2l-1 1m24-3l0 1m11-4l1 0m2 6l1 1m13-1l-1 0m8-5l0 1m13 5l1 1m-244 3l0 1m6-4l0 1m20 2l0 1m31 3l-1 0m48-7l1 1m8 3l0 1m11-2l1 0m19 1l-1 1m8-3l0 1m7-3l-1 1m18 3l-1 0m14 3l1 0m13-4l-1 0m19 4l1 0m28-5l1 1m-231 9l1 1m12 0l-1 1m14-3l-1 1m6-4l0 1m11 4l-1 0m8 2l0 1m24-2l1 1m5-5l-1 0m7-2l1 1m1 5l-1 0m5-5l0 1m6 1l1 0m7 2l1 1m11 1l1 1m9-5l1 1m62-4l0 1m33 6l0 1m7-4l-1 1m-247 9l0 1m24-4l1 1m22-3l0 1m18 3l1 1m9-4l-1 1m26-1l-1 1m8 1l-1 0m13-1l0 1m23-2l1 1m6 2l0 1m16-3l1 1m12-1l1 0m33 0l-2 0m29 2l-1 0m-231 6l-1 0m16 2l1 0m5-4l1 1m5 4l-1 1m8-5l0 1m6-1l-1 0m17 1l-1 1m39-4l0 1m1 5l0 1m11-6l0 1m16 5l1 1m12-1l-1 1m17-2l-1 1m27-3l-1 0m11-4l-1 0m7 5l-1 1m38-3l0 1m-227 8l1 0m19-2l1 1m11 2l0 1m7-5l-1 1m18-2l1 1m7-1l0 1m26 5l-1 1m9 0l0 1m4-7l1 1m14 3l1 0m6-2l-1 0m6 3l-1 1m12-4l-1 1m14-1l-1 1m45-3l1 1m8-1l1 1m4 4l0 1m8-6l0 1m1 5l-1 1m-211 2l-1 1m8 1l-1 1m9 2l-2 0m38-1l-1 0m8-3l0 1m21 2l0 1m32-5l0 1m20 0l-1 1m12-2l-1 1m8-3l1 0m39 6l0 1m19-4l1 1m19 3l1 1m-236 4l0 1m4-5l1 0m70 3l-1 1m20-4l-1 0m14 3l1 1m22-3l-1 0m9 0l1 1m38 2l-1 0m26 1l-1 1m17-5l1 1m-221 9l0 1m36 3l-1 1m10-1l-1 1m25-6l1 1m6 4l1 1m6-3l1 1m37-4l-1 1m9-2l1 0m25 2l-1 1m30 3l1 1m5-5l-1 0m7-1l1 0m21 3l0 1m14-5l1 1m-237 11l1 0m24-5l1 1m6 4l0 1m6-1l0 1m86-6l-1 1m8 1l1 0m6 5l-1 0m15-7l0 1m7 3l0 1m12-4l-1 1m7 1l1 1m9 3l1 0m45-7l0 1m6 0l0 1m-231 9l-1 1m21 2l-1 1m48-7l1 0m18 4l1 1m21-4l1 1m5-2l1 0m8 2l0 1m20-1l0 1m22 4l1 0m-1-6l-1 1m7 5l1 1m0-7l0 1m23 0l0 1m36-1l0 1m-210 9l-1 1m7-2l0 1m6-2l-1 1m8-3l1 1m34 4l0 2m15-5l1 1m20-3l-1 0m4 5l-1 1m39-1l1 1m11-1l1 1m4-2l-2 0m50 0l1 0m3-4l0 1m6 3l0 1m6-1l-1 0" stroke="#946448" stroke-opacity="0.9" stroke-width="4.6" stroke-linecap="round" fill="none"/><path transform="translate(36 456) scale(.5)" d="M15 4l-1 0m29-2l2 0m100 2l-1 1m12-1l-1 0m7-4l-1 0m20 1l-1 1m40 5l-1 1m11-7l1 0m14 5l0 1m-220 5l1 0m9-3l-1 0m22 5l1 1m21-5l-1 0m19 4l1 0m57 1l0 1m20-7l1 1m36-1l0 1m9 4l1 1m19-2l-1 1m10-3l-1 0m-178 9l-1 1m56-3l-1 1m9 2l-1 1m7-6l0 1m28 0l0 1m34 5l1 0m-190 6l0 1m14-2l0 1m21-2l0 1m14-4l0 2m15-1l-1 1m17 1l1 1m10-2l-1 1m21 0l0 1m11 3l1 0m34-5l1 0m37-1l0 1m-180 10l-1 1m15-1l1 1m31-3l0 1m32 3l-1 1m21-6l-1 0m25 5l1 0m7-4l1 1m28 4l1 1m6-4l1 0m5-2l1 0m29-2l0 1m5 5l-1 1m9-2l1 1m-146 5l0 1m12 0l1 0m6-4l0 1m1 5l-1 1m25-6l1 1m5 5l0 2m36-4l1 0m50 1l-1 0m16-4l-1 0m-242 8l1 1m5 4l1 0m42-3l1 0m10-4l-1 1m14 6l0 1m7-2l-1 0m19-6l1 0m6 1l1 1m24 0l-1 1m20-3l-1 0m5 5l-1 1m25-2l1 1m34-4l0 1m9 1l1 0m-223 5l1 0m20 0l-1 0m44 2l-1 1m16 1l1 1m112-2l1 1m12-4l1 0m-142 14l0 1m24 0l1 1m70-4l-1 0m27 3l0 1m47-8l1 1m-206 13l1 1m6-3l0 1m33-2l0 1m12 0l-1 1m8 1l1 1m42-7l-1 1m26 5l-1 1m55-3l0 1m28 0l0 1m-238 5l-1 1m9 3l0 2m42-3l0 1m27-5l1 1m50-1l1 0m7-2l-1 1m14 0l1 1m9 2l1 0m10-1l-1 0m10 1l0 1m9 0l-2 0m8 0l-1 1m20-1l1 1m11-1l-1 0m9-3l1 1m-225 11l0 1m7-5l-1 1m39 2l1 0m26 1l0 1m12 0l1 1m125-8l0 1m24 2l1 1m-230 9l0 1m38-2l1 0m39 2l0 2m14-3l-1 0m32-5l-1 1m77 3l0 1m29-1l-1 1m-176 10l1 1m88-3l0 1m27-2l-1 1m8-4l-1 0m34-1l1 0m16 2l-1 0m-237 6l1 0m8 2l1 1m20-2l-1 1m18 1l1 0m8-1l-1 1m7 1l-1 1m21-4l-1 1m84 5l1 0m4-2l1 0m5-4l0 1m9 2l-1 1m15 2l1 0m12-7l0 1m21 5l1 1m0-7l1 1m11 0l0 1m-248 13l-1 0m23-6l1 1m37 1l1 0m5 0l1 1m7 1l0 1m58-3l-1 0m27-3l1 0m9 5l0 1m8-1l0 1m24-1l1 1m-180 3l-1 0m8 0l1 1m14-1l-1 1m15-2l-1 1m52-1l0 1m4 6l-1 0m44-5l1 1m25-3l-1 1m33 6l1 1m6-6l1 1m27-3l0 1m-247 7l1 1m15 1l1 0m47 1l-1 1m6 1l1 1m4-5l-1 0m38 5l1 1m58-3l-1 1m29-1l1 1m22-1l0 1m8 0l1 0m-208 4l0 1m6-2l-1 0m12 3l-1 1m7-2l-1 1m43-3l-1 1m56 4l1 1m24-3l1 1m4 0l-1 0m32 3l0 1m8-1l1 1m3-7l1 1m8-1l0 1m6 1l0 1m7-1l0 1m11 2l-1 1m-221 4l0 1m35 0l0 1m8-2l1 1m22-4l0 1m18 4l1 1m21-1l-1 1m12-1l1 0m7-4l-1 0m9 0l-2 0m12-1l-1 0m19 3l-1 1m38-4l-1 1" stroke="#744A34" stroke-opacity="0.9" stroke-width="4.6" stroke-linecap="round" fill="none"/><path transform="translate(36 456) scale(.5)" d="M6 2l-1 0m25 5l0 1m6-7l0 1m12 4l-1 1m8 0l-1 1m29-7l1 0m8 1l-1 1m13-1l0 1m62 1l1 0m32 2l-1 1m-151 5l0 1m13-3l-1 1m12-2l0 1m13 3l-1 1m17-6l0 1m7 3l-1 1m12-3l-1 0m23-1l0 1m22 4l0 1m42-3l-1 1m25 0l1 0m5-4l-1 0m-216 13l0 1m6-1l1 1m156-1l0 1m15 0l-1 1m29-5l1 1m-169 8l1 1m15 0l1 1m39-2l0 1m7 0l0 1m23 1l-1 0m16-3l1 0m5-2l0 1m20 4l-1 0m55 0l1 0m-234 4l-1 1m30-4l0 1m18 2l1 1m6-1l-1 1m111-4l-1 0m7 2l0 2m32-4l0 1m13 2l-1 1m32-1l0 1m-240 6l1 0m8 4l0 1m16-7l-1 1m4 5l0 1m43-2l1 0m78-5l1 0m34 3l0 1m13 2l-1 1m35-1l1 1m-241 4l1 1m16 1l-1 0m20 2l-1 1m62-5l-1 0m19 2l1 0m6-2l-1 1m8-1l1 1m61-3l-1 0m-135 14l0 1m18-4l1 1m20 0l1 1m16-2l0 1m9-2l1 0m8-2l1 1m29 5l0 1m59-2l-1 0m-210 4l0 1m25-3l-1 1m7 5l1 0m36-4l-1 0m54 2l-1 1m51-2l-1 0m10-2l-1 1m30 4l0 1m31-4l0 1m-239 10l-1 1m9-2l0 1m15-6l1 0m13 1l1 1m14 0l-1 0m4 5l0 1m34-6l1 1m42-3l-1 1m26 4l0 1m16-4l0 1m13 1l2 0m39-1l1 1m-198 7l-1 0m34 0l0 1m12 2l-1 0m73 1l2 0m45 0l-1 1m-162 3l-1 0m74-2l-1 0m47 5l-1 0m16-4l-1 1m13-1l0 1m46 1l0 1m-143 7l0 1m32-4l1 1m6-2l1 1m6-1l-1 1m33 1l1 1m5-1l0 1m34-2l-1 0m19-1l1 0m4 3l1 0m-229 7l1 1m14 0l-1 0m44 1l0 1m17 0l1 1m11-3l-1 1m32 3l-1 1m2-8l-1 1m52 2l-1 1m31 0l-1 1m46-4l-1 1m-204 10l-1 0m74 0l-1 1m23-2l-1 1m45 3l1 1m15-4l2 0m8-4l0 1m-202 8l-1 1m25 0l1 0m9 5l0 1m12-5l1 1m72 3l0 1m39-3l1 0m58-2l0 1m13 2l1 0m6-3l-1 0m-179 10l0 1m9-4l-1 0m30 5l0 1m4-6l-1 1m42 2l1 0m28-2l-1 1m13 2l1 0m-177 3l1 1m42 3l-1 0m45 1l0 1m9-2l0 1m17-4l-1 1m28 1l-1 1m59-1l1 0m-206 9l-1 1m54-4l0 1m6-3l0 1m4 5l-1 0m18 0l-1 0m27 1l1 1m-108 5l0 1m12-3l-1 0m103-3l1 0m78 3l1 1m12 1l-1 0" stroke="#B08068" stroke-opacity="0.85" stroke-width="4.6" stroke-linecap="round" fill="none"/><path transform="translate(36 456) scale(.5)" d="M76 0l0 1m-37 15l1 0m9 4l-1 1m40-2l1 1m103-3l1 1m-114 12l-1 0m-77 11l1 1m159 5l-1 1m8-1l-2 0m10-2l1 1m23-2l1 1m22-2l1 1m-192 7l1 0m57-3l-1 0m4 5l1 1m48-1l1 0m3 8l0 2m-127 6l1 0m89 0l-1 0m121 7l-1 1m-203 5l1 1m55 18l0 1m98 1l-1 1m-155 5l-1 1m71 2l0 1m32 6l1 1m-29 5l1 0m48 2l1 0m-110 7l1 0m80-4l1 1m75-2l1 1m-119 21l1 1m121-4l1 0m-178 5l1 1m197 2l1 1" stroke="#8A88B0" stroke-opacity="0.8" stroke-width="4.6" stroke-linecap="round" fill="none"/><path transform="translate(36 456) scale(.5)" d="M7 6h0m3-6h0m19 1h0m1 0h0m2 1h0m16 2h0m5-3h0m4 5h0m9-5h0m3 6h0m2-2h0m11 1h0m67-4h0m6 2h0m4-3h0m3 2h0m1 1h0m0 2h0m9-6h0m2 7h0m44-1h0m12-5h0m1 6h0m-227 1h0m9 6h0m9-4h0m25-2h0m26 5h0m3-4h0m16 3h0m41-2h0m4 4h0m5 0h0m21-4h0m18-2h0m6 1h0m1 2h0m32-1h0m0 2h0m-184 8h0m1-4h0m23 1h0m40-1h0m46 6h0m19-5h0m4 6h0m22-3h0m9-2h0m9 5h0m25-2h0m10 1h0m1-1h0m-236 4h0m3-1h0m22 0h0m5 2h0m1 5h0m6-2h0m8-2h0m22 4h0m17-6h0m0 5h0m1-1h0m10-5h0m5 0h0m1 7h0m7-2h0m27 1h0m22 1h0m5-2h0m11 1h0m14-1h0m35-4h0m11-1h0m-233 10h0m23 0h0m7 0h0m13-1h0m27 5h0m6-3h0m41 3h0m19 1h0m28 0h0m2-7h0m29 3h0m20 4h0m1-6h0m18 1h0m-241 13h0m20-4h0m3 2h0m2-3h0m1 2h0m7-2h0m10 4h0m2 0h0m43-2h0m47-3h0m7 2h0m1 4h0m8-1h0m5-2h0m1 1h0m22-3h0m4-2h0m6 4h0m14-4h0m4 4h0m38-3h0m-233 11h0m29 2h0m33-4h0m7 0h0m32-1h0m8 1h0m9 3h0m5-1h0m3-4h0m40 5h0m2 2h0m2-5h0m28 3h0m6-3h0m2 2h0m30 0h0m-244 5h0m30 0h0m6 0h0m6 5h0m40 0h0m12-4h0m102-2h0m1 2h0m4 1h0m3 2h0m19 2h0m15-7h0m-243 13h0m3 1h0m19-1h0m17 0h0m5 1h0m48-5h0m16 3h0m1 2h0m22-1h0m2 2h0m3-2h0m4-3h0m9 3h0m4-3h0m30-2h0m7 7h0m19-3h0m13 1h0m8 0h0m-197 6h0m23 1h0m16 3h0m10 0h0m14-2h0m14 1h0m3-3h0m46 1h0m45 1h0m5 0h0m12-1h0m9-2h0m1 0h0m7-1h0m6 6h0m-240 5h0m6-2h0m5 4h0m4-2h0m12 3h0m6-5h0m5 3h0m7-3h0m7-2h0m8 7h0m10-2h0m7 0h0m13 0h0m3-4h0m1 3h0m18-4h0m10 4h0m6-4h0m1 4h0m15-4h0m5 3h0m21 0h0m5-1h0m7 2h0m2 3h0m14-3h0m5 1h0m3-1h0m4-1h0m8 1h0m2-4h0m2 3h0m-188 5h0m0 7h0m10-5h0m12 3h0m0 0h0m13-4h0m6 0h0m0 0h0m36-1h0m19 4h0m3 2h0m16-6h0m12 4h0m6-2h0m25 2h0m31-4h0m-221 13h0m35-5h0m5 5h0m9-2h0m8-1h0m21-1h0m12 3h0m9-4h0m2 2h0m3-2h0m5 2h0m22-1h0m4 4h0m9-4h0m8 4h0m1-2h0m4-2h0m10 6h0m2-6h0m8 5h0m17-3h0m9-2h0m4 6h0m10-6h0m5 1h0m2 5h0m-231 6h0m2 1h0m26 0h0m1 0h0m11-4h0m7 3h0m3-2h0m17 4h0m5-5h0m6 5h0m35-2h0m6-5h0m7 4h0m2-4h0m5 5h0m2-2h0m1 0h0m14-1h0m26 2h0m9-1h0m8-1h0m4 3h0m1-4h0m16 2h0m15-2h0m10-1h0m0 0h0m-207 11h0m5 3h0m28 1h0m7-6h0m19 4h0m11-4h0m7 5h0m7-3h0m2-2h0m3-1h0m30 1h0m4 2h0m8 1h0m1 1h0m3 1h0m1-4h0m3 2h0m22-1h0m18-1h0m-207 9h0m3-2h0m0 2h0m31-2h0m1 4h0m9 1h0m17-4h0m35-2h0m22 4h0m9-1h0m15 1h0m18-2h0m11 1h0m6 2h0m16-4h0m34 0h0m12 1h0m-237 12h0m12-1h0m4 1h0m2-2h0m38 1h0m9-3h0m2 1h0m6-1h0m20 0h0m4 1h0m7-3h0m4 5h0m38-2h0m12 3h0m5-2h0m7-1h0m7-3h0m6 1h0m34 5h0m-209 7h0m5 1h0m6-2h0m26-4h0m6 0h0m0 5h0m14-4h0m8 0h0m1 1h0m0 1h0m2 1h0m11-2h0m20 0h0m21-2h0m3 5h0m4 1h0m12-6h0m3 2h0m2-1h0m15 0h0m18-1h0m6 0h0m0 6h0m28 0h0m3-2h0m10-1h0m0 3h0m9 1h0m-228 2h0m16 3h0m25-3h0m15 5h0m4-6h0m2 1h0m12 2h0m27-2h0m16 0h0m2 1h0m7 5h0m2-4h0m23-3h0m1 3h0m10-1h0m5-2h0m33 3h0m-189 5h0m42 1h0m3 3h0m36-3h0m1 0h0m10-1h0m20 0h0m10 1h0m2 4h0m10-3h0m7 0h0" stroke="#9A9AC0" stroke-opacity="0.6" stroke-width="2.8" stroke-linecap="round" fill="none"/><path d="M36.0,456.0 L61.0,456.0 L56.0,463.0 L48.0,471.0 L40.0,478.0 L36.0,481.0Z" fill="#E2E4EA" fill-opacity="1.0"/><ellipse cx="40.0" cy="512.0" rx="8" ry="5" fill="#D8DCEA" fill-opacity="1.0" filter="url(#bl1)"/><ellipse cx="104.0" cy="517.5" rx="12" ry="5" fill="#DDE0EC" fill-opacity="1.0" filter="url(#bl1)"/></g></g>
<g clip-path="url(#cD2)"><g filter="url(#fbD2)"><rect x="162" y="453" width="132" height="84.7" fill="#E2E0E0"/><path transform="translate(165 456) scale(.5)" d="M49 7h0m25-4h0m1 1h0m3 2h0m14-3h0m2 3h0m3-2h0m6 3h0m12-2h0m6-1h0m0 3h0m25-3h0m6 3h0m25-6h0m9 1h0m7 1h0m17 3h0m4-1h0m7 0h0m5-3h0m7 2h0m5-1h0m-236 5h0m9 7h0m1-1h0m13-4h0m0 1h0m8 1h0m7-3h0m7-1h0m11 6h0m2-5h0m8 2h0m1 0h0m10-2h0m18 3h0m4-1h0m0 4h0m12-7h0m5 0h0m9 3h0m6 3h0m1 0h0m29-5h0m18 4h0m9-1h0m17 1h0m21-5h0m16 3h0m-244 5h0m13 3h0m8-3h0m13 4h0m3 1h0m3-5h0m4 2h0m6 3h0m9-1h0m35-2h0m11 2h0m25 1h0m1 0h0m10 2h0m9-5h0m46 2h0m7 2h0m7-6h0m16 6h0m11-3h0m4 3h0m-235 3h0m0 3h0m15-4h0m28 1h0m4 0h0m5 3h0m14 1h0m12-4h0m24 2h0m7-1h0m5 2h0m9 2h0m24-4h0m6-1h0m7 6h0m2-6h0m9 5h0m2 0h0m1-1h0m11 1h0m5 1h0m22-3h0m26-4h0m0 2h0m8 3h0m-238 3h0m16 2h0m23 0h0m43 3h0m2 2h0m14-5h0m8 5h0m10-5h0m21 2h0m1 2h0m11-6h0m12 2h0m5 3h0m2-1h0m3 0h0m11-2h0m2 3h0m36-2h0m-229 11h0m9-3h0m10 3h0m5-5h0m2 5h0m3-4h0m24 0h0m6 1h0m27 2h0m4-3h0m1 0h0m4 5h0m13-1h0m13-6h0m21 7h0m2-3h0m7 2h0m20 0h0m50-2h0m18 1h0m8-4h0m-248 12h0m26 2h0m13-3h0m15 3h0m2-6h0m0 2h0m7-1h0m1-1h0m37-1h0m17 3h0m3-2h0m19 2h0m14 2h0m2 1h0m4-3h0m0 3h0m9-3h0m20 1h0m0 2h0m13-4h0m11-1h0m2 6h0m11-3h0m1-4h0m15 1h0m-244 11h0m2 1h0m16-4h0m28 4h0m7 0h0m2-5h0m10 1h0m10 5h0m6-6h0m2 7h0m2-4h0m7-2h0m17-1h0m12 4h0m16-3h0m16 4h0m4-2h0m22 2h0m4-5h0m6 6h0m1-1h0m10-2h0m12-3h0m1 5h0m26-4h0m-239 12h0m11-4h0m8-1h0m5 6h0m1-3h0m1-1h0m5-2h0m6 4h0m5-4h0m4 0h0m1 4h0m10 0h0m6 1h0m2 2h0m6 0h0m2-1h0m15-2h0m10-2h0m25-1h0m5-1h0m7 4h0m5 1h0m1-1h0m31 0h0m32 2h0m12-2h0m2-1h0m6-3h0m-218 11h0m5 2h0m8-3h0m4 0h0m3 4h0m1-2h0m15-1h0m1 4h0m11-2h0m5-1h0m28 0h0m37 1h0m7 1h0m27-2h0m11-2h0m10-1h0m1 4h0m15 0h0m1 0h0m16-1h0m9 3h0m1-3h0m8-4h0m2 1h0m13 6h0m-238 5h0m23-1h0m11 3h0m1-6h0m5 1h0m0 0h0m10 3h0m1 3h0m66-5h0m18 2h0m14 0h0m2-2h0m14 3h0m14-2h0m14 4h0m2-4h0m4 2h0m18-1h0m7-4h0m-221 15h0m13-6h0m1 0h0m4-1h0m38 0h0m6 4h0m2 3h0m35-6h0m6 5h0m15 0h0m14-1h0m72 1h0m4-1h0m1 0h0m9-1h0m15-1h0m2 3h0m-248 2h0m2 1h0m5-1h0m13 5h0m1-3h0m8 1h0m8 3h0m22-4h0m2 2h0m9 1h0m12-4h0m0 3h0m11 2h0m1 0h0m9-4h0m5 5h0m7-4h0m4 4h0m31-1h0m8-2h0m1-1h0m5 4h0m14-1h0m4-1h0m17-2h0m21 2h0m-219 6h0m2 3h0m5-4h0m0 2h0m12 3h0m9-1h0m1-1h0m7-5h0m22 4h0m14-2h0m20-2h0m20 6h0m3-5h0m5 1h0m4 4h0m8-3h0m3 1h0m6 2h0m10-4h0m10-1h0m4 0h0m3 4h0m1 0h0m24-4h0m38 6h0m1-3h0m7 3h0m-241 2h0m36 6h0m1-6h0m29 2h0m21 1h0m6 1h0m16-1h0m7-4h0m11 6h0m35-5h0m5 2h0m17-1h0m5 0h0m21 4h0m10-3h0m14 4h0m4-6h0m1 5h0m3 0h0m3-3h0m5 1h0m0 1h0m-249 4h0m3 2h0m4-2h0m36 5h0m25-5h0m20 5h0m34-6h0m9 3h0m2 3h0m20-1h0m6 0h0m2-3h0m11 5h0m0 0h0m2-1h0m7-4h0m6-2h0m8 7h0m4-5h0m4 0h0m15 1h0m10-3h0m0 4h0m7-2h0m7 3h0m7-5h0m-217 14h0m3-4h0m4 2h0m8 2h0m5-6h0m6 0h0m11 0h0m8 7h0m8-7h0m3 0h0m5 1h0m12 2h0m0 1h0m32-2h0m0 5h0m2-5h0m1 2h0m15-4h0m1 1h0m4 4h0m3-1h0m8 2h0m4-5h0m12 6h0m1-6h0m9 0h0m12 3h0m6 1h0m12-5h0m21 2h0m-242 10h0m18 3h0m52-2h0m9-5h0m6 3h0m2 3h0m2-1h0m2-4h0m1 6h0m28-6h0m9 1h0m1 3h0m23 1h0m6-2h0m5-4h0m4 7h0m8-1h0m23-4h0m5-2h0m3 0h0m11 3h0m4-2h0m3 2h0m2 0h0m14 3h0m-248 4h0m8 0h0m32 2h0m18 3h0m7 0h0m28-4h0m3-3h0m17 7h0m14-3h0m24-1h0m7-2h0m15 2h0m24 3h0m4-2h0m2-1h0m12-1h0m19 4h0m6-5h0m2 2h0m-231 5h0m1 5h0m30-1h0m27-4h0m15 0h0m0 1h0m18 2h0m6 1h0m16 1h0m21 0h0m10-2h0m4 0h0m20 2h0m6-4h0m31 2h0m2 0h0m8-2h0m4 1h0m18 2h0" stroke="#C8AA98" stroke-opacity="0.6" stroke-width="5.2" stroke-linecap="round" fill="none"/><path transform="translate(165 456) scale(.5)" d="M37 0l-1 1m20 1l1 1m5-1l1 1m22 3l-1 1m8-5l1 1m13 1l-1 1m25 1l0 2m8-2l-1 1m11-6l-1 1m10 0l-1 0m14 0l0 1m58-2l-1 0m16 6l0 1m-239 4l-1 1m17-5l0 1m12 4l-1 1m8-3l1 0m7 0l1 1m6-3l1 0m8-1l-1 1m18 4l-1 1m20-6l1 1m21 5l-1 0m30-6l-1 0m10 0l0 1m12 1l0 1m29 4l-1 0m20-5l0 1m18-3l1 1m8 3l0 1m-218 4l0 1m20 3l0 2m7-3l-1 1m9-1l1 1m21 0l-1 0m10-5l-1 1m9 2l0 1m7-2l0 1m6-3l-1 0m15 3l-1 0m13-3l0 1m37 4l1 1m5-2l0 1m10-2l0 1m9 1l0 1m9-4l1 1m5-2l1 1m27 0l1 0m-216 7l-1 0m40 6l1 1m10-6l1 0m48 1l1 1m8 2l0 1m19 0l0 1m6-2l-1 1m35-6l-1 1m23 2l-1 1m9-2l-1 1m-226 6l0 1m7-1l1 1m31 3l1 1m1-7l-1 1m6 3l1 1m8 1l-1 1m2-7l-1 1m31 2l-1 1m9 2l-1 0m5-6l-2 0m5 7l-1 1m6-7l1 0m10-1l-1 0m3 6l1 0m4-4l0 1m19 1l1 0m4-4l0 1m41-1l0 1m12 2l-1 1m19-1l1 0m7 3l-1 0m-227 9l0 2m13-7l-1 0m12 5l1 1m4-8l0 1m22 5l0 1m9-2l0 1m33 1l-1 1m17-3l1 0m14 2l1 1m9-3l-1 0m12 2l-1 0m7-4l-1 1m14 0l1 1m10-2l0 1m22-4l-1 1m10 6l0 1m8-8l-1 1m4 4l-1 0m18 0l-1 0m18-5l1 1m-242 9l1 1m22-2l0 1m6 2l1 1m8 1l0 1m23-1l1 0m19 1l0 1m7-6l-1 1m37 3l0 1m14-1l1 1m8-2l1 1m40 1l-1 0m16-4l1 0m8-3l-1 1m26 5l-1 1m1-7l0 1m-242 11l1 1m4-5l0 1m6 1l0 1m42 4l1 1m91-3l1 1m36-3l0 1m27 0l1 1m4 2l0 1m17-2l0 2m16-5l0 1m-238 5l1 0m15 1l-2 0m8 4l1 0m8 0l1 1m7-3l1 1m11 0l1 1m18 0l-1 1m15-7l1 0m10 2l1 1m13 1l0 1m13 0l1 1m5-5l0 1m6 1l1 1m6-1l1 1m35 1l1 1m6-4l0 1m5 4l0 1m3-7l1 0m3 6l0 1m15-2l1 1m22-5l0 1m-248 8l0 1m85 0l0 1m6-2l-1 0m26 4l-1 0m8-4l1 1m7-3l1 1m3 5l-1 1m11-1l0 1m19-8l0 2m11 4l1 1m22-3l1 1m5-1l-1 1m6 0l1 0m30 1l-1 0m9-2l-1 1m-242 7l1 0m47 2l0 2m11-6l-1 1m11 3l-1 1m8-6l0 1m12 5l0 1m15-8l-1 1m5 5l-1 1m12-2l1 0m9 1l1 1m11-2l0 1m17 1l1 1m25-5l-1 1m18 2l0 1m5 0l0 2m14-6l-1 0m12-1l-1 1m-229 11l-1 1m7-7l0 1m6-1l0 1m12 6l-1 1m35-7l-1 0m7 3l1 1m8-3l-1 1m27 0l1 0m20 1l0 1m28 2l-2 0m9-2l1 1m8 0l1 0m1-6l-1 0m15 4l1 0m6-3l0 1m5 4l1 1m5-2l1 1m10-1l0 1m10-2l0 2m6-3l0 1m6-1l0 1m9-1l-1 1m8-3l1 1m-241 8l-1 1m20 2l-1 0m43-3l0 1m6-2l-1 1m17 0l1 0m16-2l-1 0m93 4l0 1m25 1l0 1m12-1l-1 1m-235 7l0 1m16-4l0 1m6-2l1 0m4 1l-1 1m6 3l-1 0m9-7l0 1m5 5l-1 1m9-4l-1 0m10 2l0 1m37 1l-1 0m12 0l1 0m3-5l-1 1m7 4l0 1m7-5l-1 1m12-1l1 0m12 0l-1 1m15-1l-1 1m37 1l0 1m7 0l1 1m4-5l1 0m13 2l1 1m-182 8l0 1m22-5l0 1m4 5l1 1m9-7l-1 0m8 3l1 1m28 1l0 1m13-4l1 1m7-1l1 1m9 2l-1 1m6-6l1 1m12 3l-1 1m4-6l1 0m31 6l1 0m-205 6l-1 1m28-1l-1 1m10-3l0 1m3 4l-1 0m4-6l0 1m62-2l1 1m15 4l-1 1m10-5l1 1m21 4l1 0m6-6l1 0m7 4l0 1m27-3l-1 0m7 5l1 0m5 0l-1 1m13-8l-1 1m6 5l1 1m-215 1l0 1m14 0l-1 1m10 0l0 1m16-3l0 1m8 6l1 1m16-5l0 1m7 3l-1 1m30-3l-1 1m15-2l-1 0m50-3l1 1m20-2l1 1m-163 11l0 1m44 2l1 0m11-3l0 2m16-3l0 1m12-1l1 0m6 0l1 0m9 2l1 0m17-4l1 1m3 5l1 1m27-7l1 1m4 4l0 2m18-7l0 1m13 5l0 1m16-8l1 0m14 7l1 0m-248 1l1 0m25 1l-1 1m9-1l0 1m3 4l1 1m3-5l1 1m7-3l-1 1m20 5l0 2m28-5l-1 1m35 2l-1 0m32-3l0 2m27 1l-1 1m14-3l-1 1m-204 4l-2 0m12 2l0 1m14 1l-1 1m6-6l-2 0m5 5l1 0m34 0l0 1m17-4l-1 0m17 2l-1 1m8 0l1 1m6-3l0 1m18-2l0 1m34 2l1 0m2-5l-1 1m6 4l-1 0m16-3l1 1m12 2l1 1m15-4l-1 0m7-1l-1 1m10 3l0 1m5-5l-1 1" stroke="#946448" stroke-opacity="0.9" stroke-width="4.6" stroke-linecap="round" fill="none"/><path transform="translate(165 456) scale(.5)" d="M5 3l0 2m22 0l0 1m19-6l1 1m78-1l1 1m38 3l1 1m39-4l-1 0m3 5l1 0m6-4l0 1m7-1l0 1m17-1l-1 1m-119 7l1 1m11 2l1 0m20 2l0 1m13-1l1 0m14-1l-1 0m34-6l-2 0m18 5l1 0m24-5l1 0m-1 6l0 1m-252 5l0 1m13 0l-1 1m8-5l-1 1m23-1l1 1m77 3l0 1m36 1l0 1m2-6l0 1m75-3l1 1m18 6l1 1m-240 4l-1 1m26-3l0 1m24-1l1 1m11 0l1 1m13-2l-1 0m19 0l-1 1m18 0l0 1m21-2l0 1m36 1l-1 1m33 0l1 1m-99 7l-1 1m20-2l-1 1m22 1l-1 1m7-1l-1 1m9-1l1 0m5-6l-1 1m62-1l1 1m-197 12l1 0m31-3l-1 1m7-2l-1 0m14 0l-1 1m15 5l2 0m32-7l1 1m46 0l-1 1m2 5l1 0m20-7l-1 1m23 3l1 0m-212 7l-1 1m39 0l1 1m23 0l1 0m26-1l-1 0m8 2l1 1m24-3l1 0m13-2l-1 1m11 3l0 1m28-1l1 1m36 0l-1 1m9-5l1 0m-215 9l-1 1m23-2l0 1m23 0l0 2m8-2l-1 1m24-4l1 1m14 3l0 1m23-1l-1 1m8-4l-1 1m36 4l0 1m16-3l1 1m9-5l1 1m21 4l-1 0m-223 7l1 1m6-2l-1 1m13-2l0 1m59-3l-1 0m9 1l1 1m27 3l-2 0m17-5l-1 0m33 1l1 0m49 1l-1 0m-204 9l0 1m34-2l0 1m9 3l-1 1m8-7l1 1m94 4l1 0m9 1l0 1m6-5l-1 1m13 3l1 1m37-7l0 1m9 3l0 1m8-5l1 1m-223 7l0 1m19 0l1 1m25 2l0 1m44-4l-1 0m54 2l1 0m22 3l1 0m-93 5l0 1m10-1l0 1m42-5l1 1m1 4l1 1m4-3l1 1m32 3l1 0m-179 6l-1 0m44-4l0 1m7 4l1 1m2-7l-1 0m51 5l1 1m15-2l0 1m9-1l-1 0m8-4l1 0m31 5l0 1m24-2l1 0m29-2l0 1m13-2l0 1m17 5l0 1m-242 1l-1 1m7 4l-1 1m134 0l0 1m14-7l0 1m22-2l-1 0m2 5l0 1m13-3l1 1m24-3l-1 1m-222 12l2 0m10-3l0 1m10-4l1 0m18 3l-1 1m16-2l-1 1m14 4l-1 1m123-7l0 1m46-1l1 1m-222 12l0 1m6-6l0 1m37 3l0 1m22-3l1 1m9 0l1 0m21-3l0 1m67-2l1 0m6 5l-1 0m-146 10l1 1m48-6l0 1m27 1l-1 1m15-4l-1 0m10 3l0 1m101 2l1 1m6-3l1 1m3-6l1 1m-233 10l-1 0m29 0l0 1m116-1l1 0m49 2l1 0m11-1l-1 1m-176 10l0 1m44-7l-1 0m3 6l-1 1m23-4l1 1m10-5l-1 1m11 1l1 1m4 3l-1 1m34-7l1 1m-1 6l1 1m7-4l-1 1m15 1l-1 1m48 0l-1 0m-203 5l1 1m17-4l1 1m30 2l1 1m33-4l1 1m14 2l0 1m12 0l1 1m28-1l0 1m17-1l0 1m13-1l1 0m40-4l0 1" stroke="#744A34" stroke-opacity="0.9" stroke-width="4.6" stroke-linecap="round" fill="none"/><path transform="translate(165 456) scale(.5)" d="M43 6l1 1m25-4l0 1m6 2l1 0m23-6l0 2m23 4l-1 1m57-2l-1 0m10-4l-1 0m9 2l-1 1m6 2l-1 0m31 1l1 0m17-6l1 0m-237 7l1 1m47 5l-1 1m14-1l1 0m13-1l1 1m20-3l1 1m47 1l0 1m30-4l1 1m5 2l-1 1m17-1l0 1m-200 9l0 1m26-6l-1 0m44 3l1 0m60 2l0 1m9-4l-1 1m21-1l1 0m57 1l1 0m7 2l-1 0m8-6l1 1m-239 8l-1 0m20-1l1 0m25 5l1 0m49-5l0 1m91 0l1 0m16 0l1 0m38-1l-1 1m-225 10l1 1m46-1l-1 0m16-2l-1 1m104-2l1 0m12 0l1 1m10-2l0 1m38 1l-1 1m-239 5l-1 1m41 4l0 1m40 1l-1 1m34-3l-1 1m12-5l1 0m28 4l1 1m34 1l0 1m46-8l1 0m-240 15l-1 0m63-4l1 1m110-1l1 1m5 1l-1 1m-144 4l1 1m16 0l0 1m31-1l1 0m21-1l-1 0m22-1l-1 0m39 3l-1 0m8 1l1 1m51-4l1 1m18-2l-1 0m-201 8l1 0m34 4l1 0m67 2l-1 1m31-4l0 1m8 0l0 1m62-5l0 1m-226 7l1 1m5 1l0 1m7-1l-1 1m43-3l0 1m2 5l-1 0m7-5l0 2m26-3l1 0m22 6l0 1m24-8l1 0m-128 11l1 0m60 3l1 1m106-6l0 1m21-1l-1 0m5 6l0 1m23-5l1 0m9 0l0 1m-227 5l-1 1m11-1l0 1m4 3l0 1m4-6l-1 0m6 4l-1 1m73 1l-1 1m13-3l0 1m21-4l1 0m-92 7l1 1m5 5l1 1m17-6l0 1m6 4l1 1m48-2l1 1m8 0l1 0m59-6l1 1m0 5l-1 1m-133 3l-1 1m7-3l-1 1m14 1l-1 0m14 0l0 1m58 4l-1 0m11-6l1 1m63 2l2 0m5 2l-1 0m-227 6l0 1m9-2l1 0m6 1l-1 1m28 2l-1 1m27-1l1 1m11-3l-1 1m31-3l1 1m50-3l1 0m5 6l0 1m13-3l1 1m14-2l-1 0m15 0l-1 1m17 2l1 1m6-4l-2 0m-239 5l0 2m58 3l-1 1m30-2l0 1m11 0l0 1m27-1l1 0m5 0l0 2m6-7l-1 0m14 6l1 1m52-4l-1 0m25-4l1 1m-232 10l0 1m5 3l0 1m15-1l-1 1m108-2l-1 1m14-2l-1 1m12-1l1 0m10 0l1 1m8 1l1 0m4-7l0 1m5 2l-1 1m12 1l0 1m18-5l0 1m0 5l-1 1m13-2l0 2m4-7l1 1m10-2l-1 1m-239 7l-1 1m57 6l1 0m5-7l-1 1m32 0l1 0m13 3l1 1m27-2l-1 1m33 1l1 0m24 0l2 0m-190 8l-1 1m7-4l-1 0m8 3l-1 1m47-6l-1 0m18 3l0 1m22-1l1 1m38-3l1 1m7 4l-1 0m59 0l0 1m5-3l1 1m9-2l0 1m-210 6l-1 0m32 3l1 1m28-2l0 1m85-5l1 0" stroke="#B08068" stroke-opacity="0.85" stroke-width="4.6" stroke-linecap="round" fill="none"/><path transform="translate(165 456) scale(.5)" d="M14 2l-1 0m104-1l-1 1m-102 13l1 1m56 5l-1 0m44 2l-1 1m60 0l0 1m78 5l1 1m-222 1l1 0m68 38l0 1m-1 5l-1 1m90-3l-1 0m12 11l-1 1m-177 14l-1 1m18-1l-1 0m179 0l0 1m32-2l1 0m-25 14l1 1m-169 7l-1 1m48 9l0 1m121 1l0 1m16 11l1 0m5-1l1 1" stroke="#8A88B0" stroke-opacity="0.8" stroke-width="4.6" stroke-linecap="round" fill="none"/><path transform="translate(165 456) scale(.5)" d="M9 1h0m9 4h0m3 1h0m10-1h0m10-3h0m2-2h0m1 5h0m18-1h0m2-3h0m11 6h0m7-2h0m1 1h0m15-5h0m1 1h0m5 3h0m17 0h0m9-3h0m11 4h0m8-5h0m6 5h0m1 0h0m23-2h0m3 3h0m38 0h0m3-6h0m2 1h0m20 5h0m3-5h0m0 3h0m1-3h0m1 0h0m-244 6h0m8 4h0m10 0h0m1-1h0m0 2h0m23 1h0m13 1h0m49-7h0m0 1h0m9 3h0m7-1h0m5 2h0m8-4h0m0 1h0m4-1h0m20-1h0m0 7h0m10-6h0m2 5h0m1-5h0m6 1h0m3 5h0m24-7h0m9 6h0m7 0h0m6-1h0m5-2h0m1-1h0m10 3h0m3 0h0m-234 4h0m6 6h0m5-4h0m4-3h0m0 5h0m20 1h0m1-5h0m21-1h0m8 7h0m3-6h0m69 1h0m1 4h0m8-6h0m1 5h0m5-4h0m27 1h0m4 5h0m21-5h0m10 0h0m3 0h0m12 3h0m2 2h0m-242 7h0m9 0h0m13 1h0m14-1h0m6 0h0m10-2h0m6 2h0m39 0h0m19-6h0m6 2h0m11 4h0m1 1h0m3-7h0m17 2h0m4-1h0m3 5h0m56 0h0m8-6h0m6 5h0m-209 7h0m13 0h0m10-4h0m1 2h0m19 0h0m0 0h0m8 2h0m0 2h0m4 1h0m19 0h0m5-2h0m8-3h0m1 2h0m0 2h0m4-2h0m6-4h0m3 6h0m42-4h0m4 1h0m0 2h0m7-3h0m15 1h0m8 1h0m20 0h0m16-3h0m0 5h0m2 0h0m4 1h0m-222 3h0m56-1h0m7 1h0m6 0h0m6-2h0m0 5h0m2 1h0m28-2h0m2-4h0m7 1h0m1 2h0m11 0h0m12-2h0m5 2h0m3 1h0m29-3h0m22-1h0m2 6h0m1 0h0m3-6h0m15 3h0m1-2h0m-229 11h0m2 0h0m4-2h0m8 3h0m31-4h0m10 2h0m9-1h0m19 3h0m4 2h0m5-6h0m6 3h0m3 0h0m13-4h0m1 4h0m4 3h0m20-6h0m10 5h0m6-1h0m12-5h0m0 4h0m10-2h0m4 5h0m5-5h0m18 5h0m13-7h0m-229 9h0m3 1h0m1 5h0m21-6h0m23 5h0m6 0h0m20-6h0m25 4h0m9 2h0m1-3h0m0 4h0m6-7h0m16 6h0m15-6h0m0 6h0m34-6h0m9 6h0m23-5h0m1 4h0m-212 8h0m9-3h0m17 3h0m2 1h0m3-6h0m1 7h0m2 0h0m1 0h0m1-2h0m2 0h0m6-5h0m1 2h0m36 3h0m6 1h0m6-1h0m5-2h0m0 4h0m6-7h0m17 1h0m0 6h0m8 0h0m17-3h0m12-1h0m18 3h0m2 1h0m1-3h0m1 2h0m13-2h0m3 2h0m3-6h0m0 7h0m37-1h0m4-5h0m-212 12h0m1 1h0m9-1h0m0 2h0m8-5h0m4 2h0m3 2h0m3-1h0m14-1h0m7-2h0m11 0h0m24-1h0m5 4h0m17-5h0m7 5h0m5-1h0m4-4h0m6 3h0m2 3h0m1-5h0m4 0h0m5 1h0m4 1h0m5-1h0m15 2h0m0 1h0m5-2h0m19 4h0m1 0h0m12-1h0m6-4h0m11 5h0m2-7h0m-250 10h0m1 1h0m0 0h0m7 2h0m13-5h0m12 6h0m15-5h0m14 5h0m11 0h0m6-6h0m12 6h0m2-2h0m18-4h0m4 4h0m5-2h0m15 5h0m20-5h0m22 2h0m8-4h0m19 1h0m0 5h0m1-1h0m10-2h0m0 1h0m2 0h0m-210 4h0m4 5h0m34 0h0m8-4h0m15 5h0m1-3h0m2-3h0m38 0h0m9 1h0m3 2h0m16-2h0m29 1h0m13 1h0m0 2h0m7-3h0m16 0h0m15-2h0m3 5h0m3 1h0m2-4h0m22 5h0m-245 1h0m4 3h0m16 3h0m11 0h0m6 0h0m19-5h0m2 5h0m8 0h0m17 0h0m7-4h0m9-1h0m9 2h0m17 4h0m7 0h0m9-4h0m8-3h0m0 2h0m7 5h0m8-4h0m2-2h0m7 3h0m1-1h0m8-2h0m3 6h0m3-5h0m10 2h0m0 1h0m27 0h0m2-5h0m22 1h0m-235 14h0m2-5h0m9 1h0m1 0h0m0 1h0m3-3h0m3-1h0m1 0h0m12 5h0m1 1h0m6-1h0m9 0h0m23-5h0m14 1h0m2 5h0m34-6h0m30 3h0m7 1h0m6 2h0m46-3h0m3 0h0m18-3h0m1 3h0m1-1h0m2 5h0m-240 1h0m3 5h0m1-3h0m18 5h0m2-4h0m12 1h0m2 3h0m2-5h0m25-2h0m28 4h0m9-4h0m8 5h0m4 1h0m14-5h0m5 4h0m3-5h0m2 4h0m1-3h0m6-1h0m0 1h0m13-1h0m9 4h0m0 2h0m1-3h0m47 0h0m-216 6h0m22-1h0m1 7h0m10-5h0m7-2h0m1 5h0m1 2h0m42-1h0m4-2h0m1 2h0m2-4h0m9 0h0m6 3h0m10-4h0m2 4h0m20-1h0m6 0h0m1 2h0m1-6h0m18 2h0m6 1h0m8 3h0m17-2h0m1-3h0m11 2h0m6 0h0m21 1h0m5-3h0m-226 10h0m2 1h0m1 3h0m6-1h0m10 0h0m28-5h0m14-1h0m4 1h0m5-1h0m1 4h0m3 3h0m4-7h0m2 7h0m4-4h0m3-3h0m0 2h0m7 5h0m16-3h0m22-4h0m1 3h0m1-1h0m29 3h0m4-5h0m18 5h0m7 0h0m4 0h0m20-5h0m9 4h0m-228 9h0m5-5h0m9 5h0m8-1h0m38-3h0m3 0h0m1-1h0m1 1h0m7-1h0m8 4h0m9 2h0m14-3h0m12 2h0m4-3h0m9 0h0m11-1h0m22 4h0m8 0h0m4 0h0m15 2h0m3-5h0m3 1h0m8 2h0m15 2h0m3 0h0m1-1h0m-238 9h0m20-7h0m7 7h0m4-3h0m0 3h0m8-5h0m6 3h0m15-5h0m5 3h0m30-3h0m4 2h0m12 1h0m45 3h0m23-4h0m10 0h0m6 1h0m5 1h0m1 1h0m0 1h0m13-6h0m18 4h0m0 1h0m4 1h0m5-2h0m3 3h0m2-1h0m1-6h0m2 0h0m-251 11h0m3-3h0m36 5h0m10 0h0m18-4h0m14 2h0m1 2h0m20-2h0m14 2h0m39 0h0m41-1h0m7 1h0m11-5h0m15 0h0m3 4h0m3-3h0m9 0h0" stroke="#A0A0B8" stroke-opacity="0.6" stroke-width="2.8" stroke-linecap="round" fill="none"/></g></g>
<g clip-path="url(#cD3)"><g filter="url(#fbD3)"><rect x="291" y="453" width="131.6" height="84.7" fill="#D0D4DE"/><path transform="translate(294 456) scale(.5)" d="M8 3h0m3 0h0m1 2h0m1 0h0m1 0h0m5 2h0m1-5h0m1 0h0m0 2h0m1-2h0m2 0h0m0 4h0m18 0h0m4-4h0m12 1h0m1-1h0m12 3h0m3-5h0m22 6h0m1-6h0m6 4h0m3 3h0m14-4h0m6 3h0m3-4h0m2 4h0m8-2h0m1-1h0m3 2h0m2-1h0m1 1h0m3 2h0m1-3h0m5 2h0m2-5h0m4 2h0m0 4h0m2-7h0m2 2h0m3 4h0m9 1h0m3-6h0m3 3h0m0 2h0m9-3h0m2 4h0m11-5h0m1-1h0m23 5h0m0 1h0m4 0h0m2 0h0m7-4h0m3-3h0m-242 14h0m1-1h0m2 1h0m3-3h0m8-2h0m5 4h0m3-4h0m3 5h0m1-4h0m0 2h0m3-4h0m6 4h0m1 2h0m2-3h0m2-1h0m0 2h0m12-4h0m1 7h0m3-5h0m11 4h0m4-2h0m2-3h0m0 2h0m1 0h0m0 3h0m2-1h0m1-1h0m1-2h0m4 3h0m0 2h0m4-6h0m1 0h0m5 0h0m7 0h0m5 5h0m1-2h0m5 3h0m1-7h0m5 3h0m3 3h0m5-6h0m4 3h0m2 0h0m12-2h0m6 1h0m5-1h0m0 5h0m2-1h0m3 1h0m2 1h0m4-6h0m4 5h0m4 1h0m7-1h0m1-4h0m0 1h0m9-1h0m9 3h0m8 2h0m3-7h0m2 1h0m0 4h0m1-3h0m3-2h0m2 2h0m6 1h0m0 4h0m1-6h0m3 4h0m1-3h0m2-2h0m13 0h0m2 2h0m-247 7h0m1 0h0m1 2h0m2-2h0m1-1h0m15 3h0m0 2h0m8-5h0m4 7h0m3-1h0m10-5h0m9 0h0m3 1h0m4 4h0m3-5h0m2 5h0m5-1h0m5 2h0m7 0h0m3 0h0m2-7h0m1 2h0m1-2h0m1 1h0m11 2h0m15-2h0m12 1h0m3 3h0m7-3h0m9 2h0m3-2h0m1 2h0m0 2h0m21-5h0m9 3h0m2-3h0m3 1h0m0 4h0m9 0h0m0 1h0m1-5h0m10-1h0m5 1h0m4 3h0m8 1h0m8 1h0m11-7h0m3 1h0m-247 10h0m8 0h0m1-1h0m9 5h0m4-3h0m2 2h0m2 0h0m2-2h0m3-4h0m1 7h0m12-5h0m1 2h0m3-2h0m11 4h0m4-4h0m6-1h0m5 5h0m1-3h0m0 1h0m11-2h0m0 3h0m42-4h0m5 2h0m5 0h0m2 4h0m2-7h0m8 1h0m1 3h0m2 1h0m4 2h0m4-2h0m3-2h0m0 1h0m1 2h0m2 1h0m4-4h0m3 1h0m3-2h0m4-2h0m4 0h0m17 6h0m1-2h0m2 0h0m1 0h0m0 1h0m11 0h0m9-3h0m3 3h0m8-5h0m0 2h0m0 4h0m1-4h0m1 3h0m3-5h0m0 4h0m1-3h0m2 5h0m5-4h0m-243 13h0m1-7h0m0 6h0m5-1h0m0 1h0m8-1h0m4 2h0m1-2h0m3 0h0m10-4h0m4 2h0m8 2h0m6-5h0m3 6h0m6-5h0m2 1h0m1 3h0m6 0h0m7 2h0m6 0h0m4-3h0m6 3h0m2-1h0m4 1h0m3 0h0m3-3h0m1-1h0m1 0h0m1-2h0m3 0h0m1 0h0m6 6h0m6-4h0m1-1h0m5 3h0m3 2h0m9-5h0m6 2h0m0 2h0m11-5h0m2 5h0m7 1h0m5-5h0m1 5h0m5-4h0m4-2h0m0 4h0m2-3h0m1 4h0m6-3h0m12 0h0m6-3h0m12 3h0m4 1h0m5-4h0m6 6h0m1-4h0m1 4h0m4-4h0m-235 8h0m2 4h0m4 1h0m1-5h0m0 2h0m4 0h0m8 3h0m3-5h0m1 5h0m5-1h0m10-6h0m9 6h0m2-4h0m1-1h0m3-1h0m1 5h0m5-1h0m1-3h0m5 6h0m5-7h0m8 1h0m0 2h0m6-2h0m6 2h0m2-1h0m7-2h0m0 1h0m8-1h0m29 7h0m5-5h0m1 5h0m5-1h0m8-3h0m13 3h0m2-3h0m4 1h0m3 3h0m3-6h0m10-1h0m0 3h0m2 3h0m6-6h0m2 3h0m9-2h0m1 2h0m3-2h0m2 2h0m1 3h0m2 0h0m3-5h0m6 4h0m10-5h0m-247 13h0m3 2h0m9-1h0m14-6h0m4 1h0m4 0h0m1 1h0m3-2h0m9 7h0m12-3h0m4 1h0m2-3h0m5 0h0m6 0h0m4 0h0m0 1h0m3-1h0m1-2h0m3 6h0m4-4h0m5 4h0m0 1h0m2-2h0m2-2h0m4-1h0m18 4h0m7-2h0m7 1h0m8-4h0m2 2h0m6-1h0m0 1h0m6-2h0m10 3h0m5-2h0m1-2h0m0 4h0m7 1h0m11-2h0m9 3h0m3-4h0m7 1h0m1-3h0m0 5h0m11 0h0m3-2h0m3-2h0m15-1h0m0 4h0m-247 11h0m1-2h0m0 1h0m9 0h0m4-4h0m2-2h0m4 1h0m16-1h0m1 3h0m3-1h0m0 5h0m2-1h0m3-3h0m1-3h0m2 5h0m1-4h0m2 5h0m3-6h0m24 7h0m5-5h0m7 1h0m0 0h0m14 0h0m5-2h0m4 0h0m1 2h0m8 2h0m0 1h0m4 1h0m2-7h0m6 3h0m1-3h0m10 6h0m7-4h0m6-2h0m2 6h0m1 1h0m1-3h0m5-3h0m0 2h0m0 1h0m4-4h0m0 6h0m6-3h0m8 3h0m11 0h0m1-3h0m2-1h0m1-2h0m8 2h0m3 4h0m6-4h0m4 0h0m9 2h0m4 2h0m9 1h0m1-6h0m1 2h0m-231 7h0m6-1h0m3 3h0m6 0h0m3-2h0m1-1h0m5 1h0m15 5h0m10 0h0m1-5h0m5 5h0m24-3h0m1 1h0m3-3h0m1-1h0m0 5h0m13-1h0m2-2h0m1 0h0m0 2h0m6 1h0m1-6h0m2 0h0m7 3h0m0 3h0m4 1h0m3 0h0m3-2h0m2 1h0m6-6h0m8 1h0m6 6h0m4-3h0m1-1h0m0 0h0m1 3h0m3-1h0m3-4h0m3 1h0m2 3h0m21-3h0m0 5h0m5 0h0m3-7h0m14 2h0m17-2h0m1 3h0m7 1h0m2-4h0m-244 9h0m4 2h0m2-1h0m6 0h0m0 5h0m2-7h0m0 1h0m1 3h0m4-4h0m4 1h0m2 3h0m8 2h0m3 1h0m5-7h0m9 2h0m3 3h0m3-3h0m4 0h0m13 5h0m3-1h0m3-6h0m1 0h0m5 0h0m15 1h0m24 2h0m1 3h0m2-4h0m3-2h0m5 7h0m1-5h0m6 4h0m10-3h0m12-2h0m2 2h0m4-2h0m1 3h0m1-3h0m0 5h0m0 1h0m6-2h0m2-4h0m4 2h0m3 0h0m4 3h0m13-3h0m2-3h0m0 6h0m7-6h0m3 6h0m1-6h0m5 1h0m0 6h0m5-3h0m12 3h0m3 0h0m-230 1h0m1 2h0m0 1h0m4-2h0m4 2h0m7-3h0m8 0h0m10 7h0m7-2h0m0 0h0m4 0h0m3-3h0m18 3h0m7 0h0m3 1h0m4 0h0m9-5h0m3 0h0m10 4h0m1 2h0m1-2h0m2-5h0m2 4h0m3 2h0m1-1h0m0 0h0m1-2h0m5 4h0m5-5h0m1 3h0m2 1h0m24 0h0m1-1h0m22-1h0m6-2h0m2-1h0m3 4h0m9-4h0m4 2h0m2 3h0m8 0h0m16 0h0m3-6h0m-242 9h0m2 3h0m0 3h0m1-6h0m1 4h0m11-5h0m5 5h0m4 0h0m9-2h0m4-2h0m8 6h0m7-5h0m0 1h0m3 1h0m10 3h0m2-5h0m1-1h0m0 1h0m2 0h0m4-2h0m6 5h0m3-5h0m0 2h0m5 0h0m2 0h0m2 0h0m1 3h0m6-3h0m0 4h0m4-2h0m0 1h0m3-5h0m2 2h0m1 2h0m8 0h0m3 3h0m11-7h0m3 5h0m0 2h0m4-4h0m7-3h0m13 7h0m1-2h0m4 2h0m7-7h0m7 3h0m1 2h0m1 0h0m5 2h0m3 0h0m2-7h0m0 3h0m1-1h0m3-2h0m0 5h0m12-2h0m15 0h0m11-3h0m5 5h0m1 2h0m11-3h0m-244 6h0m11 3h0m2-2h0m4 4h0m2-4h0m5 0h0m7-2h0m3 1h0m1 2h0m1 3h0m2-7h0m2 1h0m18 5h0m12-4h0m4-2h0m0 0h0m10 5h0m1 2h0m1-4h0m0 4h0m12-5h0m2 4h0m1-3h0m0 3h0m4-6h0m11 1h0m6 1h0m6 5h0m1-2h0m1-3h0m19 4h0m2-4h0m1 3h0m6 0h0m3-2h0m2-3h0m2 5h0m1 2h0m6-5h0m17 1h0m2-3h0m0 3h0m2 4h0m1-3h0m1 0h0m6-3h0m2-1h0m1 1h0m5 2h0m4-2h0m0 6h0m3-2h0m0 0h0m1-3h0m3-1h0m2 6h0m3-1h0m6-5h0m2 3h0m2-1h0m5-2h0m0 1h0m2 2h0m-243 6h0m7-1h0m1 0h0m3-1h0m0 5h0m3-5h0m0 2h0m11-2h0m0 5h0m5-1h0m17-1h0m9-3h0m7 4h0m8 0h0m5-4h0m4 6h0m6-3h0m2 3h0m4-4h0m3-2h0m3 0h0m2 6h0m5-4h0m5 0h0m7 1h0m9 1h0m7 2h0m0 1h0m1-5h0m0 3h0m2 1h0m1 1h0m7-7h0m6 1h0m9 1h0m6 1h0m8-3h0m2 3h0m1-1h0m0 1h0m15-1h0m7 5h0m1-3h0m9 2h0m0 1h0m12-6h0m1 3h0m1-1h0m3 2h0m2-2h0m6-1h0m-234 11h0m3-2h0m1-2h0m1 0h0m2 6h0m1 0h0m8-1h0m4-2h0m0 0h0m5-2h0m9 1h0m8 4h0m7-2h0m1-4h0m2 5h0m8-2h0m2-1h0m12-2h0m8 1h0m8 2h0m1-4h0m1 0h0m0 1h0m0 4h0m6-1h0m14-1h0m3-3h0m1 1h0m3 5h0m1-2h0m2 3h0m3-5h0m5 5h0m2-3h0m11-3h0m3 1h0m6-1h0m1 6h0m3-2h0m1 2h0m8-6h0m1 1h0m1 5h0m3-6h0m5-1h0m7 3h0m5-1h0m14-1h0m27 4h0m1-1h0m3 2h0m10-1h0m3 1h0m0 1h0m-247 7h0m3-3h0m4 4h0m5-3h0m3 0h0m4 1h0m1-1h0m3 3h0m1-1h0m1-1h0m4 1h0m0 0h0m15-3h0m2-3h0m0 6h0m2-2h0m3 3h0m3-5h0m3-2h0m10 2h0m1 3h0m8-3h0m3-2h0m2 4h0m4 0h0m1-3h0m8 1h0m6 1h0m4 3h0m8 1h0m2-6h0m6 4h0m5-1h0m1 3h0m6-6h0m4 3h0m27-4h0m10 3h0m2-3h0m0 2h0m8 4h0m1-2h0m0 3h0m1 0h0m5-5h0m1 0h0m2 2h0m7-2h0m2 5h0m7-7h0m4 0h0m2 5h0m2-1h0m11-2h0m4 1h0m4 3h0m2-2h0m2 0h0m0 3h0m7-6h0m0 4h0m-244 3h0m2 7h0m6-7h0m11 5h0m0 2h0m5-5h0m2 2h0m7-2h0m0 2h0m3-2h0m1 0h0m6 2h0m12 3h0m3-7h0m1 6h0m2 0h0m1 0h0m13-3h0m2-3h0m5 7h0m18 0h0m0 0h0m3-5h0m1-1h0m0 6h0m6-2h0m13 0h0m1-5h0m0 4h0m6 3h0m3-7h0m5 6h0m2 0h0m4 0h0m3-4h0m1-1h0m1 1h0m5 2h0m0 2h0m9 0h0m6-4h0m1 1h0m4-1h0m8 1h0m0 3h0m2-6h0m2 7h0m4-6h0m7 3h0m1-2h0m1 4h0m4-1h0m3 0h0m2-3h0m3 2h0m5-4h0m5 5h0m8-4h0m7 0h0m1 6h0m2-1h0m-239 2h0m3 4h0m3-1h0m2-3h0m5 6h0m5-6h0m7 2h0m6 0h0m1 2h0m3 2h0m5-3h0m4 0h0m3-1h0m22-1h0m2 4h0m11-1h0m12 3h0m4-4h0m1 1h0m0 2h0m3 0h0m1-3h0m6 2h0m1-4h0m7 0h0m1 5h0m7 0h0m12-6h0m0 3h0m2 3h0m14-4h0m0 3h0m5-3h0m2-1h0m18 0h0m4 1h0m2 4h0m8 1h0m2-7h0m8 3h0m3 0h0m3 3h0m8-6h0m3 0h0m10 1h0m0 0h0m5 2h0m1 2h0m3-5h0m1 7h0m6-3h0m-248 10h0m0 1h0m5-5h0m2 4h0m5-4h0m1 1h0m4-1h0m1 5h0m9-6h0m7 6h0m15-5h0m10 5h0m2-1h0m2-4h0m5 3h0m5-5h0m0 2h0m2 5h0m5-7h0m1 0h0m4 5h0m11 2h0m5-7h0m6 6h0m3-4h0m1 2h0m10 1h0m6 0h0m1-3h0m2 4h0m6-5h0m6 3h0m10-3h0m7-1h0m4 6h0m9-4h0m0 3h0m10-5h0m5 6h0m10 0h0m4-1h0m1 0h0m6-2h0m5-1h0m0 2h0m2 0h0m5 3h0m11-2h0m3 1h0m4-6h0m8 0h0m-242 12h0m2-1h0m15-2h0m4-1h0m3 0h0m1 0h0m8 3h0m12 1h0m8-2h0m0 1h0m6-3h0m2 4h0m1-1h0m4 1h0m1-3h0m9 1h0m2 3h0m3-5h0m6 1h0m1 3h0m9-1h0m7 2h0m10-4h0m7 2h0m23 1h0m10-4h0m14 2h0m7-1h0m1 4h0m9-5h0m11 0h0m2 3h0m3-1h0m10-2h0m3 1h0m9-1h0m6 1h0m4-1h0m1 5h0m1-4h0m4 0h0m3 2h0" stroke="#B8C0D8" stroke-opacity="0.6" stroke-width="4.8" stroke-linecap="round" fill="none"/><path transform="translate(294 456) scale(.5)" d="M0 0h0m3 7h0m5-3h0m2-3h0m2 6h0m2-6h0m5 1h0m0 3h0m0 1h0m2 0h0m3-4h0m0 4h0m11-3h0m7 4h0m6-7h0m12 4h0m3-1h0m7 4h0m2-6h0m6 0h0m0 4h0m7-3h0m10 3h0m1-1h0m4 1h0m2-3h0m1 3h0m1 2h0m5 0h0m9-5h0m1-2h0m2 4h0m1 1h0m1-4h0m1 0h0m5 2h0m5-2h0m1-1h0m2 7h0m2-4h0m1 0h0m2 2h0m1-3h0m6 3h0m1-5h0m1 4h0m0 2h0m4 0h0m6-4h0m1 3h0m0 1h0m2-5h0m2 2h0m5 0h0m0 0h0m13 4h0m1-6h0m7 4h0m1 0h0m4 2h0m4-3h0m7 1h0m3-4h0m0 3h0m1-1h0m5-1h0m3 1h0m0 4h0m4-6h0m0 1h0m7 5h0m5-6h0m1 1h0m0 1h0m4-2h0m1 0h0m3 0h0m3 5h0m2-6h0m0 5h0m-247 3h0m0 6h0m5-3h0m1 4h0m2-7h0m4 0h0m5 2h0m2 0h0m2 5h0m4-7h0m1 3h0m2-1h0m0 5h0m3 0h0m3-1h0m1-3h0m8-1h0m4 1h0m1-3h0m1 1h0m1 2h0m2 2h0m0 2h0m1-3h0m0 2h0m1-6h0m1 7h0m6-2h0m1 1h0m4-5h0m2 4h0m1 2h0m2-2h0m9-1h0m11 2h0m1-2h0m8 1h0m3 1h0m3-5h0m1-1h0m1 3h0m5 3h0m4-6h0m3 1h0m0 1h0m1 4h0m5-6h0m2 1h0m1 1h0m7 0h0m3 0h0m0 3h0m5 0h0m0 2h0m1-7h0m10 2h0m3 4h0m1-2h0m2 3h0m4-3h0m2-1h0m6-1h0m4 2h0m2 0h0m3-2h0m0 1h0m2-2h0m1 6h0m2-4h0m2 1h0m5-4h0m3 3h0m4-1h0m4 1h0m4 0h0m0 1h0m1 1h0m4-1h0m0 3h0m6 0h0m3-6h0m7 0h0m1-1h0m1 6h0m1-3h0m1-3h0m5 3h0m1-2h0m2-1h0m3 1h0m1 1h0m0 0h0m-246 7h0m1 4h0m1 0h0m7-5h0m8 0h0m0 1h0m1 4h0m1-4h0m4 2h0m2 1h0m7-4h0m1 3h0m3-2h0m0 3h0m8-3h0m8 2h0m4 0h0m6 1h0m8 2h0m1-4h0m0 5h0m3-2h0m2 0h0m8-3h0m0 5h0m5-7h0m2 6h0m8-6h0m1 6h0m3-3h0m1 0h0m3 1h0m3 1h0m5-1h0m1 3h0m2-3h0m3 0h0m11-3h0m1 0h0m3 5h0m6-5h0m0 5h0m4 1h0m3 0h0m2 0h0m4 0h0m8-7h0m4 5h0m0 2h0m2-1h0m4 1h0m0 0h0m2-1h0m4-3h0m4 3h0m3-4h0m0 3h0m6-4h0m0 1h0m1-1h0m2 6h0m7-1h0m0 0h0m0 1h0m7-3h0m3 0h0m5-2h0m16-2h0m1 5h0m4-3h0m0 3h0m1-1h0m2-2h0m1 0h0m1-1h0m2 1h0m1 0h0m-240 7h0m2 5h0m2-1h0m2 2h0m5-5h0m2 0h0m4 5h0m2-7h0m0 7h0m1-7h0m5 1h0m1 5h0m5-5h0m1 1h0m5 5h0m14-1h0m10 0h0m0 1h0m1-4h0m5-2h0m0 5h0m1-2h0m2-3h0m5-1h0m2 2h0m0 2h0m1 1h0m3-4h0m7 3h0m0 3h0m2 0h0m5-4h0m1 1h0m2 2h0m0 1h0m1 0h0m1-2h0m10-3h0m0 1h0m4 1h0m5 0h0m2 2h0m3-6h0m4 4h0m6-1h0m4-2h0m0 1h0m0 0h0m12 3h0m4 0h0m0 2h0m3-5h0m1 2h0m0 2h0m6-6h0m0 1h0m4 5h0m5-3h0m1 4h0m1-2h0m3 2h0m1-5h0m4 4h0m3-6h0m0 5h0m5 1h0m1-4h0m12 2h0m1-4h0m1 4h0m2-4h0m1 1h0m6 5h0m1-5h0m0 4h0m9-4h0m1 3h0m7-4h0m1 5h0m2-4h0m1 1h0m1 4h0m1-5h0m-244 8h0m0 3h0m5-1h0m23 3h0m10-1h0m0 1h0m2 0h0m1-1h0m1-1h0m2-3h0m0 2h0m1 1h0m1-1h0m3-3h0m1 7h0m1 0h0m3-7h0m0 6h0m3-3h0m1-1h0m3 5h0m4-3h0m5-2h0m0 2h0m1-4h0m1 3h0m0 4h0m2 0h0m4-4h0m0 1h0m2-3h0m5 5h0m2-6h0m0 2h0m16 2h0m8 3h0m2-6h0m3 0h0m2 2h0m2-2h0m1 5h0m10 0h0m6-4h0m0 3h0m5 0h0m8-2h0m0 4h0m2-4h0m3-3h0m2 0h0m6 2h0m0 4h0m3-6h0m0 5h0m2-4h0m0 2h0m1 2h0m7 2h0m2-3h0m0 3h0m4-1h0m3-3h0m3-2h0m3 1h0m1-2h0m3 2h0m0 1h0m5 4h0m1-4h0m1 2h0m1-2h0m1 4h0m1-3h0m4 3h0m1-3h0m3 0h0m4-1h0m3 4h0m14-1h0m3-3h0m0 3h0m1-1h0m4-1h0m0 2h0m1 1h0m1-3h0m1 1h0m1-2h0m-244 8h0m1 2h0m1-1h0m4-1h0m3-1h0m2-1h0m0 4h0m4 0h0m1-3h0m2-1h0m11 4h0m3-3h0m0 5h0m2-4h0m1 1h0m5-4h0m2 0h0m3 2h0m4 5h0m2-5h0m5-2h0m0 4h0m3 3h0m4-2h0m1-4h0m2 3h0m4-1h0m1-3h0m2 1h0m2 6h0m1 0h0m4-2h0m1 2h0m2-1h0m4 1h0m1-6h0m1 6h0m2-3h0m2 3h0m1-5h0m11 4h0m5-5h0m4 5h0m3-2h0m2 2h0m3-3h0m0 2h0m1 1h0m1-5h0m0 3h0m1 1h0m4-2h0m8-2h0m3 4h0m11-3h0m4-1h0m3 5h0m7-2h0m9-3h0m11 1h0m1 1h0m0 4h0m6-2h0m1-2h0m15-3h0m0 1h0m4 6h0m1-4h0m1 2h0m6-4h0m2 5h0m4-1h0m3-5h0m3 0h0m5 2h0m1-2h0m6 1h0m-248 10h0m7 0h0m3-2h0m1 0h0m16 5h0m1-3h0m0 3h0m3-5h0m3-1h0m0 5h0m1-5h0m1 2h0m6 3h0m1 2h0m1-5h0m9 4h0m6 0h0m0 1h0m6-4h0m1-1h0m9-2h0m1 5h0m0 1h0m1-1h0m2-4h0m5 0h0m3-1h0m2 6h0m8 0h0m2-6h0m0 1h0m16-1h0m0 2h0m1 4h0m3-3h0m4 3h0m7-2h0m5 2h0m1-5h0m2 1h0m0 3h0m7 2h0m1-6h0m0 0h0m0 1h0m3 0h0m1-1h0m3 4h0m1-4h0m5 0h0m5 2h0m3 2h0m3-2h0m0 4h0m6 0h0m1-5h0m3 1h0m1-1h0m1 1h0m5-1h0m5-2h0m0 1h0m6 5h0m18-6h0m3 5h0m1 1h0m5-4h0m4-2h0m6 4h0m3 0h0m5-1h0m2 2h0m1-1h0m-233 5h0m0 1h0m2-2h0m1 3h0m1 3h0m6-5h0m6 1h0m8 2h0m1-1h0m6-2h0m6 0h0m8 3h0m6 1h0m1-1h0m2-1h0m1 2h0m4 2h0m1-7h0m1 2h0m1 4h0m1-5h0m0 1h0m3 4h0m0 0h0m3-2h0m3 0h0m1 1h0m1-5h0m1 3h0m2-2h0m1 4h0m2-3h0m5-1h0m0 0h0m3 0h0m0 0h0m0 5h0m2-6h0m2 7h0m1-2h0m4-4h0m1 4h0m9-3h0m0 5h0m7-4h0m1-3h0m1 7h0m4-7h0m1 5h0m0 1h0m2-3h0m1 3h0m2-4h0m1-2h0m4 1h0m0 6h0m8-5h0m2 3h0m1-5h0m2 1h0m8 0h0m8 2h0m1-3h0m5 3h0m16 3h0m0 1h0m2-3h0m0 3h0m0 0h0m5-6h0m1 3h0m0 0h0m1 3h0m4-2h0m3-4h0m0 2h0m6-2h0m6 4h0m2 2h0m7-1h0m7-2h0m4 3h0m4-6h0m-248 7h0m0 4h0m7-2h0m11 3h0m1-4h0m0 2h0m2 2h0m3-5h0m5 6h0m4 1h0m4-1h0m1-5h0m5 0h0m5 6h0m1-1h0m1-4h0m0 4h0m2-3h0m16 1h0m1 2h0m6-2h0m5-3h0m2 6h0m2 0h0m3-4h0m1-3h0m0 1h0m1 3h0m9-2h0m12 3h0m1 2h0m2-1h0m3 0h0m5 1h0m1-3h0m0 1h0m4-3h0m8-1h0m5 4h0m3-3h0m3-2h0m0 7h0m3-7h0m6 1h0m0 1h0m1 4h0m8-3h0m5-3h0m1 0h0m1 7h0m8-6h0m4 1h0m1 4h0m7 1h0m3-2h0m11-5h0m1 4h0m4 3h0m4-4h0m1 4h0m6-6h0m3-1h0m1 5h0m4-5h0m1 3h0m6 2h0m5-4h0m0 1h0m2 0h0m8 1h0m-249 10h0m2-1h0m0 1h0m10-2h0m6 4h0m13-5h0m1 5h0m7-1h0m7 0h0m1-3h0m1 3h0m4-5h0m5 6h0m1-5h0m0 3h0m2-5h0m0 6h0m1 1h0m1-3h0m4 0h0m1-1h0m2 4h0m12-3h0m2-3h0m8 6h0m0 0h0m3-6h0m1 2h0m2 4h0m3-6h0m6 0h0m1 6h0m7-6h0m1 6h0m4-7h0m0 5h0m4-4h0m5 3h0m5 0h0m0 1h0m5-5h0m2 3h0m5 3h0m5-3h0m10 0h0m3-1h0m3-2h0m1 0h0m2 6h0m4-5h0m0 1h0m1 2h0m2 1h0m15-2h0m4-2h0m2 3h0m1-4h0m0 0h0m1 2h0m1-2h0m1 0h0m3 7h0m1-3h0m3 2h0m16-2h0m2 2h0m2-2h0m2-2h0m5 0h0m0 3h0m4-4h0m3 4h0m0 1h0m-241 7h0m5-2h0m4 0h0m2 0h0m3 2h0m1-4h0m0 4h0m1-4h0m2-1h0m2 6h0m2-1h0m7-2h0m1 4h0m1-6h0m0 2h0m6-3h0m6 6h0m4-2h0m1-2h0m7 2h0m7 1h0m2 0h0m1-4h0m3 4h0m0 1h0m2-5h0m1 4h0m3 2h0m6-7h0m5 2h0m3 2h0m10-3h0m1 0h0m8 5h0m1-5h0m1 2h0m1 2h0m4-3h0m1-1h0m0 6h0m3-3h0m2-4h0m1 1h0m6 4h0m4 0h0m2-4h0m1 1h0m3-2h0m2 1h0m1 2h0m17 3h0m1-4h0m0 1h0m1 1h0m9-2h0m1 3h0m0 1h0m2-2h0m6-4h0m1 1h0m3-1h0m3 7h0m1-2h0m2-1h0m6-2h0m2-1h0m0 4h0m4-3h0m4 2h0m1-1h0m6 1h0m3-2h0m3 0h0m4-1h0m5 0h0m7 4h0m4-4h0m8 5h0m-242 7h0m3-5h0m1 3h0m5 0h0m6-2h0m1 2h0m6-3h0m1 3h0m6 2h0m1-5h0m5 6h0m2-2h0m2-4h0m7 5h0m0 2h0m1-2h0m4 2h0m3-4h0m12 4h0m12-3h0m1-2h0m3-2h0m1 0h0m1 2h0m0 1h0m4 1h0m4-3h0m9 4h0m0 0h0m5-2h0m1 1h0m6-3h0m0 4h0m1 2h0m1-5h0m1 3h0m3 1h0m3-2h0m1 2h0m3-2h0m0 2h0m3-2h0m4 3h0m9-6h0m19-1h0m0 4h0m5 3h0m2-6h0m6 0h0m2 2h0m6 1h0m1 1h0m1 1h0m2-5h0m2 4h0m0 1h0m3-4h0m1 3h0m1-3h0m1-2h0m6 4h0m4 0h0m4-2h0m12-2h0m2 2h0m2 4h0m2-6h0m2 2h0m0 4h0m1-4h0m4 2h0m1 0h0m8 0h0m-238 4h0m0 1h0m6 0h0m1-1h0m0 1h0m0 1h0m3 1h0m10 0h0m1 2h0m3 0h0m1-1h0m1 1h0m3-5h0m4 3h0m0 3h0m2 1h0m1-3h0m3-3h0m4 6h0m8-1h0m2-4h0m1 4h0m2-3h0m2-2h0m0 1h0m2 1h0m5-1h0m0 3h0m10-5h0m3 0h0m0 5h0m2 2h0m1-3h0m1-1h0m6 0h0m1-3h0m2 7h0m1-6h0m0 1h0m1 4h0m2-3h0m9-2h0m8-1h0m1 5h0m1-3h0m4-1h0m1 1h0m4 0h0m0 1h0m2 1h0m0 2h0m1-6h0m1 6h0m9-5h0m2 2h0m0 0h0m2 1h0m2 0h0m9 3h0m1-1h0m4 0h0m1-4h0m3 5h0m4-3h0m2-3h0m6-1h0m4 7h0m2-5h0m0 2h0m2-3h0m2-1h0m4 0h0m1 2h0m5 5h0m2-1h0m1-2h0m0 3h0m0 0h0m2-2h0m6 0h0m2-1h0m8 0h0m2-1h0m7-3h0m10 4h0m1-3h0m2 2h0m1-1h0m4 2h0m-248 6h0m1-1h0m0 1h0m2 2h0m1-3h0m1 0h0m1 5h0m8-6h0m0 2h0m6 2h0m1-4h0m3 5h0m8-5h0m0 0h0m4 0h0m5 6h0m6 1h0m1 0h0m2-3h0m2 2h0m4-5h0m1 4h0m10-1h0m4-3h0m5-1h0m1 1h0m4 6h0m2-1h0m2-6h0m0 5h0m2-2h0m0 3h0m9-5h0m2 0h0m2 3h0m1-3h0m1 2h0m1-3h0m1 3h0m1-3h0m0 5h0m5-5h0m6 5h0m2 0h0m0 0h0m11 0h0m8 0h0m2-5h0m3 4h0m6-2h0m5 1h0m2-2h0m1-1h0m0 3h0m3-1h0m1 2h0m1-4h0m0 2h0m1-2h0m0 7h0m6-5h0m1 0h0m5 0h0m3-2h0m5 0h0m0 3h0m7 1h0m1 3h0m3-1h0m7-6h0m6 6h0m5-4h0m0 1h0m4 4h0m1-7h0m1 3h0m1-1h0m1-2h0m2 3h0m0 0h0m0 3h0m9-3h0m4 1h0m2-1h0m1 2h0m5-1h0m3 0h0m1-2h0m-243 11h0m6-4h0m14 6h0m2 0h0m3-5h0m7 2h0m2-3h0m3 1h0m1 5h0m4-3h0m2 2h0m6 0h0m19-2h0m4 2h0m2-5h0m0 1h0m1 0h0m3 0h0m3 3h0m4 1h0m9-5h0m6 6h0m1-1h0m0 1h0m4-6h0m3 6h0m1-7h0m6 2h0m0 3h0m5-5h0m8 4h0m2-4h0m0 0h0m3 4h0m4-4h0m9 4h0m2-4h0m3 3h0m1-3h0m0 3h0m1-2h0m4 1h0m7 4h0m3-6h0m3 5h0m3 0h0m2-3h0m1 0h0m1-2h0m5 3h0m6 3h0m1-3h0m9-3h0m1 0h0m7 3h0m1-3h0m4 7h0m4-1h0m4-3h0m8-1h0m0 1h0m7 1h0m6 3h0m1-7h0m0 7h0m4-6h0m-250 12h0m1-3h0m4 0h0m1 4h0m3-2h0m2-1h0m0 4h0m4-7h0m2 5h0m1-5h0m2 3h0m12 1h0m5-3h0m2 1h0m1 1h0m3 4h0m3 0h0m2-6h0m2 4h0m11 1h0m16 0h0m10-6h0m2 0h0m9 5h0m0 1h0m1-5h0m2 4h0m7-4h0m4 2h0m4 2h0m19-1h0m5-3h0m2 0h0m5 3h0m8-2h0m9 1h0m1-1h0m7-1h0m2 1h0m2 2h0m13-1h0m2-2h0m0 1h0m2-2h0m0 5h0m1-4h0m3 0h0m1 2h0m3-2h0m0 1h0m1-2h0m0 2h0m1-2h0m3 6h0m4-3h0m5 4h0m2 0h0m1-3h0m1-3h0m6 2h0m0 3h0m2-3h0m2-1h0m4 3h0m3 0h0m2 2h0m3 0h0m1-5h0m9 2h0m-243 6h0m1 4h0m6 0h0m13-6h0m3 6h0m1-6h0m0 1h0m5 5h0m1-5h0m1 2h0m1-2h0m9 4h0m1 1h0m2-3h0m0 0h0m2 1h0m7 1h0m1-4h0m0 5h0m12-5h0m0 5h0m4-5h0m0 2h0m1 3h0m1-5h0m1-1h0m0 6h0m1 0h0m1-2h0m2 0h0m4-4h0m1 7h0m3-6h0m4-1h0m0 5h0m5-5h0m5 0h0m1 4h0m2-4h0m0 0h0m2 1h0m5 6h0m6 0h0m1-2h0m2-5h0m1 0h0m6 0h0m0 7h0m15-2h0m4-5h0m3 0h0m6 4h0m10 2h0m1-4h0m1 3h0m5-5h0m0 1h0m1 5h0m4 0h0m0 1h0m3-4h0m3-2h0m9 2h0m5 3h0m4-5h0m5 3h0m0 1h0m5-2h0m2 1h0m0 2h0m3-1h0m1 0h0m4-5h0m3 0h0m8 5h0m5-3h0m2 5h0m-245 2h0m0 6h0m1-6h0m1 4h0m4-5h0m2 2h0m0 3h0m0 2h0m1-4h0m6 3h0m8 1h0m1-1h0m3-1h0m1 0h0m0 1h0m0 1h0m2-7h0m0 7h0m4-6h0m1 5h0m0 1h0m3 0h0m1-1h0m1-4h0m0 1h0m0 4h0m6-5h0m6 4h0m5-4h0m0 2h0m1 3h0m1-5h0m6 4h0m1 1h0m1-7h0m4 6h0m1 1h0m1-7h0m1 2h0m8 3h0m2-4h0m0 6h0m7-2h0m8-2h0m1 0h0m5 2h0m9 2h0m2 0h0m1-5h0m8 5h0m6-3h0m1 2h0m15-6h0m0 1h0m1 3h0m8-1h0m1 3h0m1-2h0m4 3h0m1-2h0m4 1h0m11 0h0m3-4h0m0 1h0m0 4h0m2-7h0m1 4h0m1 1h0m4 2h0m6-6h0m1-1h0m1 7h0m1-1h0m0 0h0m10-4h0m2 3h0m0 2h0m2-2h0m7-4h0m0 0h0m2 6h0m1-6h0m3 1h0m6 2h0m3 3h0m2-4h0m3-3h0m0 3h0m10-1h0m1 5h0m-249 1h0m0 3h0m4 0h0m8 0h0m2-1h0m4 5h0m2-5h0m3 2h0m1-3h0m11 6h0m2-3h0m1-1h0m0 4h0m2-3h0m13-1h0m0 3h0m0 1h0m1 0h0m4-3h0m1-4h0m0 5h0m1-2h0m1 3h0m2 0h0m3-1h0m5 0h0m8-2h0m1 4h0m2-1h0m3-4h0m3 0h0m0 3h0m3 0h0m4-3h0m10 0h0m0 3h0m3-5h0m0 7h0m7-5h0m1 1h0m2 2h0m0 2h0m1-3h0m1-1h0m3 2h0m1-2h0m1-3h0m1 1h0m2 3h0m3-3h0m7 0h0m2 6h0m6-7h0m2 0h0m6 2h0m0 0h0m0 3h0m3-4h0m0 5h0m5-5h0m3 4h0m4 0h0m1 0h0m2-5h0m3 5h0m7-1h0m2-4h0m0 1h0m0 2h0m3 1h0m6 0h0m2-4h0m5 3h0m2 0h0m5 2h0m6-1h0m2-3h0m4 2h0m1 0h0m1-3h0m1 3h0m0 0h0m5-1h0m8-2h0m3 7h0m3-3h0m7 2h0m1-1h0m-248 5h0m4 1h0m0 2h0m4-2h0m7 2h0m6-2h0m1 2h0m4-1h0m13 1h0m3-3h0m1 0h0m3-2h0m11 0h0m7 2h0m4-1h0m0 3h0m3 0h0m1 0h0m1-4h0m1 4h0m4 1h0m3-3h0m0 1h0m3-2h0m2 0h0m2 3h0m2 1h0m1 0h0m3-4h0m10 2h0m2 2h0m2-1h0m4-1h0m7-1h0m1 0h0m13 0h0m9 2h0m0 1h0m5-5h0m16 1h0m1 2h0m8-3h0m1 4h0m1-2h0m8 2h0m4-2h0m6 1h0m1-1h0m0 0h0m11 1h0m0 2h0m3-1h0m4-2h0m6-1h0m9-1h0m12 2h0m0 1h0m1-1h0m2 1h0" stroke="#7090CE" stroke-opacity="0.85" stroke-width="4.0" stroke-linecap="round" fill="none"/><path transform="translate(294 456) scale(.5)" d="M1 3h0m10-1h0m3 2h0m7 2h0m7-3h0m4 3h0m11-1h0m2-4h0m2 2h0m8 3h0m1-1h0m2-3h0m12-2h0m0 6h0m1 1h0m4-4h0m4-3h0m1 2h0m1-2h0m7 7h0m6-5h0m8 4h0m4-2h0m6 1h0m5-2h0m3-1h0m0 3h0m5-3h0m4 4h0m11 1h0m3-3h0m20-4h0m3 2h0m6 5h0m4-3h0m1 3h0m7-3h0m31 1h0m6 2h0m2-4h0m3-1h0m4 0h0m2 5h0m2-3h0m1 3h0m5-6h0m3 5h0m1-5h0m0 4h0m1-2h0m2 3h0m2 1h0m-242 7h0m4-3h0m7-2h0m5 5h0m1-6h0m12 3h0m2 0h0m3 2h0m5 1h0m2 1h0m1-2h0m6-3h0m5 3h0m2 1h0m1-6h0m4 0h0m11 6h0m4-4h0m3-1h0m2-1h0m5 2h0m1 5h0m1-1h0m15-6h0m9 3h0m12 4h0m12-1h0m15 1h0m4-5h0m8 4h0m3-3h0m9-1h0m6-2h0m6 3h0m0 1h0m6 1h0m13-2h0m2-1h0m0 1h0m1-2h0m6 3h0m3 3h0m2-5h0m7 2h0m1-3h0m7 5h0m1 0h0m-239 5h0m1-2h0m1 4h0m2 2h0m6-6h0m3 1h0m10-2h0m5 2h0m5 1h0m2 0h0m15-2h0m7 0h0m3 6h0m9-6h0m16 5h0m3-1h0m1-3h0m2-1h0m5-1h0m2 7h0m7-2h0m7 1h0m7 1h0m1-7h0m5 1h0m6 3h0m4-2h0m0 3h0m3-3h0m4-2h0m1 6h0m1-3h0m1 0h0m4-3h0m5 4h0m0 1h0m1 0h0m5-2h0m1-2h0m8 4h0m7-5h0m20 4h0m0 3h0m1-2h0m15-5h0m0 7h0m4 0h0m1-2h0m2-5h0m2 4h0m15 0h0m3 2h0m2-6h0m0 3h0m1-1h0m0 3h0m1-4h0m-242 11h0m1 1h0m2-4h0m4 5h0m12-2h0m3 0h0m7 2h0m8 0h0m9-2h0m2-1h0m14 4h0m1-2h0m4 2h0m6-6h0m6-1h0m2 4h0m5-2h0m5 0h0m2 5h0m2-6h0m2 6h0m5-2h0m1 1h0m5-5h0m4 5h0m3-2h0m9-4h0m0 4h0m5-2h0m0 2h0m5 1h0m1-4h0m2 1h0m3 4h0m3 1h0m6-6h0m6 0h0m1 4h0m2 2h0m10-3h0m6 2h0m1 0h0m19-3h0m4 2h0m10 1h0m3-1h0m19-5h0m5 4h0m8 0h0m-243 6h0m0 2h0m1-3h0m2 0h0m2-1h0m3 5h0m2 2h0m2-5h0m2 0h0m3 3h0m9-3h0m4 5h0m4-2h0m2-1h0m3 2h0m2 1h0m2-7h0m3 1h0m0 3h0m2 1h0m1 1h0m2 1h0m12-2h0m6 2h0m7-3h0m0 1h0m3 0h0m1-4h0m7 4h0m6-3h0m14 0h0m4 0h0m7-2h0m1 7h0m0 0h0m1 0h0m11-6h0m0 0h0m4 5h0m14-5h0m21 6h0m1-4h0m8 0h0m0 1h0m2-3h0m4 5h0m9-4h0m0 4h0m5 0h0m1-5h0m27 5h0m4-2h0m-229 7h0m10-3h0m1 6h0m1-3h0m0 4h0m9-4h0m13 3h0m4-3h0m1 2h0m13-5h0m0 6h0m0 1h0m3-3h0m1 1h0m3-1h0m1 1h0m5 2h0m5 0h0m2-2h0m2-5h0m1 4h0m25 3h0m14 0h0m4-1h0m4-5h0m11 4h0m3 1h0m2-3h0m2-2h0m3 2h0m3 3h0m21 1h0m3-1h0m12-6h0m2 3h0m1 4h0m3-5h0m0 2h0m3 0h0m7 3h0m5-1h0m1-6h0m0 3h0m6-2h0m0 3h0m1 1h0m6-5h0m2 3h0m7 3h0m6-3h0m6-1h0m0 4h0m4-4h0m-245 12h0m15 1h0m4-3h0m8-2h0m2-1h0m3 4h0m2-4h0m2 6h0m6-2h0m10-5h0m3 6h0m7-5h0m2 3h0m1-1h0m1 4h0m9-5h0m5 2h0m3 1h0m9-1h0m2 0h0m5-1h0m4 0h0m1 0h0m2 1h0m3-1h0m2-2h0m5 3h0m2-1h0m1-1h0m7 1h0m2 3h0m18-1h0m2-3h0m2 5h0m2-5h0m10 1h0m7 2h0m1-3h0m4 1h0m0 1h0m1-1h0m4-2h0m6 5h0m14 0h0m1-3h0m0 0h0m3-1h0m2 0h0m0 2h0m2-4h0m3 4h0m1-3h0m9 3h0m2-3h0m0 1h0m1 4h0m8-5h0m5 5h0m4-1h0m-233 4h0m0 2h0m16-1h0m5 4h0m22-5h0m1 5h0m3-5h0m15 1h0m2 4h0m0 1h0m3-7h0m1 5h0m4 1h0m4-6h0m6 6h0m11-3h0m9 4h0m1-1h0m4-1h0m8-3h0m9 3h0m1-3h0m11-1h0m1 6h0m3-1h0m5 1h0m6-5h0m2 2h0m9 1h0m3-5h0m0 6h0m5-3h0m0 3h0m4 0h0m13-3h0m14-3h0m1 6h0m1-4h0m2 4h0m2-2h0m4-4h0m0 3h0m3 2h0m8 2h0m6-7h0m0 4h0m-231 8h0m17 1h0m2-2h0m21 1h0m0 3h0m2-5h0m1 0h0m5 3h0m7 1h0m5-5h0m1 5h0m4-2h0m11 0h0m6 0h0m4-4h0m5 2h0m0 5h0m8-1h0m27-6h0m1 2h0m2 1h0m8 4h0m2-1h0m6-3h0m11 3h0m8-4h0m4 1h0m1-2h0m16-1h0m4 0h0m1 3h0m4-1h0m9-1h0m9 0h0m1 4h0m4-3h0m4 5h0m3-1h0m5-2h0m6 1h0m3 0h0m-245 6h0m9 4h0m9 0h0m8-4h0m9 2h0m2-3h0m1 5h0m1-2h0m4-1h0m5 2h0m1 0h0m1-3h0m3-3h0m6 1h0m2 4h0m1 2h0m6 0h0m5-2h0m0 1h0m7-1h0m4-2h0m1 3h0m9-5h0m1-1h0m11 3h0m0 2h0m11 0h0m6-5h0m1 5h0m7-5h0m3 7h0m9-1h0m13-4h0m4 2h0m1-2h0m5 0h0m22 5h0m0 0h0m4-4h0m0 0h0m12-3h0m11 4h0m4 2h0m7-2h0m1 2h0m5-4h0m4 2h0m12-3h0m2 0h0m-244 7h0m1 0h0m3 6h0m6-4h0m2-2h0m0 5h0m5 1h0m1 0h0m5-4h0m1-2h0m6 0h0m2 1h0m3 3h0m1 3h0m2-7h0m0 6h0m3-4h0m8 4h0m2-4h0m0 4h0m6-1h0m15-3h0m0 1h0m15 1h0m1 1h0m1 1h0m8-6h0m5 0h0m4 4h0m0 1h0m6-2h0m1-3h0m2 0h0m1 0h0m8 7h0m11-5h0m2 3h0m1-5h0m1 4h0m3 0h0m8 1h0m4 2h0m3-5h0m3-1h0m0 0h0m13 5h0m8-6h0m5 5h0m4 1h0m2 1h0m8-5h0m5 3h0m3-5h0m0 1h0m2 0h0m2 0h0m6 5h0m10-5h0m3 6h0m4-2h0m-240 3h0m10 6h0m6-4h0m0 4h0m4-2h0m2-3h0m0 2h0m0 0h0m4-3h0m4 4h0m5-1h0m1-1h0m6-2h0m12 4h0m1 3h0m1-7h0m0 2h0m3-2h0m8 4h0m1 2h0m2-5h0m20 6h0m2-4h0m3 3h0m7-6h0m2 1h0m2 1h0m14 0h0m8-1h0m5-1h0m4 5h0m5-2h0m11 4h0m1-3h0m1 1h0m3-1h0m3 0h0m7-3h0m14 3h0m0 1h0m0 0h0m9-2h0m4 4h0m5-7h0m0 4h0m3 3h0m4 0h0m10-2h0m1-2h0m7-3h0m2 0h0m5 1h0m2 3h0m8-1h0m7-1h0m-250 9h0m2-1h0m1 0h0m1 3h0m14-3h0m16 5h0m6-2h0m1-2h0m1-1h0m9-1h0m5 0h0m4 4h0m5-2h0m2 2h0m15 0h0m6-3h0m1-2h0m0 5h0m5 2h0m4-2h0m12 0h0m4-4h0m3 0h0m22 1h0m4 0h0m1 1h0m6 4h0m5-6h0m2 1h0m5 4h0m6-5h0m10 2h0m4-3h0m1 0h0m4 2h0m7 5h0m5-6h0m10 6h0m3 0h0m2-4h0m5-2h0m1 2h0m6 1h0m10-2h0m5 2h0m2-3h0m2 3h0m-245 5h0m7 0h0m3 0h0m0 0h0m1 2h0m3-2h0m1 3h0m5-1h0m6-2h0m3 2h0m2-1h0m1 0h0m3 3h0m1 2h0m2-1h0m1 0h0m17-2h0m4 0h0m1-4h0m3 6h0m2-4h0m2 3h0m2-3h0m2 4h0m5-5h0m10 5h0m5-5h0m0 6h0m6-5h0m2-2h0m1 0h0m0 3h0m4 0h0m12-3h0m3 3h0m2 3h0m6-5h0m3 6h0m2-4h0m0 3h0m1 1h0m10-6h0m1 2h0m5 1h0m0 1h0m10-4h0m10 2h0m6 0h0m1 0h0m4-3h0m2 1h0m11 6h0m6-3h0m4-3h0m10 2h0m24-1h0m1-2h0m1 2h0m8 2h0m1-2h0m1 0h0m-247 10h0m2-4h0m13 1h0m2 6h0m2-4h0m5 3h0m2-3h0m5 4h0m5-6h0m14 4h0m7-2h0m5 3h0m6 1h0m8-2h0m12-5h0m7 0h0m7 7h0m11-4h0m5 2h0m5-5h0m8 4h0m7-3h0m9 2h0m2 4h0m4-6h0m3 2h0m2 0h0m6-2h0m5-1h0m1 6h0m7-3h0m5-3h0m2 5h0m5-2h0m1-1h0m4 3h0m0 0h0m2-3h0m8 5h0m2-7h0m3 5h0m1-1h0m3-2h0m7 2h0m6-1h0m11-2h0m2 6h0m-241 2h0m4 4h0m4-4h0m1 2h0m0 2h0m3-2h0m3 2h0m9-3h0m3 0h0m5 2h0m3 0h0m1 0h0m4-4h0m10 4h0m2-2h0m7 5h0m1-6h0m4 3h0m3-2h0m1 3h0m6-1h0m1 3h0m4-5h0m8 5h0m2-1h0m2-4h0m0 5h0m3 0h0m1-4h0m2-1h0m2 1h0m11 1h0m1-2h0m1 3h0m3-4h0m0 2h0m7 0h0m6 0h0m1 0h0m0 1h0m3-1h0m5 0h0m7-1h0m8 3h0m7-5h0m4 0h0m4 3h0m2 0h0m1 1h0m4 1h0m17 1h0m12 1h0m10 0h0m0 0h0m8-3h0m10-3h0m-230 14h0m14-3h0m13-4h0m2 7h0m1-7h0m3 0h0m0 2h0m2-2h0m0 1h0m3 4h0m3-5h0m7 7h0m7-1h0m1-6h0m2 5h0m1 0h0m7-1h0m2-2h0m0 5h0m6 0h0m1-1h0m2-6h0m3 4h0m5 3h0m5-4h0m1-3h0m3 0h0m3 3h0m10-1h0m3 2h0m0 3h0m13-1h0m2-6h0m4 5h0m4-1h0m3-3h0m0 5h0m8-5h0m5-1h0m0 5h0m2-2h0m4-1h0m6 1h0m3 0h0m1 2h0m1 2h0m2-5h0m3 3h0m3 0h0m1-2h0m4 3h0m6-6h0m4 5h0m4 1h0m2-1h0m5 0h0m5 1h0m1-1h0m4-3h0m4 0h0m4-2h0m7 3h0m4-2h0m3 0h0m2 0h0m0 4h0m1-3h0m0 3h0m7 2h0m-243 3h0m1 0h0m3 5h0m3-4h0m2 1h0m8-1h0m3-1h0m2 2h0m9 1h0m4-1h0m3 2h0m3-4h0m3 1h0m8-1h0m2-1h0m3 0h0m4-1h0m3 1h0m1 0h0m7 1h0m3-1h0m16 4h0m3 0h0m1-1h0m1-2h0m9-1h0m3 1h0m9 4h0m0 1h0m8 0h0m8-3h0m1 3h0m9-1h0m4 0h0m5-6h0m4 4h0m10 1h0m3-5h0m8 1h0m7 2h0m0 1h0m1-1h0m6 1h0m4 0h0m1 2h0m0 1h0m1-2h0m3-1h0m3-1h0m9 4h0m7-5h0m0 1h0m5-3h0m2 5h0m1-1h0m4 3h0m1-3h0m6 0h0m7-2h0m4-1h0m-246 14h0m2-7h0m30 1h0m2 0h0m0 1h0m14 5h0m1-3h0m1 0h0m3-2h0m12-2h0m7 0h0m2 3h0m2 0h0m14-1h0m11 2h0m5 0h0m13 3h0m3-7h0m2 0h0m0 3h0m16 0h0m15 2h0m1 2h0m3-6h0m8 2h0m9-3h0m1 4h0m7-4h0m2 2h0m3 2h0m8-1h0m3 4h0m8-2h0m1-3h0m12 3h0m5 0h0m1-1h0m2-3h0m2 6h0m1-1h0m10-3h0m-241 7h0m2 2h0m10 1h0m12-1h0m1 1h0m2-4h0m9-1h0m18 2h0m16 1h0m8 1h0m2 1h0m1-2h0m3-2h0m3 0h0m11 2h0m1 1h0m4 0h0m3-3h0m1 3h0m1-3h0m18 2h0m4-3h0m2 1h0m2 1h0m0 2h0m6-1h0m8 2h0m1-5h0m0 3h0m3 1h0m7-4h0m16 4h0m1-2h0m12-2h0m3 1h0m3 1h0m0 0h0m1 0h0m22 0h0m3-2h0m3 3h0m10 1h0" stroke="#4A66B0" stroke-opacity="0.7" stroke-width="2.6" stroke-linecap="round" fill="none"/><ellipse cx="303.7" cy="469.3" rx="7.2" ry="10.0" fill="#C4C8D2" fill-opacity="1.0" transform="rotate(-1.849632109248926 303.7 469.3)"/><ellipse cx="303.1" cy="466.8" rx="5.4" ry="7.4" fill="#C4C8D2" fill-opacity="1.0" transform="rotate(29.324947998907305 303.1 466.8)"/><ellipse cx="318.7" cy="462.6" rx="8.0" ry="6.5" fill="#C4C8D2" fill-opacity="1.0" transform="rotate(-24.678247295943834 318.7 462.6)"/><ellipse cx="318.7" cy="464.3" rx="6.0" ry="4.9" fill="#C4C8D2" fill-opacity="1.0" transform="rotate(-33.53482822535992 318.7 464.3)"/><ellipse cx="335.0" cy="466.8" rx="11.3" ry="8.5" fill="#C4C8D2" fill-opacity="1.0" transform="rotate(2.713523408914302 335.0 466.8)"/><ellipse cx="335.9" cy="464.2" rx="8.4" ry="6.4" fill="#C4C8D2" fill-opacity="1.0" transform="rotate(-9.678431648365144 335.9 464.2)"/><ellipse cx="330.3" cy="480.2" rx="8.6" ry="4.6" fill="#C4C8D2" fill-opacity="1.0" transform="rotate(10.174019614687353 330.3 480.2)"/><ellipse cx="330.0" cy="480.8" rx="6.4" ry="3.5" fill="#C4C8D2" fill-opacity="1.0" transform="rotate(-27.427427072269932 330.0 480.8)"/><ellipse cx="352.0" cy="465.0" rx="6.1" ry="8.0" fill="#C4C8D2" fill-opacity="1.0" transform="rotate(-13.099389876673362 352.0 465.0)"/><ellipse cx="350.4" cy="465.0" rx="4.6" ry="6.0" fill="#C4C8D2" fill-opacity="1.0" transform="rotate(33.906382912983645 350.4 465.0)"/><ellipse cx="299.5" cy="481.5" rx="6.7" ry="6.1" fill="#C4C8D2" fill-opacity="1.0" transform="rotate(4.521422856795628 299.5 481.5)"/><ellipse cx="300.7" cy="481.0" rx="5.0" ry="4.6" fill="#C4C8D2" fill-opacity="1.0" transform="rotate(19.687617353954288 300.7 481.0)"/><ellipse cx="306.0" cy="492.3" rx="8.6" ry="4.7" fill="#C4C8D2" fill-opacity="1.0" transform="rotate(-19.916528121026076 306.0 492.3)"/><ellipse cx="304.8" cy="492.8" rx="6.4" ry="3.6" fill="#C4C8D2" fill-opacity="1.0" transform="rotate(18.056508179304387 304.8 492.8)"/><ellipse cx="346.0" cy="487.5" rx="6.1" ry="5.9" fill="#C4C8D2" fill-opacity="1.0" transform="rotate(-3.91223024965225 346.0 487.5)"/><ellipse cx="344.4" cy="486.6" rx="4.6" ry="4.4" fill="#C4C8D2" fill-opacity="1.0" transform="rotate(-23.208789589081462 344.4 486.6)"/><ellipse cx="388.0" cy="463.2" rx="10.5" ry="5.9" fill="#C4C8D2" fill-opacity="1.0" transform="rotate(-10.940779245771559 388.0 463.2)"/><ellipse cx="390.2" cy="462.0" rx="7.8" ry="4.4" fill="#C4C8D2" fill-opacity="1.0" transform="rotate(30.911978486342193 390.2 462.0)"/><ellipse cx="384.0" cy="487.0" rx="5.8" ry="10.5" fill="#C4C8D2" fill-opacity="1.0" transform="rotate(18.96865942000884 384.0 487.0)"/><ellipse cx="382.3" cy="486.1" rx="4.4" ry="7.8" fill="#C4C8D2" fill-opacity="1.0" transform="rotate(-0.663061059032195 382.3 486.1)"/><ellipse cx="405.5" cy="465.2" rx="10.0" ry="8.1" fill="#C4C8D2" fill-opacity="1.0" transform="rotate(-23.825842053915075 405.5 465.2)"/><ellipse cx="405.0" cy="467.4" rx="7.4" ry="6.0" fill="#C4C8D2" fill-opacity="1.0" transform="rotate(-31.036298296444087 405.0 467.4)"/><ellipse cx="360.5" cy="490.0" rx="4.5" ry="7.2" fill="#C4C8D2" fill-opacity="1.0" transform="rotate(4.842282088054201 360.5 490.0)"/><ellipse cx="359.4" cy="490.4" rx="3.4" ry="5.4" fill="#C4C8D2" fill-opacity="1.0" transform="rotate(31.624275953886738 359.4 490.4)"/><ellipse cx="376.0" cy="470.0" rx="5.8" ry="9.4" fill="#C4C8D2" fill-opacity="1.0" transform="rotate(-14.847340311774355 376.0 470.0)"/><ellipse cx="374.2" cy="467.3" rx="4.4" ry="7.0" fill="#C4C8D2" fill-opacity="1.0" transform="rotate(3.1815552220687096 374.2 467.3)"/><ellipse cx="316.0" cy="500.5" rx="11.6" ry="6.7" fill="#C4C8D2" fill-opacity="1.0" transform="rotate(-24.126757867335012 316.0 500.5)"/><ellipse cx="312.7" cy="500.5" rx="8.6" ry="5.0" fill="#C4C8D2" fill-opacity="1.0" transform="rotate(33.67410552392927 312.7 500.5)"/><ellipse cx="300.0" cy="526.0" rx="7.2" ry="10.5" fill="#C4C8D2" fill-opacity="1.0" transform="rotate(-3.9946287614031952 300.0 526.0)"/><ellipse cx="299.5" cy="527.0" rx="5.4" ry="7.8" fill="#C4C8D2" fill-opacity="1.0" transform="rotate(-32.5265761012747 299.5 527.0)"/><ellipse cx="320.5" cy="527.0" rx="8.8" ry="9.4" fill="#C4C8D2" fill-opacity="1.0" transform="rotate(3.990007618575241 320.5 527.0)"/><ellipse cx="318.5" cy="527.7" rx="6.6" ry="7.0" fill="#C4C8D2" fill-opacity="1.0" transform="rotate(36.66607263159756 318.5 527.7)"/><ellipse cx="351.0" cy="529.0" rx="7.2" ry="7.2" fill="#C4C8D2" fill-opacity="1.0" transform="rotate(-22.291339833291435 351.0 529.0)"/><ellipse cx="351.3" cy="529.5" rx="5.4" ry="5.4" fill="#C4C8D2" fill-opacity="1.0" transform="rotate(-28.05564180305616 351.3 529.5)"/><ellipse cx="360.5" cy="513.5" rx="4.5" ry="13.2" fill="#C4C8D2" fill-opacity="1.0" transform="rotate(-11.584472381739912 360.5 513.5)"/><ellipse cx="361.9" cy="518.1" rx="3.4" ry="9.8" fill="#C4C8D2" fill-opacity="1.0" transform="rotate(-30.29315002640483 361.9 518.1)"/><ellipse cx="369.0" cy="516.7" rx="10.0" ry="8.6" fill="#C4C8D2" fill-opacity="1.0" transform="rotate(10.273413137483445 369.0 516.7)"/><ellipse cx="372.1" cy="515.2" rx="7.4" ry="6.4" fill="#C4C8D2" fill-opacity="1.0" transform="rotate(8.890195789880373 372.1 515.2)"/><ellipse cx="375.0" cy="509.5" rx="7.2" ry="8.8" fill="#C4C8D2" fill-opacity="1.0" transform="rotate(-22.84846278429191 375.0 509.5)"/><ellipse cx="374.4" cy="510.5" rx="5.4" ry="6.6" fill="#C4C8D2" fill-opacity="1.0" transform="rotate(7.220723369855541 374.4 510.5)"/><ellipse cx="399.0" cy="516.0" rx="7.5" ry="10.5" fill="#C4C8D2" fill-opacity="1.0" transform="rotate(13.731250050557271 399.0 516.0)"/><ellipse cx="396.9" cy="514.9" rx="5.6" ry="7.8" fill="#C4C8D2" fill-opacity="1.0" transform="rotate(29.122884799068288 396.9 514.9)"/><ellipse cx="392.0" cy="530.0" rx="12.7" ry="6.1" fill="#C4C8D2" fill-opacity="1.0" transform="rotate(4.206991331863545 392.0 530.0)"/><ellipse cx="391.6" cy="529.6" rx="9.4" ry="4.6" fill="#C4C8D2" fill-opacity="1.0" transform="rotate(38.88573285752727 391.6 529.6)"/><ellipse cx="412.5" cy="498.0" rx="8.8" ry="3.9" fill="#C4C8D2" fill-opacity="1.0" transform="rotate(3.721796253956594 412.5 498.0)"/><ellipse cx="409.6" cy="498.7" rx="6.6" ry="3.0" fill="#C4C8D2" fill-opacity="1.0" transform="rotate(-13.70302796327178 409.6 498.7)"/><ellipse cx="303.7" cy="469.3" rx="6.6" ry="9.4" fill="#DDDDDA" fill-opacity="1.0" transform="rotate(-1.849632109248926 303.7 469.3)"/><ellipse cx="303.1" cy="466.8" rx="4.8" ry="6.8" fill="#DDDDDA" fill-opacity="1.0" transform="rotate(29.324947998907305 303.1 466.8)"/><ellipse cx="318.7" cy="462.6" rx="7.4" ry="5.9" fill="#DDDDDA" fill-opacity="1.0" transform="rotate(-24.678247295943834 318.7 462.6)"/><ellipse cx="318.7" cy="464.3" rx="5.4" ry="4.3" fill="#DDDDDA" fill-opacity="1.0" transform="rotate(-33.53482822535992 318.7 464.3)"/><ellipse cx="335.0" cy="466.8" rx="10.7" ry="7.9" fill="#DDDDDA" fill-opacity="1.0" transform="rotate(2.713523408914302 335.0 466.8)"/><ellipse cx="335.9" cy="464.2" rx="7.8" ry="5.8" fill="#DDDDDA" fill-opacity="1.0" transform="rotate(-9.678431648365144 335.9 464.2)"/><ellipse cx="330.3" cy="480.2" rx="8.0" ry="4.0" fill="#DDDDDA" fill-opacity="1.0" transform="rotate(10.174019614687353 330.3 480.2)"/><ellipse cx="330.0" cy="480.8" rx="5.8" ry="2.9" fill="#DDDDDA" fill-opacity="1.0" transform="rotate(-27.427427072269932 330.0 480.8)"/><ellipse cx="352.0" cy="465.0" rx="5.5" ry="7.4" fill="#DDDDDA" fill-opacity="1.0" transform="rotate(-13.099389876673362 352.0 465.0)"/><ellipse cx="350.4" cy="465.0" rx="4.0" ry="5.4" fill="#DDDDDA" fill-opacity="1.0" transform="rotate(33.906382912983645 350.4 465.0)"/><ellipse cx="299.5" cy="481.5" rx="6.1" ry="5.5" fill="#DDDDDA" fill-opacity="1.0" transform="rotate(4.521422856795628 299.5 481.5)"/><ellipse cx="300.7" cy="481.0" rx="4.4" ry="4.0" fill="#DDDDDA" fill-opacity="1.0" transform="rotate(19.687617353954288 300.7 481.0)"/><ellipse cx="306.0" cy="492.3" rx="8.0" ry="4.1" fill="#DDDDDA" fill-opacity="1.0" transform="rotate(-19.916528121026076 306.0 492.3)"/><ellipse cx="304.8" cy="492.8" rx="5.8" ry="3.0" fill="#DDDDDA" fill-opacity="1.0" transform="rotate(18.056508179304387 304.8 492.8)"/><ellipse cx="346.0" cy="487.5" rx="5.5" ry="5.3" fill="#DDDDDA" fill-opacity="1.0" transform="rotate(-3.91223024965225 346.0 487.5)"/><ellipse cx="344.4" cy="486.6" rx="4.0" ry="3.8" fill="#DDDDDA" fill-opacity="1.0" transform="rotate(-23.208789589081462 344.4 486.6)"/><ellipse cx="388.0" cy="463.2" rx="9.9" ry="5.3" fill="#DDDDDA" fill-opacity="1.0" transform="rotate(-10.940779245771559 388.0 463.2)"/><ellipse cx="390.2" cy="462.0" rx="7.2" ry="3.8" fill="#DDDDDA" fill-opacity="1.0" transform="rotate(30.911978486342193 390.2 462.0)"/><ellipse cx="384.0" cy="487.0" rx="5.2" ry="9.9" fill="#DDDDDA" fill-opacity="1.0" transform="rotate(18.96865942000884 384.0 487.0)"/><ellipse cx="382.3" cy="486.1" rx="3.8" ry="7.2" fill="#DDDDDA" fill-opacity="1.0" transform="rotate(-0.663061059032195 382.3 486.1)"/><ellipse cx="405.5" cy="465.2" rx="9.4" ry="7.5" fill="#DDDDDA" fill-opacity="1.0" transform="rotate(-23.825842053915075 405.5 465.2)"/><ellipse cx="405.0" cy="467.4" rx="6.8" ry="5.4" fill="#DDDDDA" fill-opacity="1.0" transform="rotate(-31.036298296444087 405.0 467.4)"/><ellipse cx="360.5" cy="490.0" rx="3.9" ry="6.6" fill="#DDDDDA" fill-opacity="1.0" transform="rotate(4.842282088054201 360.5 490.0)"/><ellipse cx="359.4" cy="490.4" rx="2.8" ry="4.8" fill="#DDDDDA" fill-opacity="1.0" transform="rotate(31.624275953886738 359.4 490.4)"/><ellipse cx="376.0" cy="470.0" rx="5.2" ry="8.8" fill="#DDDDDA" fill-opacity="1.0" transform="rotate(-14.847340311774355 376.0 470.0)"/><ellipse cx="374.2" cy="467.3" rx="3.8" ry="6.4" fill="#DDDDDA" fill-opacity="1.0" transform="rotate(3.1815552220687096 374.2 467.3)"/><ellipse cx="316.0" cy="500.5" rx="11.0" ry="6.1" fill="#DDDDDA" fill-opacity="1.0" transform="rotate(-24.126757867335012 316.0 500.5)"/><ellipse cx="312.7" cy="500.5" rx="8.0" ry="4.4" fill="#DDDDDA" fill-opacity="1.0" transform="rotate(33.67410552392927 312.7 500.5)"/><ellipse cx="300.0" cy="526.0" rx="6.6" ry="9.9" fill="#DDDDDA" fill-opacity="1.0" transform="rotate(-3.9946287614031952 300.0 526.0)"/><ellipse cx="299.5" cy="527.0" rx="4.8" ry="7.2" fill="#DDDDDA" fill-opacity="1.0" transform="rotate(-32.5265761012747 299.5 527.0)"/><ellipse cx="320.5" cy="527.0" rx="8.2" ry="8.8" fill="#DDDDDA" fill-opacity="1.0" transform="rotate(3.990007618575241 320.5 527.0)"/><ellipse cx="318.5" cy="527.7" rx="6.0" ry="6.4" fill="#DDDDDA" fill-opacity="1.0" transform="rotate(36.66607263159756 318.5 527.7)"/><ellipse cx="351.0" cy="529.0" rx="6.6" ry="6.6" fill="#DDDDDA" fill-opacity="1.0" transform="rotate(-22.291339833291435 351.0 529.0)"/><ellipse cx="351.3" cy="529.5" rx="4.8" ry="4.8" fill="#DDDDDA" fill-opacity="1.0" transform="rotate(-28.05564180305616 351.3 529.5)"/><ellipse cx="360.5" cy="513.5" rx="3.9" ry="12.7" fill="#DDDDDA" fill-opacity="1.0" transform="rotate(-11.584472381739912 360.5 513.5)"/><ellipse cx="361.9" cy="518.1" rx="2.8" ry="9.2" fill="#DDDDDA" fill-opacity="1.0" transform="rotate(-30.29315002640483 361.9 518.1)"/><ellipse cx="369.0" cy="516.7" rx="9.4" ry="8.0" fill="#DDDDDA" fill-opacity="1.0" transform="rotate(10.273413137483445 369.0 516.7)"/><ellipse cx="372.1" cy="515.2" rx="6.8" ry="5.8" fill="#DDDDDA" fill-opacity="1.0" transform="rotate(8.890195789880373 372.1 515.2)"/><ellipse cx="375.0" cy="509.5" rx="6.6" ry="8.2" fill="#DDDDDA" fill-opacity="1.0" transform="rotate(-22.84846278429191 375.0 509.5)"/><ellipse cx="374.4" cy="510.5" rx="4.8" ry="6.0" fill="#DDDDDA" fill-opacity="1.0" transform="rotate(7.220723369855541 374.4 510.5)"/><ellipse cx="399.0" cy="516.0" rx="6.9" ry="9.9" fill="#DDDDDA" fill-opacity="1.0" transform="rotate(13.731250050557271 399.0 516.0)"/><ellipse cx="396.9" cy="514.9" rx="5.0" ry="7.2" fill="#DDDDDA" fill-opacity="1.0" transform="rotate(29.122884799068288 396.9 514.9)"/><ellipse cx="392.0" cy="530.0" rx="12.1" ry="5.5" fill="#DDDDDA" fill-opacity="1.0" transform="rotate(4.206991331863545 392.0 530.0)"/><ellipse cx="391.6" cy="529.6" rx="8.8" ry="4.0" fill="#DDDDDA" fill-opacity="1.0" transform="rotate(38.88573285752727 391.6 529.6)"/><ellipse cx="412.5" cy="498.0" rx="8.2" ry="3.3" fill="#DDDDDA" fill-opacity="1.0" transform="rotate(3.721796253956594 412.5 498.0)"/><ellipse cx="409.6" cy="498.7" rx="6.0" ry="2.4" fill="#DDDDDA" fill-opacity="1.0" transform="rotate(-13.70302796327178 409.6 498.7)"/><path transform="translate(294 456) scale(.5)" d="M81 41h0M82 49h0M76 40h0M84 40h0M211 9h0M206 8h0M209 -0h0M207 6h0M195 20h0M192 20h0M197 25h0M189 28h0M178 42h0M187 49h0M186 39h0M186 48h0M241 31h0M238 31h0M243 33h0M239 37h0M133 47h0M132 48h0M135 47h0M141 41h0M183 82h0M191 83h0M185 78h0M183 81h0M30 135h0M29 135h0M32 133h0M39 134h0M108 97h0M109 101h0M109 97h0M106 95h0M109 124h0M108 130h0M111 129h0M114 126h0M99 82h0M101 79h0M93 86h0M98 80h0M174 79h0M176 83h0M169 87h0M170 85h0M195 79h0M191 79h0M195 81h0M195 81h0M146 101h0M149 107h0M155 101h0M145 104h0M179 138h0M179 136h0M173 135h0M179 134h0M125 148h0M130 143h0M134 142h0M132 141h0M204 136h0M203 135h0M207 138h0M208 133h0" stroke="#7A4A2E" stroke-width="3.4" stroke-linecap="round" fill="none" stroke-opacity="0.75"/></g></g>
<g clip-path="url(#cD4)"><g filter="url(#fbD4)"><rect x="33" y="537" width="131" height="84.7" fill="#EACCE6"/><path transform="translate(36 540) scale(.5)" d="M17 3h0m2 2h0m2 2h0m3-2h0m5-2h0m5 3h0m2-4h0m3 5h0m11-3h0m2 1h0m21 1h0m0 0h0m11 1h0m14-5h0m17 5h0m6-6h0m13 0h0m1 5h0m6-3h0m15 1h0m9 3h0m11-3h0m4 1h0m6-5h0m11 5h0m1 2h0m1-5h0m6 5h0m6-5h0m1 0h0m3 2h0m9-4h0m7 7h0m3-5h0m0 1h0m9-1h0m0 2h0m2 1h0m2-3h0m-238 8h0m6-2h0m6 3h0m1-3h0m9 3h0m25 1h0m3 0h0m4 1h0m2 1h0m1-1h0m2-3h0m1 1h0m1 0h0m0 2h0m3-3h0m14 2h0m29-2h0m3-1h0m6 5h0m3 0h0m12-5h0m4-1h0m4 1h0m6 4h0m4-5h0m1 7h0m3-4h0m5-1h0m2 0h0m4 2h0m1-3h0m3 3h0m1-4h0m8 1h0m10 1h0m0 3h0m2-4h0m0 0h0m7 2h0m1-2h0m0 3h0m2 1h0m7 2h0m6-6h0m3 2h0m3 2h0m5 1h0m0 1h0m9-1h0m3-6h0m4 4h0m-225 10h0m8-6h0m17 2h0m0 5h0m5-3h0m0 2h0m5-6h0m5 0h0m3 2h0m26 1h0m19 4h0m13-6h0m1 3h0m5 1h0m16 0h0m6-3h0m3 2h0m3-4h0m6 6h0m8-4h0m3-1h0m12 6h0m2-7h0m0 6h0m1-5h0m1 3h0m2-4h0m0 4h0m1 3h0m2-5h0m10-2h0m8 3h0m2-1h0m2-1h0m0 1h0m1 3h0m0 2h0m3-2h0m5 0h0m2 1h0m1-5h0m7 4h0m10-2h0m2-2h0m-230 9h0m8-2h0m3 7h0m10-4h0m16 3h0m2-5h0m5 0h0m4 5h0m4 0h0m4 1h0m7-3h0m1 3h0m2-6h0m0 5h0m3-1h0m1 1h0m11-4h0m0 4h0m11-2h0m13-4h0m7 7h0m0 0h0m6 0h0m1-6h0m1 6h0m7 0h0m2-6h0m4 3h0m8-3h0m5 4h0m13-1h0m5 1h0m2-4h0m0 1h0m5 0h0m4 3h0m3-5h0m7 0h0m1 4h0m6-3h0m4 0h0m2 6h0m12-5h0m6-1h0m0 4h0m1-5h0m6 0h0m-224 12h0m4-2h0m5 3h0m18-1h0m6 0h0m7 3h0m8-4h0m1 2h0m1-4h0m3-1h0m21 4h0m10-4h0m0 0h0m9 1h0m14 2h0m5 4h0m9-5h0m4 3h0m1-2h0m7 2h0m3-1h0m4-1h0m2 2h0m4-3h0m1 4h0m2-5h0m9 0h0m7 1h0m4 4h0m2-1h0m0 1h0m1-1h0m1 2h0m5-5h0m6 0h0m0 1h0m3 3h0m1-1h0m1-5h0m9 4h0m1 3h0m1-1h0m5-2h0m5-4h0m2 0h0m2 2h0m0 5h0m13-3h0m2-4h0m-235 15h0m20-1h0m7-4h0m16 1h0m8-2h0m13 0h0m1 3h0m18 0h0m19-2h0m5 1h0m2 2h0m8 0h0m4 1h0m3 1h0m4-7h0m21 5h0m1-5h0m1 2h0m9-1h0m4 3h0m1-4h0m1 3h0m1 1h0m0 3h0m1-1h0m22-4h0m1 5h0m2-5h0m0 1h0m6 2h0m2-4h0m0 2h0m13-1h0m2-1h0m2 1h0m0 3h0m1-1h0m1-2h0m0 4h0m2 0h0m-230 5h0m7 1h0m9 2h0m2-2h0m1 2h0m19-1h0m21 0h0m3 0h0m9 1h0m16-2h0m9 3h0m3-5h0m4 4h0m1-2h0m4 3h0m15-3h0m17-3h0m12 0h0m4 3h0m26 1h0m2-4h0m6 2h0m1-2h0m1 3h0m3-3h0m0 0h0m16 1h0m1 4h0m2-4h0m16-1h0m11 5h0m2-4h0m-219 12h0m5-3h0m3 0h0m4-2h0m7 0h0m19 5h0m19 0h0m0 1h0m2-2h0m2-5h0m2 6h0m5-5h0m3 5h0m3 0h0m4 1h0m2-2h0m19-5h0m6 5h0m27 1h0m17 1h0m10-7h0m2 3h0m1-1h0m6 3h0m2 0h0m3-1h0m1 0h0m2 0h0m3-3h0m3 4h0m1-3h0m6 2h0m2 2h0m1-6h0m0 2h0m12 4h0m4-3h0m2 0h0m4 1h0m4 2h0m2-5h0m-247 7h0m14 0h0m3 4h0m21-4h0m8 3h0m3 2h0m11 0h0m3 1h0m13-1h0m4-2h0m7-3h0m8 6h0m5 1h0m7-6h0m10 0h0m7 4h0m4-1h0m11-4h0m1 2h0m2-1h0m2 3h0m3-1h0m2-1h0m1-1h0m7 3h0m3 3h0m2-1h0m1-4h0m19 1h0m2 3h0m14 0h0m12-3h0m1-3h0m3 1h0m8 5h0m10 0h0m1-1h0m14 2h0m-246 4h0m7-3h0m10 6h0m22-6h0m7 5h0m0 2h0m1-5h0m16 3h0m3 2h0m3-4h0m8 2h0m5-1h0m1-3h0m2 5h0m3-3h0m12-1h0m2 5h0m30-6h0m0 4h0m1-4h0m9 6h0m3-6h0m6 5h0m6-5h0m3 4h0m3 0h0m3 0h0m6-2h0m0 3h0m12 0h0m33-4h0m8 2h0m17-2h0m0 5h0m1-5h0m-242 10h0m5 2h0m3-4h0m1-2h0m37 2h0m5 1h0m7-2h0m4 6h0m3-5h0m9-1h0m1 0h0m13 3h0m11-4h0m4 2h0m5-2h0m7 0h0m4 4h0m1 1h0m1-3h0m17 4h0m4-2h0m6-3h0m8 1h0m1-2h0m9 0h0m22 4h0m1-4h0m2 5h0m22-4h0m12 1h0m12-2h0m0 5h0m-238 8h0m5-4h0m0 2h0m0 4h0m4-5h0m4 5h0m7-4h0m13-3h0m2 7h0m5-4h0m27 3h0m9-4h0m11 0h0m9 2h0m3-3h0m2 1h0m1 5h0m8-6h0m2 1h0m30 3h0m7-5h0m2 6h0m4-4h0m4 2h0m3 3h0m3-4h0m16 3h0m21-4h0m4 2h0m7 0h0m9 0h0m3-1h0m1 0h0m4 1h0m2-3h0m13 1h0m-227 8h0m8 1h0m31 3h0m1-4h0m0 5h0m6-2h0m8-4h0m22 6h0m16-3h0m13 2h0m3 0h0m7-3h0m2 4h0m5 0h0m2-7h0m0 6h0m4 0h0m2 1h0m26-2h0m4 0h0m1-5h0m13 4h0m1-3h0m1 0h0m15 4h0m6-2h0m1 3h0m8-4h0m5 4h0m6-5h0m2 4h0m9-2h0m0 1h0m-234 5h0m20 6h0m1-7h0m9 0h0m1 2h0m2 5h0m4-6h0m5 5h0m6-1h0m11-1h0m4 3h0m2-4h0m11-2h0m1-1h0m17 7h0m3-5h0m9 4h0m2 0h0m4-2h0m1-4h0m12 6h0m1 1h0m13 0h0m12-6h0m0 5h0m10 0h0m2-4h0m10 4h0m1-4h0m4-2h0m0 5h0m4 2h0m2-7h0m33 2h0m4 1h0m1-3h0m6 5h0m-226 5h0m7 5h0m12-2h0m9 0h0m8-4h0m6 0h0m11 1h0m5 3h0m3-5h0m17 2h0m5 1h0m3 0h0m1-1h0m13-1h0m2 1h0m3 5h0m14-6h0m20 3h0m4 2h0m17-1h0m23-4h0m5 2h0m3-3h0m1 5h0m7-2h0m5 1h0m15-2h0m8-2h0m-241 8h0m7 2h0m2 1h0m12 4h0m3-6h0m2 4h0m4 2h0m6-3h0m7-3h0m12 0h0m5 6h0m12-4h0m1 3h0m5-3h0m7 3h0m6-3h0m4-2h0m0 5h0m6 1h0m1-1h0m6-2h0m1 0h0m1-2h0m6 5h0m8-7h0m6 5h0m2-5h0m14 2h0m33 3h0m9-5h0m0 3h0m2 0h0m27 2h0m4-4h0m2 6h0m2-2h0m4-2h0m1 4h0m1 0h0m9-3h0m5-4h0m-235 9h0m5 5h0m5-2h0m2 0h0m3 1h0m10 0h0m2-2h0m2 2h0m32-4h0m2 1h0m31 1h0m2 4h0m5-3h0m1 3h0m18-6h0m11 5h0m1-4h0m4 3h0m2-5h0m1 1h0m9 2h0m18 1h0m6-3h0m27 3h0m23 0h0m4 0h0m9-3h0m1 6h0m-245 3h0m10-1h0m6 5h0m9 0h0m2 1h0m35-1h0m8-3h0m1 2h0m8-2h0m7 1h0m1-3h0m6 0h0m2 2h0m2 2h0m2-2h0m7-1h0m3 4h0m20 0h0m11-1h0m8-1h0m1 1h0m1-1h0m12 1h0m6 1h0m1-2h0m14 1h0m11-1h0m1 2h0m1-6h0m0 6h0m5-2h0m21-2h0m2-1h0m4 0h0m14 6h0m4-2h0m1-1h0m-249 4h0m15 2h0m25 3h0m8-3h0m16 3h0m7 2h0m1-5h0m8 0h0m21 2h0m9 1h0m1 0h0m0 1h0m5-6h0m1 0h0m5 4h0m1-3h0m9 5h0m16-6h0m3 5h0m3 1h0m8-5h0m3 2h0m8 1h0m3-2h0m9 0h0m6 1h0m15 1h0m2-1h0m5-3h0m8 1h0m6 4h0m2-2h0m2 2h0m-232 7h0m6 1h0m3-1h0m9-3h0m5 2h0m6 1h0m4-4h0m1 3h0m11-2h0m11 4h0m14 0h0m18 0h0m1 0h0m10-2h0m8-1h0m40 1h0m4 1h0m22-1h0m12-3h0m1 5h0m11-4h0m16 0h0m20 2h0m12-2h0" stroke="#E49ACC" stroke-opacity="0.6" stroke-width="4.8" stroke-linecap="round" fill="none"/><path transform="translate(36 540) scale(.5)" d="M3 1h0m0 5h0m2 0h0m5 0h0m3-2h0m1-2h0m1-1h0m2 1h0m2 1h0m2 4h0m4-2h0m3 1h0m1 1h0m11 0h0m2-2h0m0 1h0m6-4h0m2 2h0m6 3h0m1-5h0m1 1h0m2 0h0m9 1h0m2-1h0m2-1h0m2 4h0m1-4h0m6-2h0m3 7h0m1-2h0m1 1h0m0 1h0m1-1h0m0 0h0m1-3h0m12 2h0m4 0h0m10 0h0m0 1h0m4-3h0m2-1h0m3 2h0m2 3h0m3-5h0m1 3h0m1-2h0m0 2h0m8-1h0m5 0h0m2-2h0m0 4h0m8-2h0m6-2h0m15 2h0m1 2h0m2-1h0m2 2h0m3-5h0m2 0h0m1 0h0m7-2h0m6 5h0m7-1h0m1 3h0m2-5h0m0 1h0m5-1h0m1 3h0m1 1h0m6-3h0m3-2h0m9-1h0m1 3h0m6 3h0m6 1h0m-242 4h0m15-1h0m0 2h0m1 0h0m1 1h0m2-3h0m1-1h0m10 1h0m4-2h0m1 2h0m9 3h0m1-5h0m4 6h0m9 1h0m20-7h0m0 6h0m2-4h0m1-2h0m1 3h0m2 4h0m1-5h0m4 0h0m9-2h0m6 4h0m2-2h0m7 3h0m1-4h0m2 6h0m1-4h0m2 0h0m5-1h0m7 1h0m3-3h0m0 2h0m0 3h0m2-4h0m1 4h0m4-1h0m1-2h0m0 1h0m1 1h0m2 0h0m1-3h0m1-1h0m0 0h0m2 7h0m1-5h0m2-2h0m0 5h0m2-1h0m4-1h0m5-2h0m5 1h0m0 2h0m3-3h0m0 1h0m1-2h0m3 2h0m2-1h0m6 5h0m1 1h0m4-2h0m4-5h0m1 4h0m2 3h0m1-6h0m3 5h0m5-5h0m1 3h0m18-3h0m4 5h0m4-6h0m1 2h0m8 3h0m1 1h0m-243 6h0m5-2h0m5 2h0m4 2h0m0 1h0m2-1h0m6 1h0m1-7h0m3 6h0m5-3h0m2 0h0m3 4h0m3 0h0m7-1h0m7-5h0m0 3h0m4 3h0m2 0h0m1-5h0m3 3h0m1-3h0m4-2h0m3 1h0m8 4h0m11-5h0m3 2h0m2-1h0m0 1h0m0 2h0m1 1h0m1-5h0m0 4h0m2 1h0m0 0h0m1 0h0m0 1h0m5-2h0m4-4h0m3 6h0m1-2h0m1 3h0m3 0h0m2-4h0m1 3h0m8 0h0m0 0h0m3-3h0m2 0h0m1 3h0m4-1h0m3 2h0m2-4h0m6 3h0m4-3h0m0 3h0m1-1h0m8-4h0m9 3h0m2 3h0m2-4h0m0 4h0m2-7h0m0 7h0m4-5h0m1 5h0m2-1h0m1-6h0m4 7h0m1-1h0m1-1h0m6 0h0m1-3h0m5 0h0m1-2h0m4 4h0m3-2h0m4-2h0m1 4h0m10-3h0m8 3h0m3-2h0m0 2h0m1 3h0m8-3h0m-245 7h0m6 2h0m1-1h0m0 2h0m0 1h0m6-4h0m2 2h0m0 2h0m1-4h0m4 2h0m8 2h0m2-6h0m5-1h0m2 0h0m1 7h0m2-2h0m9-5h0m0 1h0m0 4h0m4-3h0m3 2h0m3 3h0m1-2h0m1 0h0m3-3h0m8 2h0m9-4h0m1 3h0m0 2h0m0 1h0m5 0h0m1-4h0m0 1h0m2-2h0m0 5h0m6-5h0m2 0h0m2 0h0m2 3h0m3 2h0m2-1h0m0 1h0m6-3h0m10-2h0m3 0h0m0 5h0m11-4h0m3-1h0m2 4h0m0 2h0m2-3h0m1-3h0m0 1h0m0 5h0m2-2h0m2 1h0m1-3h0m1 1h0m6 3h0m1-3h0m3 0h0m2-1h0m6-2h0m0 3h0m4 2h0m11-3h0m0 0h0m4 2h0m7 1h0m4-6h0m2 2h0m9-1h0m2 2h0m2-3h0m1 5h0m4-2h0m1 4h0m2-6h0m2 5h0m3-1h0m0 2h0m2-5h0m1 2h0m0 1h0m8-3h0m6 3h0m1 1h0m-248 5h0m0 4h0m8-1h0m0 1h0m2-3h0m7 2h0m1 0h0m1 1h0m1-6h0m5 5h0m6 1h0m1-7h0m3 2h0m3-1h0m1 3h0m0 3h0m2-2h0m3-5h0m0 6h0m1 1h0m1-2h0m8-2h0m2 4h0m3-6h0m0 0h0m2 1h0m4 1h0m7-2h0m2 1h0m5 5h0m9-3h0m4-4h0m9 4h0m1 1h0m8-5h0m0 3h0m5 0h0m3 1h0m1-1h0m1-1h0m1-2h0m3 0h0m4 7h0m2-3h0m3 1h0m1-4h0m2 2h0m0 3h0m10 0h0m7-2h0m4 2h0m1-1h0m1 0h0m2-2h0m2 4h0m3-1h0m1-3h0m15 0h0m3 1h0m1 2h0m4-3h0m0 1h0m21-1h0m1 4h0m1 0h0m5-6h0m0 3h0m1-3h0m0 1h0m7 5h0m6-7h0m-233 15h0m1-7h0m0 3h0m5 4h0m2 0h0m1-5h0m3 2h0m2-1h0m1-2h0m3-1h0m2 7h0m3-1h0m1-6h0m4 6h0m5-5h0m3 4h0m1-3h0m3 3h0m3 0h0m2-5h0m8 5h0m1 0h0m3-3h0m6-2h0m9 7h0m1-5h0m8 1h0m0 3h0m4-1h0m2-2h0m1 0h0m4 4h0m9-7h0m1 1h0m1 2h0m2 3h0m3-1h0m3-3h0m4-2h0m1 3h0m4-1h0m1 3h0m2 1h0m4-6h0m10 0h0m1 0h0m0 6h0m7-6h0m2 6h0m2-4h0m2-2h0m3 5h0m1 1h0m1-5h0m0 0h0m1 0h0m2 2h0m10 1h0m8 2h0m5 1h0m8-2h0m1 1h0m3-5h0m2 2h0m0 4h0m15-3h0m3-4h0m1 4h0m7-3h0m4 3h0m6 1h0m2-5h0m10 5h0m-243 5h0m8 2h0m0 2h0m4-1h0m2 2h0m1-4h0m1-2h0m2 4h0m4-2h0m3-3h0m3 6h0m2 0h0m4-4h0m4 0h0m0 1h0m1 3h0m3-4h0m1 4h0m3-2h0m3-1h0m3-2h0m1 6h0m1-5h0m2 2h0m1-3h0m0 2h0m1 1h0m4-3h0m2 2h0m0 0h0m0 3h0m4-5h0m1 2h0m0 4h0m2-5h0m1 0h0m2 1h0m11-3h0m2 5h0m1-5h0m4 2h0m2-1h0m1 4h0m13-3h0m2-1h0m0 4h0m3 0h0m0 2h0m3-4h0m11-3h0m1 6h0m14-1h0m1-1h0m2-4h0m2 6h0m1-6h0m3 2h0m2 3h0m6 1h0m2-3h0m4 0h0m3-1h0m1 2h0m0 2h0m0 1h0m2-2h0m1 0h0m2 0h0m4-4h0m6 2h0m7 3h0m1-4h0m5-2h0m0 3h0m1 2h0m1-1h0m2 0h0m1 3h0m1-4h0m8-1h0m2-2h0m3 7h0m1-7h0m11 7h0m10-6h0m4 0h0m1 2h0m-242 8h0m2 3h0m10-2h0m1-2h0m8-2h0m3 3h0m2 4h0m9 0h0m1-7h0m3 6h0m0 0h0m0 1h0m5-4h0m0 2h0m7-4h0m0 3h0m1-2h0m1-1h0m6-1h0m10 7h0m1 0h0m1-2h0m1 0h0m2-1h0m4-3h0m0 2h0m0 3h0m4-5h0m12 0h0m0 2h0m2-2h0m0 6h0m11-6h0m2 0h0m0 2h0m4 0h0m1 3h0m5-3h0m0 3h0m0 1h0m1 0h0m1-6h0m0 4h0m5 1h0m2-2h0m1-4h0m5 5h0m0 2h0m0 0h0m1-7h0m5 2h0m4 0h0m0 4h0m2-2h0m4 0h0m5-1h0m2 3h0m2-2h0m0 3h0m1-6h0m1 3h0m1-2h0m0 2h0m1 2h0m9-3h0m2 2h0m3 2h0m2-4h0m3-3h0m5 4h0m10-2h0m3 2h0m6 3h0m17-6h0m2 4h0m5-5h0m1 1h0m9-1h0m-238 12h0m2 1h0m5-2h0m0 0h0m0 0h0m10 0h0m1-3h0m2 7h0m2-7h0m2 7h0m6-6h0m10 0h0m6-1h0m5 1h0m6 3h0m3 3h0m7-6h0m1 3h0m5-2h0m3 3h0m2-4h0m3 6h0m7-5h0m7 3h0m6-4h0m7 1h0m4 1h0m2 2h0m0 0h0m19-5h0m0 1h0m1 4h0m7 1h0m2-1h0m1-2h0m4 1h0m1-3h0m1 4h0m4-4h0m1 6h0m4-7h0m2 4h0m4 3h0m2-3h0m5 2h0m1-6h0m1 1h0m0 5h0m8-2h0m12-3h0m6 4h0m5 0h0m0 1h0m2-4h0m7 4h0m1-6h0m1 4h0m1-2h0m0 5h0m3-5h0m5 4h0m2-5h0m4 0h0m0 3h0m14-2h0m-249 9h0m2-2h0m0 2h0m1 0h0m4-2h0m1 6h0m2-4h0m8-2h0m0 0h0m13 0h0m12 1h0m1-2h0m3 1h0m4 5h0m5-1h0m4-2h0m2-1h0m2 0h0m1-2h0m11 1h0m6 0h0m2 1h0m2-1h0m1 1h0m4 3h0m7-2h0m1-2h0m3 3h0m5-2h0m4 2h0m2 3h0m5-3h0m6 1h0m6-4h0m2 2h0m2 1h0m7 3h0m1-4h0m3-2h0m0 0h0m2 3h0m2-1h0m2 2h0m2-5h0m0 3h0m11-2h0m4 1h0m1 4h0m6 0h0m4-3h0m7 4h0m9-3h0m1-4h0m6 7h0m1-2h0m5 0h0m2 2h0m3-7h0m15 1h0m0 1h0m4 3h0m-229 9h0m2-2h0m1 0h0m2 3h0m1-1h0m0 1h0m1-7h0m4 4h0m1-2h0m6 1h0m6 0h0m1-1h0m1 1h0m1-3h0m2 2h0m1-1h0m0 2h0m15 1h0m2-1h0m9-2h0m9-1h0m13 5h0m1-3h0m5-1h0m4 0h0m1-1h0m0 5h0m4-4h0m4-1h0m0 2h0m0 2h0m3-4h0m0 4h0m4 0h0m3-1h0m0 1h0m0 0h0m1-1h0m0 4h0m5-4h0m1 1h0m0 3h0m2-6h0m7 2h0m3 0h0m3 4h0m5-2h0m21-1h0m0 2h0m24 0h0m1 1h0m1-3h0m3 3h0m4 0h0m5-5h0m2 2h0m6 3h0m1-6h0m0 4h0m2-5h0m0 2h0m18 0h0m1 2h0m1-3h0m1 5h0m6-4h0m3-2h0m6 3h0m5 2h0m-247 4h0m2 0h0m4-1h0m0 4h0m1 0h0m1-1h0m2-1h0m2 0h0m0 2h0m5-1h0m2-2h0m0 3h0m9-2h0m1 1h0m3 4h0m1-6h0m4 2h0m1-2h0m3 0h0m5 1h0m2 3h0m4-3h0m2 2h0m0 3h0m6-3h0m3 2h0m7-3h0m7-3h0m0 1h0m2 0h0m7 0h0m1 1h0m3 0h0m12 1h0m1 3h0m2-6h0m17 0h0m0 4h0m1-3h0m3 1h0m8 0h0m2 1h0m8 3h0m2-5h0m1 6h0m1-6h0m1 2h0m0 2h0m1 1h0m1-6h0m6 6h0m23-5h0m8 2h0m3 2h0m0 2h0m1-3h0m3 1h0m1 1h0m1-2h0m2 1h0m4 0h0m2-3h0m15 0h0m7 2h0m0 3h0m2-4h0m2-2h0m1 6h0m2-2h0m3-5h0m3 2h0m2-1h0m0 3h0m3-4h0m-246 11h0m20-3h0m0 7h0m1-2h0m7-3h0m5 0h0m15-2h0m1 0h0m1 7h0m4-7h0m1 2h0m0 1h0m6 4h0m4-3h0m10-3h0m16 5h0m4 1h0m8 0h0m3-6h0m0 4h0m5-1h0m3-4h0m8 4h0m3-4h0m4 2h0m0 5h0m7-5h0m4 1h0m3 2h0m0 2h0m7-4h0m3 1h0m6-4h0m0 4h0m0 0h0m4 2h0m0 0h0m1-6h0m9 0h0m7 0h0m8 7h0m1-3h0m7 2h0m3-3h0m2 1h0m1-4h0m0 6h0m2 1h0m15-7h0m3 2h0m4-2h0m10 2h0m1 2h0m1-3h0m10 5h0m-244 2h0m9 4h0m4-4h0m9 1h0m10 2h0m1 3h0m3-4h0m3-2h0m0 6h0m2-3h0m0 4h0m5-4h0m5-1h0m3 1h0m3 2h0m8 1h0m12 1h0m2-6h0m2 2h0m0 3h0m6-4h0m3 0h0m12 0h0m8 2h0m9-3h0m0 1h0m5 1h0m2 2h0m7-5h0m3 5h0m1 2h0m1-4h0m10 2h0m2-3h0m6 0h0m2 2h0m3 2h0m3 1h0m4-3h0m9-1h0m3 0h0m7 0h0m8 3h0m3-1h0m14-2h0m6 0h0m4 0h0m1-2h0m1 3h0m4-3h0m2-1h0m0 2h0m1 0h0m5 4h0m0 1h0m5-6h0m2 0h0m1 3h0m-242 9h0m8-4h0m4 0h0m6-1h0m3 5h0m5 0h0m0 0h0m2-3h0m2 0h0m4 0h0m2 0h0m6 5h0m6-6h0m3 0h0m5 0h0m0 6h0m6-1h0m1-5h0m3 1h0m4 2h0m2 3h0m3-4h0m3-3h0m8 1h0m1 0h0m25 0h0m2 5h0m1-6h0m6 2h0m4 1h0m4-1h0m7-1h0m0 2h0m3-3h0m2 6h0m2-5h0m6 3h0m0 2h0m10-6h0m0 4h0m2-2h0m1-1h0m6 5h0m3 1h0m3-6h0m0 3h0m7 2h0m1-3h0m3 3h0m9-5h0m1 3h0m2-2h0m8 3h0m2 2h0m3 0h0m1-3h0m9-3h0m2 4h0m6-1h0m3 1h0m2-5h0m0 2h0m1 4h0m5-5h0m3 1h0m1-2h0m-242 8h0m5 2h0m2 2h0m3 0h0m1-4h0m1 0h0m0 7h0m7-7h0m4 7h0m1-4h0m2 2h0m9-4h0m3 1h0m4 3h0m9-1h0m5-2h0m3-2h0m0 6h0m2-1h0m1 2h0m4-4h0m9 3h0m4-5h0m4-1h0m5 0h0m5 5h0m5-1h0m3-2h0m3 2h0m8-2h0m13 0h0m1 2h0m5-3h0m1 1h0m1 0h0m4 3h0m4-4h0m7 3h0m1-3h0m0 2h0m8 3h0m1-4h0m14-1h0m8 3h0m3-3h0m2 1h0m1-1h0m3 0h0m0 0h0m5 0h0m5 2h0m3 0h0m6-3h0m5 7h0m3 0h0m4-5h0m0 1h0m2 4h0m8-4h0m6 3h0m7-2h0m-234 4h0m5 1h0m0 5h0m1-1h0m8 0h0m2-1h0m4 1h0m5 2h0m3 0h0m4-1h0m1-5h0m0 6h0m1-2h0m1-5h0m1 5h0m7-2h0m1 3h0m6 1h0m2-4h0m5 1h0m5 1h0m3 0h0m1-1h0m3 2h0m0 0h0m9-2h0m3-2h0m5-2h0m2 6h0m0 1h0m2 0h0m4-3h0m2-3h0m11 3h0m1 0h0m5-2h0m5 4h0m3-1h0m12-3h0m0 4h0m2-5h0m5 0h0m10 3h0m1-2h0m3-2h0m6 3h0m0 0h0m3 2h0m1-2h0m4 0h0m1 0h0m1-1h0m0 4h0m5 1h0m3 0h0m1-6h0m2 6h0m11-6h0m10 4h0m1 1h0m11-4h0m9 1h0m2-2h0m1 1h0m1 5h0m5-5h0m0 5h0m-241 1h0m11 3h0m2 2h0m1 0h0m1-2h0m1 4h0m6-2h0m5 0h0m1-2h0m3-3h0m5 5h0m0 1h0m10-4h0m0 1h0m13-1h0m4 1h0m0 2h0m5-3h0m10-2h0m0 6h0m6-4h0m7 3h0m10-3h0m10-1h0m2 2h0m4 0h0m22 2h0m5-3h0m8-2h0m13 0h0m0 0h0m0 3h0m7 4h0m4-3h0m4-2h0m11-2h0m6 5h0m11-1h0m2 2h0m1-4h0m1 5h0m1-2h0m6 1h0m2-6h0m1 7h0m1-2h0m1-3h0m1 4h0m6-1h0m2-2h0m4 0h0m-241 8h0m1-1h0m5-1h0m1 6h0m6-7h0m4 0h0m8 4h0m0 0h0m2 3h0m2 0h0m1 0h0m3-7h0m3 2h0m7-1h0m4 2h0m0 4h0m2 0h0m6-4h0m1 2h0m0 2h0m7-6h0m9 2h0m2 1h0m2-3h0m0 5h0m1-4h0m3-1h0m0 3h0m2-4h0m42 2h0m9-2h0m3 3h0m5 1h0m9-2h0m0 5h0m2-7h0m18 0h0m4 4h0m1-1h0m5 2h0m2-1h0m9-2h0m3 3h0m3-3h0m2 4h0m5-1h0m1 0h0m1-5h0m4 1h0m2 6h0m2-7h0m9 0h0m2 7h0m0 0h0m3-5h0m9-1h0m9 2h0m0 4h0m-242 4h0m0 2h0m3-5h0m2 1h0m0 3h0m5-1h0m11-2h0m1 4h0m0 0h0m3-4h0m0 3h0m16-3h0m1 4h0m4-1h0m19-1h0m2 0h0m1-2h0m2 2h0m0 1h0m4-1h0m1 0h0m2-2h0m8 1h0m5 2h0m11 1h0m9-4h0m0 3h0m1 1h0m12-3h0m16 1h0m2-1h0m2 2h0m7-2h0m15 0h0m3 1h0m1 0h0m0 0h0m2-2h0m19 2h0m10-1h0m7 1h0m6 1h0m5-1h0m3 1h0m8-4h0m1 0h0m9 2h0m1 0h0" stroke="#8A50B8" stroke-opacity="0.8" stroke-width="4.0" stroke-linecap="round" fill="none"/><path transform="translate(36 540) scale(.5)" d="M2 3h0m1-1h0m2 5h0m2 0h0m5-1h0m0 1h0m1 0h0m18-1h0m3-3h0m1 1h0m0 2h0m4-5h0m0 4h0m0 2h0m3-3h0m8-1h0m3-2h0m4 3h0m5-2h0m6 1h0m2 4h0m4 0h0m3-2h0m0 1h0m1-2h0m2-2h0m3-2h0m0 2h0m0 5h0m1-2h0m0 2h0m5-6h0m5 3h0m1-1h0m2 4h0m4-2h0m6 0h0m4 2h0m2-5h0m0 0h0m9 4h0m3-5h0m1 5h0m1 0h0m1 1h0m4-5h0m1 0h0m1-1h0m3 6h0m1-2h0m2 0h0m2 1h0m3-5h0m3 2h0m1 1h0m2 0h0m1 3h0m1-1h0m0 1h0m2-6h0m9 4h0m4-5h0m0 6h0m2-6h0m1 6h0m3 0h0m4-3h0m4 4h0m5 0h0m1 0h0m3-1h0m1-5h0m2 5h0m7-3h0m7 2h0m1-3h0m5 0h0m3 1h0m3 2h0m1-3h0m2-1h0m0 5h0m1-2h0m1-1h0m1-2h0m11 4h0m1-2h0m5 0h0m1 0h0m1 4h0m5-5h0m-249 7h0m2 3h0m10-4h0m9 6h0m3-6h0m0 2h0m7 2h0m9-3h0m3 2h0m3 1h0m13-2h0m0 5h0m2-2h0m1-3h0m1 4h0m1 0h0m2-2h0m1 0h0m4 3h0m5-3h0m0 3h0m2 0h0m15-5h0m2-1h0m2-1h0m4 3h0m0 2h0m2-2h0m1 3h0m4-3h0m13 0h0m1-2h0m4 4h0m6-1h0m1-1h0m0 4h0m2-7h0m1 7h0m4-3h0m1-1h0m2 4h0m6 0h0m2-5h0m2 4h0m3 1h0m1-7h0m1 0h0m0 7h0m10-1h0m3 0h0m0 0h0m2-6h0m1 4h0m3 2h0m1-6h0m0 7h0m1 0h0m2-6h0m4 0h0m2 0h0m1 5h0m2-5h0m0 3h0m5-3h0m0 5h0m1 0h0m0 1h0m1-7h0m2 1h0m2 0h0m3-1h0m0 6h0m6 1h0m3-6h0m1 0h0m0 4h0m0 0h0m5-3h0m5 4h0m1-4h0m4-2h0m0 6h0m1-4h0m2-1h0m1 0h0m1-1h0m5 5h0m-238 5h0m0 3h0m2 0h0m5-5h0m0 0h0m0 7h0m1-2h0m1-2h0m6 0h0m0 4h0m6-1h0m3-3h0m2 2h0m1-4h0m5-1h0m2 1h0m2-1h0m3 5h0m0 1h0m3-2h0m2-2h0m0 1h0m0 3h0m1-1h0m1 1h0m1 0h0m1-2h0m1 0h0m1-2h0m1 2h0m1-2h0m0 3h0m2 0h0m1-1h0m1-2h0m2 1h0m7 1h0m0 1h0m0 2h0m2-1h0m5-1h0m2 0h0m1-2h0m9 2h0m0 1h0m10-5h0m1 6h0m2-3h0m2-2h0m1 2h0m3-2h0m2 2h0m1-2h0m4-2h0m0 5h0m4-3h0m1 1h0m0 3h0m1-4h0m1 4h0m5-3h0m0 2h0m5-2h0m3 1h0m1 3h0m4-3h0m0 1h0m8-2h0m4 3h0m0 1h0m2-5h0m0 3h0m1 2h0m8-1h0m4-1h0m0 2h0m2 0h0m1-1h0m6-1h0m6 0h0m10-5h0m4 2h0m4 4h0m4-6h0m3 1h0m2 6h0m5-2h0m16-3h0m2 5h0m5-6h0m5 0h0m2 4h0m-240 3h0m5 2h0m2 4h0m3-6h0m2 0h0m4 5h0m1-3h0m1 1h0m0 4h0m4-7h0m2 7h0m2-4h0m1 1h0m2-3h0m0 5h0m6 1h0m2-2h0m1 2h0m1-3h0m3-4h0m1 0h0m0 2h0m5 0h0m0 5h0m1-6h0m1 2h0m0 2h0m2-2h0m3-3h0m1 7h0m3-2h0m4-4h0m1 4h0m0 2h0m5-4h0m1 1h0m2 0h0m1-4h0m1 3h0m1 3h0m1-6h0m0 6h0m2-4h0m1-1h0m4 0h0m4 3h0m1 1h0m2-4h0m0 2h0m3-2h0m4 1h0m2 3h0m4-3h0m1-2h0m1 2h0m0 5h0m5-2h0m2 1h0m4-4h0m0 1h0m3-1h0m2 2h0m1-3h0m2 1h0m2 3h0m2-5h0m6 0h0m0 6h0m1-4h0m5-2h0m0 1h0m0 4h0m0 1h0m1-6h0m2 7h0m1-6h0m4 3h0m8-2h0m9-2h0m4 3h0m5-1h0m0 1h0m5-3h0m4 6h0m1-1h0m5-2h0m0 4h0m1-7h0m2 0h0m4 3h0m1-2h0m0 1h0m6 3h0m4-2h0m16 0h0m1-1h0m0 5h0m3-3h0m4-1h0m3-3h0m5 6h0m4-3h0m1 0h0m1 0h0m1 1h0m2 0h0m-248 7h0m6-2h0m1 1h0m1 0h0m0 0h0m2 5h0m4-4h0m7 4h0m8-7h0m2 6h0m2 0h0m2-1h0m0 2h0m1-1h0m0 0h0m1-5h0m4 1h0m13 5h0m4-1h0m1-1h0m2 1h0m5-1h0m1 1h0m3-1h0m1 0h0m4 2h0m0 0h0m2-1h0m2-2h0m18 1h0m2-4h0m5 0h0m1 6h0m3-4h0m0 4h0m4-1h0m1 0h0m2-2h0m5-1h0m3 3h0m1-4h0m7-1h0m3 0h0m7 4h0m3 1h0m1 1h0m3-7h0m4 2h0m1-2h0m3 4h0m3 3h0m1-4h0m6 0h0m0 0h0m2 2h0m4-2h0m0 3h0m7-6h0m1 3h0m3 3h0m3 0h0m2-1h0m14-1h0m4-4h0m2 2h0m1 5h0m7-4h0m0 4h0m8-4h0m7 3h0m6-3h0m4-3h0m0 4h0m1 1h0m4-5h0m-247 15h0m1-5h0m9-1h0m3 1h0m4 4h0m1-6h0m1 1h0m5 3h0m2-4h0m0 5h0m6 1h0m3-6h0m0 3h0m4 1h0m1 0h0m2-2h0m1 1h0m0 3h0m2-6h0m1 0h0m1 1h0m2 4h0m1-2h0m1-2h0m3-1h0m3 0h0m0 7h0m2-2h0m4 0h0m1 1h0m1-5h0m0 1h0m1-2h0m0 4h0m3 0h0m1-2h0m2-1h0m0 1h0m1 5h0m1 0h0m2-6h0m5 1h0m8 5h0m12-6h0m1 3h0m1 2h0m1-6h0m0 0h0m1 4h0m3-2h0m1 2h0m1 3h0m1-2h0m3-5h0m1 2h0m1 0h0m0 2h0m3 0h0m0 0h0m5 2h0m3-4h0m0 4h0m1 1h0m1-5h0m0 1h0m2 4h0m3-6h0m4 3h0m1-3h0m0 1h0m3-2h0m1 1h0m1-1h0m1 2h0m2-2h0m4 3h0m2 1h0m3 0h0m1 1h0m2-1h0m1 0h0m0 2h0m2-6h0m0 2h0m10 2h0m3 0h0m5 3h0m1-6h0m0 1h0m2-1h0m3 2h0m1 0h0m4-1h0m0 3h0m2 2h0m4-5h0m1 0h0m3 5h0m12-4h0m1 0h0m4-2h0m0 1h0m2 0h0m1-1h0m11 1h0m0 4h0m9-5h0m5 2h0m-243 9h0m0 2h0m3-4h0m0 1h0m0 3h0m4 0h0m3-2h0m9-3h0m1 4h0m1-3h0m6 0h0m3-2h0m8 2h0m0 3h0m1-3h0m0 0h0m2 0h0m1 2h0m1 0h0m2-2h0m4 0h0m6 1h0m1-2h0m2 4h0m3-3h0m1-2h0m5 0h0m0 6h0m4-5h0m2 4h0m1-3h0m0 3h0m1 1h0m2-5h0m0 4h0m5-2h0m0 4h0m1-4h0m0 3h0m2-6h0m7 4h0m4-4h0m3 7h0m1-6h0m0 4h0m13-3h0m2-1h0m6 5h0m1-2h0m2-2h0m0 4h0m2-5h0m0 4h0m2-1h0m5 1h0m4-2h0m2 4h0m1-7h0m4 2h0m1 0h0m5 2h0m0 3h0m6-7h0m0 1h0m0 5h0m9-5h0m6 3h0m4 1h0m7-5h0m4 0h0m7 2h0m2 1h0m4-1h0m8-2h0m0 4h0m0 1h0m1-2h0m3-1h0m12 1h0m0 3h0m9-1h0m2-5h0m7 4h0m5 2h0m1-2h0m-249 10h0m6-4h0m0 1h0m0 1h0m4 0h0m0 3h0m1-2h0m1-3h0m2 2h0m0 3h0m3-4h0m6 1h0m5-2h0m2 0h0m11 2h0m4-1h0m3-2h0m3 0h0m8 2h0m2 1h0m3-1h0m0 3h0m3-3h0m2-1h0m1-1h0m0 1h0m0 1h0m1 3h0m1-6h0m2 3h0m1 0h0m5-3h0m0 7h0m3-7h0m2 2h0m2 4h0m1-6h0m6 4h0m1 3h0m5-5h0m5 2h0m1 0h0m1 3h0m3-5h0m0 5h0m2-7h0m0 2h0m2-1h0m4 4h0m6-5h0m3 1h0m0 2h0m2 2h0m3-4h0m8 1h0m1 3h0m1 2h0m1-5h0m1-1h0m1 5h0m2-4h0m4-2h0m4 2h0m5-1h0m8 6h0m7 0h0m2-3h0m1-4h0m0 4h0m2-3h0m4 4h0m1-4h0m0 6h0m1-3h0m1-2h0m2 5h0m7-5h0m6 1h0m2-1h0m4 1h0m1-1h0m3 2h0m12-2h0m2 1h0m4 3h0m5-2h0m3 2h0m1-1h0m3 0h0m6-1h0m-249 6h0m0 2h0m6 2h0m1-2h0m2-4h0m1 0h0m1 6h0m0 1h0m6-2h0m8-5h0m3 3h0m8 2h0m5 2h0m1-5h0m0 2h0m1-1h0m1 1h0m2-4h0m2 5h0m2-1h0m1-3h0m2 3h0m1-2h0m0 1h0m11 4h0m2-7h0m0 2h0m4-2h0m5 1h0m1 0h0m7 5h0m8-5h0m11-1h0m1 7h0m1-7h0m1 1h0m20 1h0m0 5h0m5-5h0m1-2h0m7 2h0m1-1h0m8 4h0m1-2h0m1 3h0m2-6h0m0 2h0m5 5h0m4-2h0m6 2h0m3-2h0m10 2h0m2-6h0m0 3h0m1-3h0m6 0h0m4 4h0m0 2h0m5-5h0m0 2h0m0 2h0m5-5h0m12 5h0m9-1h0m1 1h0m1-2h0m7-3h0m0 5h0m1-1h0m2-5h0m0 6h0m1 1h0m2-7h0m5 5h0m1 0h0m1-3h0m0 2h0m2 1h0m2-3h0m-247 13h0m2-6h0m4 5h0m2-2h0m5-3h0m6-1h0m0 3h0m3-3h0m1 4h0m2-4h0m9 1h0m0 6h0m3-4h0m2 1h0m3 3h0m5-4h0m1-1h0m0 4h0m1 1h0m1-4h0m2-2h0m1 6h0m2-5h0m0 5h0m4-5h0m0 5h0m8-6h0m0 3h0m3 1h0m2 0h0m3-1h0m2-1h0m2-1h0m2 2h0m3 1h0m2 2h0m1 0h0m1-6h0m0 5h0m2 0h0m2-2h0m2-3h0m4 0h0m0 6h0m4-6h0m0 1h0m3 2h0m6-2h0m0 0h0m3 1h0m4 2h0m1-5h0m1 3h0m6-3h0m12 7h0m2-6h0m0 2h0m3 2h0m2-3h0m1-2h0m4 3h0m9-3h0m0 1h0m5 1h0m5-2h0m7 4h0m1-3h0m0 4h0m4 2h0m2-4h0m7-2h0m1 3h0m1 3h0m1-4h0m1 3h0m12-2h0m5-4h0m3 7h0m1-1h0m2-3h0m2 0h0m4-3h0m2 4h0m0 0h0m1 0h0m0 0h0m1-2h0m8-2h0m3 7h0m2-6h0m-240 13h0m4-2h0m1-3h0m6 5h0m1-1h0m0 2h0m2-2h0m5-2h0m0 3h0m3-6h0m1 0h0m1 0h0m7 4h0m1 1h0m3-5h0m5 7h0m1-5h0m1-2h0m6 4h0m0 0h0m1 0h0m3 0h0m9 2h0m2-6h0m0 4h0m1-4h0m0 2h0m0 4h0m3 1h0m1-2h0m1-4h0m4 2h0m2-1h0m5 5h0m3-7h0m11 0h0m7 2h0m3-1h0m6 6h0m2-2h0m0 0h0m5-2h0m2-3h0m1 2h0m3-2h0m1 5h0m3-4h0m1 5h0m6-5h0m1 1h0m3 0h0m2 0h0m4 1h0m1-3h0m0 2h0m1 4h0m3 1h0m11-3h0m3 3h0m5-7h0m0 5h0m1-1h0m5-1h0m1 3h0m1-3h0m7 0h0m3 4h0m7-3h0m8-3h0m2 4h0m5-4h0m5 5h0m2-3h0m3-2h0m4 6h0m2-2h0m4 0h0m4 1h0m1-4h0m2-2h0m1 5h0m1-1h0m3 0h0m1-4h0m2 7h0m2-2h0m0 1h0m-247 2h0m0 0h0m1 7h0m3-5h0m6 3h0m0 1h0m4-1h0m7-4h0m1 3h0m3-3h0m0 6h0m3-6h0m6 3h0m1 3h0m1-6h0m2 5h0m1 1h0m3-5h0m15 5h0m5-7h0m3 3h0m5-2h0m0 1h0m6 1h0m6-3h0m2 4h0m2-3h0m3-1h0m12 1h0m11 4h0m5-5h0m2 1h0m2 3h0m3 2h0m4-6h0m1 2h0m2 2h0m2 2h0m1-6h0m6 2h0m1 1h0m0 1h0m5-1h0m3 0h0m8-3h0m0 4h0m0 1h0m2-3h0m2 1h0m4-3h0m5 3h0m2 3h0m2-6h0m1 3h0m2-1h0m0 0h0m2 2h0m8-2h0m2 0h0m0 1h0m2-3h0m0 1h0m2 0h0m0 1h0m9 0h0m0 5h0m1-1h0m0 1h0m1 0h0m1-6h0m1 2h0m0 1h0m4 2h0m3-3h0m1-1h0m3 0h0m3-1h0m2 6h0m1-4h0m2-2h0m2 0h0m0 1h0m0 1h0m1-2h0m0 2h0m1 1h0m2-4h0m0 2h0m2 0h0m1-1h0m0 1h0m0 4h0m2-5h0m3 6h0m7-3h0m-246 5h0m2 4h0m3 0h0m2-4h0m4 4h0m7-3h0m5 0h0m1 1h0m2 1h0m1-2h0m0 3h0m3 0h0m13 0h0m1 1h0m1-6h0m0 4h0m17 1h0m1 0h0m3 1h0m0 0h0m10-4h0m0 5h0m1-6h0m6-1h0m1 6h0m1-4h0m4 1h0m4-1h0m2 3h0m4-5h0m0 1h0m3 4h0m2-5h0m0 2h0m0 3h0m1 2h0m1-7h0m1 6h0m2-3h0m3 4h0m2-2h0m2-2h0m6 1h0m1 0h0m7-4h0m8 6h0m1-1h0m0 1h0m1-1h0m6-3h0m1 2h0m0 3h0m3-2h0m4-3h0m1 2h0m0 0h0m3-2h0m4-1h0m6 6h0m6-2h0m2-4h0m3 2h0m1-2h0m5 3h0m9 1h0m1 0h0m4 0h0m15-2h0m1-1h0m2 1h0m0 1h0m6 2h0m1-2h0m8 0h0m3 1h0m2-1h0m5 3h0m3-4h0m-235 5h0m7 2h0m4 5h0m4-7h0m4 7h0m2 0h0m7-7h0m2 6h0m2-6h0m12 6h0m0 1h0m2-5h0m0 1h0m3-2h0m2 2h0m2 2h0m7-1h0m8-4h0m1 2h0m5 1h0m3 0h0m6 2h0m4 0h0m1-3h0m1-1h0m3 5h0m7-6h0m10 4h0m2-2h0m2-1h0m1 3h0m0 2h0m4 1h0m9 0h0m1-7h0m1 1h0m1 1h0m0 2h0m3-1h0m6-3h0m1 0h0m3 3h0m4 0h0m1 2h0m2-5h0m2 0h0m1 4h0m0 2h0m5-4h0m3 3h0m4-4h0m4 2h0m9 0h0m2-3h0m6 5h0m5-3h0m1 2h0m3 0h0m2 3h0m1-5h0m3 2h0m1-3h0m11 4h0m3-3h0m1 3h0m4-3h0m4 2h0m5-1h0m5-3h0m-239 15h0m2-7h0m2 2h0m6-2h0m0 3h0m0 4h0m3-2h0m3-2h0m2 4h0m3-3h0m2 0h0m0 1h0m1 2h0m3-4h0m3-3h0m2 2h0m8-2h0m0 1h0m3 1h0m3 0h0m1 5h0m1-7h0m3 0h0m1 2h0m4 0h0m4 4h0m6-3h0m1-2h0m1 1h0m0 3h0m1-3h0m1 0h0m3 1h0m6-1h0m0 4h0m5 1h0m4-3h0m0 0h0m2-1h0m0 4h0m1-5h0m0 1h0m7-1h0m2 2h0m5-4h0m7 7h0m3-6h0m2 5h0m3 1h0m3-5h0m2 3h0m3 1h0m2 0h0m10-2h0m2-2h0m1 5h0m1-5h0m6 2h0m1-1h0m1 0h0m1 2h0m21 0h0m2 0h0m3-4h0m2 4h0m3-5h0m0 0h0m3 5h0m3-3h0m1 1h0m4-3h0m0 5h0m4-2h0m2 3h0m3-2h0m2-2h0m0 1h0m1 4h0m0 0h0m3-2h0m0 2h0m4-6h0m5 4h0m7-1h0m4 0h0m4-1h0m0 3h0m3-2h0m-244 11h0m1-7h0m2 1h0m1 5h0m4-6h0m0 5h0m1-2h0m0 1h0m6-3h0m2 1h0m1 5h0m5-7h0m2 7h0m16-3h0m3-3h0m1 2h0m0 1h0m0 1h0m1 1h0m2-3h0m4-3h0m1 0h0m4 5h0m0 0h0m1-5h0m5 3h0m0 2h0m3-1h0m10-4h0m4 7h0m2-4h0m2 3h0m10-1h0m2-1h0m1-2h0m0 4h0m0 0h0m18 0h0m3-3h0m1 2h0m2 0h0m1 1h0m2-6h0m3 6h0m1 1h0m6-6h0m9 1h0m0 1h0m8 0h0m3 2h0m0 0h0m1-2h0m4-2h0m1-1h0m0 5h0m2-2h0m1-2h0m3 6h0m1-5h0m3 1h0m3 0h0m3-3h0m15 6h0m10 1h0m4-7h0m1 6h0m4 0h0m9-1h0m6-3h0m1-1h0m1 0h0m6 5h0m1-5h0m0 1h0m1 5h0m1-7h0m6 7h0m4-2h0m-243 3h0m0 1h0m0 3h0m7 1h0m6-1h0m1 2h0m2-4h0m2 5h0m2-5h0m1-1h0m1 3h0m3-4h0m0 6h0m10-1h0m2 0h0m2 0h0m2-4h0m6 6h0m3 0h0m7-1h0m8-5h0m2 1h0m3-1h0m1 4h0m3-2h0m2 1h0m3-4h0m2 3h0m3 1h0m3 1h0m3-2h0m0 4h0m4-2h0m3 0h0m6-4h0m5-1h0m2 4h0m5 1h0m1-3h0m14 0h0m2 5h0m1-2h0m6-3h0m1-1h0m0 6h0m7-2h0m4-3h0m1 4h0m1 1h0m2-5h0m0 5h0m3-4h0m4 0h0m0 1h0m8 0h0m5-4h0m1 4h0m1-2h0m1 0h0m2 2h0m2 3h0m7 0h0m1-2h0m2-5h0m2 1h0m4 0h0m1 1h0m4 4h0m5-3h0m1 4h0m13-4h0m3-2h0m0 5h0m1-6h0m2 6h0m3 1h0m0 0h0m1-7h0m0 7h0m2-3h0m7-3h0m-237 11h0m1 0h0m6-4h0m4 2h0m5-2h0m0 7h0m5-7h0m7 3h0m4-2h0m0 2h0m7-1h0m4-2h0m11 0h0m2 7h0m1-4h0m3-2h0m4 4h0m10-5h0m1 3h0m1 3h0m7-3h0m3 4h0m1-2h0m1-1h0m5-1h0m1 4h0m3-6h0m0 2h0m4 3h0m1-4h0m1 2h0m7-4h0m14 0h0m3 7h0m2-5h0m1 4h0m2-2h0m1 1h0m1-1h0m2-4h0m1 0h0m3 4h0m1-2h0m1 4h0m6 1h0m2-2h0m5-3h0m1-1h0m2 6h0m3-5h0m1-2h0m0 3h0m1-3h0m5 1h0m3 3h0m1 3h0m1-1h0m10-5h0m0 1h0m6 3h0m1 1h0m3-6h0m1 4h0m0 3h0m2-7h0m1 6h0m1-5h0m6 2h0m3-2h0m1 4h0m5-3h0m1 0h0m5 2h0m2-2h0m1 1h0m4-2h0m4 1h0m2 5h0m1-2h0m5-2h0m1-1h0m0 4h0m-243 5h0m1 0h0m2-3h0m3 0h0m1 0h0m2 4h0m8-2h0m0 1h0m1 3h0m0 0h0m3-2h0m4 1h0m1 0h0m7-3h0m2 5h0m2-7h0m1 2h0m7 4h0m3-6h0m5 1h0m2 4h0m1-5h0m0 1h0m0 6h0m2-6h0m2 1h0m3-1h0m3 1h0m1-1h0m4 6h0m20-2h0m9 2h0m2-1h0m4-1h0m4 0h0m7 1h0m3-2h0m1 2h0m5-5h0m2 0h0m0 1h0m1 2h0m1-2h0m3-1h0m1 4h0m0 1h0m6-1h0m1-4h0m0 2h0m7 0h0m1 0h0m8 3h0m12-4h0m0 3h0m3 2h0m3-2h0m2-2h0m1-1h0m1 5h0m3-6h0m1 2h0m5-1h0m2-2h0m0 0h0m2 0h0m2 1h0m10-1h0m2 3h0m3 2h0m0 1h0m7-2h0m1-3h0m1-1h0m3 0h0m1 7h0m6-3h0m0 3h0m2 0h0m1-1h0m1-4h0m1 3h0m1-3h0m8 0h0m1 3h0m-245 3h0m1 3h0m9 0h0m6-2h0m3 0h0m0 4h0m6 0h0m4-3h0m2-2h0m1 2h0m1 2h0m3-4h0m0 2h0m4 1h0m4-2h0m0 4h0m16-5h0m3 5h0m11 0h0m3-1h0m3 0h0m1-3h0m0 4h0m1-5h0m0 3h0m3 1h0m1 0h0m2 0h0m2-2h0m6 2h0m1 0h0m9-4h0m20 1h0m2 0h0m4 1h0m1 3h0m1-1h0m11-2h0m4 1h0m2-1h0m1 2h0m1 1h0m2-5h0m6 0h0m5 2h0m2 1h0m3 0h0m7 2h0m3-5h0m3 4h0m2-4h0m2 4h0m14 1h0m3-5h0m1 0h0m11 0h0m2 3h0m1 0h0m6-2h0m13 0h0m1 4h0m3-4h0" stroke="#5E2C94" stroke-opacity="0.75" stroke-width="2.8" stroke-linecap="round" fill="none"/><ellipse cx="75.0" cy="536.0" rx="26" ry="11.5" fill="#E8E8EE" fill-opacity="1.0"/><ellipse cx="105.0" cy="575.5" rx="7.5" ry="4.2" fill="#D47CB0" fill-opacity="1.0" transform="rotate(40 105.0 575.5)"/></g></g>
<g clip-path="url(#cD5)"><g filter="url(#fbD5)"><rect x="162" y="537" width="132" height="84.7" fill="#D2CEDC"/><path transform="translate(165 540) scale(.5)" d="M17 4h0m27 3h0m14-4h0m12 2h0m17 0h0m9 2h0m1-3h0m5-3h0m3 5h0m2-5h0m13 6h0m10-5h0m7 4h0m3-5h0m4 5h0m5-1h0m5-4h0m3 3h0m22 2h0m4-5h0m10 4h0m5 2h0m3-5h0m4 1h0m3-1h0m0 3h0m14-5h0m2 2h0m5 2h0m1 0h0m2-1h0m7 1h0m7-2h0m-245 10h0m12 3h0m6-6h0m2-1h0m9 4h0m22-2h0m3 4h0m2-6h0m2 2h0m5 1h0m4-2h0m3-1h0m2 0h0m7 1h0m4 1h0m4 0h0m19 1h0m4 2h0m1-5h0m4 3h0m3-1h0m0 1h0m3-2h0m22 1h0m2 1h0m4-2h0m10 6h0m19-5h0m24 0h0m9 3h0m4-1h0m2 3h0m2-4h0m4-2h0m2 2h0m24-1h0m0 1h0m-239 7h0m3-1h0m5 6h0m8-5h0m9 1h0m27-2h0m2 0h0m19 4h0m32-2h0m1 3h0m1-6h0m9 0h0m1 1h0m2 3h0m2-1h0m5 3h0m6-4h0m6-2h0m10 2h0m19 4h0m4-2h0m0 3h0m2 0h0m8 0h0m8 0h0m5 0h0m9-7h0m25 4h0m11-3h0m-249 14h0m9-4h0m17 3h0m6-4h0m2 0h0m1 5h0m42-6h0m2 0h0m6-1h0m7 7h0m9-5h0m2 4h0m4-6h0m3 4h0m5-1h0m2 0h0m2-3h0m11 4h0m21-4h0m1 2h0m0 5h0m15-4h0m4 4h0m2-7h0m15 2h0m1 0h0m1 3h0m13-2h0m4 1h0m1 1h0m4-3h0m0 4h0m8-6h0m1 3h0m3 0h0m4 1h0m17-2h0m4 1h0m-237 7h0m3 3h0m16-5h0m8 7h0m1-5h0m4-1h0m3 4h0m6-2h0m3 4h0m2-3h0m13 3h0m15-4h0m6-3h0m16 0h0m3 5h0m8-2h0m9-1h0m9 1h0m4 0h0m27 1h0m16-4h0m2 5h0m3-2h0m0 3h0m5-3h0m6 1h0m9 3h0m14-2h0m2-2h0m9 2h0m-226 9h0m5-1h0m4-3h0m7-2h0m9 5h0m2-2h0m13 0h0m1-2h0m0 3h0m1 1h0m6 0h0m6-2h0m5-1h0m15 3h0m13-2h0m17-2h0m12 0h0m1 0h0m3 1h0m10-2h0m2 2h0m4 0h0m5 2h0m20 1h0m4 1h0m15-2h0m9 1h0m0 2h0m3-5h0m3-2h0m11 2h0m6 2h0m4-1h0m3 0h0m8 0h0m7 0h0m0 4h0m-240 7h0m10-4h0m22 0h0m5 4h0m19-1h0m6-4h0m3-1h0m7 1h0m2 2h0m11-2h0m1-1h0m18 7h0m3-4h0m4-3h0m4 7h0m3 0h0m12-1h0m19-1h0m17-4h0m17 5h0m5-1h0m1 1h0m2 0h0m10 0h0m2-6h0m4 0h0m6 1h0m0 3h0m5 0h0m5-3h0m4 2h0m4-2h0m2 3h0m12-4h0m-243 9h0m4 4h0m30-3h0m6 4h0m17-1h0m7-4h0m3 2h0m4 2h0m5 1h0m1-1h0m0 1h0m2-5h0m0 5h0m3-5h0m0 2h0m5 2h0m5-3h0m4-2h0m4 1h0m14-1h0m1 0h0m1 3h0m2-2h0m48-1h0m0 3h0m4 4h0m7-7h0m13 2h0m0 1h0m1-2h0m16 0h0m3 6h0m19-1h0m6-3h0m0 3h0m1-5h0m0 2h0m11 3h0m-246 8h0m20-2h0m19-1h0m7 2h0m4-2h0m5-1h0m0 1h0m7-2h0m9 2h0m9 0h0m3 4h0m15-7h0m4 4h0m8-3h0m5-1h0m1 4h0m1-2h0m2 2h0m10-3h0m5 3h0m1-1h0m16-3h0m10 6h0m6-5h0m1 0h0m5-1h0m6 0h0m4 6h0m1-4h0m7 0h0m9 1h0m5 2h0m24 1h0m2-6h0m7 1h0m-234 12h0m23 2h0m16-4h0m5 4h0m5-3h0m13-4h0m1 2h0m1 1h0m12 0h0m12-3h0m1 0h0m10 2h0m1 4h0m29-4h0m1-1h0m4 4h0m23-1h0m9 0h0m5 2h0m3-4h0m22-2h0m14 6h0m8-6h0m1 1h0m0 3h0m8 0h0m-236 7h0m7 2h0m4-1h0m5-2h0m12 4h0m10-1h0m13-3h0m2 5h0m1 0h0m8-7h0m5 6h0m25-1h0m1-2h0m4-1h0m3 1h0m1 4h0m8-6h0m26 4h0m1 2h0m3-1h0m7-4h0m8 4h0m3-1h0m64 1h0m19-3h0m-236 12h0m12-7h0m7 5h0m1-4h0m4 5h0m2-1h0m20-2h0m22-2h0m7 0h0m1 2h0m7-2h0m1 1h0m1 4h0m32-1h0m16-3h0m31-2h0m5 2h0m3 5h0m1-6h0m7 2h0m3 4h0m45-1h0m2-5h0m6 5h0m2-3h0m7 3h0m1-4h0m-250 7h0m6 1h0m5-1h0m3 1h0m19 1h0m1-2h0m21 5h0m2 0h0m2-1h0m12 0h0m4-4h0m6 1h0m1 3h0m6 2h0m3 0h0m0 0h0m8-7h0m1 7h0m28-6h0m9 0h0m4 3h0m2-3h0m18 2h0m6 0h0m4 4h0m2-4h0m4 2h0m22 1h0m5-3h0m8 2h0m2-4h0m1 6h0m4-7h0m2 0h0m9 5h0m5-1h0m1-4h0m6 3h0m-243 12h0m13-7h0m6 7h0m2-3h0m2 0h0m7-2h0m1 2h0m10 2h0m7-3h0m36 2h0m16-2h0m8 3h0m5-3h0m2 0h0m2 2h0m4-3h0m16 0h0m1 0h0m11-1h0m2 3h0m55-3h0m3 5h0m12-4h0m2 0h0m6 3h0m9 1h0m0 1h0m9-3h0m1-3h0m-236 12h0m0 1h0m14-6h0m18 7h0m11-3h0m3 3h0m2-2h0m12 0h0m2 2h0m3-6h0m22 5h0m4-3h0m8-2h0m5 2h0m2-1h0m6 5h0m10-5h0m1 4h0m4-4h0m7 5h0m7-1h0m13-5h0m24 5h0m3-3h0m5 0h0m3 1h0m20-2h0m20 5h0m2-1h0m4-5h0m2 6h0m-247 7h0m2-5h0m9-1h0m4 1h0m12 4h0m2-1h0m5 2h0m1-6h0m5 3h0m4 1h0m12-2h0m2-1h0m2-1h0m0 4h0m11 3h0m5-5h0m7 2h0m11 0h0m2-1h0m15-1h0m7 5h0m4-4h0m5 2h0m6-3h0m10-2h0m1 6h0m5-2h0m5-3h0m13 0h0m3 2h0m6-3h0m11 7h0m5-2h0m10-5h0m2 6h0m10-5h0m1 5h0m7-2h0m8 1h0m6-2h0m11 4h0m-245 7h0m3-3h0m17 4h0m1 0h0m27-7h0m0 1h0m11-1h0m6 7h0m11-1h0m11 0h0m1-2h0m1-3h0m33 5h0m12-2h0m13-2h0m5 3h0m7-1h0m10 1h0m6-4h0m18 2h0m12 1h0m1 3h0m1-5h0m7-2h0m5 0h0m4 5h0m1-1h0m12-4h0m-215 9h0m16-1h0m4 6h0m1 1h0m8-6h0m7 3h0m5 0h0m2-2h0m1 0h0m1-1h0m17 6h0m9-5h0m16 4h0m3-1h0m1 2h0m7 0h0m8-4h0m2 3h0m7-2h0m16-4h0m7 2h0m20 5h0m9-5h0m1 2h0m6-4h0m6 0h0m3 2h0m9 3h0m9-2h0m18-2h0m2 6h0m-241 5h0m0 0h0m0 3h0m2-2h0m2 2h0m2-1h0m3-2h0m7 1h0m16 0h0m7 0h0m3-3h0m21-2h0m7 2h0m11 3h0m9-3h0m6 3h0m7-1h0m17 3h0m5-6h0m1 4h0m5-1h0m8-1h0m11-1h0m0 1h0m11 1h0m40-2h0m7 4h0m5 1h0m19-5h0m7 4h0m4-2h0m-233 5h0m2 0h0m2-1h0m10 3h0m0 1h0m5-3h0m6 0h0m3 3h0m22-1h0m24 0h0m14-3h0m4 1h0m12 3h0m0 1h0m1 0h0m7-3h0m12 0h0m11 3h0m12 0h0m35-2h0m5-1h0m12-1h0m0 2h0m3-1h0m2-2h0m3 2h0m2 3h0m5 0h0m1-4h0m4-1h0m2 2h0m3 1h0m5-2h0m3 0h0" stroke="#DEB4D4" stroke-opacity="0.5" stroke-width="4.4" stroke-linecap="round" fill="none"/><path transform="translate(165 540) scale(.5)" d="M6 0l1 0m21 2l1 1m5 1l-1 1m8-3l-1 1m40-2l0 1m6-1l0 1m15-1l1 0m12 2l1 1m6 3l0 1m15-6l1 1m27-2l0 1m6 5l0 1m7-7l1 1m16 0l1 1m6-1l-1 1m8-2l0 1m17 3l0 1m4-6l0 1m4 4l-1 1m18 0l-1 1m-245 3l-1 1m27 0l0 1m16-1l1 0m3 3l0 1m5-5l0 1m9 2l1 1m11 1l1 1m11-6l1 1m6 1l-1 1m18-3l-1 0m14 3l0 1m60-5l0 1m32 0l0 1m-160 8l1 0m23 1l1 1m5-4l1 0m9 2l0 1m6-2l-1 1m6-2l1 0m12 5l1 1m45-5l0 1m9-2l1 0m44 2l0 1m9 2l0 1m7-7l0 1m3 4l-1 1m8-2l-1 1m-240 4l1 1m37-1l1 1m7-2l-1 1m8 2l0 1m16-2l1 1m7 1l1 0m6 3l1 0m17-1l-1 1m15-1l0 1m27 0l-1 1m54-5l-1 0m20 1l0 1m-216 6l-1 1m28-2l-1 0m11 4l0 1m5-7l1 1m6 0l0 1m43 4l1 1m2-7l1 0m15 6l-1 1m60-7l1 1m8 0l0 1m23-2l1 1m8 6l1 0m11-5l1 1m6-1l1 0m-233 8l-1 0m8 4l-1 1m26-5l-1 1m47-3l1 1m5 6l1 0m22-6l-1 1m29-2l-1 1m7 2l-1 1m8-2l1 1m4 4l-1 1m16-4l-1 1m7-4l-1 1m9-1l0 1m7-1l1 0m5 4l-1 0m53-2l0 2m-240 8l-1 1m9 1l0 1m17-6l1 0m9-2l-1 1m34 6l1 1m23-1l1 0m29 0l-1 1m32-6l0 1m64 1l1 1m17-4l-1 1m-237 11l-1 1m20-5l-1 1m11 0l-1 1m29-3l1 1m20 0l1 1m17 5l0 1m8-8l0 1m1 6l1 1m10-7l1 0m47 2l0 1m7-1l0 1m11-2l-1 0m7 4l1 1m29 0l1 1m-226 5l1 1m28-5l-1 0m8 2l0 1m10-4l1 1m15 6l0 1m0-8l0 1m8 6l-1 0m10-1l1 0m47 1l1 0m21 0l-1 0m6-7l-1 1m24 6l1 1m15-3l0 1m24-4l1 1m12 4l0 1m18-1l0 1m3-8l-1 1m-240 14l-1 0m12-1l0 1m33-2l-1 0m42-2l0 1m7-3l-1 0m41-1l0 1m42 1l-1 1m15-1l-1 1m9-3l-1 0m15 6l1 0m20 1l1 0m9-1l0 1m-236 5l0 1m31-1l-1 1m15 1l0 1m9-3l-1 0m20-1l-1 1m15-2l-1 1m15 1l0 2m17-2l1 1m23-2l0 1m22-3l1 0m7 1l-1 0m25-2l1 1m21 5l0 1m-216 5l-1 1m14-1l-1 1m11 1l-2 0m9-2l1 0m13 1l1 1m15-2l1 1m9-2l1 0m39-1l0 1m9 0l0 2m8 0l1 0m24 1l1 1m8-6l-1 1m38 3l-1 1m8-3l0 1m8 0l0 1m13 1l1 1m-235 1l1 1m33 3l0 1m80-4l1 0m6 1l-2 0m10 1l0 1m21 2l-1 0m10 1l-1 1m14-5l1 1m7 1l0 1m5-6l-1 1m5 6l1 1m3-6l1 1m30 4l0 1m15-5l-1 0m-244 11l-1 1m14-5l1 1m13-2l1 0m3 6l-1 0m31-7l0 1m3 4l0 1m7-5l0 1m34 2l1 0m19-2l-1 1m13-2l0 1m16 4l-1 1m20-4l-1 1m19 1l1 0m12-4l1 0m9 0l1 0m13 6l0 1m17-3l1 0m-240 6l-1 0m31 2l1 1m8-6l-1 1m20 5l0 1m23-5l-1 0m14 2l0 1m29-4l1 0m9-1l1 1m5 4l-1 1m32-4l0 1m10-1l-1 1m8 4l0 1m7-2l1 1m24-2l-1 1m14-3l1 1m-238 9l0 1m17-4l-1 0m24-1l1 0m20 3l1 0m10 1l1 0m12-2l1 1m8 0l0 2m18 1l0 1m38-8l1 0m26 7l-1 1m7-4l-1 0m8 2l0 1m24-6l-2 0m7 4l1 1m25-4l-1 1m-228 12l-1 0m30 0l-1 1m13-6l0 1m62-3l0 1m11 4l1 1m13-3l1 0m36 3l-1 0m15-4l0 1m8 4l1 1m12-4l0 1m18 2l-1 0m6-6l0 1m-241 11l-1 0m26 1l1 0m18 0l-1 1m11-5l-1 0m9-1l0 1m30 3l0 1m9-2l0 1m11-5l-1 1m11 5l-1 0m44-6l1 0m7 0l1 1m13 5l1 1m17-1l1 0m11-1l1 0m8-2l1 1m-224 9l1 1m5-3l0 1m69 2l-1 1m7-7l1 1m62 3l1 0m61-1l0 1m10 1l-1 0m29-5l0 1m-238 8l1 0m11 0l0 1m5 3l1 0m16-3l-1 0m8 0l-1 1m9-2l-1 1m15 1l1 0m12-1l0 1m39-3l0 1m12 0l0 1m31-1l0 1m34 1l0 1m14 1l1 1" stroke="#5A42A0" stroke-opacity="0.85" stroke-width="4.2" stroke-linecap="round" fill="none"/><path transform="translate(165 540) scale(.5)" d="M14 7l0 1m8-2l0 1m25-2l0 1m13-6l-1 0m7 5l0 1m5-5l0 1m21 2l0 1m6 1l-1 1m11-3l2 0m34-4l-1 1m4 5l1 0m7-3l0 1m31-3l1 0m31 0l0 1m28-1l1 0m-229 11l1 1m18 0l1 1m43-5l-1 1m22 1l-1 0m30 2l-1 0m11-1l-1 1m38-4l-1 1m26-1l1 1m35-2l-1 0m6 0l0 1m1 4l0 1m-245 6l-1 1m9-4l0 1m7 1l-1 1m9 1l1 0m6-3l-1 1m12-1l1 0m28 0l0 1m57 0l-1 1m25 3l-1 1m4-6l0 2m29 3l-1 0m5-7l-1 0m13 2l1 0m7-2l0 1m-206 11l-1 1m15 1l-1 0m12 0l-1 1m9-4l0 1m5 3l-1 1m30-8l-1 1m48-1l-1 0m13 1l0 1m37-2l-1 1m13 0l0 1m61 0l-1 1m16-2l1 1m-241 9l-1 0m13 1l0 1m66 2l0 1m14-3l1 1m11-6l-1 0m41 5l-1 1m12-6l-1 1m31 2l1 1m52-2l-1 1m-233 7l0 1m11-1l1 1m67 2l2 0m8 0l1 0m26-3l-1 0m76 1l0 1m-205 6l-1 1m27-2l1 0m31 0l-2 0m34 5l0 1m23-7l0 2m13-1l1 0m8-1l1 0m2 6l1 1m16-1l-1 1m18-2l0 1m18-4l1 0m17 0l-1 1m-153 5l-1 1m37 5l-1 1m60-6l1 1m13 0l1 0m41 5l-1 1m35-8l0 1m10 0l1 0m-239 12l1 1m36 1l0 2m4-9l-2 0m119 3l-1 1m31-1l1 1m37 3l1 1m-197 2l1 0m4 4l1 1m21-2l0 1m16-4l-1 1m30-2l1 1m18 0l0 1m6 4l1 1m25-7l-1 1m6 4l0 1m-164 8l-1 0m17-2l0 1m29 1l-1 0m12-7l1 1m11 0l0 1m49 1l1 1m20 0l0 1m50 0l0 1m33-4l0 1m20 4l-1 1m-246 6l-1 1m99-3l1 0m8 1l-2 0m50 0l1 0m30 0l-1 1m15-5l1 1m37 0l0 1m-238 11l1 0m22 1l-1 0m13-4l1 1m12-1l1 1m175-2l-1 1m15 1l1 1m-233 3l2 0m34 3l-1 1m11-2l0 1m6 1l1 0m140 3l1 1m22-3l0 1m-222 7l0 1m19-6l1 0m6 3l0 1m29-2l-1 1m18 3l-1 0m7-5l0 1m86 4l1 1m54-4l1 1m-210 11l1 1m20-6l-2 0m7 2l1 0m14 2l1 0m75-4l-1 0m11 5l0 1m21-4l-1 1m50-2l0 2m26-2l-1 1m-228 7l1 1m6 2l-1 1m10-6l-1 1m6 2l-1 0m9-2l1 0m8 1l1 0m35 2l-1 1m8 1l-1 0m13-2l-1 1m9-5l-1 1m19 5l0 1m30-4l0 1m73-3l1 1m-92 12l1 0m6 0l-1 0m9-4l-1 1m12 2l-1 0m18-1l-1 0m54 2l1 1m10-4l-1 0m8-3l-1 0m-200 10l1 1m10-3l0 1m40 4l0 1m13-5l1 0m40 4l0 1m14-6l-1 1m18 2l1 1m10-5l0 1m-193 10l1 0m12 1l-1 1m77-5l-1 1m13 2l0 1m10-2l0 1m16 1l0 1m17 0l0 1m13-3l1 1m22 0l0 1m51-2l1 1" stroke="#7A5CB2" stroke-opacity="0.8" stroke-width="4.2" stroke-linecap="round" fill="none"/><path transform="translate(165 540) scale(.5)" d="M52 0l0 1m67-1l0 1m8 6l-1 1m4-7l-1 1m110-1l0 1m-167 7l1 0m61-1l1 0m13 6l1 1m7-5l1 1m6 1l-1 1m33 0l1 1m34-3l0 1m21 3l0 1m-161 7l1 1m28-8l0 2m21 0l1 1m4 2l1 1m-78 9l1 1m26-5l-1 0m8-1l-2 0m33 1l0 1m5-4l1 1m18-1l0 1m2 6l0 1m31-7l-1 0m22-1l0 2m35 2l1 1m-187 8l1 1m15-4l1 1m7 0l1 1m46 0l-1 1m12-5l-1 1m31 5l0 1m71-4l-1 0m-220 12l1 1m30-2l1 0m17-4l0 1m5 4l0 1m49-7l1 1m37-1l-1 1m58 5l1 0m12-3l0 1m-166 3l-1 1m6 6l1 1m74-7l0 1m34 3l0 1m17-1l0 1m-196 2l-1 1m16 4l-1 0m29-3l-1 1m33 2l1 1m53 0l0 1m13-2l0 1m90-3l1 1m10 2l1 0m-226 9l1 1m47-7l-1 0m16-1l-1 1m9 4l-1 1m72-4l-1 1m27-2l-1 0m-154 11l1 1m115 1l1 0m9-6l1 1m-157 8l-1 1m37 2l1 0m126 1l1 0m-144 7l1 1m31 1l1 0m11-3l1 1m184 1l-1 0m-237 7l-1 1m45-1l0 1m13-2l0 1m16 0l0 1m30 2l1 1m31-5l-1 1m-51 4l0 1m22 6l1 0m29-2l-1 1m35-1l-1 1m59-2l0 1m-129 9l1 1m97-3l-1 0m42 0l-1 1m-200 3l-1 0m8 2l0 1m82-3l0 1m6 3l-1 1m29-3l-1 1m-103 12l-1 0m73 0l1 1m26-7l1 1m43 0l-1 1m38-1l-1 1m-238 9l0 1m8 2l0 1m13-7l-1 0m9 3l-1 0m37 2l0 1m119-7l0 1m18 1l1 0m-197 12l0 1m10-2l1 0m4-3l-1 0m10 1l1 1m13-4l0 1m15 0l-1 1m39 0l-1 1m24 1l1 1m46-1l1 1m24-1l0 1m38-1l1 0m-210 5l1 0m5 4l0 1m28-1l0 1m32-1l1 0m22 0l1 1m55-3l-1 1m21-2l-1 0m14 1l1 1m16-3l-1 1m18 1l0 1m9-2l0 1" stroke="#A890CA" stroke-opacity="0.7" stroke-width="4.2" stroke-linecap="round" fill="none"/></g></g>
<g clip-path="url(#cD6)"><g filter="url(#fbD6)"><rect x="291" y="537" width="131.6" height="84.7" fill="#EBADC2"/><path transform="translate(294 540) scale(.5)" d="M18 2h0m13 5h0m6 0h0m25-5h0m2 1h0m26 3h0m1-1h0m27 0h0m4-2h0m15-2h0m0 3h0m3-2h0m1 4h0m5 1h0m6-4h0m1 3h0m22-5h0m5 4h0m6-2h0m2 3h0m11 0h0m2-2h0m11 3h0m-188 2h0m37 2h0m1-1h0m4 2h0m26 0h0m7-4h0m3 2h0m8-1h0m15 0h0m4 1h0m1-1h0m0 0h0m14 3h0m23-3h0m3-1h0m2 5h0m38-2h0m26-1h0m-205 13h0m1-7h0m48 0h0m3 0h0m3 6h0m10-1h0m5 0h0m8 0h0m14 0h0m2-5h0m1 6h0m4-2h0m3 2h0m11-4h0m12-1h0m2-1h0m2 7h0m8-7h0m0 6h0m-151 9h0m1-4h0m1-3h0m32 3h0m16 4h0m10-6h0m0 0h0m6 4h0m22-1h0m4 1h0m9-4h0m33 6h0m5 0h0m10 0h0m29-2h0m-191 7h0m20 2h0m10-4h0m11 5h0m11-2h0m26-1h0m1-4h0m5 1h0m13 5h0m10-5h0m1 2h0m3-2h0m1 0h0m71-1h0m1 0h0m9 4h0m-194 11h0m23-1h0m41-4h0m12 3h0m5-3h0m20 2h0m10 1h0m9-4h0m38 3h0m31 3h0m46-2h0m-232 5h0m96 1h0m4-1h0m10 1h0m9-1h0m19 2h0m12 2h0m8-6h0m17 6h0m1-3h0m35 4h0m-150 2h0m0 0h0m5 6h0m6-7h0m6 0h0m27 5h0m7 0h0m19 1h0m7 0h0m2-1h0m21-3h0m1 1h0m20-3h0m48 4h0m-234 8h0m46-2h0m3 5h0m4 0h0m18-4h0m56 0h0m62 1h0m-157 10h0m10-4h0m1 0h0m4 4h0m18 1h0m2-1h0m46-1h0m12-1h0m15-4h0m4 4h0m3 2h0m4 1h0m29-3h0m6-1h0m4-1h0m47 1h0m-215 9h0m15-2h0m1-2h0m1 2h0m6 4h0m18-2h0m19-3h0m10 0h0m23 3h0m19-3h0m7 6h0m4-2h0m12-5h0m10 5h0m14-5h0m-177 15h0m143-7h0m2 3h0m0 1h0m2 2h0m5 1h0m1-2h0m18-1h0m5-2h0m35 2h0m24-1h0m-196 6h0m0 2h0m53-3h0m14 4h0m5 1h0m34-4h0m1 1h0m0 4h0m3-5h0m7 6h0m10-7h0m40 0h0m-199 10h0m22-1h0m7 6h0m49 0h0m42-3h0m31 3h0m43-6h0m-204 14h0m2-6h0m13-1h0m5 2h0m9 0h0m1-2h0m3 4h0m81 2h0m2-1h0m5-4h0m5 1h0m8-2h0m1 6h0m6-5h0m10 4h0m18-5h0m1 6h0m22 0h0m22-4h0m-197 12h0m8-1h0m3-2h0m15 0h0m19 1h0m35 3h0m16 0h0m4-2h0m0 2h0m8-6h0m9 0h0m11 0h0m0 2h0m11-1h0m3 4h0m2-5h0m24 5h0m3 1h0m28-6h0m18 6h0m-219 7h0m31-3h0m43-1h0m16 3h0m15-1h0m4 0h0m17-3h0m31 2h0m13 0h0m1 0h0m1 1h0m-151 6h0m3 0h0m8 1h0m6 1h0m19 1h0m34 1h0m11 0h0m1-1h0m5 0h0m6-4h0m0 5h0m15-5h0m24 0h0m12 6h0m5-4h0m23 3h0m15-2h0m-183 10h0m2-5h0m25 5h0m9-5h0m36-1h0m0 0h0m7 6h0m4-3h0m5-2h0m1-1h0m33 5h0m13 1h0m4-3h0m35 3h0m4 0h0m15 0h0m-233 4h0m58 0h0m8-2h0m29 2h0m1 2h0m1-4h0m98 1h0m8 4h0m8 0h0m6-4h0m28-1h0" stroke="#F2D8E4" stroke-opacity="0.55" stroke-width="6.0" stroke-linecap="round" fill="none"/><path transform="translate(294 540) scale(.5)" d="M1 6h0m1-6h0m7 1h0m1 3h0m3 2h0m2 1h0m2-1h0m0 1h0m4 0h0m1-5h0m1 3h0m1 1h0m3 1h0m1-6h0m0 4h0m1-3h0m2 4h0m1 0h0m1-3h0m3-1h0m2 1h0m1 0h0m3-1h0m1-1h0m1 4h0m2-1h0m4 2h0m1-3h0m5-3h0m0 3h0m2 1h0m0 3h0m1-6h0m3 4h0m8-3h0m0 1h0m1 2h0m7-3h0m2 5h0m1-2h0m1-2h0m6-1h0m6 0h0m0 3h0m1-1h0m1 1h0m1-2h0m2 3h0m4-6h0m1 3h0m1-2h0m1 1h0m1-1h0m3 6h0m19-4h0m1 2h0m1 0h0m2 1h0m3 0h0m4-5h0m1 4h0m1-4h0m3 6h0m0 0h0m1-6h0m1 0h0m1 4h0m6-3h0m0 5h0m2 0h0m3-1h0m0 1h0m1-4h0m3-3h0m0 5h0m22 2h0m4 0h0m3-1h0m2-1h0m2-3h0m0 2h0m0 2h0m5-1h0m2 2h0m10-5h0m4-1h0m0 2h0m1-3h0m2 5h0m4-1h0m3 2h0m2-4h0m4 3h0m5 2h0m1-1h0m4 1h0m1-4h0m2-2h0m-246 12h0m1-4h0m3-1h0m0 7h0m2-6h0m0 5h0m1-6h0m0 4h0m3 1h0m6-4h0m1 1h0m4 1h0m0 1h0m2-3h0m7 2h0m0 1h0m4-4h0m0 5h0m1-3h0m3 0h0m0 4h0m2-6h0m1 7h0m2-6h0m1 2h0m1-2h0m2 2h0m3 1h0m1-2h0m1 4h0m3 1h0m4-6h0m3-1h0m1 2h0m1 3h0m2-5h0m1 7h0m4-6h0m1 4h0m4 2h0m4-3h0m2-4h0m2 1h0m0 1h0m2 0h0m1 2h0m1-3h0m2 3h0m5-2h0m0 2h0m2 1h0m1-5h0m0 7h0m6 0h0m1-5h0m1 0h0m0 5h0m2-6h0m2 5h0m5-6h0m0 2h0m1 3h0m2-5h0m1 5h0m2-1h0m0 3h0m2-7h0m1 0h0m3 5h0m3-5h0m1 3h0m1 3h0m5-4h0m5 2h0m0 1h0m0 0h0m0 0h0m4 0h0m1 0h0m2 1h0m3 0h0m2-1h0m3 2h0m1-5h0m0 1h0m3 1h0m1-2h0m1 0h0m1-1h0m2 4h0m0 2h0m1-3h0m1-4h0m0 1h0m1 0h0m2 0h0m2 5h0m3 0h0m2-2h0m0 3h0m3-4h0m3 3h0m1 1h0m1-3h0m5-1h0m2 1h0m0 2h0m2-6h0m2 6h0m22-2h0m1-2h0m0 1h0m0 2h0m7-1h0m0 2h0m1-5h0m0 3h0m4 0h0m0 2h0m1 1h0m0 0h0m1-5h0m1 0h0m1-1h0m2 2h0m1 2h0m4-3h0m2 1h0m0 4h0m1 0h0m1-7h0m1 2h0m2-1h0m-248 11h0m1 1h0m1 2h0m2-2h0m5 0h0m2 0h0m0 2h0m1-2h0m7-1h0m2-3h0m2 0h0m2 6h0m1-5h0m0 3h0m1 0h0m0 1h0m1-2h0m2-3h0m1 0h0m1 2h0m6-2h0m2 4h0m2-3h0m1 2h0m0 1h0m2 1h0m1-3h0m2 4h0m1-2h0m2-3h0m0 2h0m1-1h0m1-3h0m1 3h0m1 2h0m0 1h0m6 0h0m3-6h0m0 0h0m0 2h0m2 3h0m3-5h0m4 2h0m2 2h0m1-1h0m5-1h0m1 4h0m2-4h0m2-2h0m0 2h0m1-2h0m1 7h0m2-6h0m1 5h0m1-5h0m0 0h0m0 0h0m0 2h0m1-1h0m1 3h0m4-2h0m1 0h0m2 2h0m3 1h0m1-2h0m3 1h0m1-2h0m3 1h0m1 1h0m1-2h0m1-2h0m1 3h0m0 3h0m5-3h0m4-3h0m8 3h0m0 2h0m5 0h0m1-3h0m4-1h0m0 3h0m1-5h0m1 1h0m1 2h0m0 4h0m6-2h0m4-3h0m3 0h0m1-2h0m0 6h0m8-4h0m1 5h0m9-7h0m1 1h0m2 1h0m2 3h0m3 2h0m1-7h0m0 7h0m8-5h0m1-1h0m0 4h0m7 1h0m4-3h0m0 1h0m1 2h0m3 0h0m5-6h0m2 5h0m2 1h0m0 1h0m6-6h0m3 0h0m2 0h0m1 2h0m0 4h0m6-1h0m1-1h0m6-1h0m4 1h0m-250 9h0m1-2h0m3-4h0m4 6h0m0 1h0m3-6h0m0 5h0m3 1h0m1-2h0m1-4h0m0 6h0m1-5h0m0 2h0m3-2h0m1 1h0m0 3h0m1 1h0m3-5h0m0 0h0m0 2h0m3-3h0m2 2h0m1-1h0m3 5h0m2-4h0m0 1h0m1 1h0m0 2h0m7-5h0m0 1h0m7-1h0m1 0h0m4-2h0m0 1h0m3 1h0m3-2h0m2 4h0m2 0h0m0 0h0m4-3h0m4 5h0m1-3h0m1-3h0m8 4h0m2-2h0m3 3h0m2-1h0m0 1h0m4-2h0m1 2h0m1-5h0m0 4h0m7-2h0m5-2h0m1 7h0m7-3h0m0 2h0m1-5h0m1 4h0m4 2h0m8-1h0m8-6h0m6 0h0m0 5h0m1-4h0m3 0h0m2 3h0m1-1h0m6 4h0m2-7h0m1 1h0m2-1h0m1 3h0m0 2h0m1-3h0m0 1h0m2 1h0m0 0h0m2-4h0m0 0h0m0 3h0m3-2h0m5 1h0m0 4h0m1-3h0m1 1h0m1 2h0m1-4h0m2 1h0m1-2h0m2 0h0m0 2h0m1-3h0m0 7h0m1-4h0m4-1h0m0 0h0m5 5h0m9 0h0m0 0h0m1-3h0m1-1h0m0 1h0m2-2h0m3 3h0m5-2h0m0 4h0m3-5h0m0 5h0m1-6h0m4 3h0m1-1h0m3 1h0m1 1h0m1-1h0m2 0h0m0 1h0m3-3h0m1 3h0m3 1h0m1-4h0m2 1h0m2 3h0m2-5h0m0 4h0m1 1h0m-247 2h0m0 3h0m3 1h0m0 1h0m3-3h0m1-1h0m0 6h0m3-3h0m3-3h0m2-1h0m2 0h0m1 0h0m2 0h0m1 1h0m4 0h0m4 6h0m2-2h0m0 0h0m1-1h0m2-1h0m2-2h0m2 5h0m3-6h0m7 5h0m7 0h0m3 2h0m5-7h0m0 2h0m0 0h0m1 1h0m2-2h0m1 1h0m1-1h0m1 0h0m5-1h0m1 5h0m4-3h0m1-1h0m5 5h0m3-6h0m3 7h0m1-7h0m4 0h0m1 5h0m3 0h0m1-4h0m0 2h0m0 3h0m1 0h0m3-4h0m1 5h0m6-7h0m4 2h0m0 4h0m3-3h0m0 2h0m1-2h0m3 2h0m0 2h0m2-3h0m4-3h0m1 3h0m2-2h0m1 0h0m10 0h0m0 3h0m0 2h0m3 0h0m5-3h0m1-3h0m4 0h0m0 1h0m1 3h0m3 0h0m1-4h0m2 0h0m1 6h0m3-4h0m2-2h0m0 3h0m1-2h0m2 5h0m1-6h0m0 5h0m2-1h0m1-5h0m4 3h0m1-3h0m1 3h0m0 4h0m1-4h0m4 1h0m1-4h0m2 2h0m0 3h0m2-1h0m3-1h0m3 4h0m2-1h0m4-5h0m2-1h0m4 7h0m1-2h0m0 2h0m3-3h0m4-4h0m0 6h0m1 1h0m8-7h0m0 3h0m1 2h0m1-4h0m4 6h0m1-7h0m1 2h0m1 3h0m2-1h0m0 3h0m1-1h0m5-3h0m0 2h0m1 1h0m-246 3h0m2-1h0m2 0h0m0 5h0m2-5h0m0 5h0m1-2h0m1 3h0m3-6h0m6 5h0m1 1h0m2 1h0m1-2h0m1-1h0m5-4h0m0 6h0m3-5h0m2 1h0m3-1h0m0 3h0m0 1h0m3-2h0m1-3h0m1 7h0m2-1h0m2-2h0m7-2h0m7 0h0m2 1h0m1 1h0m0 3h0m5 0h0m3-7h0m1 1h0m1 3h0m8-3h0m2 1h0m1 2h0m0 2h0m1-5h0m0 1h0m0 4h0m2-4h0m1 2h0m0 3h0m1-2h0m10 0h0m1-3h0m6 3h0m2 0h0m2-5h0m6 2h0m1-1h0m2-1h0m5 6h0m10-6h0m2 7h0m3-7h0m4 7h0m4-6h0m3-1h0m0 1h0m0 4h0m3 1h0m1-2h0m3-4h0m1 4h0m3-1h0m2 1h0m1 1h0m2-4h0m2 1h0m2 3h0m4-3h0m2 4h0m2-2h0m2-2h0m3 1h0m0 2h0m3-3h0m1 1h0m3 1h0m1-4h0m1 6h0m1-2h0m2 3h0m3-1h0m0 1h0m2-7h0m1 2h0m2-2h0m0 3h0m4-1h0m0 1h0m1 3h0m1 0h0m2-2h0m0 0h0m1 2h0m0 1h0m1-1h0m1-5h0m2 2h0m3 3h0m5-4h0m0 1h0m1 1h0m0 2h0m4-5h0m3-1h0m0 5h0m5-4h0m1 6h0m4-3h0m1-4h0m4 0h0m1 3h0m2-2h0m0 6h0m-249 1h0m0 5h0m0 1h0m1-5h0m9 0h0m0 3h0m2 0h0m1-2h0m1 3h0m2-2h0m1 4h0m3-6h0m0 2h0m3-2h0m4 5h0m6 1h0m1-4h0m1 1h0m6 0h0m3-3h0m2 6h0m1-1h0m1-5h0m4 6h0m2-4h0m2 2h0m1 1h0m2-6h0m6 4h0m0 0h0m7-2h0m3-2h0m0 3h0m6-3h0m1 4h0m2 1h0m1-5h0m1 2h0m1 4h0m3-5h0m0 1h0m1 1h0m5-1h0m0 0h0m0 2h0m0 1h0m2-1h0m2-4h0m0 5h0m0 1h0m1-2h0m2-3h0m3 0h0m1 0h0m1 6h0m4-2h0m5-1h0m1 3h0m3-3h0m1-4h0m2 0h0m0 6h0m1-3h0m4 1h0m1 3h0m2-7h0m1 1h0m0 6h0m3-3h0m1 0h0m1-1h0m0 2h0m6-5h0m0 1h0m1 1h0m1-1h0m2-1h0m1 4h0m4 2h0m4-6h0m0 3h0m11 3h0m2 0h0m2-5h0m1 4h0m2 0h0m1-3h0m1-1h0m0 4h0m5 0h0m0 1h0m4-5h0m2 0h0m0 0h0m1 1h0m2 2h0m2 2h0m1-2h0m6-3h0m0 0h0m2-1h0m1 5h0m0 1h0m10-4h0m1 5h0m2 0h0m2-3h0m2-3h0m2 5h0m2 1h0m1-5h0m1 4h0m2 1h0m1-4h0m2 1h0m1 3h0m2-1h0m0 0h0m1-2h0m1 0h0m1 1h0m1 1h0m4-1h0m1 1h0m2-3h0m4-1h0m-250 13h0m1-2h0m2 2h0m2-6h0m4 1h0m1 2h0m0 1h0m2 2h0m0 0h0m1 0h0m5-6h0m0 5h0m5 1h0m1-1h0m3-2h0m1-4h0m0 2h0m1 1h0m3 2h0m0 0h0m1-3h0m4 0h0m2-2h0m0 0h0m2 0h0m2 7h0m4 0h0m1-5h0m0 1h0m0 3h0m2-3h0m4 2h0m5-3h0m0 4h0m3 0h0m2-3h0m1 0h0m1 2h0m2-2h0m0 4h0m2-5h0m2 4h0m1 1h0m3-5h0m3-2h0m1 1h0m1 4h0m1 0h0m0 0h0m1 2h0m1-6h0m0 5h0m3-6h0m3 1h0m1 5h0m6-4h0m2 1h0m3-3h0m0 2h0m1-2h0m5 3h0m4 1h0m6 0h0m1-1h0m2 4h0m7-5h0m2-1h0m1 3h0m5 2h0m1-1h0m1-2h0m4-2h0m1 2h0m1 1h0m2 3h0m3-2h0m1-4h0m2 2h0m1-1h0m3-2h0m3 1h0m2 0h0m2 4h0m1-5h0m0 0h0m0 0h0m1 1h0m4 0h0m1-1h0m0 5h0m0 2h0m2-2h0m1-4h0m4 3h0m4-2h0m3 1h0m0 4h0m1-4h0m0 1h0m2 3h0m3 0h0m2-6h0m1 1h0m2 4h0m1 1h0m4-2h0m1-3h0m1 1h0m4 3h0m3-3h0m4 3h0m1-3h0m0 2h0m7-1h0m1-4h0m1 3h0m2-3h0m1 6h0m1-2h0m0 2h0m3-3h0m0 2h0m2 1h0m1-4h0m0 3h0m0 2h0m3-2h0m2 2h0m1-4h0m2 0h0m1-3h0m0 5h0m1-4h0m3 5h0m4-5h0m1 3h0m-251 9h0m1-5h0m0 6h0m2-3h0m2 0h0m1-2h0m1-1h0m1 0h0m4 2h0m8-1h0m0 1h0m0 5h0m2-6h0m0 5h0m3-6h0m0 2h0m4 1h0m1-3h0m0 3h0m1 0h0m0 1h0m5 2h0m2 0h0m2 1h0m2-6h0m2-1h0m4 1h0m1-1h0m1 1h0m5-1h0m0 2h0m3-2h0m0 1h0m1 0h0m0 3h0m3-4h0m2 2h0m3 2h0m1-2h0m3 5h0m1-6h0m2 2h0m2 1h0m4 1h0m1 1h0m2-3h0m3-1h0m2-2h0m0 6h0m5-1h0m0 1h0m4-5h0m1 2h0m1 1h0m5 1h0m5-3h0m1 2h0m2-3h0m4 6h0m2-7h0m1 6h0m0 1h0m2-4h0m4 3h0m4-3h0m1-2h0m4 6h0m13-1h0m4-4h0m0 0h0m2-2h0m2 1h0m3 4h0m1-5h0m1 3h0m1 2h0m1-2h0m0 3h0m2-6h0m0 6h0m1-1h0m3-3h0m1 0h0m2 2h0m0 2h0m2 0h0m4-3h0m2 1h0m4-2h0m1-2h0m2 5h0m2 2h0m7-5h0m6 3h0m3-2h0m3 2h0m5-1h0m2 3h0m1-6h0m5 5h0m1-5h0m0 5h0m1-4h0m5 2h0m1-2h0m0 4h0m4-6h0m1 1h0m0 4h0m0 1h0m2-6h0m0 6h0m4-3h0m4-3h0m0 1h0m2 6h0m2-2h0m2 1h0m-248 9h0m8-1h0m3-3h0m2-2h0m0 3h0m1-1h0m1 4h0m4-7h0m2 5h0m0 1h0m2-5h0m3 5h0m3-2h0m3-2h0m1 1h0m2 1h0m0 3h0m2-5h0m1-1h0m3 2h0m10-2h0m2 0h0m0 4h0m3-4h0m1 3h0m0 1h0m3 0h0m1-5h0m6 6h0m4-2h0m1 3h0m1-7h0m2 0h0m0 3h0m1 2h0m5-4h0m0 1h0m3-2h0m1 1h0m0 2h0m3 1h0m2-4h0m0 5h0m0 0h0m2-5h0m4 6h0m1-5h0m0 3h0m5 2h0m4-2h0m0 2h0m1-1h0m3 2h0m3-7h0m4 2h0m6 2h0m3-1h0m0 3h0m7-1h0m0 2h0m3-2h0m2-5h0m1 7h0m1-3h0m1 2h0m7 1h0m2-5h0m0 1h0m11 4h0m2-1h0m1-4h0m0 1h0m1 0h0m0 2h0m5-1h0m0 1h0m2-2h0m3 0h0m2-3h0m0 6h0m0 0h0m1-3h0m2 1h0m1-3h0m6 0h0m1 0h0m0 0h0m1 1h0m1-1h0m3 1h0m10 4h0m5-2h0m1-4h0m3 0h0m1 7h0m3-4h0m0 3h0m1-2h0m1-3h0m1 3h0m2-3h0m0 4h0m2-1h0m1-3h0m2 1h0m1 2h0m2 1h0m3-2h0m2-2h0m5 5h0m2-1h0m0 1h0m1-1h0m1-2h0m2-1h0m0 3h0m2 2h0m-244 2h0m3 4h0m1 2h0m1-3h0m0 3h0m4-4h0m6 1h0m1-3h0m3 3h0m1-4h0m2 1h0m0 3h0m3 2h0m3 0h0m2-6h0m0 4h0m1 1h0m3-3h0m3 4h0m2-5h0m1 2h0m5 2h0m2-2h0m2 2h0m1 1h0m1 0h0m1-2h0m0 2h0m1 1h0m0 0h0m1-3h0m8 0h0m7 2h0m2-1h0m1 2h0m2-2h0m0 1h0m3-3h0m0 4h0m1-4h0m1-1h0m0 5h0m1-2h0m1-1h0m0 3h0m1-3h0m3-2h0m0 5h0m1-1h0m1 0h0m1-6h0m3 0h0m4 4h0m1-1h0m2 3h0m4 0h0m2-6h0m2 4h0m0 0h0m1 3h0m1-3h0m1-3h0m3 0h0m0 5h0m1 1h0m1-7h0m1 4h0m1 0h0m6-2h0m1 0h0m5 5h0m1-6h0m1 3h0m7 3h0m1-2h0m1-3h0m2 5h0m5-3h0m1 1h0m0 1h0m4-3h0m0 3h0m3-3h0m1 3h0m1-6h0m0 2h0m1 1h0m2-2h0m1 0h0m3 3h0m0 2h0m8-1h0m2 2h0m2-7h0m1 0h0m1 6h0m4-2h0m1-4h0m0 1h0m1 0h0m0 2h0m3 3h0m3 1h0m1-5h0m2 0h0m1 3h0m4 1h0m4-6h0m6 5h0m1-1h0m0 3h0m0 0h0m1-5h0m0 5h0m7-2h0m2-1h0m4-2h0m3-2h0m0 2h0m2 2h0m1 2h0m1-6h0m7 3h0m5 0h0m2-2h0m-247 10h0m0 4h0m1-5h0m0 3h0m2-2h0m2-2h0m2 0h0m1 6h0m3-5h0m2 2h0m1-2h0m2 3h0m5-3h0m1 3h0m3 1h0m1-1h0m1-2h0m0 2h0m2-4h0m4 0h0m7 6h0m1 0h0m2-2h0m0 2h0m1-3h0m0 1h0m3-1h0m1-4h0m1 3h0m0 3h0m4-6h0m2 0h0m0 4h0m2 3h0m0 0h0m4-7h0m0 6h0m1-4h0m1 4h0m2-4h0m0 0h0m1 3h0m2-5h0m10 0h0m1 0h0m3 3h0m2-2h0m2 5h0m2-6h0m0 3h0m1 0h0m3-2h0m1 6h0m2-5h0m0 5h0m2-6h0m2 0h0m1 0h0m5-1h0m2 3h0m3 1h0m1 3h0m1-2h0m6-5h0m7 4h0m0 0h0m1 1h0m2-3h0m0 2h0m5 2h0m0 1h0m1-2h0m1-1h0m0 1h0m1-2h0m2 1h0m3 3h0m1-6h0m3 3h0m1-3h0m0 4h0m4-5h0m0 7h0m7-5h0m1 1h0m2 3h0m1-5h0m1 2h0m3 2h0m3-5h0m0 6h0m2-6h0m1 4h0m0 1h0m3 2h0m1-2h0m1-4h0m5 0h0m2-1h0m0 6h0m4-4h0m4 3h0m0 2h0m1-5h0m0 1h0m2 1h0m0 2h0m0 1h0m4-1h0m1-2h0m1-3h0m1 3h0m1-4h0m5 4h0m3 1h0m2-3h0m0 0h0m1 4h0m4-1h0m11-4h0m0 6h0m1-1h0m3-3h0m3 4h0m2-4h0m1-3h0m5 0h0m3 4h0m-243 7h0m0 2h0m2-5h0m0 1h0m4 3h0m1 3h0m2-6h0m4-1h0m1 4h0m0 2h0m1-1h0m5 1h0m0 1h0m2-6h0m1 0h0m3 3h0m3 0h0m3 2h0m3-5h0m1 5h0m1-5h0m0 1h0m0 1h0m5-3h0m5 2h0m3 2h0m1-1h0m0 4h0m1-5h0m1 1h0m7 1h0m3 2h0m4-4h0m2 1h0m2-3h0m0 0h0m1 7h0m2 0h0m2-6h0m1 2h0m1-1h0m1-1h0m0 0h0m0 3h0m2 2h0m1-6h0m0 3h0m1 3h0m4 1h0m3-5h0m4-2h0m2 4h0m0 1h0m1-3h0m1 3h0m3-5h0m0 0h0m1 1h0m8 6h0m4-5h0m2 2h0m1 1h0m2-1h0m2 1h0m2 2h0m1-3h0m8 1h0m1 0h0m3 0h0m2-4h0m4 0h0m0 5h0m1-1h0m2-4h0m5 5h0m3-3h0m0 3h0m3-6h0m0 4h0m2-1h0m1-3h0m3 2h0m1 5h0m1-7h0m2 1h0m2-1h0m0 7h0m2 0h0m2-1h0m0 0h0m1-1h0m1-3h0m0 5h0m1-7h0m0 1h0m0 5h0m0 1h0m4-3h0m0 0h0m1-4h0m0 4h0m6-2h0m1 0h0m0 5h0m2-6h0m0 6h0m2-2h0m0 2h0m1-5h0m1 1h0m2 2h0m1-4h0m1 4h0m2-1h0m2 0h0m3 2h0m1-1h0m3-5h0m0 7h0m2-6h0m4 4h0m7-2h0m1 3h0m2-4h0m0 1h0m2-1h0m1 3h0m1-4h0m2 3h0m0 3h0m1 0h0m1-5h0m3-1h0m1 5h0m1-4h0m7 5h0m1-5h0m2-2h0m-248 13h0m2-3h0m0 3h0m1-2h0m4 2h0m3-3h0m0 0h0m1 3h0m7-4h0m3 6h0m3-7h0m1 1h0m4 6h0m4-6h0m0 4h0m0 1h0m1 1h0m3-1h0m8-6h0m1 1h0m1 1h0m1 5h0m1-3h0m2-3h0m2 0h0m1 5h0m2-4h0m1 0h0m1 4h0m1-4h0m4-1h0m0 2h0m2-1h0m3 0h0m0 4h0m3 1h0m4-6h0m0 3h0m2-4h0m0 3h0m1-3h0m3 4h0m2-2h0m1 0h0m0 4h0m6 0h0m2-1h0m4-3h0m3 5h0m3-5h0m1 0h0m4-1h0m2-1h0m0 7h0m1-7h0m0 3h0m0 1h0m3-3h0m2 6h0m10-1h0m1-5h0m0 1h0m0 4h0m1-5h0m1 0h0m0 4h0m2 0h0m1 1h0m2-6h0m0 4h0m3-4h0m1 3h0m5 4h0m3-7h0m0 1h0m0 3h0m3-1h0m1 4h0m4-2h0m4-3h0m0 1h0m1-1h0m0 4h0m7-2h0m1-1h0m8 1h0m2-3h0m1 1h0m6-2h0m0 7h0m4-7h0m2 2h0m0 1h0m5 1h0m1-2h0m2-1h0m1 6h0m4-7h0m0 6h0m7-4h0m1 2h0m0 3h0m1-5h0m0 1h0m2 1h0m3 3h0m1-6h0m3 1h0m3 2h0m1-3h0m3 3h0m1-4h0m0 1h0m0 5h0m4 0h0m1-6h0m0 1h0m1 4h0m1-2h0m1 2h0m1-5h0m1 5h0m1 1h0m4-1h0m3-1h0m3-4h0m0 3h0m-251 8h0m1 0h0m0 0h0m2 1h0m1 1h0m7-4h0m2-1h0m1 5h0m1-4h0m1 2h0m0 3h0m0 0h0m1 0h0m8 0h0m2-6h0m0 4h0m3-4h0m1 0h0m2 1h0m0 3h0m0 1h0m1-4h0m0 4h0m2-3h0m1 4h0m8-3h0m7-2h0m1 5h0m2 1h0m2-4h0m1 1h0m2-1h0m1 3h0m2-3h0m3-2h0m1 0h0m5 1h0m0 2h0m0 0h0m3-4h0m0 6h0m2-6h0m0 3h0m1 0h0m1-1h0m3 3h0m4-3h0m4 2h0m0 3h0m7-1h0m2-5h0m0 0h0m0 1h0m0 1h0m0 4h0m1-4h0m0 4h0m3-1h0m1-6h0m0 4h0m2-4h0m1 4h0m3-1h0m0 3h0m2-4h0m0 3h0m1-5h0m0 1h0m0 1h0m1 5h0m1-1h0m1-6h0m1 0h0m0 7h0m4-1h0m3-6h0m0 4h0m0 2h0m2-3h0m0 4h0m7-6h0m1-1h0m2 1h0m0 0h0m1 2h0m1 1h0m5-3h0m3 3h0m2-2h0m0 1h0m0 0h0m0 3h0m2-3h0m2 0h0m5 3h0m2 0h0m6-1h0m1 0h0m4 2h0m2 0h0m1-5h0m1 0h0m2 5h0m1-5h0m0 1h0m2-1h0m0 0h0m2 3h0m0 1h0m3 1h0m1-3h0m5 3h0m2-6h0m0 2h0m0 4h0m4-6h0m5 6h0m1-2h0m1 2h0m2-1h0m5-2h0m3 1h0m0 1h0m3-4h0m0 1h0m8-2h0m5 5h0m7-3h0m0 1h0m0 2h0m1 0h0m0 1h0m1-7h0m1 3h0m4-1h0m0 5h0m2-7h0m3 5h0m-246 7h0m1 0h0m0 2h0m1-4h0m1 2h0m4-4h0m3 2h0m0 1h0m4-2h0m2 6h0m3-5h0m0 4h0m1-1h0m2-4h0m0 5h0m1 0h0m4-4h0m1-2h0m8 6h0m2-4h0m3-2h0m1 1h0m0 3h0m2-1h0m3-3h0m0 1h0m1 3h0m0 2h0m1-1h0m0 0h0m3-2h0m1 1h0m3 3h0m1-7h0m4 0h0m0 2h0m0 5h0m1 0h0m5-7h0m2 3h0m5-2h0m0 2h0m1 3h0m1 0h0m0 1h0m1-7h0m0 4h0m2 2h0m3-4h0m1 5h0m2 0h0m1-2h0m1 1h0m0 1h0m1-6h0m1 6h0m4-3h0m8-2h0m0 1h0m1 2h0m1 0h0m1 2h0m4-6h0m5 5h0m2-3h0m1-3h0m0 4h0m1 1h0m1-4h0m0 3h0m2-3h0m1 1h0m2 3h0m1-2h0m2-2h0m2 0h0m3-1h0m0 2h0m2-2h0m1 3h0m0 2h0m4 1h0m2-2h0m1 0h0m3-1h0m5 1h0m1-3h0m1 2h0m0 4h0m1-7h0m1 0h0m1 0h0m0 5h0m1-4h0m0 3h0m1 0h0m2-1h0m0 3h0m6-4h0m6 1h0m1 1h0m0 3h0m1-6h0m0 2h0m1-3h0m1 0h0m0 7h0m1-7h0m5 1h0m0 3h0m3 1h0m1-1h0m0 1h0m0 2h0m0 0h0m2-3h0m2-2h0m0 0h0m1 2h0m0 0h0m4-4h0m0 6h0m1-3h0m6 0h0m0 1h0m3 0h0m6-4h0m0 1h0m1-1h0m4 4h0m1 1h0m3 1h0m1 1h0m3-2h0m1-4h0m3 6h0m3-2h0m2-5h0m2 5h0m3 2h0m4-5h0m0 5h0m3-2h0m1 2h0m-245 2h0m0 2h0m5-1h0m4 2h0m7-3h0m0 1h0m1 0h0m1 0h0m0 2h0m0 2h0m3-6h0m1 7h0m3-6h0m2-1h0m3 1h0m3 6h0m1-7h0m0 3h0m8 1h0m0 1h0m2-4h0m0 4h0m1 1h0m3-5h0m1 5h0m0 0h0m0 1h0m1-3h0m4 1h0m4 1h0m9-6h0m0 2h0m0 2h0m2 1h0m1-5h0m5 6h0m2-6h0m2 1h0m3-1h0m3 2h0m1 4h0m1-4h0m1 5h0m2-5h0m2 1h0m1 4h0m4-5h0m1 1h0m4 3h0m2 0h0m1-4h0m4 4h0m4-4h0m1 1h0m4-1h0m2 2h0m1-2h0m4-2h0m4 2h0m2 2h0m0 0h0m1-4h0m3 3h0m0 2h0m1-1h0m2 3h0m8-4h0m1-2h0m2 3h0m2-1h0m7-2h0m2 0h0m0 2h0m0 0h0m1 0h0m2 4h0m1-5h0m6 2h0m0 2h0m1-6h0m1 7h0m7-5h0m0 4h0m1-2h0m1-3h0m0 5h0m1-1h0m1-3h0m1 1h0m3-1h0m1 4h0m9 0h0m2-3h0m0 0h0m1 4h0m1-4h0m2-2h0m1 1h0m4-2h0m1 5h0m4 2h0m2-6h0m8 4h0m2-3h0m4 5h0m3-2h0m7-5h0m3 2h0m0 5h0m-242 5h0m0 1h0m0 2h0m2-7h0m0 2h0m2-2h0m4 5h0m10-5h0m1 3h0m6 2h0m1-4h0m2 1h0m5 4h0m0 1h0m3 0h0m5-6h0m1 2h0m6-1h0m1 4h0m5 0h0m1 0h0m2-6h0m0 2h0m3 0h0m1 5h0m1-4h0m3-3h0m0 1h0m3-1h0m2 2h0m4 4h0m1-4h0m1 4h0m1 1h0m1-1h0m1-2h0m7 3h0m3-4h0m2 0h0m17-2h0m1 5h0m1-6h0m0 3h0m0 1h0m1 0h0m0 1h0m1-4h0m0 2h0m3 4h0m1-2h0m4-3h0m1 3h0m1 0h0m4-3h0m4-1h0m6 2h0m0 1h0m1-2h0m1 5h0m2-2h0m3-2h0m0 3h0m3 0h0m2 0h0m4-5h0m0 2h0m3 1h0m2-1h0m0 1h0m0 1h0m1-4h0m7 2h0m1 1h0m2 3h0m1-5h0m1-2h0m4 5h0m2-1h0m1-2h0m1 4h0m3 1h0m1-6h0m3 1h0m9 1h0m1 0h0m2-1h0m0 2h0m1 3h0m1-4h0m6 2h0m4-5h0m0 0h0m0 1h0m1 3h0m12-4h0m1 7h0m7-1h0m0 0h0m1-5h0m1 1h0m0 1h0m1 1h0m1-4h0m0 2h0m4 1h0m1-2h0m4 6h0m6-7h0m0 3h0m0 1h0m1 2h0m-248 4h0m0 1h0m5 2h0m1-5h0m0 1h0m1 0h0m3-1h0m1 0h0m0 3h0m1-1h0m0 4h0m1-1h0m4-2h0m3-3h0m0 5h0m2 1h0m1-4h0m1 5h0m2-3h0m0 2h0m3-6h0m1 2h0m0 5h0m8-7h0m1 3h0m1 4h0m1-1h0m1-6h0m0 6h0m0 0h0m1-6h0m2 3h0m2 0h0m3 4h0m1-3h0m0 2h0m1-3h0m3-1h0m0 3h0m1 0h0m1-4h0m1 6h0m2-7h0m1 1h0m1 4h0m7-3h0m8 4h0m1-1h0m1-1h0m0 1h0m0 1h0m3 1h0m1-4h0m3 3h0m1-1h0m4-3h0m1-1h0m2 6h0m1-3h0m0 2h0m1-3h0m0 3h0m8-4h0m1 4h0m3-1h0m0 1h0m1-2h0m0 1h0m8-2h0m1 0h0m12 3h0m2 1h0m1-4h0m0 2h0m1-4h0m2 1h0m2 3h0m5-5h0m2 6h0m1-2h0m0 3h0m7-2h0m1-2h0m2 3h0m1-5h0m4 2h0m1 0h0m2 0h0m0 2h0m0 2h0m2 0h0m2-5h0m0 4h0m2 1h0m2-5h0m2 2h0m3 3h0m2-1h0m3-6h0m2 5h0m1-5h0m1 4h0m1 1h0m3-4h0m1 1h0m4-1h0m0 0h0m3-1h0m0 0h0m1 2h0m0 4h0m9-6h0m4 0h0m0 7h0m2-4h0m5 0h0m3 4h0m1-5h0m2 3h0m1-3h0m1 2h0m5-3h0m1 6h0m2-6h0m4 0h0m0 3h0m0 3h0m5-7h0m0 1h0m-246 10h0m0 0h0m2 0h0m2 2h0m3-5h0m0 1h0m2 4h0m3-5h0m3 1h0m3 0h0m1 3h0m10 0h0m4-4h0m1 0h0m1 5h0m3-1h0m1 0h0m3-1h0m4-2h0m2 1h0m3 0h0m2 3h0m3 0h0m2-2h0m4 2h0m7-2h0m4 2h0m1-4h0m0 2h0m9 2h0m6-3h0m6-2h0m1 2h0m1 3h0m1-4h0m6 1h0m1 1h0m1-1h0m2 2h0m1 1h0m1-3h0m4 1h0m3 1h0m1 1h0m5 0h0m1-2h0m5 2h0m1-1h0m3-3h0m0 3h0m0 0h0m2 0h0m2-4h0m1 4h0m1-1h0m2-1h0m2-2h0m6 4h0m4-2h0m1 0h0m11-2h0m3 4h0m1-4h0m0 4h0m1-2h0m4 2h0m4-1h0m5-3h0m3 5h0m5-1h0m2-1h0m0 2h0m2-1h0m7 1h0m2-2h0m0 0h0m5 0h0m1 2h0m1-4h0m2 2h0m0 0h0m1-2h0m4-1h0m2 1h0m2-1h0m7 0h0m2 1h0m0 4h0m3 0h0m3-3h0m0 2h0m1-4h0m0 2h0m7-1h0m1 2h0" stroke="#E090B0" stroke-opacity="0.4" stroke-width="3.2" stroke-linecap="round" fill="none"/><path d="M294.0,540.0 L311.0,540.0 L311.0,552.0 L308.0,562.0 L302.0,570.0 L294.0,574.0Z" fill="#DED6E0" fill-opacity="1.0" filter="url(#bl1)"/><path d="M402.0,540.0 L420.0,540.0 L420.0,548.0Z" fill="#DCD8DC" fill-opacity="1.0" filter="url(#bl1)"/><path d="M394.0,548.0 L420.0,546.0 L420.0,585.0 L399.0,580.0Z" fill="#E48EB0" fill-opacity="0.5" filter="url(#bl2)"/><path transform="translate(294 540) scale(.5)" d="M110-1h0m7-1h0m-89 7h0m7-1h0m0 2h0m2-4h0m1-1h0m0 6h0m2-7h0m4 4h0m57 1h0m0 2h0m5-3h0m6 3h0m1-6h0m-76 13h0m2-1h0m6 1h0m3-5h0m45 1h0m11 3h0m4-1h0m5 3h0m3-6h0m8 4h0m25-3h0m13 3h0m8 2h0m10-2h0m-152 10h0m5-6h0m4 4h0m5-4h0m1 2h0m21 2h0m2 0h0m12-1h0m4 2h0m26-2h0m3-1h0m6 1h0m3-2h0m16 5h0m5 0h0m2-3h0m7 1h0m32-1h0m5-3h0m2 6h0m1-7h0m4 3h0m-164 7h0m7-1h0m1-1h0m1 0h0m7 2h0m13 2h0m6 1h0m8-1h0m4 2h0m3-2h0m6 3h0m34-2h0m1 0h0m3 1h0m4-5h0m3 6h0m2-4h0m3-2h0m4-1h0m4 7h0m0 0h0m0-5h0m6-2h0m2 4h0m0 2h0m4-5h0m5 6h0m4 0h0m0 0h0m1-6h0m1 1h0m0-2h0m2 7h0m3-1h0m1-6h0m2 6h0m2-5h0m9 1h0m3 0h0m3 2h0m2-3h0m1 2h0m5 3h0m-164 7h0m1 1h0m6 0h0m1-2h0m17 1h0m9 2h0m5-6h0m44-1h0m8 2h0m1 3h0m21-5h0m6 1h0m9 1h0m3 4h0m19-5h0m1 1h0m13-2h0m-178 11h0m10 1h0m1 2h0m4 1h0m2 0h0m0-3h0m3 0h0m29 1h0m6-3h0m1-2h0m3 4h0m0 2h0m11 0h0m58-1h0m42-5h0m3 5h0m1 1h0m11-2h0m13 3h0m3 0h0m0-5h0m1 0h0m1 2h0m9-3h0m-206 7h0m6 1h0m3 5h0m1-1h0m1-4h0m2 1h0m1 0h0m4 3h0m37 0h0m3-1h0m10 3h0m1-7h0m2 6h0m50 0h0m2-1h0m8-1h0m4 2h0m3 0h0m24-1h0m5-3h0m5-2h0m1 5h0m5-2h0m7-1h0m3-1h0m0 5h0m5-2h0m4-4h0m4 1h0m19 5h0m-222 3h0m0 0h0m0 5h0m8 1h0m4-4h0m4 2h0m40 2h0m0-1h0m2-3h0m4-3h0m4 1h0m1 6h0m2-3h0m2 0h0m3-2h0m3 2h0m0 2h0m1 0h0m0-3h0m1 2h0m4 0h0m0 2h0m1-1h0m0-1h0m2 0h0m32 0h0m0-4h0m2 4h0m7-5h0m3 5h0m1-3h0m5 2h0m6 1h0m21-1h0m4-4h0m2 4h0m4-3h0m2 3h0m3 3h0m17-7h0m5 7h0m1-7h0m0 3h0m1-2h0m6-1h0m1 6h0m3 1h0m0-4h0m1-3h0m1 1h0m0 0h0m1-1h0m1 5h0m1-4h0m1 4h0m1 1h0m0 1h0m3-6h0m-229 12h0m4-1h0m4-3h0m4 5h0m48-4h0m5 1h0m4 0h0m5-1h0m2 0h0m1 1h0m2-3h0m1 7h0m0-1h0m1-2h0m2-4h0m0 7h0m4-6h0m11 2h0m30-1h0m1 1h0m2 2h0m1-2h0m6 3h0m1 1h0m0-1h0m6-2h0m1-1h0m1 0h0m1-1h0m30 2h0m0-3h0m3-1h0m2 0h0m4 3h0m2 1h0m0-3h0m8 3h0m17 1h0m0 0h0m2-4h0m1 3h0m0-4h0m1 2h0m0-2h0m1 6h0m1-2h0m3-2h0m3 1h0m3 4h0m3 0h0m1-5h0m-226 6h0m2 4h0m61 3h0m3-7h0m4 2h0m1-1h0m2 1h0m2-1h0m2 1h0m3-1h0m47 0h0m3-1h0m6 1h0m25 4h0m7-2h0m0 4h0m6 0h0m1-1h0m7-1h0m2-5h0m5 4h0m1-3h0m21 1h0m3 2h0m3-2h0m5-1h0m-238 9h0m2 1h0m0 1h0m7-3h0m3 0h0m2 2h0m3 1h0m0 2h0m1-6h0m0 7h0m6-4h0m51-2h0m15 1h0m100-1h0m0-1h0m2 6h0m0-5h0m0 2h0m7 2h0m2 0h0m-211 8h0m21-5h0m2 3h0m1 3h0m168-1h0m18 2h0m1-4h0m-209 12h0m0-2h0m5 1h0m4-3h0m0 3h0m3-1h0m17-3h0m37 3h0m5 1h0m79 1h0m45-6h0m7 1h0m-198 9h0m2 4h0m1-1h0m1-1h0m3-2h0m3-3h0m2 7h0m2-1h0m2 1h0m25 0h0m10 0h0m9-6h0m1 4h0m2 1h0m2-6h0m4 6h0m5 0h0m14-3h0m27 4h0m1-3h0m9 2h0m14 1h0m10-1h0m3-4h0m0 3h0m17-1h0m6 3h0m1-5h0m2 0h0m1 2h0m9 0h0m3-3h0m2 1h0m2 0h0m0 1h0m4 0h0m14-1h0m-216 10h0m2-3h0m1 5h0m1-3h0m1 1h0m0-1h0m3 4h0m0-6h0m1 1h0m0 0h0m0-2h0m2 3h0m1 4h0m2-7h0m2 6h0m0-6h0m2 7h0m3-5h0m1 0h0m1 2h0m17 2h0m19 1h0m7-1h0m4 0h0m3-4h0m7 5h0m3-5h0m4 4h0m8-4h0m6 5h0m5-3h0m0 1h0m4 0h0m2 2h0m0-4h0m4 3h0m13-4h0m3 0h0m2 1h0m0 3h0m0 1h0m3-5h0m1-2h0m7 0h0m2 2h0m2-1h0m3 0h0m0 6h0m6-1h0m2-1h0m2-5h0m0 0h0m0 2h0m2-2h0m5 1h0m1 1h0m0 3h0m2-1h0m1 3h0m1-7h0m2 4h0m5-4h0m0 3h0m2 4h0m1-5h0m0 1h0m1-3h0m1 6h0m2 0h0m3-3h0m1 2h0m0-5h0m1 7h0m3-4h0m0 3h0m2 0h0m0 1h0m2-6h0m11 5h0m0-5h0m-212 13h0m2-5h0m9 0h0m3 2h0m2-2h0m1 0h0m1 3h0m4 0h0m0-2h0m0 0h0m1 0h0m1 5h0m1-7h0m1 5h0m1 2h0m0-6h0m4 6h0m6-3h0m2-4h0m1 7h0m3 0h0m5-5h0m8-2h0m0 4h0m16 1h0m0-1h0m1-3h0m3 1h0m22 2h0m5 1h0m0-4h0m2-1h0m2 5h0m1-5h0m13 2h0m1 1h0m2-3h0m9 5h0m1-3h0m5-2h0m1 6h0m22 0h0m1-4h0m2-1h0m0-1h0m1 0h0m3 1h0m2 1h0m7 4h0m7-6h0m2 1h0m1 1h0m5 2h0m1 2h0m1-6h0m9 1h0m1 3h0m0 2h0m1 1h0m8 0h0m1-1h0m4-3h0m2 4h0m2-7h0m1 7h0m3 0h0m3-6h0m-227 10h0m0 0h0m0-1h0m4 4h0m0-1h0m1-4h0m3 1h0m2 1h0m0-3h0m3 7h0m6-3h0m3 2h0m1-4h0m0 2h0m0 3h0m2 0h0m0-3h0m1-1h0m0 0h0m2-2h0m4-1h0m0 4h0m4 1h0m4-3h0m0 4h0m1-2h0m3 0h0m0 3h0m2-3h0m3-4h0m3 6h0m0-4h0m1-2h0m0 5h0m3 0h0m3 2h0m0-5h0m2 2h0m7 0h0m9-2h0m6 4h0m9 1h0m8-7h0m12 5h0m5 1h0m4-4h0m1 1h0m3 2h0m8-5h0m18 5h0m3-3h0m1-1h0m0 0h0m2 1h0m5 3h0m1 2h0m1-6h0m1 6h0m0-5h0m3 2h0m3 2h0m4-2h0m17 0h0m18 3h0m12-6h0m10 2h0m8 2h0m-242 10h0m1-2h0m1-3h0m2 3h0m7-2h0m0-3h0m0 1h0m2 4h0m1-5h0m1 7h0m1-6h0m3 0h0m1-1h0m7 7h0m1-5h0m4 5h0m1-6h0m2 0h0m2 5h0m0-2h0m1 0h0m1 3h0m3-4h0m0 2h0m1-3h0m2 1h0m0-3h0m1 0h0m0 1h0m0 0h0m2 5h0m3-2h0m0 1h0m0 2h0m6-7h0m9 4h0m1 1h0m15-1h0m2 1h0m5-1h0m1 0h0m4 2h0m2 0h0m16-6h0m1 1h0m8 4h0m11 2h0m22-4h0m6-3h0m9 1h0m4 5h0m1-5h0m6 3h0m4 3h0m7-1h0m10-1h0m0-3h0m7 4h0m1-5h0m6 2h0m3 4h0m8-7h0m3 0h0m-232 8h0m2 6h0m2 1h0m2-6h0m5 1h0m22 4h0m5-6h0m1 2h0m1-2h0m1 6h0m1-5h0m1 2h0m1-2h0m2 2h0m2 4h0m2-7h0m5 0h0m5 6h0m2-6h0m1 2h0m6-2h0m2 1h0m1 1h0m3-2h0m5 2h0m5 5h0m1-3h0m4-2h0m1 5h0m3-2h0m2 0h0m1-1h0m10 2h0m2-6h0m2 3h0m1 3h0m11-2h0m3 1h0m0-1h0m0-1h0m4 0h0m1-3h0m2 3h0m1-2h0m4 2h0m4 2h0m1-5h0m7 6h0m8 0h0m0 1h0m1-4h0m1 2h0m3-4h0m7 4h0m3-4h0m3 5h0m2-5h0m1 3h0m2 0h0m7-3h0m3-1h0m4 2h0m5 3h0m6-3h0m17 4h0m2-4h0m-228 13h0m31-7h0m2 6h0m17-6h0m3 1h0m3 0h0m3 0h0m6 1h0m5-1h0m2 0h0m3 5h0m12 1h0m17-4h0m12 0h0m2 4h0m11-1h0m18-6h0m1 0h0m9 2h0m4-2h0m0 1h0m3 5h0m6-6h0m0 4h0m2-4h0m6 1h0m1 4h0m3 0h0m0-4h0m0 2h0m2-1h0m1 5h0m6-3h0m8-3h0m0 2h0m3 4h0m2-5h0m3-2h0m4 7h0m3-4h0m-126 5h0m70 0h0m33 1h0" stroke="#C090CC" stroke-opacity="0.45" stroke-width="6.4" stroke-linecap="round" fill="none"/><path transform="translate(294 540) scale(.5)" d="M40-3h0m6 1h0m52 0h0m5 0h0m-74 3h0m10 4h0m0-2h0m0 1h0m1 1h0m0-3h0m4 0h0m0 1h0m1 2h0m1-3h0m49-2h0m6 3h0m1-3h0m0 1h0m2-1h0m7 7h0m7-5h0m-85 12h0m1 0h0m4-3h0m0-2h0m1 4h0m1 2h0m0-3h0m4-2h0m1-2h0m30 6h0m20-6h0m9 5h0m4-1h0m0 2h0m3-6h0m1 7h0m2-6h0m0 3h0m0-3h0m0 2h0m3-2h0m2 4h0m10 2h0m3 0h0m44-1h0m22 0h0m-166 9h0m1-1h0m2-6h0m1 6h0m0-5h0m4 2h0m1-3h0m0 2h0m0 4h0m0-2h0m8 3h0m27-2h0m2-1h0m30 1h0m1 1h0m3-4h0m1-1h0m4 2h0m4-1h0m2 4h0m1 1h0m14-2h0m2-2h0m1 2h0m3 0h0m6 1h0m4-2h0m0 0h0m2 1h0m9 2h0m1 0h0m1-2h0m2-4h0m16 5h0m1 1h0m1 0h0m0-4h0m1-1h0m-154 12h0m0 1h0m0-7h0m6 0h0m1 5h0m1-3h0m26 4h0m0-1h0m9 2h0m4-4h0m9-1h0m10-1h0m13 1h0m3 5h0m2 0h0m1-1h0m0-2h0m2-2h0m1 2h0m4 3h0m4-3h0m4 1h0m0-2h0m1 3h0m2-4h0m1 5h0m1 0h0m1-4h0m4-3h0m2 2h0m1 2h0m1-3h0m1 5h0m3-6h0m0 0h0m5 3h0m1 4h0m3-5h0m0 5h0m7-5h0m0 2h0m1 3h0m3-4h0m4-3h0m1 1h0m4 2h0m2-1h0m3 2h0m0 0h0m5-3h0m0 0h0m4 5h0m0-2h0m0 2h0m1-4h0m7 3h0m10-4h0m-189 10h0m5 4h0m4-2h0m3 2h0m1-7h0m1 7h0m2-5h0m1-1h0m3 5h0m1 1h0m4-6h0m16 5h0m2 1h0m2-7h0m1 2h0m1 1h0m2 1h0m1-1h0m1-1h0m1 0h0m2 0h0m6 5h0m38-6h0m0 2h0m6-2h0m4-1h0m3 3h0m0-3h0m12 1h0m3 4h0m0-5h0m1 5h0m0-5h0m7 4h0m5-2h0m0 1h0m1-3h0m3 0h0m1 1h0m7 6h0m9-4h0m6 1h0m2-1h0m0 1h0m1-4h0m1 6h0m2 0h0m1-4h0m1 3h0m23-5h0m3 4h0m3-4h0m1 3h0m-200 12h0m3-5h0m0 4h0m3-2h0m1 3h0m3-5h0m0-2h0m11 3h0m1-2h0m20 0h0m4 0h0m2-1h0m1 5h0m1 2h0m4-2h0m1-2h0m3 4h0m4-5h0m1 3h0m1 2h0m93-6h0m0 6h0m0-1h0m6-3h0m1 0h0m3 0h0m2 4h0m1-1h0m1 0h0m1-2h0m0 0h0m1-2h0m0 5h0m3-3h0m2 0h0m9 2h0m0-3h0m2 2h0m2-3h0m1 3h0m2-3h0m0 5h0m8-1h0m2-1h0m-204 7h0m5 1h0m4 2h0m0-1h0m1-1h0m2-1h0m1 1h0m1-4h0m1 0h0m34 2h0m0 4h0m2-2h0m0-3h0m2 1h0m0 2h0m4-5h0m1 2h0m4 5h0m1-2h0m3 1h0m1 1h0m4-2h0m2 2h0m46-1h0m3 0h0m1 0h0m7 0h0m0-4h0m0 5h0m1 0h0m2-3h0m0 0h0m3 2h0m1 0h0m28-1h0m4-5h0m1 3h0m0 1h0m3 1h0m1 2h0m3 0h0m0-3h0m1 2h0m7-6h0m12 7h0m1-2h0m1-3h0m4 2h0m1 1h0m4 2h0m6-1h0m-208 3h0m2 1h0m3 2h0m4-2h0m0 3h0m39-2h0m5 2h0m1 1h0m3-5h0m2 3h0m1 0h0m0 2h0m0 1h0m2-5h0m0 1h0m0-3h0m0 6h0m1-4h0m0 0h0m1 3h0m2-2h0m1-2h0m1 2h0m2 0h0m1 4h0m0 0h0m1-1h0m0-2h0m0-1h0m1-3h0m1 0h0m1 1h0m1 1h0m1 5h0m34-6h0m1 5h0m3-4h0m1-1h0m0 1h0m1 4h0m5-1h0m1 2h0m4-7h0m3 7h0m3-6h0m0 6h0m34-4h0m0-1h0m1 1h0m2 4h0m11 0h0m10-1h0m0-3h0m2-2h0m2 2h0m1-2h0m0-1h0m3 7h0m0 0h0m0 0h0m0 0h0m1 0h0m1 0h0m2-4h0m0 3h0m0-1h0m0 2h0m2-3h0m0-1h0m2 3h0m1-6h0m0 5h0m0-2h0m2 0h0m0 4h0m1 0h0m0-4h0m2 2h0m4-4h0m1 3h0m-226 9h0m2 1h0m0-2h0m1 1h0m1-2h0m0 0h0m2 2h0m0-2h0m3 0h0m2 3h0m2 0h0m2-5h0m46 3h0m2-2h0m3 3h0m1 1h0m0-1h0m2-1h0m1-2h0m2 5h0m1-7h0m0 4h0m0-4h0m1 4h0m2 3h0m0-7h0m1 5h0m0-1h0m1-2h0m0 5h0m0 0h0m1-5h0m2 2h0m1 0h0m1-2h0m1-1h0m34 2h0m1-2h0m1 3h0m0-1h0m1 3h0m1-6h0m4 0h0m0 6h0m2-4h0m3 4h0m1-3h0m0 1h0m5-1h0m1 3h0m1-4h0m34 1h0m7 3h0m1 0h0m2 0h0m2-1h0m17-4h0m3-1h0m1 0h0m0 4h0m1-1h0m0 3h0m5-6h0m1 5h0m1 0h0m1-1h0m0 3h0m1-1h0m3-5h0m0 6h0m1-5h0m1 1h0m1-1h0m0-1h0m1 0h0m0 3h0m0-2h0m0 4h0m1-4h0m3-1h0m2 1h0m-237 9h0m2-1h0m1 0h0m0 0h0m4 3h0m1-3h0m10 1h0m1-2h0m49 6h0m11-2h0m3-4h0m1 1h0m1 3h0m1-5h0m4 1h0m3 0h0m1-1h0m39 1h0m0-1h0m0 1h0m5 2h0m1-2h0m5 0h0m41 0h0m1 2h0m1 4h0m0-3h0m1-2h0m2 5h0m3-2h0m1 1h0m0-3h0m2-1h0m1 1h0m0 4h0m21-6h0m2-1h0m1 2h0m1 1h0m3 0h0m6-3h0m4 4h0m-253 8h0m18 0h0m0 3h0m1-1h0m2 1h0m0-3h0m0 3h0m3-7h0m0 6h0m2-4h0m0 0h0m1 2h0m2 3h0m1-4h0m11-1h0m53 2h0m6 1h0m90 2h0m6-6h0m4 6h0m1-6h0m4 3h0m1 0h0m1-4h0m0 4h0m1 2h0m0-2h0m-209 9h0m4-4h0m5 4h0m1-3h0m3 3h0m3 0h0m1-4h0m0 4h0m2-2h0m0 2h0m1-2h0m4 0h0m1-3h0m2 2h0m175 0h0m2 4h0m3-6h0m1 0h0m2 1h0m1 0h0m1 1h0m1 2h0m2-1h0m4 3h0m-218 6h0m1-3h0m4 4h0m11-5h0m4 5h0m1-2h0m0-1h0m5 0h0m30 5h0m13-1h0m5-3h0m3 2h0m4 2h0m92-2h0m6 1h0m2-2h0m1-2h0m14 1h0m1-1h0m3 0h0m2-1h0m2 0h0m1 5h0m0-4h0m5-2h0m-208 8h0m5 1h0m2-1h0m0 7h0m8-1h0m1-1h0m4 2h0m5-2h0m37-1h0m1-3h0m7-1h0m1 3h0m1-3h0m2 4h0m3 3h0m2-7h0m4 1h0m4 0h0m7 0h0m5 5h0m11 0h0m22 0h0m8 0h0m5 1h0m0-3h0m15-1h0m5 2h0m2-1h0m2 0h0m6 1h0m0-1h0m1-1h0m2 3h0m1 0h0m1-1h0m2 0h0m1 2h0m0-3h0m1-4h0m0 2h0m2 2h0m0 3h0m1-7h0m3 2h0m1 4h0m4-2h0m1 2h0m4 1h0m1-6h0m3 5h0m2-5h0m4 5h0m-208 8h0m2-5h0m1 3h0m1 3h0m1-2h0m0-2h0m0-1h0m1 2h0m0 2h0m2-5h0m2-1h0m2 4h0m5 1h0m2-2h0m0-1h0m2-1h0m2-1h0m0 4h0m2-1h0m2 1h0m0-1h0m1 4h0m2 0h0m0-2h0m1-2h0m3 1h0m2-1h0m7 2h0m19-5h0m3 0h0m1 1h0m0-1h0m6 6h0m3-5h0m3 0h0m1 1h0m0 1h0m3 0h0m2 2h0m0 0h0m2-4h0m1 2h0m4 3h0m4-3h0m2-1h0m0-2h0m8 6h0m1 0h0m5-6h0m1 0h0m1 3h0m6-1h0m3 3h0m0-1h0m2 2h0m0-2h0m5-2h0m0 0h0m1 2h0m10 2h0m1-5h0m4 5h0m3-3h0m3 3h0m1 0h0m0-5h0m0 2h0m3-2h0m2 3h0m2 1h0m2 1h0m4 0h0m1-3h0m2 3h0m0 1h0m0-2h0m3-3h0m1 1h0m3 3h0m0-6h0m1 7h0m0-4h0m1 3h0m1-6h0m4 7h0m2-7h0m0 3h0m1 1h0m1 0h0m0 0h0m0 0h0m2 0h0m1-4h0m1 7h0m1 0h0m0 0h0m1-6h0m0-1h0m1 5h0m5 1h0m1-1h0m0-5h0m1 7h0m0-3h0m1-3h0m1 5h0m0-2h0m1-4h0m2 4h0m13 1h0m6 0h0m-225 5h0m1 1h0m1-1h0m0 1h0m0 2h0m0 2h0m1-2h0m4-4h0m1 1h0m1 3h0m3-3h0m1 4h0m0-3h0m0-2h0m0 3h0m0-3h0m1 0h0m2 3h0m1-3h0m0 0h0m1 0h0m0 6h0m2-6h0m1 0h0m2 2h0m0 1h0m1 1h0m2-1h0m0 1h0m0 0h0m1-2h0m1 0h0m0-2h0m1 5h0m0-1h0m1-1h0m1 0h0m2 2h0m1-5h0m0 4h0m1-5h0m3 4h0m0 1h0m1-5h0m2 3h0m1 1h0m2-1h0m0 2h0m3 0h0m2 0h0m0 1h0m0 1h0m2-7h0m1 7h0m1 0h0m4 0h0m1-1h0m6 1h0m1-1h0m5 0h0m12-6h0m8 6h0m1-6h0m0 5h0m0-3h0m2-1h0m3 5h0m1-6h0m3 2h0m3-1h0m1 1h0m0 0h0m8 3h0m0 1h0m1 1h0m0-4h0m0-2h0m2 0h0m1 5h0m1-2h0m5 1h0m6-4h0m0 1h0m1 3h0m0 0h0m0-1h0m5-1h0m1-3h0m1 4h0m1-2h0m1-2h0m5 0h0m6 0h0m2 2h0m6 2h0m1 0h0m3 0h0m0 3h0m0-1h0m1 1h0m1-7h0m0 4h0m1-2h0m0-2h0m0 7h0m1-2h0m3-5h0m0 7h0m1-1h0m1-5h0m3 2h0m2-3h0m2 3h0m1 0h0m0 1h0m1-4h0m7 0h0m0 0h0m4 6h0m2-4h0m1-2h0m2 3h0m0-3h0m2 4h0m1 0h0m0-2h0m3 2h0m1 2h0m1-6h0m1 3h0m1 2h0m6-1h0m4-1h0m4 4h0m4-7h0m1 5h0m3-5h0m1 5h0m2 1h0m0-4h0m0 0h0m5 4h0m2 1h0m0-3h0m-239 4h0m3 0h0m0 1h0m3 5h0m1-5h0m3 6h0m1-2h0m1 2h0m0-6h0m1 3h0m4 0h0m2-1h0m0 4h0m1 0h0m1-1h0m0-6h0m6 4h0m2 3h0m0-6h0m1 5h0m1-5h0m0 3h0m0-2h0m1 1h0m0-2h0m4-1h0m1 3h0m1-3h0m2 5h0m1-4h0m0 1h0m0-1h0m3 1h0m1 5h0m0-6h0m0 4h0m1-3h0m0 4h0m1-3h0m5 3h0m0-1h0m2 2h0m1-2h0m0 0h0m1-5h0m2 5h0m2-4h0m2 6h0m4-7h0m1 4h0m1 3h0m4-6h0m1-1h0m21 4h0m8-4h0m4 5h0m5-3h0m1 0h0m1 1h0m3-2h0m11 0h0m8 0h0m2 0h0m4 1h0m7 2h0m10-3h0m1 0h0m3 3h0m0-1h0m2-1h0m0 3h0m1-4h0m2 4h0m3-2h0m0-1h0m3 4h0m4 1h0m0-1h0m9 1h0m8-5h0m24-2h0m4 4h0m2 0h0m1 3h0m1-6h0m1 0h0m1-1h0m0 4h0m3-1h0m5 0h0m0-2h0m-236 8h0m6 1h0m0 3h0m3-2h0m4 0h0m2 4h0m0-7h0m0 1h0m3 2h0m0 2h0m0-2h0m2-1h0m0 4h0m1-4h0m2-2h0m1 0h0m3 4h0m2-1h0m0 2h0m1 1h0m0 0h0m0-5h0m2 6h0m3-5h0m0 4h0m1 1h0m1 0h0m0-4h0m0 1h0m0 0h0m1 0h0m1-3h0m0 6h0m1-4h0m1 0h0m1 2h0m0-4h0m2-1h0m0 4h0m1 1h0m0-4h0m0 5h0m0-5h0m1 2h0m0 4h0m0 0h0m0-6h0m1 2h0m1-2h0m0 1h0m0 0h0m1 4h0m0 1h0m1-5h0m3 5h0m0-4h0m1-2h0m7 4h0m1 1h0m2-4h0m0-1h0m3 6h0m0-3h0m0-4h0m2 2h0m6 0h0m1 4h0m0-3h0m1-2h0m4 3h0m0-2h0m5-2h0m0 6h0m0 1h0m3-7h0m2 6h0m7 0h0m0-6h0m21 6h0m6-3h0m0 4h0m11-1h0m2 0h0m8-3h0m11 3h0m6-6h0m1 2h0m1 0h0m6-1h0m1 1h0m0 0h0m6-2h0m12 3h0m15 3h0m0-3h0m2 1h0m7 3h0m0-7h0m2 0h0m1 4h0m0 1h0m2 0h0m2-1h0m0 2h0m0 0h0m1-4h0m0 3h0m2-4h0m1 6h0m5-2h0m-228 8h0m1-4h0m6 0h0m2 2h0m0-3h0m7 1h0m0 3h0m3 0h0m8-2h0m2 4h0m1 1h0m1-4h0m3 2h0m2-2h0m1 1h0m0-1h0m0 3h0m2-2h0m0-1h0m2 0h0m0 2h0m0-5h0m1 1h0m1 5h0m0 0h0m1-3h0m2 2h0m0-2h0m1-1h0m0-2h0m0 2h0m1 1h0m1-1h0m1-2h0m1 1h0m1 2h0m0 3h0m2-6h0m1 0h0m1 7h0m0-2h0m2-2h0m0-1h0m6-1h0m1 1h0m0 0h0m3 1h0m0-2h0m3 0h0m1 6h0m4-5h0m0-2h0m3 2h0m0-1h0m0 3h0m1 3h0m3-5h0m1 2h0m2 2h0m1-3h0m2 4h0m4-2h0m6 1h0m0-3h0m2 1h0m1 0h0m4 2h0m1 1h0m1-5h0m1 5h0m2-4h0m0 2h0m0 0h0m2-4h0m1-1h0m9 0h0m1 1h0m1 4h0m1-3h0m0 5h0m1-3h0m2 3h0m2 0h0m3-7h0m0 6h0m1-3h0m2 2h0m1-5h0m0 5h0m7-1h0m0 1h0m1-4h0m0 1h0m4 1h0m3-3h0m2 7h0m0-2h0m0-3h0m4 2h0m2 2h0m2-1h0m0 2h0m2-7h0m1 1h0m5 3h0m4 0h0m1-3h0m2 1h0m1-1h0m4 0h0m1 1h0m0-1h0m0 5h0m0-3h0m7-2h0m4 3h0m0-4h0m4 0h0m2 4h0m2-4h0m2 1h0m1 6h0m2-1h0m1-5h0m3 4h0m0-2h0m2 0h0m3-3h0m5 4h0m-204 5h0m22 4h0m3-4h0m3 4h0m4-5h0m6 0h0m5 3h0m4-1h0m7-1h0m5 4h0m5-3h0m5-2h0m10 2h0m1-2h0m3 0h0m9 4h0m2-2h0m6-2h0m3 0h0m2 0h0m2 7h0m4-4h0m5-2h0m0-1h0m2 4h0m3-4h0m2 1h0m3 1h0m0-1h0m8-1h0m5 2h0m3-1h0m0 2h0m0-2h0m1 3h0m1 2h0m3-2h0m9-4h0m2 2h0m1 1h0m5 1h0m0-3h0m5 4h0m0-4h0m1 0h0m1 5h0m2-3h0m3 1h0m0-3h0m1 4h0m5-3h0m1 5h0m3-6h0m5-1h0m6 0h0m-63 9h0m13-1h0" stroke="#7E44A8" stroke-opacity="0.85" stroke-width="4.0" stroke-linecap="round" fill="none"/><path transform="translate(294 540) scale(.5)" d="M107-3h0m-72 3h0m7 3h0m1 3h0m60-5h0m13 3h0m3 2h0m-85 6h0m7 1h0m1 1h0m1-1h0m4-2h0m61 3h0m1-6h0m4 2h0m6 0h0m-80 7h0m1 2h0m2 1h0m6-3h0m27-1h0m5 5h0m36 0h0m5-3h0m30 1h0m2 4h0m6-2h0m2 2h0m0 0h0m11 0h0m8-3h0m-137 11h0m1-1h0m26-1h0m11 2h0m37-3h0m5-3h0m1 1h0m1 1h0m8 3h0m3-6h0m0 4h0m18 2h0m1-5h0m3 6h0m4 0h0m15-3h0m0 1h0m0-3h0m2 4h0m15-5h0m0 4h0m-149 5h0m29 3h0m1-1h0m53-1h0m13-1h0m48 4h0m8-1h0m2 2h0m0-6h0m3 6h0m5-4h0m16-2h0m2 4h0m-191 3h0m2 3h0m7-1h0m27 0h0m2 3h0m3-3h0m4 0h0m1 5h0m4-1h0m106-2h0m3 1h0m5-3h0m13 4h0m4 0h0m12-1h0m1-2h0m-201 11h0m6 1h0m4-1h0m4-4h0m3 1h0m0-3h0m50 7h0m5-2h0m7 2h0m53-3h0m34 0h0m2 1h0m3-3h0m30-1h0m6 1h0m5 1h0m-206 12h0m48-3h0m7-2h0m0 4h0m6-6h0m3 4h0m2-2h0m1 0h0m3 4h0m0 1h0m0-3h0m1 0h0m40 0h0m4 2h0m4-3h0m2 1h0m1-1h0m1 3h0m5 1h0m2-3h0m4 3h0m1-3h0m18 2h0m18-5h0m29 4h0m2-1h0m1-3h0m1 5h0m2 1h0m4-5h0m1 1h0m0 4h0m1-1h0m3-4h0m-216 13h0m5-5h0m5 3h0m1-3h0m46 5h0m3 0h0m3-5h0m2 2h0m2 3h0m3-1h0m1-2h0m5 2h0m35-6h0m7 3h0m4 2h0m1-3h0m35-1h0m12 4h0m7-1h0m1-3h0m22 3h0m3 1h0m2-1h0m8-4h0m3 7h0m0 0h0m6-5h0m-239 10h0m16 0h0m3 3h0m4-5h0m59 3h0m3-5h0m7 0h0m98 2h0m37 0h0m8 1h0m-235 9h0m1 2h0m5-2h0m1 1h0m0 1h0m12-4h0m165 4h0m3 0h0m1-4h0m1 3h0m2-4h0m2 1h0m0-2h0m-200 11h0m5 3h0m2-4h0m179 1h0m15 4h0m2-2h0m-212 8h0m2-3h0m7 4h0m56-2h0m96 2h0m35 1h0m1-3h0m12-3h0m-204 10h0m8 2h0m9 1h0m45 1h0m12-4h0m3-1h0m9 4h0m16-1h0m46 2h0m3-4h0m3 2h0m7 1h0m18-6h0m9 5h0m1-4h0m9-1h0m-206 12h0m12 0h0m3-4h0m1 0h0m1 3h0m0 4h0m1-1h0m1-1h0m4-3h0m2 4h0m2 0h0m2-4h0m0 4h0m1-3h0m2 1h0m30-4h0m12 6h0m9 0h0m5-3h0m5-1h0m7 2h0m5-3h0m3 0h0m2 2h0m8-2h0m16-1h0m3 1h0m12 4h0m4 1h0m3-5h0m7 0h0m2 4h0m13-4h0m2 6h0m4-4h0m7-3h0m6 6h0m5-4h0m3 1h0m2-3h0m14 7h0m-216 4h0m12 1h0m7-3h0m0 1h0m1-1h0m4 0h0m1 0h0m3 5h0m7-6h0m5 2h0m3 0h0m3-1h0m0-1h0m2 6h0m1-5h0m9 3h0m8 0h0m27-4h0m5 1h0m7 3h0m5-3h0m5 2h0m0-2h0m2 4h0m2-5h0m1 0h0m8 3h0m0 1h0m3 0h0m1 1h0m18-5h0m1 0h0m9 2h0m3 1h0m4 4h0m2-2h0m2-3h0m2-1h0m1-1h0m1 1h0m1-1h0m3 4h0m6-2h0m2 2h0m8-3h0m0-1h0m10 1h0m3-1h0m3 3h0m0 0h0m3 3h0m1-1h0m0 0h0m6-4h0m10 1h0m-228 10h0m9-1h0m2 0h0m0-1h0m1 3h0m7-3h0m1 3h0m5-2h0m5 2h0m1 0h0m1-4h0m7 1h0m2-1h0m4 4h0m1 2h0m7-7h0m2 3h0m105 1h0m2-4h0m3 3h0m4-1h0m3 4h0m44-3h0m5-2h0m12 1h0m-239 10h0m2-1h0m6 2h0m3-3h0m3-1h0m4 5h0m1 0h0m0-1h0m1-4h0m9 4h0m1-2h0m1 0h0m6 0h0m1-1h0m4 5h0m1-6h0m3 3h0m3-4h0m2 2h0m4 3h0m2-2h0m3-2h0m1 4h0m9-4h0m11 1h0m27 4h0m8 1h0m3-5h0m7 4h0m6-6h0m4 5h0m12 0h0m18-3h0m6-2h0m30 6h0m9-1h0m6 0h0m-209 4h0m14 0h0m2 2h0m10 4h0m1 0h0m3-5h0m1 2h0m0 2h0m6-6h0m2 6h0m3-1h0m4-1h0m1-3h0m4 0h0m6 5h0m4 0h0m8-4h0m5-2h0m2 4h0m4 3h0m1-5h0m4 0h0m3 1h0m4-1h0m0 1h0m8 2h0m3 1h0m1 0h0m2-6h0m19 4h0m0 3h0m1-1h0m2 1h0m13-1h0m3-1h0m7 2h0m1-1h0m15-6h0m23 0h0m6 4h0m2 0h0m1 3h0m7 0h0m4-3h0m3 0h0m-134 6h0m5-2h0m24 1h0m4 0h0m9 2h0m3-1h0m16-1h0m8-1h0m1 6h0m1-5h0m4 2h0m13-1h0m0 0h0m1-1h0m9-1h0m4 3h0m4 1h0m9-2h0m1-2h0m2 4h0m16 0h0" stroke="#5A2A8C" stroke-opacity="0.7" stroke-width="2.6" stroke-linecap="round" fill="none"/><path transform="translate(294 540) scale(.5)" d="M59 3h0m28 0h0m75-2h0m32 6h0m14 0h0m9-1h0m-194 7h0m113-2h0m27 1h0m36 3h0m12-5h0m30 0h0m10-1h0m-213 10h0m23 3h0m3-1h0m3-1h0m11 0h0m14 2h0m63-1h0m7 2h0m59-6h0m17 4h0m-217 5h0m9 0h0m33 2h0m81-1h0m8 4h0m7-4h0m3-3h0m4 5h0m15-5h0m14 3h0m19-1h0m20-2h0m-221 13h0m1 2h0m30-5h0m22 5h0m1-6h0m114 2h0m6-3h0m25 2h0m11 0h0m-217 6h0m22 5h0m24-3h0m96 4h0m4-1h0m23 1h0m12-2h0m2-4h0m27 0h0m6 1h0m4 0h0m6 2h0m3-3h0m13 2h0m1 4h0m-244 3h0m14 0h0m0 2h0m31 4h0m87-4h0m36 4h0m58-3h0m13-3h0m-227 7h0m18 5h0m11 2h0m37-5h0m4-2h0m20 1h0m36 4h0m93-3h0m2 3h0m-191 7h0m6 2h0m32 1h0m18-6h0m16 2h0m22 2h0m11-5h0m24 0h0m5 4h0m31 2h0m10-3h0m-219 11h0m4 0h0m10-4h0m31 3h0m38-3h0m28 5h0m11-7h0m26 4h0m14-2h0m4 5h0m36-2h0m2 1h0m23-2h0m-204 5h0m59 2h0m14 4h0m41-5h0m16 3h0m6 1h0m16-1h0m9 2h0m11-4h0m4 0h0m1 3h0m8-4h0m18 0h0m20-2h0m-235 13h0m7 0h0m17-4h0m3 4h0m35-3h0m3 3h0m7-5h0m11 6h0m2-3h0m6 2h0m27 1h0m35-4h0m26 2h0m-136 10h0m27-3h0m44 2h0m-128 3h0m11 3h0m7-3h0m18 2h0m0 1h0m29 2h0m25 2h0m51-1h0m7-2h0m0 3h0m2-5h0m0 4h0m4-1h0m9 1h0m3-3h0m84 1h0m-201 11h0m50-3h0m74 3h0m15-4h0m25-2h0m27 3h0m-212 7h0m95-1h0m23 1h0m13 2h0m18 2h0m5 0h0m13 0h0m8-1h0m-189 2h0m25 2h0m12 5h0m38-1h0m38-6h0m32 1h0m27 4h0m20 1h0m10-3h0m-212 11h0m47 1h0m36-6h0m46 1h0m1 3h0m7-4h0m106 4h0m-235 8h0m44-1h0m8-3h0m98 6h0m70-6h0m-232 11h0m3-3h0m9 4h0m44-4h0m3 3h0m57-2h0m100 2h0" stroke="#7E44A8" stroke-opacity="0.8" stroke-width="4.0" stroke-linecap="round" fill="none"/><ellipse cx="370.0" cy="592.0" rx="3.4" ry="3.4" fill="#F2E2EC" fill-opacity="1.0"/><ellipse cx="362.5" cy="602.5" rx="2.8" ry="2.8" fill="#F2E2EC" fill-opacity="1.0"/><ellipse cx="383.0" cy="610.5" rx="3.5" ry="3.2" fill="#F2E2EC" fill-opacity="1.0"/><ellipse cx="364.0" cy="589.5" rx="1.5" ry="2" fill="#F2E2EC" fill-opacity="1.0"/><ellipse cx="404.0" cy="618.0" rx="4" ry="3" fill="#F2E2EC" fill-opacity="1.0"/><ellipse cx="320.0" cy="618.0" rx="4" ry="3" fill="#F2E2EC" fill-opacity="1.0"/><ellipse cx="303.0" cy="597.0" rx="4" ry="4" fill="#F2E2EC" fill-opacity="1.0"/><rect x="400.3" y="609.8" width="13.6" height="2.7" fill="#000"/></g></g>
<g clip-path="url(#cE1)"><g filter="url(#fbE1)"><rect x="21.7" y="670" width="150.8" height="105.5" fill="#F4ECE4"/><path d="M117.2,678.7 L85.5,713.3 M150,676 L128,700 M40,760 L70,752" stroke="#C4CCEA" stroke-width="3" fill="none" stroke-opacity="0.6"/><path transform="translate(24.7 673) scale(.5)" d="M191 5l-2 2m30-2l0 4m37-9l4 2m7 0l2 3m11-1l4 1m-233 4l3 2m179-2l1 4m-134 7l-3 1m38 6l2 3m87-6l-3 3m19 5l-4 1m51 6l-3 1m-205 7l2 2m-73-1l-3 3m84 2l-1 3m53-1l-1 3m70-3l-2 1m-169 7l3 2m246-5l2 2m-278 5l-2 3m147-6l-3 2m-57 13l-2 3m18-10l-4 2m77-2l0 3m86 5l-4 1m-113 8l3 2m34 0l-1 2m90 1l4 0m-116 15l-2 3m14-3l-1 2m65-2l-2 2m-198 7l-2 0m117 0l3 2m25-2l-1 3m-173 1l-1 3m207-5l2 2m-166 7l-2 3m80-4l3 1m22 5l-2 2m45-1l-2 0m64-6l-2 3m-240 6l1 2m74 2l-4 2m59-1l-2 0m66 2l4 1m-113 7l-3 2m92-1l-3 0m78 1l-3 1m-198 6l1 4m81-1l-1 3m-103 2l-3 1m56 0l-2 2m76-5l1 2m47-1l0 4m-110 6l3 2m19-4l2 2m49 1l-3 3m25-7l0 4m-194 10l2 2m13 4l-4 1m31-1l3 2m12-5l2 4" stroke="#DA9C5C" stroke-opacity="0.9" stroke-width="9.8" stroke-linecap="round" fill="none"/><path transform="translate(24.7 673) scale(.5)" d="M2 0l-1 2m14 1l2 3m53-6l-3 0m112 3l-3 2m27-5l1 4m38-4l-1 3m-101 9l-1 3m30-5l-1 2m42-2l0 4m-184 3l-3 1m63 4l3 3m36-9l-3 2m41 5l1 3m14-8l1 3m58-1l0 3m45-6l2 1m-230 9l-3 3m23-2l-1 3m105-1l-3 2m77-7l2 2m-240 6l-2 2m111-1l3 1m23-3l4 1m58 6l2 3m10-3l-2 3m-118-1l0 2m16 3l1 3m14-8l-4 1m31 2l2 1m23-1l2 3m45-1l2 2m42-5l-1 2m-228 7l3 3m124-5l1 3m83-1l-2 1m-257 9l-4 0m113-6l-4 1m69 5l-2 4m66-7l1 3m10-1l-1 3m25-8l3 3m-134 9l-1 2m70-3l-1 2m14-4l3 1m-186 10l-2 0m117 1l2 3m42-2l1 3m36-5l2 3m-237 4l0 3m107 0l1 3m58-9l1 3m-83 11l3 1m76 0l0 4m82-4l2 2m20-4l1 3m-248 4l-1 2m51-3l-4 1m33 2l3 2m-65 2l2 4m16-2l-3 2m64-3l-3 3m40-5l2 2m65 1l3 1m-137 4l1 4m14 0l0 4m23-3l-3 1m77-4l1 3m66-5l3 1m-178 13l3 2m114-5l4 2m66 1l2 3m-211 0l2 2m158 0l-3 0m24-2l4 0m-121 13l-1 4m118-4l2 3m-244 0l-3 2m37-1l2 1m118-3l-4 2m77-1l4 2m24-1l3 3m-236 6l-3 2m104 1l1 4m90-5l-2 1m27-2l2 2m38-2l-2 3m-279 0l2 2m12 3l-2 2m67-4l3 3m124-1l3 1m-180 6l3 0m196-3l3 2m50 0l-1 2m-266 6l2 1m33 3l1 2m18-5l-2 2m14 0l-1 2m70-8l-4 2m45-2l-3 1m72-1l0 3m-232 6l2 1m70 4l-2 3m53-6l-1 3m57-3l1 3m24-5l-3 1m25 1l-3 2m-254 3l3 1m79 5l3 1m9 0l-3 1m60-2l-2 4m13-4l-1 4m13-6l-1 2m14 0l-4 2m25-2l3 1m8-3l-3 2m23-1l-3 1m39-4l-3 0m14 4l4 1" stroke="#CE8444" stroke-opacity="0.9" stroke-width="9.8" stroke-linecap="round" fill="none"/><path transform="translate(24.7 673) scale(.5)" d="M101 2l-2 1m18-3l-4 1m18 2l-3 3m-53 9l2 3m14-9l-1 4m22 2l-1 4m84-4l-1 3m55-7l-4 1m-241 10l4 0m7 0l1 3m24-3l2 4m22-5l-1 4m88-6l4 1m115-2l1 2m-244 8l4 1m80 1l-2 1m83-4l2 2m18-4l3 0m68 4l1 2m-283 3l2 1m86 0l-2 3m164-1l-3 0m22-3l3 0m-226 6l-3 2m155 3l2 1m-182 4l2 3m9 2l1 4m32-4l-3 1m162-5l2 3m20-6l3 0m-171 11l1 2m45 1l3 3m-101 2l-3 1m36-2l2 3m36-4l3 2m100-3l-2 4m79-1l2 1m-249 11l-1 4m54-9l-1 3m140-1l3 3m38-2l-2 1m-245 3l2 3m128-2l-3 0m41 2l0 4m67-8l1 3m-197 8l1 3m157-5l2 3m12 0l3 0m-101 4l-3 2m19 0l-3 3m72-1l-3 1m27-3l-1 3m24-3l4 2m-259 11l3 1m133-1l2 1m59-8l1 3m32 4l0 3m50-6l1 3m-138 8l-1 4m108-7l3 1m-80 10l0 2m61-6l1 3m-235 6l1 3m140-3l1 2m73-3l-2 3m24 1l3 3m31 5l1 3m-209 5l3 2m13-5l2 2m105-6l-2 4m17-1l-1 4m85-7l-3 1m-164 7l0 4m22 1l3 0m14-1l2 3m10-7l3 3m-117 7l-3 2m131 2l-4 1m93 0l3 0m-274 8l3 1m58-3l3 0m158 9l3 3m16-9l3 2m-120 9l3 1m13-2l1 4m30-6l3 2m-137 8l-3 3m80 1l0 3m23-2l1 3m118-4l3 1" stroke="#BE6E30" stroke-opacity="0.9" stroke-width="9.8" stroke-linecap="round" fill="none"/><path transform="translate(24.7 673) scale(.5)" d="M61 43l0 4m123 11l-2 2m79 5l-1 3m28 8l-3 2m-222 3l2 4m66-5l3 3m-124 13l-4 2m22 16l-2 1m11 16l2 3m148-2l-2 1m-71 3l2 3m58-1l-2 0m-152 13l4 0m95 13l4 1m138 0l0 4m-60 25l-1 2" stroke="#A05422" stroke-opacity="0.9" stroke-width="9.8" stroke-linecap="round" fill="none"/><path transform="translate(24.7 673) scale(.5)" d="M27 4l0 3m11-6l-3 1m122 1l-3 1m-119 35l0 4m1 50l-4 1m149 1l0 2m98 82l0 4" stroke="#7A3A12" stroke-opacity="0.95" stroke-width="9.8" stroke-linecap="round" fill="none"/></g></g>
<g clip-path="url(#cE2)"><g filter="url(#fbE2)"><rect x="174" y="670" width="150.5" height="105.5" fill="#F3F1EF"/><path transform="translate(177 673) scale(.5)" d="M0 5h0m3 0h0m2-3h0m6 0h0m12 3h0m2-1h0m12-2h0m7 1h0m14 3h0m2-4h0m2 0h0m0 1h0m1-2h0m1-1h0m5 2h0m2 2h0m20-2h0m0 5h0m1-6h0m0 4h0m2-2h0m4-1h0m0 4h0m1 0h0m8-6h0m3 5h0m1 2h0m1-5h0m2 0h0m4 0h0m0 1h0m0 2h0m3 0h0m2-1h0m2-1h0m11 1h0m3-1h0m1 1h0m6-4h0m0 6h0m2-1h0m7 1h0m3-5h0m15 5h0m3 0h0m4 0h0m1 0h0m3-1h0m1-4h0m1-1h0m4 0h0m3 2h0m4 2h0m3 2h0m5-4h0m1 5h0m3-3h0m2 1h0m1 0h0m1-1h0m2 1h0m2-1h0m1-2h0m3-1h0m1 4h0m3 1h0m4-3h0m5 2h0m3-1h0m3 1h0m18-2h0m2-1h0m3 2h0m8 0h0m13-3h0m1 4h0m1 0h0m1-4h0m1 0h0m-282 9h0m3 1h0m4-1h0m0 3h0m8-2h0m0 4h0m3-7h0m4 0h0m0 4h0m1-1h0m1-3h0m1 7h0m2-4h0m1-1h0m1 2h0m5-4h0m2 0h0m4 5h0m1-1h0m2 0h0m6 3h0m9-6h0m1 5h0m1-3h0m3 1h0m2-3h0m3 2h0m2 3h0m6-4h0m11 0h0m4 2h0m0 1h0m3-1h0m7-4h0m6 7h0m1-6h0m3 0h0m1 6h0m2-4h0m0 1h0m4-4h0m0 6h0m2-3h0m1 1h0m6-4h0m5 7h0m11-4h0m1 0h0m1 2h0m1-4h0m1 5h0m1-5h0m14 2h0m13 0h0m7-1h0m3 0h0m13 2h0m1-2h0m0 3h0m1 2h0m2-2h0m0 1h0m9-4h0m0 5h0m3-1h0m1-1h0m3 1h0m0 0h0m3-4h0m2 3h0m1-3h0m7 0h0m0 4h0m2-3h0m0 3h0m4-5h0m2 3h0m2 0h0m3-4h0m2 6h0m1-3h0m2 4h0m4-1h0m2-5h0m0 2h0m2-2h0m0 4h0m4-3h0m6 3h0m6-4h0m1 6h0m6-5h0m3 1h0m-288 11h0m2-5h0m3 4h0m12-2h0m10 0h0m1 3h0m8-5h0m2 2h0m1 2h0m2 0h0m4 1h0m1-2h0m11-4h0m0 2h0m0 4h0m4-5h0m1 2h0m6-2h0m1 0h0m4 5h0m1-3h0m1-2h0m3 3h0m7 0h0m0 2h0m5 0h0m1-2h0m1 0h0m2-1h0m0 4h0m11-2h0m2-4h0m1 0h0m0 4h0m1 2h0m9-3h0m3-3h0m1 0h0m0 5h0m4-4h0m5-1h0m1 2h0m13 1h0m3 0h0m5 2h0m5-4h0m0 1h0m3-2h0m3 0h0m4 6h0m3-5h0m2 0h0m0 2h0m5-3h0m6 1h0m17 2h0m1-2h0m5 0h0m0 0h0m2 4h0m3-4h0m1-1h0m0 4h0m7-5h0m3 4h0m9-2h0m6-2h0m3 0h0m0 6h0m2-5h0m2 4h0m2-5h0m1 6h0m1-5h0m5 4h0m1-1h0m3 2h0m2 0h0m3-5h0m8 6h0m6-5h0m1 2h0m1-4h0m0 1h0m3 5h0m1-6h0m1 1h0m2 3h0m0 3h0m-286 2h0m4-1h0m0 7h0m2-2h0m5 1h0m1-5h0m2 2h0m6-1h0m2-2h0m6 1h0m1 4h0m1 0h0m4-1h0m2 3h0m14-7h0m1 1h0m4-1h0m7 3h0m2-2h0m0 2h0m1-3h0m2 4h0m4-3h0m5-1h0m1 7h0m1 0h0m2-1h0m6-2h0m1-4h0m6 3h0m5 1h0m3-4h0m0 2h0m2 4h0m1-3h0m1 0h0m2 1h0m1 0h0m0 3h0m1-7h0m1 3h0m6 1h0m0 3h0m5-4h0m2 2h0m5 1h0m5 1h0m3-6h0m6 4h0m3-2h0m4-1h0m2 3h0m3-2h0m2-3h0m0 3h0m1 4h0m4-3h0m4-2h0m2 1h0m7 0h0m1-1h0m5-2h0m1 2h0m5 1h0m9 0h0m4 2h0m4 1h0m13 0h0m7-5h0m5 1h0m3 1h0m0 1h0m5 2h0m3-3h0m0 2h0m14 0h0m1 2h0m1-7h0m5 5h0m3 0h0m4-4h0m0 6h0m1-6h0m0 2h0m0 1h0m2-2h0m8 1h0m1-2h0m1 0h0m2 4h0m2-5h0m-274 13h0m0 1h0m4-6h0m0 0h0m1 4h0m3-2h0m5 0h0m2-1h0m1 6h0m1-7h0m0 1h0m3 5h0m2 1h0m13-3h0m0 2h0m2-5h0m1 5h0m1 0h0m1-4h0m1-1h0m3 0h0m1 0h0m2 3h0m1-1h0m1 4h0m6 0h0m17-7h0m0 7h0m9-1h0m5 0h0m1-2h0m2-3h0m2-1h0m9 7h0m9-7h0m4 6h0m4-5h0m7 6h0m2-1h0m5-6h0m4 2h0m1-2h0m0 5h0m6-4h0m1 5h0m5 1h0m2 0h0m6-3h0m1-1h0m0 4h0m0 0h0m4-1h0m1-5h0m12 4h0m5-1h0m1-4h0m0 6h0m18 1h0m6-3h0m6-2h0m4 2h0m5-3h0m2 6h0m1-5h0m1-2h0m9 1h0m4 1h0m3 0h0m0 2h0m2-3h0m0 0h0m16 0h0m0 1h0m11 4h0m5 1h0m2-2h0m-285 3h0m0 2h0m3 1h0m1-2h0m1 0h0m1 5h0m2-3h0m3 2h0m3-4h0m1 1h0m4 2h0m1-2h0m1 1h0m0 1h0m0 2h0m1 1h0m4-3h0m5-3h0m1 6h0m10-3h0m0 0h0m9-3h0m3 2h0m0 1h0m6-4h0m4 0h0m4 5h0m1-4h0m12 1h0m2 3h0m1-5h0m2 6h0m2 1h0m4-4h0m6-2h0m3 0h0m0 4h0m3-4h0m0 2h0m3 1h0m1-1h0m1 4h0m3-3h0m1-4h0m6 3h0m0 0h0m1 3h0m1-3h0m2-1h0m7 5h0m4-6h0m1-1h0m0 4h0m6 2h0m1 1h0m4-2h0m6-4h0m1-1h0m16 0h0m8 0h0m2 2h0m2 0h0m2 2h0m7 0h0m10 2h0m3-2h0m1 1h0m1-2h0m7 2h0m4-4h0m2-1h0m10 0h0m1 2h0m1 2h0m4-3h0m4 0h0m3 3h0m6-2h0m1 1h0m10 2h0m5-5h0m4 5h0m5-4h0m3 3h0m8 1h0m0 1h0m-283 3h0m3 1h0m0 3h0m5 2h0m1-6h0m0 4h0m8-5h0m0 4h0m1 0h0m6-2h0m2-2h0m5 3h0m1 2h0m3-2h0m1 2h0m3-2h0m0 1h0m13 0h0m4 1h0m7-3h0m9 5h0m2-4h0m1 2h0m0 2h0m4-4h0m2 4h0m1-3h0m2-1h0m5-1h0m1 0h0m1-2h0m3 1h0m1 3h0m5 1h0m5-1h0m0 2h0m2-1h0m3 2h0m1-1h0m6-5h0m11 3h0m1-2h0m1 1h0m3 2h0m1-1h0m2-4h0m7 7h0m2-5h0m5 5h0m5-6h0m3 0h0m3 6h0m1 0h0m4-7h0m10 1h0m1 5h0m1-3h0m2 1h0m3 1h0m1-2h0m2 4h0m8-4h0m1-3h0m2 4h0m3-3h0m1 3h0m0 3h0m1-1h0m0 0h0m1-2h0m0 0h0m1-3h0m2 1h0m8 0h0m0 2h0m5 1h0m3-3h0m1 3h0m0 0h0m5-1h0m1 3h0m4-7h0m1 2h0m0 5h0m2-5h0m2 5h0m1-5h0m8 5h0m4-1h0m1-1h0m9-4h0m3 1h0m1 3h0m2-2h0m1-1h0m19-2h0m-285 14h0m3-6h0m4 3h0m4-3h0m0 5h0m3-1h0m2-3h0m0 3h0m1-1h0m1-2h0m1 0h0m1-1h0m2 6h0m4-2h0m1 1h0m3 1h0m0 1h0m1-2h0m1 1h0m4-4h0m2 5h0m9-1h0m5-6h0m0 5h0m3 0h0m6 0h0m7 2h0m1-7h0m4 1h0m0 0h0m3 2h0m12-1h0m4 2h0m1-3h0m0 3h0m3 3h0m4-5h0m1 5h0m7-6h0m9 1h0m2 2h0m2-1h0m0 4h0m5-4h0m1-1h0m0 3h0m10-3h0m3 3h0m3-3h0m1 0h0m2 2h0m1 0h0m11-3h0m4-1h0m8 5h0m4 0h0m2 2h0m2-5h0m1 3h0m3-5h0m4 5h0m2-3h0m13 4h0m1-4h0m1-2h0m2 7h0m1-3h0m1-4h0m1 6h0m0 1h0m3-6h0m6 6h0m1-1h0m2-6h0m1 1h0m1 0h0m3 2h0m5 1h0m2 2h0m1-4h0m3-2h0m2 0h0m1 4h0m4-1h0m1 4h0m3-3h0m2-3h0m0 3h0m1-4h0m4 7h0m5-7h0m9 7h0m1-1h0m1-4h0m0 4h0m1 1h0m3-6h0m11 4h0m-278 5h0m1 3h0m6-2h0m1-2h0m6 0h0m0 1h0m6 3h0m2 0h0m3-2h0m0 4h0m3 0h0m1-5h0m6 4h0m2-2h0m1-4h0m1 6h0m3 1h0m1-3h0m1 1h0m1-3h0m7 1h0m0 3h0m7-3h0m3 0h0m3-3h0m0 7h0m1 0h0m6-3h0m0 1h0m2-3h0m0 2h0m1 2h0m2 0h0m4-4h0m6 0h0m3-2h0m1 0h0m1 0h0m1 1h0m10 1h0m6 4h0m2 0h0m1-3h0m2-2h0m1 0h0m4 5h0m3-6h0m6 0h0m2 2h0m2-2h0m1 6h0m1-5h0m0 1h0m2 3h0m4-1h0m2 1h0m3 1h0m2-2h0m5-1h0m0 1h0m2 1h0m1-3h0m2 4h0m1-2h0m2 3h0m2-3h0m3 3h0m2-5h0m0 3h0m1-2h0m2-3h0m2 3h0m3-3h0m0 7h0m12-3h0m1-3h0m5 2h0m1-2h0m2 2h0m0 3h0m3-3h0m1 0h0m5-3h0m4 3h0m1 0h0m1 0h0m1 4h0m1-2h0m1 0h0m2-4h0m0 4h0m1-5h0m1 0h0m4 5h0m7 1h0m3-6h0m3 4h0m0 2h0m2-3h0m0 2h0m8-4h0m4-1h0m0 1h0m0 1h0m8 3h0m1-2h0m2 2h0m7-1h0m3-2h0m1-2h0m7 7h0m-288 7h0m6-2h0m3 2h0m3-4h0m5-1h0m7-1h0m6 4h0m6 1h0m0 2h0m2-7h0m2 4h0m2 2h0m4-1h0m2-4h0m8 1h0m7 3h0m0 1h0m4-6h0m2 7h0m10-6h0m3 6h0m8-3h0m0 2h0m5 0h0m8-4h0m4 5h0m9-6h0m7 0h0m2 2h0m2 0h0m7 3h0m4-2h0m1-4h0m0 1h0m2 2h0m4 2h0m1-3h0m8 0h0m5 0h0m1-1h0m2 0h0m2 1h0m0 4h0m1-4h0m10 5h0m4-6h0m4 6h0m10-6h0m4 0h0m18 3h0m4-4h0m1 5h0m5-1h0m2-3h0m6 3h0m6-3h0m3-1h0m0 4h0m0 3h0m1-7h0m0 1h0m2 4h0m11-2h0m2-2h0m1-1h0m3 3h0m1 2h0m2-5h0m0 3h0m4 3h0m2 1h0m3 0h0m2-1h0m4-3h0m0 0h0m0 1h0m-261 7h0m0 2h0m2-4h0m2 1h0m2 0h0m2-1h0m2-1h0m0 5h0m1 0h0m2-3h0m1 3h0m9 0h0m4 1h0m6-2h0m0 1h0m0 1h0m4-3h0m9 1h0m8 1h0m2-2h0m6 2h0m13-2h0m3-2h0m14 0h0m3-1h0m2 6h0m1-2h0m0 1h0m6 2h0m4-4h0m4 0h0m1 4h0m9-3h0m2-2h0m7-1h0m2 4h0m1 0h0m2-1h0m5-3h0m9 1h0m2 4h0m0 0h0m8-6h0m2 5h0m0 0h0m1 2h0m17-7h0m0 3h0m1 4h0m2-7h0m3 2h0m3 4h0m1-2h0m8 1h0m9-5h0m4 5h0m0 1h0m3 1h0m6 0h0m1-5h0m3 0h0m0 5h0m5-5h0m4 3h0m11-5h0m9 7h0m5-7h0m0 6h0m4-4h0m4 3h0m-285 8h0m4-2h0m5 1h0m5-4h0m4 5h0m19-4h0m0 3h0m3-1h0m1 1h0m1 3h0m1-7h0m3 3h0m0 4h0m5-3h0m3-1h0m3 1h0m1 3h0m8-3h0m1-4h0m5 6h0m3-3h0m5 2h0m0 2h0m5-4h0m15 0h0m0 3h0m2-4h0m1-1h0m1 1h0m0 1h0m0 3h0m5 0h0m4 0h0m1-1h0m1-3h0m17 5h0m1-4h0m3-2h0m11 0h0m2 1h0m2-1h0m5 0h0m1 4h0m8 0h0m3-5h0m5 3h0m5 3h0m4 1h0m4-2h0m1-5h0m0 3h0m0 1h0m3 2h0m5-3h0m7-2h0m1 0h0m0 3h0m1 3h0m6-5h0m6 2h0m2-4h0m0 0h0m2 4h0m4 3h0m9-5h0m7 2h0m2 3h0m2-2h0m2 1h0m1-6h0m1 1h0m1-1h0m4 4h0m4 0h0m3-4h0m0 2h0m0 5h0m2-4h0m2-2h0m22 0h0m2 2h0m-286 9h0m1 3h0m1-4h0m1-1h0m6 2h0m6-4h0m1 2h0m3 2h0m3-2h0m0 0h0m3 5h0m2-2h0m0 1h0m13 1h0m3-7h0m4 5h0m7 2h0m2-6h0m8 6h0m1-5h0m1 3h0m0 1h0m2-1h0m0 2h0m8-7h0m3 6h0m2 0h0m1 0h0m1-6h0m0 2h0m2 4h0m2-6h0m2 7h0m11-1h0m1 0h0m4-6h0m0 2h0m2-1h0m2 1h0m12 1h0m4-2h0m0 3h0m2 0h0m8-2h0m0 5h0m1-5h0m3 2h0m3-4h0m0 2h0m7 0h0m18-2h0m6 4h0m5 2h0m1-4h0m3 4h0m4 1h0m3-5h0m0 1h0m2 0h0m3 0h0m1 0h0m3 4h0m3-2h0m6 1h0m5-4h0m2-2h0m0 6h0m1-4h0m2-2h0m1 5h0m2 0h0m9-2h0m2 1h0m0 3h0m5-7h0m0 1h0m0 1h0m4 2h0m3 0h0m4 2h0m1-5h0m1 3h0m0 2h0m5-5h0m0 5h0m2 0h0m2-3h0m1 3h0m2 1h0m2-3h0m10-2h0m2-1h0m4 6h0m5-2h0m1-1h0m-284 7h0m1 2h0m3-1h0m6-1h0m4-1h0m7 5h0m9-3h0m1 0h0m0 1h0m0 0h0m2-5h0m0 6h0m10-6h0m1 5h0m0 0h0m3-5h0m8 4h0m4 0h0m0 1h0m2-1h0m1 3h0m6 0h0m1-3h0m4-2h0m3 2h0m2 2h0m3-6h0m0 6h0m3-3h0m7-3h0m2 4h0m0 2h0m1 0h0m5-5h0m2 4h0m6-5h0m5 5h0m0 2h0m6-1h0m0 1h0m1-3h0m0 2h0m3-5h0m1 1h0m0 3h0m0 1h0m1-2h0m0 3h0m10-7h0m0 2h0m8 4h0m2 0h0m3-6h0m0 0h0m5 7h0m3-2h0m0 2h0m10-7h0m8 3h0m5 3h0m2-5h0m11 1h0m14-2h0m2 4h0m3-1h0m2-3h0m0 6h0m1-4h0m4 4h0m2-5h0m6-1h0m2 3h0m2 1h0m0 3h0m1-5h0m4-1h0m10-1h0m0 4h0m3 1h0m6 2h0m8-3h0m1-1h0m2-3h0m2 7h0m2-2h0m1-1h0m2-1h0m5-2h0m3 4h0m4-4h0m-282 10h0m1-1h0m9 3h0m11-4h0m5 6h0m9 0h0m2-6h0m7 0h0m5 4h0m2 1h0m12-1h0m6-2h0m18 0h0m24-3h0m0 7h0m6-2h0m2-5h0m0 6h0m4-6h0m6 4h0m6-2h0m2 5h0m8-2h0m3-3h0m0 5h0m1-4h0m6-3h0m3 2h0m2 4h0m0 0h0m4-4h0m0 3h0m11-5h0m3 5h0m4 2h0m4 0h0m2-7h0m2 2h0m9-1h0m3 5h0m2-2h0m0 3h0m5-6h0m10 4h0m2-1h0m1 3h0m5-5h0m0 5h0m4 0h0m7-3h0m3-2h0m2 5h0m8-3h0m5-1h0m3 4h0m14-3h0m1 2h0m4-1h0m-281 10h0m2-3h0m3 3h0m1-4h0m0 2h0m6-2h0m4-3h0m3 1h0m1 1h0m0 4h0m2-3h0m5 3h0m4-1h0m1-1h0m3 1h0m1-4h0m0 1h0m0 0h0m7 1h0m10 2h0m1 0h0m1-5h0m6 0h0m2 7h0m3-1h0m3-3h0m2 2h0m3 1h0m6-3h0m2 2h0m2-4h0m3 4h0m1-2h0m0 0h0m5-2h0m0 2h0m10-2h0m2 2h0m1 3h0m2-4h0m4 0h0m2-1h0m2 1h0m3-1h0m0 4h0m4-3h0m8 2h0m6-3h0m3-1h0m3 0h0m0 2h0m3-2h0m7 6h0m4-3h0m0 1h0m0 2h0m9 1h0m3-3h0m1-2h0m2-1h0m5 1h0m1 0h0m1 2h0m0 1h0m2 0h0m1-5h0m1 4h0m4 2h0m2-4h0m9 1h0m8-2h0m5 4h0m3 1h0m1-5h0m5 3h0m0 0h0m2-3h0m2-1h0m2 6h0m4-5h0m3 5h0m1 1h0m3-7h0m2 3h0m0 4h0m5-7h0m2 2h0m1-1h0m1 2h0m3-1h0m1-1h0m6 1h0m10 1h0m4-3h0m5 7h0m1-4h0m1 2h0m5-1h0m3 0h0m1 0h0m-287 4h0m0 5h0m4-5h0m1 7h0m2-3h0m1 1h0m3-1h0m2-4h0m3 5h0m1-1h0m17 1h0m18-2h0m1 0h0m2 0h0m3 0h0m5 2h0m11 1h0m5-3h0m1 1h0m0 1h0m1-4h0m2 2h0m8-3h0m1 2h0m3 2h0m1 0h0m9-1h0m2-2h0m11 4h0m0 1h0m0 1h0m13-7h0m1 6h0m1 0h0m1-4h0m0 5h0m4-5h0m8 0h0m0 1h0m0 2h0m6 1h0m1-3h0m4 2h0m1 0h0m8 1h0m1-4h0m0 3h0m5 0h0m1-5h0m6 1h0m4 2h0m4 4h0m4-4h0m3-3h0m20 4h0m0 3h0m1 0h0m4-5h0m2-1h0m8 4h0m4 0h0m1-4h0m3 2h0m3-3h0m0 7h0m4-4h0m7 2h0m3-2h0m1-2h0m5 2h0m1-2h0m2-1h0m2 2h0m1 1h0m0 2h0m1 0h0m2-2h0m3-2h0m1 2h0m9-2h0m4 5h0m-287 7h0m2-2h0m0 4h0m2-6h0m1 6h0m3-5h0m0 5h0m5-4h0m4-2h0m7 5h0m2-3h0m2-3h0m4 5h0m4-2h0m0 4h0m2-1h0m0 1h0m1-5h0m1-1h0m3 1h0m7 0h0m6 3h0m1-2h0m8 1h0m3 0h0m10-2h0m3-2h0m0 1h0m0 3h0m3 3h0m3 0h0m8 0h0m4-3h0m8-3h0m0 6h0m2-4h0m0 4h0m1-6h0m0 5h0m1 0h0m3 1h0m2-2h0m7-3h0m3 5h0m6 0h0m5-1h0m3-1h0m17-5h0m0 2h0m9 3h0m3-5h0m1 0h0m4 0h0m1 0h0m4 0h0m1 7h0m2 0h0m3-1h0m1-2h0m2 3h0m1-3h0m6-3h0m0 4h0m1-3h0m9 0h0m1 1h0m6-3h0m2 2h0m2 2h0m2-2h0m5 5h0m1-1h0m4-4h0m1 4h0m2-5h0m0 5h0m2-5h0m4 0h0m7 0h0m0 6h0m1-2h0m1 2h0m4-4h0m2 0h0m0 2h0m4-5h0m4 1h0m2-1h0m4 5h0m5 1h0m4-5h0m1 2h0m11-2h0m1 4h0m-286 5h0m14 5h0m1-5h0m3 0h0m1-2h0m3 0h0m1 5h0m3 0h0m13-5h0m3 2h0m7 5h0m3 0h0m6-2h0m2-3h0m1 5h0m3-2h0m2-2h0m3 2h0m2-4h0m1 2h0m1-1h0m0 1h0m1 1h0m1 3h0m4-4h0m3 3h0m1-2h0m4-1h0m1-3h0m3 5h0m7-1h0m3-2h0m9 5h0m2-3h0m5-1h0m2 0h0m2 0h0m2-1h0m3 3h0m7-3h0m10-1h0m1 5h0m1 0h0m6 1h0m1-2h0m6 1h0m14-3h0m4 2h0m4 0h0m1-1h0m2 1h0m2 2h0m1-7h0m3 4h0m8 3h0m4-7h0m10 7h0m9-7h0m0 0h0m0 4h0m3-4h0m1 2h0m7 5h0m2-6h0m0 1h0m5-2h0m1 6h0m4-5h0m3 1h0m2-2h0m4 7h0m4-3h0m1-1h0m2 0h0m3-2h0m3 2h0m5 2h0m2 0h0m0 2h0m1-5h0m2 5h0m2-7h0m3 4h0m5-1h0m-286 12h0m1 0h0m0 0h0m3-3h0m2-3h0m4 3h0m2 0h0m3-4h0m4 1h0m0 4h0m2 2h0m11-5h0m1 2h0m2-3h0m2 0h0m0 3h0m4-2h0m7 0h0m10-1h0m5 0h0m0 5h0m7-1h0m2-4h0m20 4h0m4-1h0m9-2h0m3 3h0m1-3h0m13 1h0m2-2h0m6-1h0m2 4h0m1 2h0m4-2h0m9 2h0m4-1h0m0 1h0m9-3h0m1-2h0m0 1h0m1 2h0m1 0h0m5 3h0m1 0h0m3-7h0m3 4h0m5 1h0m2-3h0m3 3h0m1-4h0m2 2h0m2-3h0m0 0h0m3 2h0m1-2h0m1 4h0m8-4h0m0 4h0m3 0h0m2 2h0m4-3h0m0 2h0m1-4h0m0 5h0m2-5h0m0 2h0m1-1h0m13-2h0m2 2h0m1 5h0m2-1h0m1-5h0m0 5h0m3-6h0m2 7h0m6 0h0m1 0h0m2-1h0m1-1h0m1-3h0m3-1h0m1 1h0m5-2h0m9 0h0m3 6h0m5-2h0m2 3h0m1-1h0m5-1h0m-277 4h0m8 1h0m7 2h0m6-1h0m4 3h0m3-2h0m2-4h0m0 1h0m1 5h0m2-6h0m0 5h0m8-3h0m4 2h0m1 1h0m2 1h0m1 1h0m1-3h0m2 2h0m1-2h0m1-3h0m0 1h0m2 5h0m1-2h0m11 2h0m5-4h0m0 4h0m1-5h0m2 2h0m2 0h0m0 3h0m1-2h0m1 1h0m5 1h0m0 0h0m2-1h0m3-6h0m1 6h0m4-2h0m3 1h0m1 0h0m1-2h0m2 4h0m3-5h0m7 5h0m1-5h0m1 2h0m6 0h0m7 2h0m2-4h0m1 1h0m4-3h0m1 5h0m2 2h0m6-4h0m8 4h0m3-3h0m0 1h0m7-1h0m7-4h0m3 6h0m4-3h0m2 1h0m7-1h0m4 0h0m0 1h0m6 2h0m2-3h0m4-2h0m2 0h0m1 2h0m1-3h0m1 7h0m4-6h0m1-1h0m0 2h0m2 2h0m1-2h0m6 3h0m1-5h0m4 1h0m0 2h0m1 3h0m1 0h0m1 0h0m2-3h0m2-2h0m0 2h0m1 2h0m3-3h0m0 4h0m8 1h0m1-6h0m2-1h0m2 3h0m4 1h0m1-1h0m3 3h0m1-1h0m5 0h0m3-4h0m2 2h0m0 2h0m0 2h0m3 0h0m6-6h0m-284 14h0m3-7h0m4 7h0m1-5h0m18 2h0m2 2h0m3-3h0m0 3h0m1-2h0m2-1h0m3 1h0m18-2h0m1 0h0m6 1h0m10 1h0m2-1h0m6 0h0m4-1h0m0 2h0m1 1h0m6-4h0m2 3h0m1 2h0m1-3h0m2-1h0m1 1h0m1-2h0m3 0h0m0 6h0m1-7h0m3 1h0m5 3h0m2-1h0m5 3h0m9 0h0m4 1h0m3-6h0m1 5h0m1-4h0m2-2h0m4 1h0m0 3h0m2 2h0m3 0h0m3-1h0m5-2h0m1-2h0m3 0h0m4-1h0m9 3h0m2-3h0m4 2h0m10 0h0m0 2h0m0 2h0m5-3h0m1-3h0m2 6h0m3-1h0m3 2h0m1-3h0m1-3h0m11 2h0m5-1h0m2 1h0m0 3h0m3-4h0m0 3h0m3-3h0m0 3h0m8-3h0m0 1h0m1 2h0m5-4h0m0 0h0m6 1h0m3-1h0m3 5h0m0 1h0m2-5h0m9-2h0m4 0h0m2 6h0m7-5h0m4 1h0m-282 7h0m0 6h0m3-4h0m0 4h0m1-5h0m0 1h0m4-3h0m1 0h0m0 7h0m5-6h0m12 5h0m1-2h0m2-4h0m7 7h0m2 0h0m8-2h0m2-3h0m8 1h0m7 4h0m2-6h0m8 1h0m7 0h0m2 1h0m1-2h0m1 1h0m5 3h0m2-3h0m2 2h0m0 1h0m1 1h0m1-5h0m0 4h0m10-5h0m2 4h0m2-4h0m6 2h0m1 3h0m4 0h0m2 2h0m1-6h0m0 4h0m3-2h0m3 1h0m6 1h0m3 0h0m16-4h0m3 5h0m3-1h0m2-5h0m0 1h0m0 0h0m0 3h0m11 3h0m8-6h0m7 3h0m1-2h0m1 3h0m4 0h0m0 2h0m4-6h0m1-1h0m3 2h0m1 0h0m3 2h0m1 1h0m1 0h0m1-3h0m2-2h0m1 5h0m3-1h0m3-4h0m2 1h0m4-1h0m1 6h0m1-6h0m2 0h0m5 0h0m16 5h0m2-5h0m0 3h0m2-2h0m1 2h0m0 4h0m3 0h0m1-1h0m1-3h0m18 4h0m3-2h0m4-1h0m3 0h0m-287 4h0m0 7h0m1-2h0m6-3h0m9 0h0m1 1h0m1 1h0m3-2h0m4 5h0m5 0h0m10-7h0m1 0h0m4 2h0m2 1h0m0 3h0m6-5h0m7-1h0m0 1h0m12 4h0m1-5h0m0 4h0m2 0h0m5 2h0m4-6h0m2 7h0m2-3h0m1 3h0m1-5h0m5 4h0m5-6h0m1 5h0m3-2h0m1 0h0m4 1h0m1-3h0m1 1h0m2-2h0m4 0h0m0 7h0m8-4h0m0 3h0m4 1h0m3-7h0m0 2h0m5 3h0m0 1h0m8-3h0m3-3h0m2 2h0m0 2h0m0 3h0m4-1h0m1-6h0m2 2h0m2-2h0m4 1h0m4 4h0m3-4h0m2 3h0m1-1h0m2 2h0m1 1h0m2-6h0m2 3h0m1 4h0m5-2h0m1-1h0m2-2h0m1 2h0m9 1h0m6-5h0m1 2h0m2 1h0m12-3h0m0 4h0m2 1h0m2-1h0m2 2h0m2 1h0m2-4h0m2-2h0m6 3h0m2 1h0m3 1h0m3-1h0m3 0h0m1 0h0m2-5h0m1 0h0m3 0h0m7 3h0m1 0h0m2-3h0m2 3h0m0 0h0m0 1h0m3-1h0m1 2h0m10-5h0m0 1h0m1 6h0m4-5h0m-287 9h0m3 3h0m6-6h0m11 2h0m0 2h0m3-4h0m2 4h0m1-3h0m2 5h0m1-6h0m0 3h0m1 1h0m5-2h0m3 3h0m9-5h0m2 6h0m2-4h0m0 4h0m1-1h0m1-1h0m0 2h0m0 1h0m3-3h0m4-4h0m3 2h0m1 3h0m6-2h0m4-3h0m0 0h0m1 4h0m8-3h0m6 2h0m1-3h0m2 0h0m4 1h0m11 1h0m1 3h0m5-2h0m1-2h0m3 2h0m3 4h0m2-7h0m14 0h0m6 4h0m2-3h0m4-1h0m5 2h0m2-1h0m5 1h0m2 3h0m4-2h0m4-2h0m0 4h0m2 2h0m1-7h0m14 1h0m5 6h0m1-6h0m7 3h0m3 1h0m2-2h0m3 3h0m17 0h0m1-3h0m5 1h0m1-3h0m1 2h0m2-2h0m6-1h0m7 0h0m2 6h0m1-4h0m4 1h0m4 4h0m1-6h0m5 5h0m5 0h0m17-6h0" stroke="#D8D6D6" stroke-opacity="0.8" stroke-width="2.0" stroke-linecap="round" fill="none"/><ellipse cx="215" cy="698" rx="19" ry="16" fill="#F5F3F1" stroke="#E6E0DA" stroke-width="1"/><ellipse cx="271" cy="734" rx="21" ry="22" fill="#F5F3F1" stroke="#E6E0DA" stroke-width="1"/><ellipse cx="311" cy="693" rx="12" ry="21" fill="#F5F3F1" stroke="#E6E0DA" stroke-width="1"/><ellipse cx="187" cy="752" rx="11" ry="16" fill="#F5F3F1" stroke="#E6E0DA" stroke-width="1"/><path transform="translate(177 673) scale(.5)" d="M29 14l2 0M34 35l0 2M28 42l-2 1M22 51l-1 -2M13 67l-1 -2M17 76l0 1M37 76l-1 1M79 13l2 -2M98 6l2 -1M112 10l-2 -1M132 11l1 0M140 28l-1 1M129 37l-1 -2M124 51l-1 2M115 56l2 1M132 56l-1 -1M140 70l-2 -2M67 90l-1 -1M93 87l-1 -1M132 84l0 0M148 13l-1 2M161 14l-1 -1M179 15l-1 1M197 6l0 -2M164 28l0 1M189 27l-1 -1M192 35l0 -2M209 44l0 0M193 48l2 2M183 56l-2 2M200 65l0 -2M228 65l0 0M150 70l0 1M203 81l0 -1M241 11l1 1M284 79l-1 -2M7 102l0 -2M52 109l0 1M69 112l-2 2M56 120l1 0M101 106l1 2M111 115l-2 1M124 125l-2 -1M55 133l2 -1M67 139l-2 -1M79 140l1 0M96 136l2 0M93 146l2 0M107 147l1 -2M125 153l2 0M135 140l0 -2M126 170l1 -2M66 171l-1 0M81 182l2 2M115 182l0 -1M132 191l0 0M157 104l2 -2M157 133l0 0M220 109l0 -1M234 112l-2 -1M256 118l0 1M265 129l-1 -2M279 112l-2 2M240 137l2 1M254 143l-2 -1M251 154l2 0M225 167l0 1M207 172l1 -1M237 171l-2 -2M262 171l1 0M225 194l-1 -1M279 194l2 -1M88 100l1 -2M144 44l-1 1M172 40l0 -1M242 88l-2 1M272 96l0 -1M116 96l1 2M100 196l-1 2M176 184l1 1" stroke="#A8BCEA" stroke-width="11" stroke-linecap="round" fill="none" stroke-opacity="0.7"/><path transform="translate(177 673) scale(.5)" d="M29 14l2 0M34 35l0 2M28 42l-2 1M22 51l-1 -2M13 67l-1 -2M17 76l0 1M37 76l-1 1M79 13l2 -2M98 6l2 -1M112 10l-2 -1M132 11l1 0M140 28l-1 1M129 37l-1 -2M124 51l-1 2M115 56l2 1M132 56l-1 -1M140 70l-2 -2M67 90l-1 -1M93 87l-1 -1M132 84l0 0M148 13l-1 2M161 14l-1 -1M179 15l-1 1M197 6l0 -2M164 28l0 1M189 27l-1 -1M192 35l0 -2M209 44l0 0M193 48l2 2M183 56l-2 2M200 65l0 -2M228 65l0 0M150 70l0 1M203 81l0 -1M241 11l1 1M284 79l-1 -2M7 102l0 -2M52 109l0 1M69 112l-2 2M56 120l1 0M101 106l1 2M111 115l-2 1M124 125l-2 -1M55 133l2 -1M67 139l-2 -1M79 140l1 0M96 136l2 0M93 146l2 0M107 147l1 -2M125 153l2 0M135 140l0 -2M126 170l1 -2M66 171l-1 0M81 182l2 2M115 182l0 -1M132 191l0 0M157 104l2 -2M157 133l0 0M220 109l0 -1M234 112l-2 -1M256 118l0 1M265 129l-1 -2M279 112l-2 2M240 137l2 1M254 143l-2 -1M251 154l2 0M225 167l0 1M207 172l1 -1M237 171l-2 -2M262 171l1 0M225 194l-1 -1M279 194l2 -1M88 100l1 -2M144 44l-1 1M172 40l0 -1M242 88l-2 1M272 96l0 -1M116 96l1 2M100 196l-1 2M176 184l1 1" stroke="#7C96DA" stroke-width="7.5" stroke-linecap="round" fill="none" stroke-opacity="0.85"/><path transform="translate(177 673) scale(.5)" d="M20 25v6" stroke="#6E3410" stroke-width="12" stroke-linecap="round" fill="none" stroke-opacity="0.9"/><path transform="translate(177 673) scale(.5)" d="M17 57v4" stroke="#7A3C14" stroke-width="10" stroke-linecap="round" fill="none" stroke-opacity="0.9"/><path transform="translate(177 673) scale(.5)" d="M128 19v4" stroke="#8A4A20" stroke-width="10" stroke-linecap="round" fill="none" stroke-opacity="0.9"/><path transform="translate(177 673) scale(.5)" d="M114 74v6" stroke="#6E3410" stroke-width="12" stroke-linecap="round" fill="none" stroke-opacity="0.9"/><path transform="translate(177 673) scale(.5)" d="M40 94v4" stroke="#A07050" stroke-width="10" stroke-linecap="round" fill="none" stroke-opacity="0.9"/><path transform="translate(177 673) scale(.5)" d="M220 13v4" stroke="#8A5028" stroke-width="10" stroke-linecap="round" fill="none" stroke-opacity="0.9"/><path transform="translate(177 673) scale(.5)" d="M237 3v2" stroke="#9A6040" stroke-width="8" stroke-linecap="round" fill="none" stroke-opacity="0.9"/><path transform="translate(177 673) scale(.5)" d="M225 95v2" stroke="#B09080" stroke-width="8" stroke-linecap="round" fill="none" stroke-opacity="0.9"/><path transform="translate(177 673) scale(.5)" d="M86 125v4" stroke="#6A3414" stroke-width="10" stroke-linecap="round" fill="none" stroke-opacity="0.9"/><path transform="translate(177 673) scale(.5)" d="M70 127v4" stroke="#A88468" stroke-width="10" stroke-linecap="round" fill="none" stroke-opacity="0.9"/><path transform="translate(177 673) scale(.5)" d="M58 151v4" stroke="#6E3010" stroke-width="10" stroke-linecap="round" fill="none" stroke-opacity="0.9"/><path transform="translate(177 673) scale(.5)" d="M97 162v6" stroke="#9C6C48" stroke-width="12" stroke-linecap="round" fill="none" stroke-opacity="0.9"/><path transform="translate(177 673) scale(.5)" d="M147 124v2" stroke="#B8A090" stroke-width="8" stroke-linecap="round" fill="none" stroke-opacity="0.9"/><path transform="translate(177 673) scale(.5)" d="M247 113v4" stroke="#8A5030" stroke-width="10" stroke-linecap="round" fill="none" stroke-opacity="0.9"/><path transform="translate(177 673) scale(.5)" d="M249 131v2" stroke="#8A5030" stroke-width="8" stroke-linecap="round" fill="none" stroke-opacity="0.9"/><path transform="translate(177 673) scale(.5)" d="M273 141v4" stroke="#8E5A38" stroke-width="10" stroke-linecap="round" fill="none" stroke-opacity="0.9"/><path transform="translate(177 673) scale(.5)" d="M284 148v4" stroke="#9A6848" stroke-width="10" stroke-linecap="round" fill="none" stroke-opacity="0.9"/><path transform="translate(177 673) scale(.5)" d="M240 101v2" stroke="#9A7058" stroke-width="8" stroke-linecap="round" fill="none" stroke-opacity="0.9"/><rect x="277" y="764.1" width="40.8" height="2.6" fill="#000"/></g></g>
<text x="10.4" y="21.8" font-size="16" text-anchor="start" fill="#000" font-weight="bold" >A</text>
<text transform="translate(20.9,104.3) rotate(-90)" x="0" y="0" font-size="12" text-anchor="middle" fill="#000" stroke="#000" stroke-width="0.18" textLength="133" lengthAdjust="spacingAndGlyphs" >Percentage of leukemic cells (in PB)</text>
<text x="33.6" y="152.8" font-size="8.5" text-anchor="end" fill="#000" stroke="#000" stroke-width="0.18" textLength="5.9" lengthAdjust="spacingAndGlyphs" >0</text>
<line x1="37.6" y1="149.8" x2="41.5" y2="149.8" stroke="#000" stroke-width="1.2"/>
<text x="33.6" y="123.8" font-size="8.5" text-anchor="end" fill="#000" stroke="#000" stroke-width="0.18" textLength="5.9" lengthAdjust="spacingAndGlyphs" >1</text>
<line x1="37.6" y1="120.8" x2="41.5" y2="120.8" stroke="#000" stroke-width="1.2"/>
<text x="33.6" y="95.1" font-size="8.5" text-anchor="end" fill="#000" stroke="#000" stroke-width="0.18" textLength="5.9" lengthAdjust="spacingAndGlyphs" >2</text>
<line x1="37.6" y1="92.1" x2="41.5" y2="92.1" stroke="#000" stroke-width="1.2"/>
<text x="33.6" y="65.5" font-size="8.5" text-anchor="end" fill="#000" stroke="#000" stroke-width="0.18" textLength="5.9" lengthAdjust="spacingAndGlyphs" >3</text>
<line x1="37.6" y1="62.5" x2="41.5" y2="62.5" stroke="#000" stroke-width="1.2"/>
<rect x="52.2" y="115.3" width="44.8" height="34.5" fill="#DA8C1C" />
<rect x="117.9" y="82" width="45" height="67.8" fill="#A1002A" />
<line x1="41.9" y1="57.9" x2="41.9" y2="150.9" stroke="#000" stroke-width="1.8"/>
<line x1="41" y1="150.1" x2="173.7" y2="150.1" stroke="#000" stroke-width="1.6"/>
<line x1="74.7" y1="150" x2="74.7" y2="154" stroke="#000" stroke-width="1.3"/>
<line x1="140.3" y1="150" x2="140.3" y2="154" stroke="#000" stroke-width="1.3"/>
<path d="M74.7,115.3 V107.5 M64,107.5 H85.5" stroke="#000" stroke-width="1.2" fill="none" />
<path d="M140.3,82 V66.6 M129.5,66.6 H151" stroke="#000" stroke-width="1.2" fill="none" />
<path d="M72.7,95 V35.4 H142.4 V62.5" stroke="#000" stroke-width="1.2" fill="none" />
<circle cx="107.5" cy="31.1" r="0.9" fill="#000"/>
<text transform="translate(79.0,164.2) rotate(-45)" x="0" y="0" font-size="8.8" text-anchor="end" fill="#000" stroke="#000" stroke-width="0.18" >Vehicle</text>
<text transform="translate(145.0,164.2) rotate(-45)" x="0" y="0" font-size="8.8" text-anchor="end" fill="#000" stroke="#000" stroke-width="0.18" >Aza/Pano</text>
<text x="195.2" y="21.8" font-size="16" text-anchor="start" fill="#000" font-weight="bold" >B</text>
<text x="333.8" y="18" font-size="11.3" text-anchor="start" fill="#000" stroke="#000" stroke-width="0.18" textLength="29.6" lengthAdjust="spacingAndGlyphs" >Day 8</text>
<line x1="333.5" y1="19.8" x2="363.8" y2="19.8" stroke="#333" stroke-width="0.9"/>
<text x="279.6" y="32.7" font-size="8.7" text-anchor="middle" fill="#000" stroke="#000" stroke-width="0.18" >Vechile</text>
<text x="405.9" y="32.8" font-size="8.5" text-anchor="middle" fill="#000" stroke="#000" stroke-width="0.18" >AP</text>
<text transform="translate(202.2,80.2) rotate(-90)" x="0" y="0" font-size="8.6" text-anchor="middle" fill="#000" stroke="#000" stroke-width="0.18" >Human</text>
<text transform="translate(214.0,80.0) rotate(-90)" x="0" y="0" font-size="8.8" text-anchor="middle" fill="#000" stroke="#000" stroke-width="0.18" >Mitochondria</text>
<text transform="translate(214.1,165.2) rotate(-90)" x="0" y="0" font-size="8.7" text-anchor="middle" fill="#000" stroke="#000" stroke-width="0.18" >H&amp;E</text>
<text x="10.6" y="238.3" font-size="16" text-anchor="start" fill="#000" font-weight="bold" >C</text>
<text x="88.8" y="252.9" font-size="11.7" text-anchor="start" fill="#000" stroke="#000" stroke-width="0.18" textLength="73.5" lengthAdjust="spacingAndGlyphs" >Surface CD81</text>
<text transform="translate(20.8,311.4) rotate(-90)" x="0" y="0" font-size="11.8" text-anchor="middle" fill="#000" font-weight="bold" textLength="32.1" lengthAdjust="spacingAndGlyphs" >APC MFI</text>
<text x="54.1" y="358.0" font-size="8.2" text-anchor="end" fill="#000" stroke="#000" stroke-width="0.18" textLength="4.6" lengthAdjust="spacingAndGlyphs" >0</text>
<line x1="58.6" y1="355.1" x2="62.9" y2="355.1" stroke="#000" stroke-width="1.2"/>
<text x="54.1" y="337.29999999999995" font-size="8.2" text-anchor="end" fill="#000" stroke="#000" stroke-width="0.18" textLength="25.8" lengthAdjust="spacingAndGlyphs" >20000</text>
<line x1="58.6" y1="334.4" x2="62.9" y2="334.4" stroke="#000" stroke-width="1.2"/>
<text x="54.1" y="316.29999999999995" font-size="8.2" text-anchor="end" fill="#000" stroke="#000" stroke-width="0.18" textLength="25.8" lengthAdjust="spacingAndGlyphs" >40000</text>
<line x1="58.6" y1="313.4" x2="62.9" y2="313.4" stroke="#000" stroke-width="1.2"/>
<text x="54.1" y="295.4" font-size="8.2" text-anchor="end" fill="#000" stroke="#000" stroke-width="0.18" textLength="25.8" lengthAdjust="spacingAndGlyphs" >60000</text>
<line x1="58.6" y1="292.5" x2="62.9" y2="292.5" stroke="#000" stroke-width="1.2"/>
<text x="54.1" y="274.59999999999997" font-size="8.2" text-anchor="end" fill="#000" stroke="#000" stroke-width="0.18" textLength="25.8" lengthAdjust="spacingAndGlyphs" >80000</text>
<line x1="58.6" y1="271.7" x2="62.9" y2="271.7" stroke="#000" stroke-width="1.2"/>
<rect x="68" y="318.9" width="21" height="36.5" fill="#4B5468" />
<path d="M78.5,318.9 V315.6 M73.5,315.6 H83.5" stroke="#000" stroke-width="1.1" fill="none" />
<line x1="78.5" y1="355.2" x2="78.5" y2="359" stroke="#000" stroke-width="1.1"/>
<text x="78.5" y="349.3" font-size="8.3" text-anchor="middle" fill="#fff" stroke="#fff" stroke-width="0.18" >1</text>
<rect x="99.6" y="334.5" width="21.0" height="20.899999999999977" fill="#A9B981" />
<path d="M110.1,334.5 V331.8 M105.1,331.8 H115.1" stroke="#000" stroke-width="1.1" fill="none" />
<line x1="110.1" y1="355.2" x2="110.1" y2="359" stroke="#000" stroke-width="1.1"/>
<text x="110.1" y="349.3" font-size="8.3" text-anchor="middle" fill="#fff" stroke="#fff" stroke-width="0.18" >2</text>
<rect x="131.4" y="279" width="20.69999999999999" height="76.39999999999998" fill="#4F1F61" />
<path d="M141.75,279 V277.1 M136.75,277.1 H146.75" stroke="#000" stroke-width="1.1" fill="none" />
<line x1="141.75" y1="355.2" x2="141.75" y2="359" stroke="#000" stroke-width="1.1"/>
<text x="141.75" y="349.3" font-size="8.3" text-anchor="middle" fill="#fff" stroke="#fff" stroke-width="0.18" >3</text>
<rect x="162.3" y="330.7" width="21.0" height="24.69999999999999" fill="#8B80C2" />
<path d="M172.8,330.7 V320.7 M167.8,320.7 H177.8" stroke="#000" stroke-width="1.1" fill="none" />
<line x1="172.8" y1="355.2" x2="172.8" y2="359" stroke="#000" stroke-width="1.1"/>
<text x="172.8" y="349.3" font-size="8.3" text-anchor="middle" fill="#fff" stroke="#fff" stroke-width="0.18" >4</text>
<line x1="62.9" y1="267.3" x2="62.9" y2="356.2" stroke="#000" stroke-width="1.7"/>
<line x1="62.1" y1="355.4" x2="189.8" y2="355.4" stroke="#000" stroke-width="1.6"/>
<path d="M78.5,310.8 V265.8 H141.6 V273.6" stroke="#000" stroke-width="1.1" fill="none" />
<path d="M145.6,273.6 V265.8 H173.6 V312" stroke="#000" stroke-width="1.1" fill="none" />
<path d="M78.5,298.7 H110.3 V330.2" stroke="#000" stroke-width="1.1" fill="none" />
<circle cx="109.7" cy="262.3" r="0.75" fill="#000"/><circle cx="112.7" cy="262.3" r="0.75" fill="#000"/>
<circle cx="159.6" cy="262.3" r="0.65" fill="#000"/>
<circle cx="94.2" cy="293.8" r="0.65" fill="#000"/>
<text transform="translate(82.1,369.0) rotate(-45)" x="0" y="0" font-size="9" text-anchor="end" fill="#000" stroke="#000" stroke-width="0.18" >Vehicle PB</text>
<text transform="translate(113.69999999999999,369.0) rotate(-45)" x="0" y="0" font-size="9" text-anchor="end" fill="#000" stroke="#000" stroke-width="0.18" >AP PB</text>
<text transform="translate(145.35,369.0) rotate(-45)" x="0" y="0" font-size="9" text-anchor="end" fill="#000" stroke="#000" stroke-width="0.18" >Vehicle BM</text>
<text transform="translate(176.4,369.0) rotate(-45)" x="0" y="0" font-size="9" text-anchor="end" fill="#000" stroke="#000" stroke-width="0.18" >AP BM</text>
<text x="243.4" y="252.8" font-size="11.7" text-anchor="start" fill="#000" stroke="#000" stroke-width="0.18" textLength="105.8" lengthAdjust="spacingAndGlyphs" >Surface Blood CD81</text>
<text x="234.8" y="369.40000000000003" font-size="8.8" text-anchor="end" fill="#000" stroke="#000" stroke-width="0.18" textLength="4.9" lengthAdjust="spacingAndGlyphs" >0</text>
<line x1="239.7" y1="366.3" x2="244" y2="366.3" stroke="#000" stroke-width="1.1"/>
<text x="234.8" y="350.20000000000005" font-size="8.8" text-anchor="end" fill="#000" stroke="#000" stroke-width="0.18" textLength="9.7" lengthAdjust="spacingAndGlyphs" >20</text>
<line x1="239.7" y1="347.1" x2="244" y2="347.1" stroke="#000" stroke-width="1.1"/>
<text x="234.8" y="331.00000000000006" font-size="8.8" text-anchor="end" fill="#000" stroke="#000" stroke-width="0.18" textLength="9.7" lengthAdjust="spacingAndGlyphs" >40</text>
<line x1="239.7" y1="327.90000000000003" x2="244" y2="327.90000000000003" stroke="#000" stroke-width="1.1"/>
<text x="234.8" y="311.80000000000007" font-size="8.8" text-anchor="end" fill="#000" stroke="#000" stroke-width="0.18" textLength="9.7" lengthAdjust="spacingAndGlyphs" >60</text>
<line x1="239.7" y1="308.70000000000005" x2="244" y2="308.70000000000005" stroke="#000" stroke-width="1.1"/>
<text x="234.8" y="292.6" font-size="8.8" text-anchor="end" fill="#000" stroke="#000" stroke-width="0.18" textLength="9.7" lengthAdjust="spacingAndGlyphs" >80</text>
<line x1="239.7" y1="289.5" x2="244" y2="289.5" stroke="#000" stroke-width="1.1"/>
<text x="234.8" y="273.40000000000003" font-size="8.8" text-anchor="end" fill="#000" stroke="#000" stroke-width="0.18" textLength="14.4" lengthAdjust="spacingAndGlyphs" >100</text>
<line x1="239.7" y1="270.3" x2="244" y2="270.3" stroke="#000" stroke-width="1.1"/>
<line x1="241.7" y1="362.46000000000004" x2="244" y2="362.46000000000004" stroke="#000" stroke-width="0.9"/>
<line x1="241.7" y1="358.62" x2="244" y2="358.62" stroke="#000" stroke-width="0.9"/>
<line x1="241.7" y1="354.78000000000003" x2="244" y2="354.78000000000003" stroke="#000" stroke-width="0.9"/>
<line x1="241.7" y1="350.94" x2="244" y2="350.94" stroke="#000" stroke-width="0.9"/>
<line x1="241.7" y1="343.26" x2="244" y2="343.26" stroke="#000" stroke-width="0.9"/>
<line x1="241.7" y1="339.42" x2="244" y2="339.42" stroke="#000" stroke-width="0.9"/>
<line x1="241.7" y1="335.58000000000004" x2="244" y2="335.58000000000004" stroke="#000" stroke-width="0.9"/>
<line x1="241.7" y1="331.74" x2="244" y2="331.74" stroke="#000" stroke-width="0.9"/>
<line x1="241.7" y1="324.06" x2="244" y2="324.06" stroke="#000" stroke-width="0.9"/>
<line x1="241.7" y1="320.22" x2="244" y2="320.22" stroke="#000" stroke-width="0.9"/>
<line x1="241.7" y1="316.38" x2="244" y2="316.38" stroke="#000" stroke-width="0.9"/>
<line x1="241.7" y1="312.54" x2="244" y2="312.54" stroke="#000" stroke-width="0.9"/>
<line x1="241.7" y1="304.86" x2="244" y2="304.86" stroke="#000" stroke-width="0.9"/>
<line x1="241.7" y1="301.02" x2="244" y2="301.02" stroke="#000" stroke-width="0.9"/>
<line x1="241.7" y1="297.18" x2="244" y2="297.18" stroke="#000" stroke-width="0.9"/>
<line x1="241.7" y1="293.34000000000003" x2="244" y2="293.34000000000003" stroke="#000" stroke-width="0.9"/>
<line x1="241.7" y1="285.66" x2="244" y2="285.66" stroke="#000" stroke-width="0.9"/>
<line x1="241.7" y1="281.82000000000005" x2="244" y2="281.82000000000005" stroke="#000" stroke-width="0.9"/>
<line x1="241.7" y1="277.98" x2="244" y2="277.98" stroke="#000" stroke-width="0.9"/>
<line x1="241.7" y1="274.14" x2="244" y2="274.14" stroke="#000" stroke-width="0.9"/>
<line x1="241.7" y1="266.46000000000004" x2="244" y2="266.46000000000004" stroke="#000" stroke-width="0.9"/>
<line x1="241.7" y1="262.62" x2="244" y2="262.62" stroke="#000" stroke-width="0.9"/>
<text transform="translate(212.2,313.3) rotate(-90)" x="0" y="0" font-size="12.3" text-anchor="middle" fill="#000" font-weight="bold" textLength="37.8" lengthAdjust="spacingAndGlyphs" >Count (%)</text>
<path d="M273.10,366.19 C273.23,366.17 273.61,366.13 273.86,366.05 C274.11,365.98 274.36,365.90 274.62,365.76 C274.87,365.61 275.12,365.45 275.38,365.18 C275.63,364.90 275.88,364.59 276.13,364.12 C276.39,363.65 276.64,363.10 276.89,362.34 C277.14,361.58 277.40,360.69 277.65,359.56 C277.90,358.42 278.16,357.09 278.41,355.52 C278.66,353.95 278.91,352.12 279.17,350.13 C279.42,348.13 279.67,345.85 279.93,343.54 C280.18,341.23 280.43,338.66 280.68,336.25 C280.94,333.85 281.19,331.29 281.44,329.09 C281.69,326.89 281.95,324.72 282.20,323.07 C282.45,321.42 282.71,320.01 282.96,319.19 C283.21,318.37 283.46,317.74 283.72,318.17 C283.97,318.60 284.22,319.84 284.48,321.77 C284.73,323.69 284.98,326.74 285.23,329.71 C285.49,332.68 285.74,336.39 285.99,339.61 C286.24,342.82 286.50,346.22 286.75,349.01 C287.00,351.80 287.26,354.32 287.51,356.35 C287.76,358.39 288.01,359.94 288.27,361.22 C288.52,362.49 288.77,363.30 289.03,364.00 C289.28,364.69 289.53,365.04 289.78,365.37 C290.04,365.70 290.29,365.83 290.54,365.97 C290.79,366.11 291.17,366.16 291.30,366.19 Z" fill="#E8E8EE" stroke="#A2A2B6" stroke-width="1"/>
<path d="M282.00,313.50 C282.50,313.35 284.00,312.67 285.00,312.60 C286.00,312.53 287.00,313.15 288.00,313.10 C289.00,313.05 290.00,312.33 291.00,312.30 C292.00,312.27 292.92,312.82 294.00,312.90 C295.08,312.98 296.63,315.23 297.50,312.80 C298.37,310.37 298.63,304.43 299.20,298.30 C299.77,292.17 300.23,281.55 300.90,276.00 C301.57,270.45 302.47,265.33 303.20,265.00 C303.93,264.67 304.62,269.03 305.30,274.00 C305.98,278.97 306.67,289.32 307.30,294.80 C307.93,300.28 308.52,303.97 309.10,306.90 C309.68,309.83 310.15,311.30 310.80,312.40 C311.45,313.50 312.63,313.32 313.00,313.50 Z" fill="#EDB055" fill-opacity="0.75"/>
<path d="M286.00,339.80 C286.33,339.77 287.25,340.18 288.00,339.60 C288.75,339.02 289.65,337.72 290.50,336.30 C291.35,334.88 292.37,333.70 293.10,331.10 C293.83,328.50 294.32,324.73 294.90,320.70 C295.48,316.67 296.03,310.93 296.60,306.90 C297.17,302.87 297.72,299.00 298.30,296.50 C298.88,294.00 299.58,292.47 300.10,291.90 C300.62,291.33 300.83,291.47 301.40,293.10 C301.97,294.73 302.85,297.95 303.50,301.70 C304.15,305.45 304.72,311.27 305.30,315.60 C305.88,319.93 306.43,324.25 307.00,327.70 C307.57,331.15 307.98,334.28 308.70,336.30 C309.42,338.32 310.58,339.22 311.30,339.80 C312.02,340.38 312.72,339.80 313.00,339.80 Z" fill="#D98C8C" fill-opacity="0.4"/>
<path d="M244,313.5 L282,313.5 C282.50,313.35 284.00,312.67 285.00,312.60 C286.00,312.53 287.00,313.15 288.00,313.10 C289.00,313.05 290.00,312.33 291.00,312.30 C292.00,312.27 292.92,312.82 294.00,312.90 C295.08,312.98 296.63,315.23 297.50,312.80 C298.37,310.37 298.63,304.43 299.20,298.30 C299.77,292.17 300.23,281.55 300.90,276.00 C301.57,270.45 302.47,265.33 303.20,265.00 C303.93,264.67 304.62,269.03 305.30,274.00 C305.98,278.97 306.67,289.32 307.30,294.80 C307.93,300.28 308.52,303.97 309.10,306.90 C309.68,309.83 310.15,311.30 310.80,312.40 C311.45,313.50 312.63,313.32 313.00,313.50 L350.4,313.5" fill="none" stroke="#E69A2C" stroke-width="1.3"/>
<path d="M244,339.8 L286,339.8 C286.33,339.77 287.25,340.18 288.00,339.60 C288.75,339.02 289.65,337.72 290.50,336.30 C291.35,334.88 292.37,333.70 293.10,331.10 C293.83,328.50 294.32,324.73 294.90,320.70 C295.48,316.67 296.03,310.93 296.60,306.90 C297.17,302.87 297.72,299.00 298.30,296.50 C298.88,294.00 299.58,292.47 300.10,291.90 C300.62,291.33 300.83,291.47 301.40,293.10 C301.97,294.73 302.85,297.95 303.50,301.70 C304.15,305.45 304.72,311.27 305.30,315.60 C305.88,319.93 306.43,324.25 307.00,327.70 C307.57,331.15 307.98,334.28 308.70,336.30 C309.42,338.32 310.58,339.22 311.30,339.80 C312.02,340.38 312.72,339.80 313.00,339.80 L350.4,339.8" fill="none" stroke="#B3123C" stroke-width="1.3"/>
<line x1="239.7" y1="260" x2="350.9" y2="260" stroke="#000" stroke-width="1.1"/>
<line x1="350.4" y1="260" x2="350.4" y2="366.3" stroke="#000" stroke-width="1.1"/>
<line x1="244" y1="259.5" x2="244" y2="366.90000000000003" stroke="#000" stroke-width="1.2"/>
<line x1="243.5" y1="366.3" x2="351.0" y2="366.3" stroke="#000" stroke-width="1.3"/>
<line x1="244.0" y1="366.3" x2="244.0" y2="369.5" stroke="#000" stroke-width="1.1"/>
<line x1="249.14761292585408" y1="366.3" x2="249.14761292585408" y2="368.1" stroke="#000" stroke-width="0.8"/>
<line x1="252.15877345570624" y1="366.3" x2="252.15877345570624" y2="368.1" stroke="#000" stroke-width="0.8"/>
<line x1="254.29522585170815" y1="366.3" x2="254.29522585170815" y2="368.1" stroke="#000" stroke-width="0.8"/>
<line x1="255.95238707414592" y1="366.3" x2="255.95238707414592" y2="368.1" stroke="#000" stroke-width="0.8"/>
<line x1="257.3063863815603" y1="366.3" x2="257.3063863815603" y2="368.1" stroke="#000" stroke-width="0.8"/>
<line x1="258.4511764842438" y1="366.3" x2="258.4511764842438" y2="368.1" stroke="#000" stroke-width="0.8"/>
<line x1="259.44283877756226" y1="366.3" x2="259.44283877756226" y2="368.1" stroke="#000" stroke-width="0.8"/>
<line x1="260.3175469114125" y1="366.3" x2="260.3175469114125" y2="368.1" stroke="#000" stroke-width="0.8"/>
<text x="242.7" y="382.2" font-size="8.6" text-anchor="middle" fill="#000" stroke="#000" stroke-width="0.18" textLength="9.5" lengthAdjust="spacingAndGlyphs" >10</text>
<text x="247.5" y="378.9" font-size="6.2" text-anchor="start" fill="#000" stroke="#000" stroke-width="0.18" >1</text>
<line x1="261.1" y1="366.3" x2="261.1" y2="369.5" stroke="#000" stroke-width="1.1"/>
<line x1="266.2476129258541" y1="366.3" x2="266.2476129258541" y2="368.1" stroke="#000" stroke-width="0.8"/>
<line x1="269.25877345570626" y1="366.3" x2="269.25877345570626" y2="368.1" stroke="#000" stroke-width="0.8"/>
<line x1="271.3952258517082" y1="366.3" x2="271.3952258517082" y2="368.1" stroke="#000" stroke-width="0.8"/>
<line x1="273.05238707414594" y1="366.3" x2="273.05238707414594" y2="368.1" stroke="#000" stroke-width="0.8"/>
<line x1="274.4063863815603" y1="366.3" x2="274.4063863815603" y2="368.1" stroke="#000" stroke-width="0.8"/>
<line x1="275.5511764842438" y1="366.3" x2="275.5511764842438" y2="368.1" stroke="#000" stroke-width="0.8"/>
<line x1="276.5428387775623" y1="366.3" x2="276.5428387775623" y2="368.1" stroke="#000" stroke-width="0.8"/>
<line x1="277.4175469114125" y1="366.3" x2="277.4175469114125" y2="368.1" stroke="#000" stroke-width="0.8"/>
<text x="259.8" y="382.2" font-size="8.6" text-anchor="middle" fill="#000" stroke="#000" stroke-width="0.18" textLength="9.5" lengthAdjust="spacingAndGlyphs" >10</text>
<text x="264.6" y="378.9" font-size="6.2" text-anchor="start" fill="#000" stroke="#000" stroke-width="0.18" >2</text>
<line x1="278.2" y1="366.3" x2="278.2" y2="369.5" stroke="#000" stroke-width="1.1"/>
<line x1="283.3476129258541" y1="366.3" x2="283.3476129258541" y2="368.1" stroke="#000" stroke-width="0.8"/>
<line x1="286.3587734557062" y1="366.3" x2="286.3587734557062" y2="368.1" stroke="#000" stroke-width="0.8"/>
<line x1="288.49522585170814" y1="366.3" x2="288.49522585170814" y2="368.1" stroke="#000" stroke-width="0.8"/>
<line x1="290.1523870741459" y1="366.3" x2="290.1523870741459" y2="368.1" stroke="#000" stroke-width="0.8"/>
<line x1="291.5063863815603" y1="366.3" x2="291.5063863815603" y2="368.1" stroke="#000" stroke-width="0.8"/>
<line x1="292.65117648424376" y1="366.3" x2="292.65117648424376" y2="368.1" stroke="#000" stroke-width="0.8"/>
<line x1="293.64283877756225" y1="366.3" x2="293.64283877756225" y2="368.1" stroke="#000" stroke-width="0.8"/>
<line x1="294.51754691141247" y1="366.3" x2="294.51754691141247" y2="368.1" stroke="#000" stroke-width="0.8"/>
<text x="276.9" y="382.2" font-size="8.6" text-anchor="middle" fill="#000" stroke="#000" stroke-width="0.18" textLength="9.5" lengthAdjust="spacingAndGlyphs" >10</text>
<text x="281.7" y="378.9" font-size="6.2" text-anchor="start" fill="#000" stroke="#000" stroke-width="0.18" >3</text>
<line x1="295.3" y1="366.3" x2="295.3" y2="369.5" stroke="#000" stroke-width="1.1"/>
<line x1="300.4476129258541" y1="366.3" x2="300.4476129258541" y2="368.1" stroke="#000" stroke-width="0.8"/>
<line x1="303.45877345570625" y1="366.3" x2="303.45877345570625" y2="368.1" stroke="#000" stroke-width="0.8"/>
<line x1="305.59522585170816" y1="366.3" x2="305.59522585170816" y2="368.1" stroke="#000" stroke-width="0.8"/>
<line x1="307.25238707414593" y1="366.3" x2="307.25238707414593" y2="368.1" stroke="#000" stroke-width="0.8"/>
<line x1="308.6063863815603" y1="366.3" x2="308.6063863815603" y2="368.1" stroke="#000" stroke-width="0.8"/>
<line x1="309.7511764842438" y1="366.3" x2="309.7511764842438" y2="368.1" stroke="#000" stroke-width="0.8"/>
<line x1="310.74283877756227" y1="366.3" x2="310.74283877756227" y2="368.1" stroke="#000" stroke-width="0.8"/>
<line x1="311.6175469114125" y1="366.3" x2="311.6175469114125" y2="368.1" stroke="#000" stroke-width="0.8"/>
<text x="294.0" y="382.2" font-size="8.6" text-anchor="middle" fill="#000" stroke="#000" stroke-width="0.18" textLength="9.5" lengthAdjust="spacingAndGlyphs" >10</text>
<text x="298.8" y="378.9" font-size="6.2" text-anchor="start" fill="#000" stroke="#000" stroke-width="0.18" >4</text>
<line x1="312.4" y1="366.3" x2="312.4" y2="369.5" stroke="#000" stroke-width="1.1"/>
<line x1="317.5476129258541" y1="366.3" x2="317.5476129258541" y2="368.1" stroke="#000" stroke-width="0.8"/>
<line x1="320.5587734557062" y1="366.3" x2="320.5587734557062" y2="368.1" stroke="#000" stroke-width="0.8"/>
<line x1="322.69522585170813" y1="366.3" x2="322.69522585170813" y2="368.1" stroke="#000" stroke-width="0.8"/>
<line x1="324.3523870741459" y1="366.3" x2="324.3523870741459" y2="368.1" stroke="#000" stroke-width="0.8"/>
<line x1="325.70638638156026" y1="366.3" x2="325.70638638156026" y2="368.1" stroke="#000" stroke-width="0.8"/>
<line x1="326.85117648424375" y1="366.3" x2="326.85117648424375" y2="368.1" stroke="#000" stroke-width="0.8"/>
<line x1="327.84283877756224" y1="366.3" x2="327.84283877756224" y2="368.1" stroke="#000" stroke-width="0.8"/>
<line x1="328.71754691141246" y1="366.3" x2="328.71754691141246" y2="368.1" stroke="#000" stroke-width="0.8"/>
<text x="311.09999999999997" y="382.2" font-size="8.6" text-anchor="middle" fill="#000" stroke="#000" stroke-width="0.18" textLength="9.5" lengthAdjust="spacingAndGlyphs" >10</text>
<text x="315.9" y="378.9" font-size="6.2" text-anchor="start" fill="#000" stroke="#000" stroke-width="0.18" >5</text>
<line x1="329.5" y1="366.3" x2="329.5" y2="369.5" stroke="#000" stroke-width="1.1"/>
<line x1="334.6476129258541" y1="366.3" x2="334.6476129258541" y2="368.1" stroke="#000" stroke-width="0.8"/>
<line x1="337.65877345570624" y1="366.3" x2="337.65877345570624" y2="368.1" stroke="#000" stroke-width="0.8"/>
<line x1="339.79522585170815" y1="366.3" x2="339.79522585170815" y2="368.1" stroke="#000" stroke-width="0.8"/>
<line x1="341.4523870741459" y1="366.3" x2="341.4523870741459" y2="368.1" stroke="#000" stroke-width="0.8"/>
<line x1="342.8063863815603" y1="366.3" x2="342.8063863815603" y2="368.1" stroke="#000" stroke-width="0.8"/>
<line x1="343.9511764842438" y1="366.3" x2="343.9511764842438" y2="368.1" stroke="#000" stroke-width="0.8"/>
<line x1="344.94283877756226" y1="366.3" x2="344.94283877756226" y2="368.1" stroke="#000" stroke-width="0.8"/>
<line x1="345.8175469114125" y1="366.3" x2="345.8175469114125" y2="368.1" stroke="#000" stroke-width="0.8"/>
<text x="328.2" y="382.2" font-size="8.6" text-anchor="middle" fill="#000" stroke="#000" stroke-width="0.18" textLength="9.5" lengthAdjust="spacingAndGlyphs" >10</text>
<text x="333.0" y="378.9" font-size="6.2" text-anchor="start" fill="#000" stroke="#000" stroke-width="0.18" >6</text>
<line x1="346.6" y1="366.3" x2="346.6" y2="369.5" stroke="#000" stroke-width="1.1"/>
<text x="345.3" y="382.2" font-size="8.6" text-anchor="middle" fill="#000" stroke="#000" stroke-width="0.18" textLength="9.5" lengthAdjust="spacingAndGlyphs" >10</text>
<text x="350.1" y="378.9" font-size="6.2" text-anchor="start" fill="#000" stroke="#000" stroke-width="0.18" textLength="6.8" lengthAdjust="spacingAndGlyphs" >7.2</text>
<text x="297.4" y="399" font-size="10.7" text-anchor="middle" fill="#000" font-weight="bold" textLength="23.7" lengthAdjust="spacingAndGlyphs" >APC-H</text>
<text x="248.3" y="306.3" font-size="7.1" text-anchor="start" fill="#111" stroke="#111" stroke-width="0.18" >Vehicle</text>
<text x="248.3" y="331.9" font-size="7.1" text-anchor="start" fill="#111" stroke="#111" stroke-width="0.18" >Aza/Pano</text>
<text x="248.3" y="357.1" font-size="7.1" text-anchor="start" fill="#111" stroke="#111" stroke-width="0.18" >Isotype</text>
<text x="409.2" y="252.8" font-size="11.7" text-anchor="start" fill="#000" stroke="#000" stroke-width="0.18" textLength="94.5" lengthAdjust="spacingAndGlyphs" >Surface BM CD81</text>
<text x="393.8" y="369.40000000000003" font-size="8.8" text-anchor="end" fill="#000" stroke="#000" stroke-width="0.18" textLength="4.9" lengthAdjust="spacingAndGlyphs" >0</text>
<line x1="398.7" y1="366.3" x2="403" y2="366.3" stroke="#000" stroke-width="1.1"/>
<text x="393.8" y="350.20000000000005" font-size="8.8" text-anchor="end" fill="#000" stroke="#000" stroke-width="0.18" textLength="9.7" lengthAdjust="spacingAndGlyphs" >20</text>
<line x1="398.7" y1="347.1" x2="403" y2="347.1" stroke="#000" stroke-width="1.1"/>
<text x="393.8" y="331.00000000000006" font-size="8.8" text-anchor="end" fill="#000" stroke="#000" stroke-width="0.18" textLength="9.7" lengthAdjust="spacingAndGlyphs" >40</text>
<line x1="398.7" y1="327.90000000000003" x2="403" y2="327.90000000000003" stroke="#000" stroke-width="1.1"/>
<text x="393.8" y="311.80000000000007" font-size="8.8" text-anchor="end" fill="#000" stroke="#000" stroke-width="0.18" textLength="9.7" lengthAdjust="spacingAndGlyphs" >60</text>
<line x1="398.7" y1="308.70000000000005" x2="403" y2="308.70000000000005" stroke="#000" stroke-width="1.1"/>
<text x="393.8" y="292.6" font-size="8.8" text-anchor="end" fill="#000" stroke="#000" stroke-width="0.18" textLength="9.7" lengthAdjust="spacingAndGlyphs" >80</text>
<line x1="398.7" y1="289.5" x2="403" y2="289.5" stroke="#000" stroke-width="1.1"/>
<text x="393.8" y="273.40000000000003" font-size="8.8" text-anchor="end" fill="#000" stroke="#000" stroke-width="0.18" textLength="14.4" lengthAdjust="spacingAndGlyphs" >100</text>
<line x1="398.7" y1="270.3" x2="403" y2="270.3" stroke="#000" stroke-width="1.1"/>
<line x1="400.7" y1="362.46000000000004" x2="403" y2="362.46000000000004" stroke="#000" stroke-width="0.9"/>
<line x1="400.7" y1="358.62" x2="403" y2="358.62" stroke="#000" stroke-width="0.9"/>
<line x1="400.7" y1="354.78000000000003" x2="403" y2="354.78000000000003" stroke="#000" stroke-width="0.9"/>
<line x1="400.7" y1="350.94" x2="403" y2="350.94" stroke="#000" stroke-width="0.9"/>
<line x1="400.7" y1="343.26" x2="403" y2="343.26" stroke="#000" stroke-width="0.9"/>
<line x1="400.7" y1="339.42" x2="403" y2="339.42" stroke="#000" stroke-width="0.9"/>
<line x1="400.7" y1="335.58000000000004" x2="403" y2="335.58000000000004" stroke="#000" stroke-width="0.9"/>
<line x1="400.7" y1="331.74" x2="403" y2="331.74" stroke="#000" stroke-width="0.9"/>
<line x1="400.7" y1="324.06" x2="403" y2="324.06" stroke="#000" stroke-width="0.9"/>
<line x1="400.7" y1="320.22" x2="403" y2="320.22" stroke="#000" stroke-width="0.9"/>
<line x1="400.7" y1="316.38" x2="403" y2="316.38" stroke="#000" stroke-width="0.9"/>
<line x1="400.7" y1="312.54" x2="403" y2="312.54" stroke="#000" stroke-width="0.9"/>
<line x1="400.7" y1="304.86" x2="403" y2="304.86" stroke="#000" stroke-width="0.9"/>
<line x1="400.7" y1="301.02" x2="403" y2="301.02" stroke="#000" stroke-width="0.9"/>
<line x1="400.7" y1="297.18" x2="403" y2="297.18" stroke="#000" stroke-width="0.9"/>
<line x1="400.7" y1="293.34000000000003" x2="403" y2="293.34000000000003" stroke="#000" stroke-width="0.9"/>
<line x1="400.7" y1="285.66" x2="403" y2="285.66" stroke="#000" stroke-width="0.9"/>
<line x1="400.7" y1="281.82000000000005" x2="403" y2="281.82000000000005" stroke="#000" stroke-width="0.9"/>
<line x1="400.7" y1="277.98" x2="403" y2="277.98" stroke="#000" stroke-width="0.9"/>
<line x1="400.7" y1="274.14" x2="403" y2="274.14" stroke="#000" stroke-width="0.9"/>
<line x1="400.7" y1="266.46000000000004" x2="403" y2="266.46000000000004" stroke="#000" stroke-width="0.9"/>
<line x1="400.7" y1="262.62" x2="403" y2="262.62" stroke="#000" stroke-width="0.9"/>
<text transform="translate(372.0,313.3) rotate(-90)" x="0" y="0" font-size="12.3" text-anchor="middle" fill="#000" font-weight="bold" textLength="37.8" lengthAdjust="spacingAndGlyphs" >Count (%)</text>
<path d="M433.20,366.20 C433.33,366.17 433.71,366.12 433.96,366.04 C434.21,365.96 434.46,365.87 434.72,365.70 C434.97,365.52 435.22,365.33 435.47,365.00 C435.73,364.67 435.98,364.30 436.23,363.71 C436.49,363.13 436.74,362.45 436.99,361.50 C437.24,360.55 437.50,359.43 437.75,358.02 C438.00,356.61 438.26,354.95 438.51,353.04 C438.76,351.13 439.01,348.91 439.27,346.57 C439.52,344.23 439.77,341.56 440.02,339.00 C440.28,336.44 440.53,333.65 440.78,331.21 C441.04,328.78 441.29,326.29 441.54,324.39 C441.79,322.48 442.05,320.79 442.30,319.78 C442.55,318.76 442.81,318.11 443.06,318.31 C443.31,318.52 443.56,319.45 443.82,321.00 C444.07,322.55 444.32,325.04 444.57,327.60 C444.83,330.16 445.08,333.42 445.33,336.38 C445.59,339.34 445.84,342.59 446.09,345.36 C446.34,348.14 446.60,350.82 446.85,353.04 C447.10,355.27 447.36,357.15 447.61,358.70 C447.86,360.26 448.11,361.40 448.37,362.36 C448.62,363.32 448.87,363.93 449.12,364.45 C449.38,364.98 449.63,365.26 449.88,365.51 C450.14,365.77 450.39,365.88 450.64,366.00 C450.89,366.11 451.27,366.16 451.40,366.20 Z" fill="#E8E8EE" stroke="#A2A2B6" stroke-width="1"/>
<path d="M448.00,313.30 C448.33,313.28 449.33,313.37 450.00,313.20 C450.67,313.03 451.33,312.33 452.00,312.30 C452.67,312.27 452.83,312.92 454.00,313.00 C455.17,313.08 457.83,313.13 459.00,312.80 C460.17,312.47 460.33,312.30 461.00,311.00 C461.67,309.70 462.33,308.50 463.00,305.00 C463.67,301.50 464.33,295.50 465.00,290.00 C465.67,284.50 466.42,276.00 467.00,272.00 C467.58,268.00 468.08,267.13 468.50,266.00 C468.92,264.87 469.08,264.87 469.50,265.20 C469.92,265.53 470.50,265.53 471.00,268.00 C471.50,270.47 472.00,275.00 472.50,280.00 C473.00,285.00 473.50,293.17 474.00,298.00 C474.50,302.83 475.00,306.58 475.50,309.00 C476.00,311.42 476.42,311.78 477.00,312.50 C477.58,313.22 478.67,313.17 479.00,313.30 Z" fill="#EDB055" fill-opacity="0.75"/>
<path d="M450.00,339.80 C450.33,339.80 451.25,340.02 452.00,339.80 C452.75,339.58 453.83,338.92 454.50,338.50 C455.17,338.08 455.33,337.55 456.00,337.30 C456.67,337.05 457.83,337.38 458.50,337.00 C459.17,336.62 459.50,337.00 460.00,335.00 C460.50,333.00 461.00,329.17 461.50,325.00 C462.00,320.83 462.50,314.67 463.00,310.00 C463.50,305.33 464.00,300.12 464.50,297.00 C465.00,293.88 465.55,292.13 466.00,291.30 C466.45,290.47 466.78,290.55 467.20,292.00 C467.62,293.45 468.12,295.67 468.50,300.00 C468.88,304.33 469.17,313.00 469.50,318.00 C469.83,323.00 470.17,327.42 470.50,330.00 C470.83,332.58 471.08,332.75 471.50,333.50 C471.92,334.25 472.50,333.83 473.00,334.50 C473.50,335.17 474.00,336.65 474.50,337.50 C475.00,338.35 475.42,339.22 476.00,339.60 C476.58,339.98 477.67,339.77 478.00,339.80 Z" fill="#D98C8C" fill-opacity="0.4"/>
<path d="M403,313.3 L448,313.3 C448.33,313.28 449.33,313.37 450.00,313.20 C450.67,313.03 451.33,312.33 452.00,312.30 C452.67,312.27 452.83,312.92 454.00,313.00 C455.17,313.08 457.83,313.13 459.00,312.80 C460.17,312.47 460.33,312.30 461.00,311.00 C461.67,309.70 462.33,308.50 463.00,305.00 C463.67,301.50 464.33,295.50 465.00,290.00 C465.67,284.50 466.42,276.00 467.00,272.00 C467.58,268.00 468.08,267.13 468.50,266.00 C468.92,264.87 469.08,264.87 469.50,265.20 C469.92,265.53 470.50,265.53 471.00,268.00 C471.50,270.47 472.00,275.00 472.50,280.00 C473.00,285.00 473.50,293.17 474.00,298.00 C474.50,302.83 475.00,306.58 475.50,309.00 C476.00,311.42 476.42,311.78 477.00,312.50 C477.58,313.22 478.67,313.17 479.00,313.30 L509.4,313.3" fill="none" stroke="#E69A2C" stroke-width="1.3"/>
<path d="M403,339.8 L450,339.8 C450.33,339.80 451.25,340.02 452.00,339.80 C452.75,339.58 453.83,338.92 454.50,338.50 C455.17,338.08 455.33,337.55 456.00,337.30 C456.67,337.05 457.83,337.38 458.50,337.00 C459.17,336.62 459.50,337.00 460.00,335.00 C460.50,333.00 461.00,329.17 461.50,325.00 C462.00,320.83 462.50,314.67 463.00,310.00 C463.50,305.33 464.00,300.12 464.50,297.00 C465.00,293.88 465.55,292.13 466.00,291.30 C466.45,290.47 466.78,290.55 467.20,292.00 C467.62,293.45 468.12,295.67 468.50,300.00 C468.88,304.33 469.17,313.00 469.50,318.00 C469.83,323.00 470.17,327.42 470.50,330.00 C470.83,332.58 471.08,332.75 471.50,333.50 C471.92,334.25 472.50,333.83 473.00,334.50 C473.50,335.17 474.00,336.65 474.50,337.50 C475.00,338.35 475.42,339.22 476.00,339.60 C476.58,339.98 477.67,339.77 478.00,339.80 L509.4,339.8" fill="none" stroke="#B3123C" stroke-width="1.3"/>
<line x1="398.7" y1="260" x2="509.9" y2="260" stroke="#000" stroke-width="1.1"/>
<line x1="509.4" y1="260" x2="509.4" y2="366.3" stroke="#000" stroke-width="1.1"/>
<line x1="403" y1="259.5" x2="403" y2="366.90000000000003" stroke="#000" stroke-width="1.2"/>
<line x1="402.5" y1="366.3" x2="510.0" y2="366.3" stroke="#000" stroke-width="1.3"/>
<line x1="403.0" y1="366.3" x2="403.0" y2="369.5" stroke="#000" stroke-width="1.1"/>
<line x1="408.1476129258541" y1="366.3" x2="408.1476129258541" y2="368.1" stroke="#000" stroke-width="0.8"/>
<line x1="411.15877345570624" y1="366.3" x2="411.15877345570624" y2="368.1" stroke="#000" stroke-width="0.8"/>
<line x1="413.29522585170815" y1="366.3" x2="413.29522585170815" y2="368.1" stroke="#000" stroke-width="0.8"/>
<line x1="414.9523870741459" y1="366.3" x2="414.9523870741459" y2="368.1" stroke="#000" stroke-width="0.8"/>
<line x1="416.3063863815603" y1="366.3" x2="416.3063863815603" y2="368.1" stroke="#000" stroke-width="0.8"/>
<line x1="417.4511764842438" y1="366.3" x2="417.4511764842438" y2="368.1" stroke="#000" stroke-width="0.8"/>
<line x1="418.44283877756226" y1="366.3" x2="418.44283877756226" y2="368.1" stroke="#000" stroke-width="0.8"/>
<line x1="419.3175469114125" y1="366.3" x2="419.3175469114125" y2="368.1" stroke="#000" stroke-width="0.8"/>
<text x="401.7" y="382.2" font-size="8.6" text-anchor="middle" fill="#000" stroke="#000" stroke-width="0.18" textLength="9.5" lengthAdjust="spacingAndGlyphs" >10</text>
<text x="406.5" y="378.9" font-size="6.2" text-anchor="start" fill="#000" stroke="#000" stroke-width="0.18" >1</text>
<line x1="420.1" y1="366.3" x2="420.1" y2="369.5" stroke="#000" stroke-width="1.1"/>
<line x1="425.2476129258541" y1="366.3" x2="425.2476129258541" y2="368.1" stroke="#000" stroke-width="0.8"/>
<line x1="428.25877345570626" y1="366.3" x2="428.25877345570626" y2="368.1" stroke="#000" stroke-width="0.8"/>
<line x1="430.3952258517082" y1="366.3" x2="430.3952258517082" y2="368.1" stroke="#000" stroke-width="0.8"/>
<line x1="432.05238707414594" y1="366.3" x2="432.05238707414594" y2="368.1" stroke="#000" stroke-width="0.8"/>
<line x1="433.4063863815603" y1="366.3" x2="433.4063863815603" y2="368.1" stroke="#000" stroke-width="0.8"/>
<line x1="434.5511764842438" y1="366.3" x2="434.5511764842438" y2="368.1" stroke="#000" stroke-width="0.8"/>
<line x1="435.5428387775623" y1="366.3" x2="435.5428387775623" y2="368.1" stroke="#000" stroke-width="0.8"/>
<line x1="436.4175469114125" y1="366.3" x2="436.4175469114125" y2="368.1" stroke="#000" stroke-width="0.8"/>
<text x="418.8" y="382.2" font-size="8.6" text-anchor="middle" fill="#000" stroke="#000" stroke-width="0.18" textLength="9.5" lengthAdjust="spacingAndGlyphs" >10</text>
<text x="423.6" y="378.9" font-size="6.2" text-anchor="start" fill="#000" stroke="#000" stroke-width="0.18" >2</text>
<line x1="437.2" y1="366.3" x2="437.2" y2="369.5" stroke="#000" stroke-width="1.1"/>
<line x1="442.3476129258541" y1="366.3" x2="442.3476129258541" y2="368.1" stroke="#000" stroke-width="0.8"/>
<line x1="445.3587734557062" y1="366.3" x2="445.3587734557062" y2="368.1" stroke="#000" stroke-width="0.8"/>
<line x1="447.49522585170814" y1="366.3" x2="447.49522585170814" y2="368.1" stroke="#000" stroke-width="0.8"/>
<line x1="449.1523870741459" y1="366.3" x2="449.1523870741459" y2="368.1" stroke="#000" stroke-width="0.8"/>
<line x1="450.5063863815603" y1="366.3" x2="450.5063863815603" y2="368.1" stroke="#000" stroke-width="0.8"/>
<line x1="451.65117648424376" y1="366.3" x2="451.65117648424376" y2="368.1" stroke="#000" stroke-width="0.8"/>
<line x1="452.64283877756225" y1="366.3" x2="452.64283877756225" y2="368.1" stroke="#000" stroke-width="0.8"/>
<line x1="453.51754691141247" y1="366.3" x2="453.51754691141247" y2="368.1" stroke="#000" stroke-width="0.8"/>
<text x="435.9" y="382.2" font-size="8.6" text-anchor="middle" fill="#000" stroke="#000" stroke-width="0.18" textLength="9.5" lengthAdjust="spacingAndGlyphs" >10</text>
<text x="440.7" y="378.9" font-size="6.2" text-anchor="start" fill="#000" stroke="#000" stroke-width="0.18" >3</text>
<line x1="454.3" y1="366.3" x2="454.3" y2="369.5" stroke="#000" stroke-width="1.1"/>
<line x1="459.4476129258541" y1="366.3" x2="459.4476129258541" y2="368.1" stroke="#000" stroke-width="0.8"/>
<line x1="462.45877345570625" y1="366.3" x2="462.45877345570625" y2="368.1" stroke="#000" stroke-width="0.8"/>
<line x1="464.59522585170816" y1="366.3" x2="464.59522585170816" y2="368.1" stroke="#000" stroke-width="0.8"/>
<line x1="466.25238707414593" y1="366.3" x2="466.25238707414593" y2="368.1" stroke="#000" stroke-width="0.8"/>
<line x1="467.6063863815603" y1="366.3" x2="467.6063863815603" y2="368.1" stroke="#000" stroke-width="0.8"/>
<line x1="468.7511764842438" y1="366.3" x2="468.7511764842438" y2="368.1" stroke="#000" stroke-width="0.8"/>
<line x1="469.74283877756227" y1="366.3" x2="469.74283877756227" y2="368.1" stroke="#000" stroke-width="0.8"/>
<line x1="470.6175469114125" y1="366.3" x2="470.6175469114125" y2="368.1" stroke="#000" stroke-width="0.8"/>
<text x="453.0" y="382.2" font-size="8.6" text-anchor="middle" fill="#000" stroke="#000" stroke-width="0.18" textLength="9.5" lengthAdjust="spacingAndGlyphs" >10</text>
<text x="457.8" y="378.9" font-size="6.2" text-anchor="start" fill="#000" stroke="#000" stroke-width="0.18" >4</text>
<line x1="471.4" y1="366.3" x2="471.4" y2="369.5" stroke="#000" stroke-width="1.1"/>
<line x1="476.5476129258541" y1="366.3" x2="476.5476129258541" y2="368.1" stroke="#000" stroke-width="0.8"/>
<line x1="479.5587734557062" y1="366.3" x2="479.5587734557062" y2="368.1" stroke="#000" stroke-width="0.8"/>
<line x1="481.69522585170813" y1="366.3" x2="481.69522585170813" y2="368.1" stroke="#000" stroke-width="0.8"/>
<line x1="483.3523870741459" y1="366.3" x2="483.3523870741459" y2="368.1" stroke="#000" stroke-width="0.8"/>
<line x1="484.70638638156026" y1="366.3" x2="484.70638638156026" y2="368.1" stroke="#000" stroke-width="0.8"/>
<line x1="485.85117648424375" y1="366.3" x2="485.85117648424375" y2="368.1" stroke="#000" stroke-width="0.8"/>
<line x1="486.84283877756224" y1="366.3" x2="486.84283877756224" y2="368.1" stroke="#000" stroke-width="0.8"/>
<line x1="487.71754691141246" y1="366.3" x2="487.71754691141246" y2="368.1" stroke="#000" stroke-width="0.8"/>
<text x="470.09999999999997" y="382.2" font-size="8.6" text-anchor="middle" fill="#000" stroke="#000" stroke-width="0.18" textLength="9.5" lengthAdjust="spacingAndGlyphs" >10</text>
<text x="474.9" y="378.9" font-size="6.2" text-anchor="start" fill="#000" stroke="#000" stroke-width="0.18" >5</text>
<line x1="488.5" y1="366.3" x2="488.5" y2="369.5" stroke="#000" stroke-width="1.1"/>
<line x1="493.6476129258541" y1="366.3" x2="493.6476129258541" y2="368.1" stroke="#000" stroke-width="0.8"/>
<line x1="496.65877345570624" y1="366.3" x2="496.65877345570624" y2="368.1" stroke="#000" stroke-width="0.8"/>
<line x1="498.79522585170815" y1="366.3" x2="498.79522585170815" y2="368.1" stroke="#000" stroke-width="0.8"/>
<line x1="500.4523870741459" y1="366.3" x2="500.4523870741459" y2="368.1" stroke="#000" stroke-width="0.8"/>
<line x1="501.8063863815603" y1="366.3" x2="501.8063863815603" y2="368.1" stroke="#000" stroke-width="0.8"/>
<line x1="502.9511764842438" y1="366.3" x2="502.9511764842438" y2="368.1" stroke="#000" stroke-width="0.8"/>
<line x1="503.94283877756226" y1="366.3" x2="503.94283877756226" y2="368.1" stroke="#000" stroke-width="0.8"/>
<line x1="504.8175469114125" y1="366.3" x2="504.8175469114125" y2="368.1" stroke="#000" stroke-width="0.8"/>
<text x="487.2" y="382.2" font-size="8.6" text-anchor="middle" fill="#000" stroke="#000" stroke-width="0.18" textLength="9.5" lengthAdjust="spacingAndGlyphs" >10</text>
<text x="492.0" y="378.9" font-size="6.2" text-anchor="start" fill="#000" stroke="#000" stroke-width="0.18" >6</text>
<line x1="505.6" y1="366.3" x2="505.6" y2="369.5" stroke="#000" stroke-width="1.1"/>
<text x="504.3" y="382.2" font-size="8.6" text-anchor="middle" fill="#000" stroke="#000" stroke-width="0.18" textLength="9.5" lengthAdjust="spacingAndGlyphs" >10</text>
<text x="509.1" y="378.9" font-size="6.2" text-anchor="start" fill="#000" stroke="#000" stroke-width="0.18" textLength="6.8" lengthAdjust="spacingAndGlyphs" >7.2</text>
<text x="456.4" y="399" font-size="10.7" text-anchor="middle" fill="#000" font-weight="bold" textLength="23.7" lengthAdjust="spacingAndGlyphs" >APC-H</text>
<text x="407.3" y="306.3" font-size="7.1" text-anchor="start" fill="#111" stroke="#111" stroke-width="0.18" >Vehicle</text>
<text x="407.3" y="331.9" font-size="7.1" text-anchor="start" fill="#111" stroke="#111" stroke-width="0.18" >Aza/Pano</text>
<text x="407.3" y="357.1" font-size="7.1" text-anchor="start" fill="#111" stroke="#111" stroke-width="0.18" >Isotype</text>
<text x="10.8" y="437" font-size="16" text-anchor="start" fill="#000" font-weight="bold" >D</text>
<text x="209.6" y="433.3" font-size="11.3" text-anchor="start" fill="#000" stroke="#000" stroke-width="0.18" textLength="36" lengthAdjust="spacingAndGlyphs" >Day 15</text>
<line x1="209.2" y1="434.9" x2="246.2" y2="434.9" stroke="#333" stroke-width="0.9"/>
<text x="97.9" y="448.4" font-size="8.5" text-anchor="middle" fill="#000" stroke="#000" stroke-width="0.18" >AP</text>
<text x="228.7" y="448.5" font-size="8.6" text-anchor="middle" fill="#000" stroke="#000" stroke-width="0.18" >DA</text>
<text x="355.4" y="448.4" font-size="8.3" text-anchor="middle" fill="#000" stroke="#000" stroke-width="0.18" textLength="31.8" lengthAdjust="spacingAndGlyphs" >AP-&gt;DA</text>
<text transform="translate(18.3,497.5) rotate(-90)" x="0" y="0" font-size="8.6" text-anchor="middle" fill="#000" stroke="#000" stroke-width="0.18" >Human</text>
<text transform="translate(29.4,497.7) rotate(-90)" x="0" y="0" font-size="8.8" text-anchor="middle" fill="#000" stroke="#000" stroke-width="0.18" >Mitochondria</text>
<text transform="translate(29.4,571.2) rotate(-90)" x="0" y="0" font-size="8.7" text-anchor="middle" fill="#000" stroke="#000" stroke-width="0.18" >H&amp;E</text>
<text x="11.8" y="654.6" font-size="16" text-anchor="start" fill="#000" font-weight="bold" >E</text>
<text x="155.3" y="650.5" font-size="11.3" text-anchor="start" fill="#000" stroke="#000" stroke-width="0.18" textLength="36.2" lengthAdjust="spacingAndGlyphs" >Day 15</text>
<line x1="155" y1="652.1" x2="192.2" y2="652.1" stroke="#333" stroke-width="0.9"/>
<text x="97.3" y="665.8" font-size="8.6" text-anchor="middle" fill="#000" stroke="#000" stroke-width="0.18" >DA</text>
<text x="249.1" y="665.8" font-size="8.3" text-anchor="middle" fill="#000" stroke="#000" stroke-width="0.18" textLength="31.8" lengthAdjust="spacingAndGlyphs" >AP-&gt;DA</text>
<text transform="translate(18.4,722.2) rotate(-90)" x="0" y="0" font-size="8.6" text-anchor="middle" fill="#000" stroke="#000" stroke-width="0.18" textLength="60.5" lengthAdjust="spacingAndGlyphs" >Anti-human p53</text>
<text x="401.8" y="675.1" font-size="11.45" text-anchor="start" fill="#000" stroke="#000" stroke-width="0.18" textLength="79.6" lengthAdjust="spacingAndGlyphs" >p53 Expression</text>
<text x="374.4" y="769.0" font-size="8.5" text-anchor="end" fill="#000" stroke="#000" stroke-width="0.18" textLength="4.7" lengthAdjust="spacingAndGlyphs" >0</text>
<line x1="378.2" y1="766.0" x2="382.6" y2="766.0" stroke="#000" stroke-width="1.3"/>
<text x="374.4" y="757.685" font-size="8.5" text-anchor="end" fill="#000" stroke="#000" stroke-width="0.18" textLength="9.3" lengthAdjust="spacingAndGlyphs" >25</text>
<line x1="378.2" y1="754.685" x2="382.6" y2="754.685" stroke="#000" stroke-width="1.3"/>
<text x="374.4" y="746.37" font-size="8.5" text-anchor="end" fill="#000" stroke="#000" stroke-width="0.18" textLength="9.3" lengthAdjust="spacingAndGlyphs" >50</text>
<line x1="378.2" y1="743.37" x2="382.6" y2="743.37" stroke="#000" stroke-width="1.3"/>
<text x="374.4" y="735.055" font-size="8.5" text-anchor="end" fill="#000" stroke="#000" stroke-width="0.18" textLength="9.3" lengthAdjust="spacingAndGlyphs" >75</text>
<line x1="378.2" y1="732.055" x2="382.6" y2="732.055" stroke="#000" stroke-width="1.3"/>
<text x="374.4" y="723.74" font-size="8.5" text-anchor="end" fill="#000" stroke="#000" stroke-width="0.18" textLength="14.0" lengthAdjust="spacingAndGlyphs" >100</text>
<line x1="378.2" y1="720.74" x2="382.6" y2="720.74" stroke="#000" stroke-width="1.3"/>
<text x="374.4" y="712.425" font-size="8.5" text-anchor="end" fill="#000" stroke="#000" stroke-width="0.18" textLength="14.0" lengthAdjust="spacingAndGlyphs" >125</text>
<line x1="378.2" y1="709.425" x2="382.6" y2="709.425" stroke="#000" stroke-width="1.3"/>
<text x="374.4" y="701.11" font-size="8.5" text-anchor="end" fill="#000" stroke="#000" stroke-width="0.18" textLength="14.0" lengthAdjust="spacingAndGlyphs" >150</text>
<line x1="378.2" y1="698.11" x2="382.6" y2="698.11" stroke="#000" stroke-width="1.3"/>
<text x="374.4" y="689.795" font-size="8.5" text-anchor="end" fill="#000" stroke="#000" stroke-width="0.18" textLength="14.0" lengthAdjust="spacingAndGlyphs" >175</text>
<line x1="378.2" y1="686.795" x2="382.6" y2="686.795" stroke="#000" stroke-width="1.3"/>
<text transform="translate(351.6,724.2) rotate(-90)" x="0" y="0" font-size="11" text-anchor="middle" fill="#000" font-weight="bold" textLength="69.1" lengthAdjust="spacingAndGlyphs" >ROI mean intensity</text>
<line x1="382.6" y1="682.4" x2="382.6" y2="766.9" stroke="#000" stroke-width="1.6"/>
<line x1="381.8" y1="766.1" x2="501.7" y2="766.1" stroke="#000" stroke-width="1.6"/>
<line x1="412.5" y1="765.7" x2="412.5" y2="770.3" stroke="#000" stroke-width="1.1"/>
<line x1="472.6" y1="765.7" x2="472.6" y2="770.3" stroke="#000" stroke-width="1.1"/>
<path d="M412.6,728.8 V761 M402,728.8 H423.2 M402,761 H423.2" stroke="#000" stroke-width="1.2" fill="none" />
<rect x="392.8" y="740.1" width="39.8" height="6.3" fill="#A5173B" />
<line x1="392.8" y1="743.2" x2="432.6" y2="743.2" stroke="#000" stroke-width="2.0"/>
<path d="M472.2,697.7 V743.8 M461.5,697.7 H482.7 M461.5,743.8 H482.7" stroke="#000" stroke-width="1.2" fill="none" />
<rect x="452.7" y="724.4" width="39.8" height="12.2" fill="#2B4C85" />
<line x1="452.7" y1="731.0" x2="492.5" y2="731.0" stroke="#000" stroke-width="2.0"/>
<path d="M412.2,724.4 V686.4 H472.5 V688.8" stroke="#000" stroke-width="1.1" fill="none" />
<circle cx="442.5" cy="682.6" r="0.6" fill="#000"/>
<text x="413.3" y="782.1" font-size="8.3" text-anchor="middle" fill="#000" stroke="#000" stroke-width="0.18" >DA</text>
<text x="472.5" y="782.1" font-size="8.3" text-anchor="middle" fill="#000" stroke="#000" stroke-width="0.18" textLength="30.7" lengthAdjust="spacingAndGlyphs" >AP-&gt;DA</text>
<rect x="0.6" y="0.65" width="518.75" height="790.6" fill="none" stroke="#000" stroke-width="1.3"/>
</svg></body></html>
